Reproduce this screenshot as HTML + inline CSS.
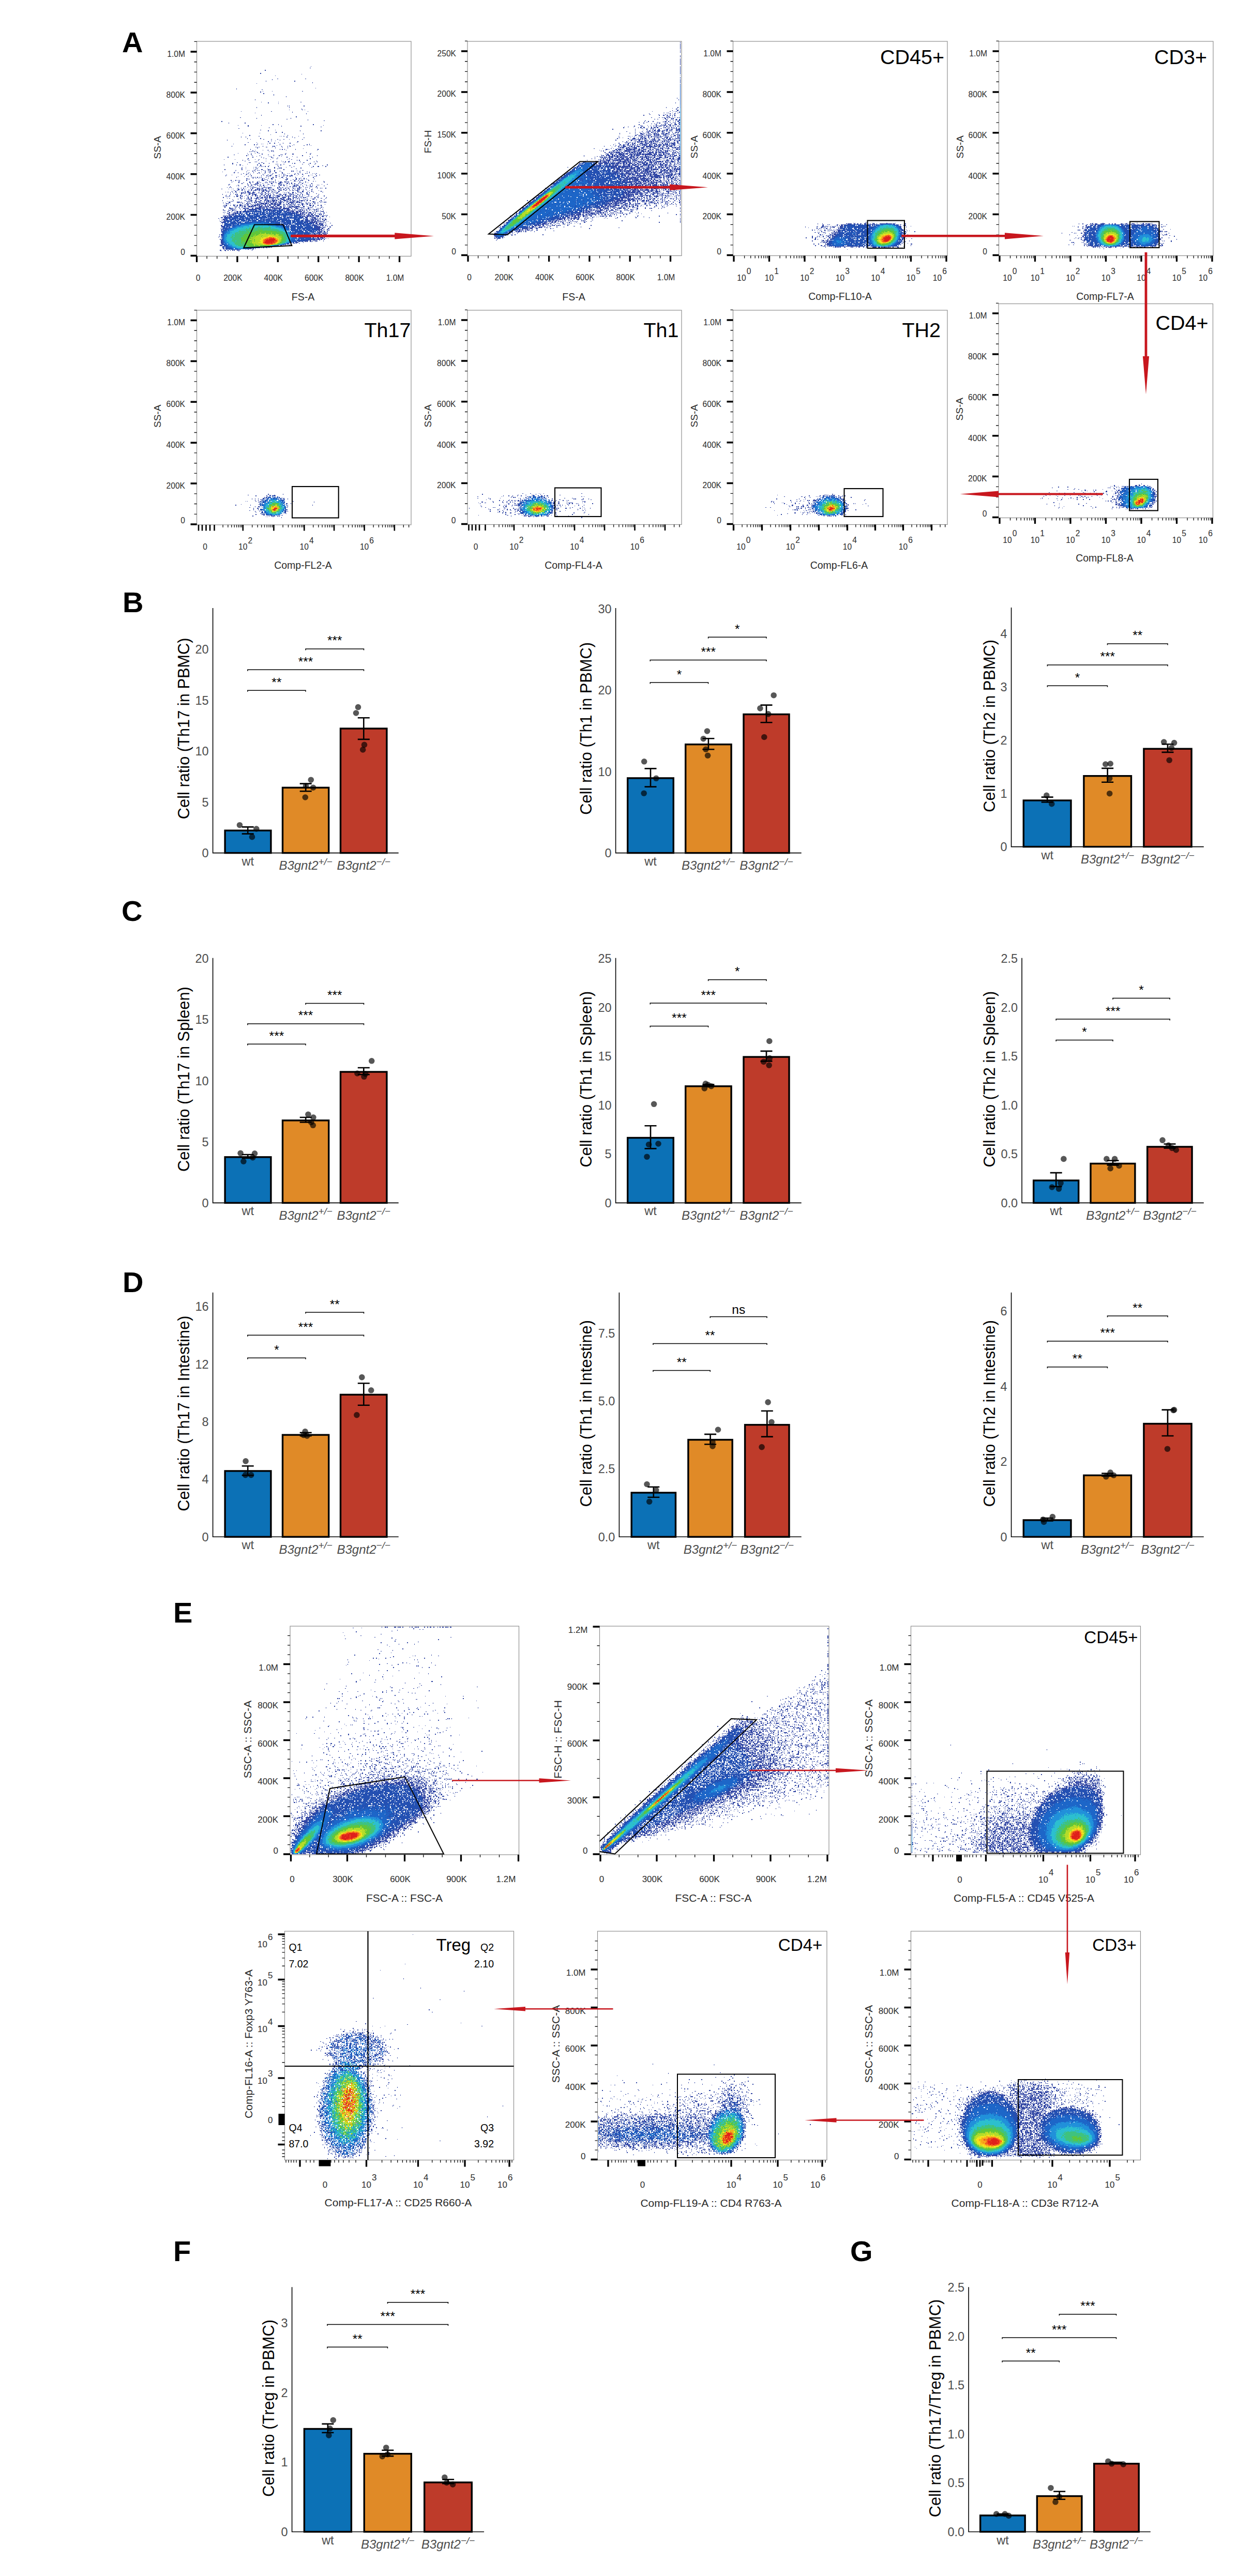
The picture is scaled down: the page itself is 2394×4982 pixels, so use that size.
<!DOCTYPE html>
<html lang="en"><head><meta charset="utf-8"><title>Figure</title>
<style>html,body{margin:0;padding:0;background:#fff}svg{display:block}</style></head>
<body>
<svg width="2394" height="4982" viewBox="0 0 2394 4982" font-family='"Liberation Sans", sans-serif' fill="#2b2b2b">
<rect width="2394" height="4982" fill="#fff"/>
<rect x="380.5" y="80" width="414.5" height="415.5" fill="#fff" stroke="#8c8c8c" stroke-width="1.15"/>
<g transform="translate(381.5 81.75) scale(1.5)" fill="none" stroke-width="1" shape-rendering="crispEdges"><path d="M146 31h1M145 33h1M87 36h1M81 40h1M134 41h1M100 43h1M103 47h1m35 0h1M96 48h1M88 50h1m36 0h1M148 52h1M76 53h1M152 59h1M50 60h1M83 61h1M84 63h1m11 0h1m38 0h1M81 64h1M85 66h1M98 67h1M98 68h1M114 70h1M74 74h1M82 77h1m21 0h1m28 0h1M91 78h1M104 79h1M116 82h1m1 0h1m18 0h1M76 84h1m41 0h1M134 86h1M118 87h1m16 0h1m2 0h1M56 89h1m38 0h1m46 0h1M122 90h1M74 91h1M140 92h1M82 94h1M127 96h1M55 97h1M76 98h1m43 0h1M115 99h1M142 100h1M163 101h1M31 102h1M40 104h1m20 0h1M97 106h1m6 0h1m44 0h1M52 107h1m12 0h1m16 0h1m79 0h1M65 108h1m42 0h1m24 0h1M159 109h1M92 110h1M53 111h1M81 113h1m18 0h1M91 114h1m40 0h1m26 0h1M101 116h1m7 0h1M58 117h1m21 0h1M112 118h1m23 0h1M94 119h1M67 120h1m48 0h1M79 121h1m26 0h1m1 0h1m2 0h1m18 0h1M56 122h1m5 0h1m52 0h1m6 0h1M125 123h1m11 0h1M64 124h1m16 0h1M68 125h1m16 0h1m9 0h1m7 0h1m7 0h1m6 0h1m16 0h1M38 126h1m67 0h1M95 127h1m4 0h1M91 128h1m37 0h1M65 129h1m10 0h1m27 0h1m23 0h1M93 130h1m5 0h1m10 0h1m8 0h1M46 131h1m30 0h1m4 0h1m1 0h1m5 0h1m15 0h1m37 0h1M61 132h1m11 0h1m2 0h1m29 0h1m17 0h1m16 0h1m2 0h1M102 133h1m15 0h1m3 0h1m14 0h1m8 0h1M44 134h1m39 0h1m12 0h1m1 0h1m8 0h1m7 0h1m2 0h1M75 135h1m3 0h1m8 0h2m6 0h1m12 0h1M77 136h1m22 0h1m15 0h1M136 137h1M68 138h1m37 0h1m2 0h1m2 0h1m13 0h1m28 0h1M74 139h1m9 0h1m5 0h2m22 0h1m39 0h1M71 140h1m23 0h1m1 0h1M67 141h1m1 0h1m3 0h2m1 0h1m15 0h1m5 0h1M77 142h1m62 0h1M52 143h1m11 0h1m9 0h1m4 0h1m34 0h1m31 0h1M69 144h1m13 0h1m29 0h1m8 0h2m21 0h1M47 145h1m17 0h1m25 0h1m6 0h1m8 0h3M63 146h1m6 0h1m9 0h1m17 0h1m6 0h1m29 0h1m18 0h1M76 147h1m15 0h1m1 0h1m13 0h1m13 0h1m21 0h1M39 148h1m31 0h1m10 0h1m12 0h1m19 0h1m12 0h1m19 0h1M85 149h1m10 0h2m5 0h1M65 150h1m22 0h1m13 0h1m15 0h1m26 0h1M34 151h1m13 0h1m15 0h1m9 0h1m4 0h1m14 0h1m21 0h1m4 0h1M58 152h1m7 0h1m11 0h1m49 0h1m2 0h1m9 0h1M61 153h1m26 0h1m9 0h1m9 0h1m9 0h1m34 0h1M74 154h1m1 0h1m20 0h1m4 0h1m7 0h1m2 0h1m3 0h2m13 0h1m17 0h1m3 0h1M51 155h1m14 0h3m13 0h2m28 0h1m23 0h2M45 156h1m33 0h1m5 0h1m6 0h1m29 0h1m2 0h1m19 0h1m6 0h1M45 157h1m18 0h1m36 0h1m1 0h1m7 0h1m23 0h1m7 0h1m7 0h1M34 158h1m15 0h1m3 0h2m21 0h1m3 0h1m25 0h1m59 0h1M58 159h1m22 0h2m9 0h1m10 0h1m14 0h2m24 0h1m16 0h1M80 160h1m1 0h1m1 0h1m2 0h1m3 0h1m12 0h1m19 0h1m24 0h1m5 0h2m8 0h1M62 161h1m9 0h1m1 0h3m1 0h1m20 0h1m14 0h1m6 0h1m25 0h1M57 162h1m41 0h1m5 0h1m1 0h2m24 0h1M56 163h1m5 0h1m9 0h1m2 0h3m12 0h1m12 0h1m23 0h1M35 164h1m21 0h1m16 0h1m7 0h2m7 0h1m1 0h1m17 0h1M49 165h1m14 0h1m1 0h1m6 0h1m3 0h1m1 0h1m5 0h1m5 0h1m7 0h1m28 0h1m6 0h2M71 166h1m2 0h1m12 0h1m5 0h2m4 0h1m6 0h1m14 0h1m1 0h1m8 0h1M32 167h1m15 0h1m14 0h1m18 0h1m8 0h1m16 0h1m19 0h1m2 0h1m9 0h1m2 0h1M47 168h1m4 0h1m13 0h1m5 0h1m6 0h1m7 0h1m5 0h1m6 0h2m7 0h1m22 0h1m11 0h1M59 169h1m5 0h1m11 0h1m2 0h1m5 0h1m10 0h1m11 0h1m6 0h1m1 0h1m7 0h1m2 0h1m9 0h1m1 0h1m6 0h1m1 0h1m2 0h1M56 170h1m6 0h1m4 0h1m15 0h1m11 0h1m14 0h1m13 0h1m4 0h1m4 0h1m16 0h1M37 171h1m6 0h1m17 0h1m3 0h1m18 0h1m4 0h2m2 0h2m9 0h1m2 0h1m4 0h1m7 0h1m6 0h1m7 0h1m9 0h1m1 0h1m8 0h1M36 172h1m32 0h1m12 0h1m6 0h1m3 0h2m5 0h3m8 0h1m3 0h2m2 0h1m1 0h2m20 0h1m9 0h1M52 173h1m7 0h1m4 0h1m25 0h1m13 0h1m4 0h1m8 0h1m15 0h1m15 0h1M50 174h1m19 0h1m1 0h1m1 0h1m2 0h1m2 0h1m1 0h1m5 0h1m8 0h1m3 0h1m6 0h2m4 0h1m11 0h1m22 0h1M71 175h2m2 0h1m2 0h1m1 0h1m3 0h1m6 0h1m3 0h1m1 0h1m8 0h1m3 0h1m3 0h1m12 0h1m5 0h1m3 0h1M63 176h2m1 0h1m16 0h2m1 0h1m8 0h2m18 0h2m10 0h1m3 0h1m5 0h1m2 0h1m9 0h1M66 177h1m16 0h1m3 0h1m1 0h1m6 0h1m3 0h1m12 0h3m7 0h1m2 0h2m6 0h1m7 0h1M43 178h1m5 0h1m2 0h1m1 0h1m8 0h1m19 0h3m4 0h1m9 0h1m13 0h1m5 0h1m4 0h1m4 0h1m2 0h1m1 0h1m7 0h1M46 179h1m7 0h1m24 0h1m12 0h1m2 0h1m8 0h1m7 0h1m11 0h3m1 0h1m2 0h1m17 0h1m2 0h1m9 0h1M44 180h1m8 0h1m13 0h1m3 0h1m5 0h1m10 0h1m4 0h1m3 0h2m1 0h1m5 0h3m3 0h2m1 0h1m1 0h1m14 0h1m6 0h1m23 0h1M53 181h1m5 0h1m7 0h2m7 0h2m1 0h1m1 0h1m5 0h1m1 0h2m4 0h1m5 0h1m3 0h3m1 0h1m11 0h1m9 0h2m1 0h1m1 0h1m5 0h1M57 182h1m6 0h1m3 0h1m6 0h1m1 0h2m5 0h1m10 0h2m7 0h2m1 0h1m7 0h2m1 0h1m2 0h1m3 0h1m4 0h1m4 0h1m11 0h1M40 183h2m22 0h1m7 0h5m3 0h1m9 0h3m12 0h1m2 0h1m1 0h1m3 0h1m3 0h1m3 0h1m10 0h1m4 0h1m21 0h1m6 0h1M40 184h1m11 0h1m12 0h1m3 0h2m3 0h1m2 0h1m3 0h1m3 0h1m10 0h1m7 0h1m1 0h3m2 0h1m12 0h2m1 0h3m10 0h1m4 0h1m2 0h1m5 0h1m1 0h1M50 185h1m1 0h2m25 0h1m4 0h2m2 0h1m1 0h1m3 0h1m1 0h1m1 0h2m11 0h2m2 0h1m7 0h1m1 0h1m4 0h1m1 0h1m2 0h1m4 0h1m1 0h1m20 0h1M42 186h1m18 0h1m4 0h1m1 0h1m1 0h1m1 0h1m7 0h1m1 0h1m3 0h1m18 0h1m13 0h1m3 0h1m1 0h1m1 0h1m3 0h1m4 0h1m8 0h1m1 0h1m5 0h1M38 187h1m2 0h1m1 0h1m20 0h1m5 0h1m1 0h4m9 0h3m1 0h1m1 0h5m7 0h1m1 0h2m2 0h2m4 0h1m6 0h1m8 0h1m1 0h1m5 0h1m1 0h1m10 0h1m1 0h1M52 188h1m3 0h1m2 0h1m8 0h1m1 0h2m5 0h1m1 0h1m3 0h2m3 0h1m2 0h1m1 0h1m9 0h1m3 0h1m5 0h1m3 0h1m5 0h1m5 0h1m1 0h2m11 0h1m9 0h1m3 0h1m1 0h1m4 0h1M31 189h1m8 0h1m3 0h1m1 0h1m4 0h1m1 0h1m8 0h1m13 0h2m1 0h1m1 0h2m1 0h1m3 0h1m2 0h1m3 0h2m1 0h1m5 0h2m2 0h1m1 0h2m3 0h1m2 0h1m5 0h3m2 0h2m3 0h1m4 0h1m8 0h1M52 190h2m3 0h2m1 0h1m5 0h1m2 0h2m3 0h2m1 0h1m1 0h2m2 0h1m1 0h1m1 0h2m4 0h1m3 0h2m6 0h1m1 0h1m3 0h1m2 0h1m3 0h1m3 0h1m6 0h1m1 0h1m4 0h1m3 0h1m6 0h1M47 191h1m3 0h1m5 0h1m8 0h1m2 0h1m2 0h4m3 0h2m1 0h1m1 0h2m1 0h3m2 0h1m2 0h1m3 0h2m6 0h2m4 0h2m4 0h1m2 0h3m1 0h4m6 0h1m7 0h1m11 0h1M44 192h1m4 0h1m11 0h1m2 0h2m6 0h1m10 0h3m3 0h1m1 0h2m3 0h1m7 0h2m23 0h1m5 0h2m5 0h1m4 0h1m11 0h1M36 193h1m2 0h1m5 0h1m2 0h2m4 0h1m3 0h1m5 0h5m2 0h2m1 0h1m4 0h2m6 0h1m7 0h7m2 0h1m5 0h1m5 0h1m1 0h1m3 0h2m5 0h4m2 0h2m7 0h1m4 0h1m11 0h1M42 194h1m7 0h1m5 0h2m1 0h1m1 0h2m2 0h1m1 0h1m3 0h3m4 0h1m3 0h2m3 0h1m3 0h1m10 0h2m8 0h1m1 0h1m2 0h1m4 0h2m2 0h1m6 0h1m6 0h2m2 0h1M46 195h1m9 0h2m2 0h1m5 0h6m4 0h1m3 0h2m2 0h1m3 0h2m3 0h1m3 0h1m3 0h2m3 0h1m11 0h3m1 0h1m4 0h1m6 0h1m6 0h1m11 0h1M32 196h1m9 0h1m6 0h1m1 0h1m4 0h1m9 0h2m3 0h1m1 0h3m6 0h2m3 0h1m3 0h1m2 0h1m3 0h1m6 0h1m1 0h1m3 0h1m1 0h2m4 0h1m1 0h1m1 0h1m5 0h1m2 0h1m2 0h1m5 0h1m1 0h1m12 0h1M37 197h1m12 0h1m4 0h1m6 0h2m1 0h1m4 0h2m2 0h2m5 0h2m2 0h2m2 0h1m1 0h1m1 0h2m2 0h3m2 0h2m2 0h2m1 0h1m3 0h1m4 0h1m1 0h1m3 0h3m5 0h1m5 0h1M36 198h1m4 0h1m8 0h3m2 0h1m1 0h1m12 0h1m3 0h2m1 0h1m2 0h1m3 0h1m1 0h1m2 0h2m1 0h3m6 0h1m1 0h3m3 0h1m3 0h1m1 0h1m1 0h1m1 0h2m2 0h1m3 0h2m2 0h1m3 0h1m7 0h1m11 0h1m7 0h1M37 199h1m1 0h1m7 0h1m2 0h2m5 0h1m2 0h1m3 0h2m2 0h1m11 0h2m4 0h3m1 0h1m1 0h2m3 0h2m4 0h4m4 0h1m2 0h1m2 0h2m1 0h1m2 0h1m2 0h1m1 0h1m4 0h1m7 0h1m4 0h2m5 0h1M33 200h1m21 0h1m9 0h1m3 0h1m6 0h3m1 0h1m1 0h3m1 0h2m1 0h2m1 0h4m1 0h1m1 0h1m1 0h1m1 0h1m5 0h5m3 0h1m5 0h1m1 0h1m1 0h1m2 0h1m1 0h1m1 0h1m1 0h2m1 0h1m11 0h1m3 0h1m10 0h1M38 201h1m2 0h1m13 0h1m1 0h1m2 0h1m2 0h1m1 0h1m3 0h1m3 0h1m1 0h4m2 0h3m4 0h1m3 0h2m1 0h4m1 0h1m1 0h2m2 0h3m2 0h1m4 0h4m3 0h1m2 0h1m1 0h2m4 0h1m6 0h1m4 0h1m4 0h1m7 0h2m4 0h1M52 202h1m3 0h1m8 0h1m1 0h1m1 0h1m5 0h2m1 0h1m1 0h1m3 0h1m2 0h4m6 0h1m2 0h1m3 0h1m2 0h5m2 0h1m1 0h2m1 0h2m2 0h1m4 0h1m2 0h1m4 0h1m1 0h1m9 0h3M45 203h1m17 0h1m3 0h1m11 0h1m7 0h1m4 0h1m1 0h4m1 0h1m1 0h1m1 0h3m3 0h1m1 0h2m1 0h4m1 0h1m1 0h1m4 0h1m12 0h1m1 0h2m10 0h1m9 0h1M32 204h1m13 0h1m14 0h1m4 0h1m1 0h3m3 0h2m5 0h2m3 0h2m1 0h4m1 0h1m1 0h4m1 0h2m3 0h2m3 0h4m1 0h1m2 0h1m2 0h2m1 0h1m2 0h1m2 0h1m1 0h3m1 0h1m3 0h1m3 0h1m13 0h1M38 205h1m4 0h1m1 0h1m17 0h1m1 0h3m1 0h1m5 0h1m1 0h3m4 0h1m1 0h1m2 0h1m1 0h2m1 0h2m1 0h3m4 0h1m2 0h1m1 0h1m2 0h1m2 0h3m2 0h1m2 0h1m1 0h1m2 0h3m3 0h1m3 0h1m9 0h3m6 0h1m2 0h1M40 206h2m9 0h4m1 0h1m7 0h1m5 0h1m2 0h1m1 0h2m2 0h3m4 0h1m2 0h1m1 0h1m1 0h2m2 0h2m1 0h3m1 0h5m1 0h1m4 0h1m3 0h6m2 0h3m1 0h2m1 0h1m5 0h1m8 0h1m1 0h1m6 0h1m1 0h1m2 0h1m1 0h1M33 207h1m2 0h1m4 0h2m9 0h1m2 0h1m1 0h2m1 0h1m3 0h4m2 0h1m2 0h1m1 0h1m6 0h2m1 0h1m1 0h3m5 0h2m2 0h2m5 0h2m2 0h2m4 0h4m1 0h2m2 0h1m2 0h1m1 0h2m1 0h1m5 0h1m2 0h3m1 0h1m3 0h1m3 0h2M37 208h1m1 0h1m18 0h1m4 0h2m1 0h1m1 0h1m5 0h1m2 0h1m1 0h1m1 0h5m1 0h3m1 0h1m2 0h4m1 0h3m1 0h1m1 0h3m6 0h1m2 0h1m3 0h1m1 0h1m2 0h1m7 0h3m3 0h2m3 0h1m2 0h1m2 0h1M46 209h1m1 0h1m5 0h3m4 0h1m2 0h2m3 0h1m2 0h1m2 0h5m1 0h1m3 0h3m2 0h1m1 0h2m1 0h3m1 0h3m1 0h5m2 0h3m1 0h3m1 0h3m2 0h1m1 0h1m3 0h3m2 0h3m1 0h1m2 0h2m1 0h1m19 0h1M34 210h1m1 0h2m4 0h1m3 0h2m3 0h1m2 0h3m1 0h1m1 0h1m1 0h1m1 0h2m4 0h2m1 0h3m1 0h1m1 0h2m1 0h2m3 0h1m2 0h1m1 0h3m3 0h3m1 0h4m5 0h1m4 0h1m2 0h1m1 0h1m3 0h1m4 0h1m1 0h1m2 0h1m8 0h3m2 0h1m5 0h1m3 0h1M33 211h1m1 0h1m1 0h1m9 0h1m1 0h1m1 0h1m2 0h5m1 0h2m4 0h5m1 0h4m1 0h1m1 0h1m1 0h2m1 0h1m2 0h5m2 0h1m3 0h1m1 0h1m2 0h3m1 0h1m2 0h1m1 0h2m3 0h2m3 0h3m2 0h1m1 0h1m6 0h2m2 0h1m4 0h2m1 0h2m9 0h1M35 212h1m12 0h1m1 0h1m3 0h1m3 0h1m1 0h2m3 0h3m1 0h4m1 0h1m4 0h5m1 0h1m1 0h1m1 0h1m1 0h1m2 0h5m1 0h3m3 0h3m2 0h1m4 0h1m1 0h6m1 0h7m4 0h2m4 0h1m5 0h1m3 0h1m7 0h1M35 213h1m5 0h1m7 0h1m3 0h1m3 0h1m4 0h1m5 0h1m6 0h3m1 0h3m1 0h1m1 0h2m1 0h2m2 0h6m1 0h1m2 0h2m1 0h1m1 0h2m2 0h2m1 0h1m2 0h4m3 0h2m1 0h1m4 0h4m7 0h1m1 0h3m11 0h2m1 0h1M41 214h3m1 0h1m2 0h1m5 0h1m4 0h3m1 0h3m4 0h2m2 0h8m1 0h1m1 0h2m2 0h2m1 0h1m1 0h1m1 0h12m2 0h8m3 0h1m4 0h4m4 0h1m1 0h1m1 0h1m3 0h2m10 0h1m1 0h1m1 0h1M43 215h2m1 0h1m2 0h1m5 0h1m2 0h1m2 0h2m2 0h11m1 0h5m1 0h3m1 0h8m4 0h1m1 0h1m3 0h2m1 0h6m1 0h5m2 0h1m3 0h1m1 0h1m2 0h2m1 0h1m1 0h1m3 0h2m1 0h1m1 0h2m1 0h2m3 0h1m7 0h1M33 216h1m6 0h1m1 0h1m1 0h2m1 0h1m13 0h2m1 0h1m1 0h11m2 0h3m2 0h18m1 0h1m1 0h6m1 0h1m2 0h4m3 0h1m1 0h2m2 0h1m1 0h1m1 0h2m1 0h1m2 0h1m1 0h1m3 0h1m5 0h2m1 0h1m1 0h1M34 217h2m4 0h2m3 0h2m2 0h1m6 0h1m3 0h3m1 0h3m1 0h2m1 0h2m1 0h5m2 0h2m1 0h5m1 0h6m1 0h16m1 0h10m2 0h1m3 0h3m2 0h1m1 0h1m2 0h2m2 0h1m1 0h1m11 0h1m3 0h1M39 218h1m4 0h1m3 0h1m1 0h3m1 0h3m1 0h25m1 0h3m1 0h3m1 0h2m1 0h6m1 0h7m2 0h5m1 0h1m1 0h1m1 0h4m2 0h3m1 0h4m2 0h1m4 0h1m5 0h1m1 0h1m2 0h2m1 0h1m2 0h1m1 0h2M33 219h1m1 0h1m5 0h1m2 0h1m3 0h1m2 0h2m1 0h3m1 0h9m4 0h1m1 0h4m1 0h11m1 0h1m2 0h1m1 0h1m1 0h2m1 0h4m1 0h4m1 0h1m1 0h2m1 0h6m1 0h2m1 0h1m1 0h4m1 0h1m2 0h1m1 0h1m1 0h3m2 0h3m4 0h1m14 0h1M38 220h1m1 0h2m4 0h7m1 0h3m1 0h1m3 0h3m1 0h3m1 0h2m1 0h1m2 0h3m1 0h2m1 0h4m1 0h20m1 0h1m1 0h15m1 0h3m2 0h2m1 0h3m2 0h1m2 0h4m2 0h1m2 0h1m5 0h1m3 0h2M34 221h1m3 0h3m3 0h3m1 0h2m1 0h8m1 0h5m1 0h16m1 0h5m1 0h2m1 0h4m1 0h4m1 0h5m1 0h4m1 0h3m1 0h12m1 0h1m1 0h2m1 0h1m3 0h2m1 0h1m3 0h3m3 0h1m2 0h1m1 0h1m1 0h1M40 222h2m1 0h1m1 0h3m1 0h1m3 0h2m1 0h2m1 0h2m2 0h5m2 0h1m1 0h7m1 0h9m1 0h6m1 0h26m1 0h2m1 0h7m1 0h1m1 0h2m3 0h3m1 0h3m2 0h1m5 0h1m1 0h1m2 0h1M34 223h1m2 0h1m2 0h3m1 0h3m1 0h4m1 0h4m1 0h3m1 0h1m1 0h10m1 0h8m2 0h2m1 0h6m1 0h6m1 0h2m1 0h13m1 0h13m1 0h2m5 0h2m1 0h3m2 0h3m1 0h2m1 0h1m2 0h1m4 0h1m1 0h1m1 0h1M33 224h1m1 0h2m1 0h2m1 0h4m1 0h16m2 0h8m1 0h8m2 0h6m1 0h9m1 0h1m1 0h4m2 0h1m1 0h5m1 0h1m1 0h2m1 0h2m1 0h10m1 0h4m2 0h3m1 0h5m2 0h5m3 0h3m3 0h1M34 225h5m1 0h5m2 0h15m2 0h1m1 0h30m1 0h1m1 0h3m1 0h3m1 0h7m1 0h3m1 0h3m2 0h5m2 0h5m2 0h5m1 0h2m4 0h1m4 0h2m1 0h1m2 0h2m1 0h1m1 0h1m3 0h1M30 226h3m1 0h19m1 0h6m1 0h5m1 0h10m2 0h11m1 0h1m1 0h4m1 0h11m2 0h3m1 0h22m2 0h3m5 0h6m1 0h1m3 0h1M27 227h1m7 0h8m1 0h12m1 0h20m1 0h6m1 0h2m1 0h1m1 0h16m1 0h11m1 0h9m1 0h6m1 0h3m1 0h2m3 0h1m2 0h1m1 0h3m1 0h1m2 0h2m1 0h1m1 0h1m1 0h1M33 228h6m2 0h9m1 0h1m1 0h8m1 0h6m1 0h3m1 0h1m1 0h4m2 0h22m1 0h12m1 0h2m5 0h8m4 0h1m2 0h4m3 0h4m1 0h3m1 0h1m2 0h1m2 0h1m2 0h2M28 229h1m2 0h5m1 0h3m2 0h5m1 0h16m1 0h4m1 0h13m1 0h3m1 0h6m1 0h1m2 0h22m1 0h2m1 0h8m2 0h9m1 0h3m1 0h3m1 0h1m1 0h1m2 0h1m3 0h3m1 0h2M34 230h11m1 0h8m2 0h6m1 0h1m1 0h11m2 0h24m1 0h4m1 0h13m1 0h4m1 0h5m1 0h4m2 0h6m1 0h4m1 0h2m1 0h3m1 0h1m4 0h1M29 231h2m2 0h11m1 0h4m1 0h3m1 0h3m1 0h2m1 0h1m1 0h4m1 0h1m1 0h17m1 0h16m2 0h7m1 0h7m1 0h24m1 0h2m1 0h5m1 0h7m3 0h1m1 0h1M31 232h6m1 0h3m1 0h8m1 0h6m1 0h1m2 0h32m1 0h13m1 0h13m1 0h5m1 0h8m1 0h6m1 0h8m1 0h2m1 0h1m1 0h1m1 0h1m1 0h1m1 0h1M30 233h1m1 0h1m1 0h5m3 0h9m1 0h57m2 0h3m1 0h10m1 0h14m1 0h10m1 0h3m1 0h3m1 0h1m1 0h1m2 0h1m5 0h1M32 234h1m2 0h19m1 0h52m1 0h13m1 0h1m2 0h13m1 0h9m1 0h1m2 0h3m2 0h5M34 235h10m1 0h3m1 0h1m1 0h3m1 0h50m1 0h1m1 0h3m1 0h5m1 0h4m1 0h2m1 0h8m1 0h9m1 0h1m2 0h4m2 0h4m1 0h3m2 0h1m1 0h1M30 236h2m2 0h10m1 0h68m1 0h2m1 0h2m1 0h7m1 0h3m1 0h3m1 0h10m1 0h8m1 0h1m1 0h2m1 0h2m2 0h1m7 0h1M31 237h5m1 0h3m1 0h70m1 0h7m1 0h8m1 0h10m1 0h7m1 0h1m1 0h6m1 0h1m2 0h2m2 0h1m2 0h1M31 238h5m1 0h5m3 0h73m1 0h17m2 0h11m1 0h9m3 0h1m1 0h1m5 0h2M33 239h6m1 0h78m2 0h7m1 0h21m1 0h15M30 240h1m1 0h87m1 0h7m1 0h6m1 0h23m2 0h2m6 0h2M30 241h4m1 0h83m1 0h14m1 0h5m1 0h6m1 0h14m1 0h2m3 0h1M31 242h1m1 0h86m1 0h10m1 0h4m1 0h22m1 0h2m6 0h1m1 0h1M30 243h2m1 0h5m1 0h76m1 0h1m1 0h1m1 0h17m1 0h3m1 0h6m1 0h2m1 0h2m2 0h2m2 0h4M31 244h85m1 0h1m1 0h2m1 0h2m1 0h12m2 0h4m1 0h9m1 0h2m1 0h4m2 0h2m2 0h1M31 245h114m1 0h4m2 0h1m2 0h6m2 0h1m1 0h1M32 246h96m1 0h18m1 0h4m1 0h6m2 0h3m1 0h1m1 0h1M31 247h96m1 0h8m1 0h8m1 0h3m1 0h3m1 0h1m1 0h2m1 0h2m2 0h1m1 0h1M28 248h1m1 0h117m1 0h6m1 0h6m1 0h5M31 249h97m1 0h3m1 0h12m2 0h15m2 0h1M28 250h1m2 0h132m1 0h1m1 0h1M27 251h1m2 0h1m1 0h104m1 0h10m1 0h7m1 0h5m1 0h1m5 0h1M31 252h97m2 0h17m1 0h3m1 0h1m1 0h3m1 0h4m1 0h1M32 253h106m1 0h15m1 0h4m1 0h3m2 0h1m2 0h1M29 254h1m1 0h95m1 0h1m1 0h3m1 0h19m1 0h5m1 0h2m2 0h1M30 255h97m1 0h19m2 0h4m4 0h1M30 256h113m2 0h2m1 0h1m1 0h1m1 0h3m7 0h1M30 257h98m2 0h3m1 0h2m3 0h1m1 0h1m3 0h1m1 0h1m4 0h1M30 258h92m1 0h2m1 0h4m6 0h1M30 259h4m1 0h84m1 0h1m2 0h3m1 0h1m3 0h1M31 260h7m1 0h75m1 0h3M29 261h1m1 0h81m1 0h1m4 0h2M29 262h3m2 0h71m2 0h2M32 263h65m1 0h1m1 0h1M32 264h3m1 0h48m1 0h1m1 0h3m1 0h3m1 0h1M32 265h2m1 0h46m1 0h1m1 0h2m3 0h1M33 266h2m1 0h11m1 0h22m1 0h2m1 0h1M34 267h1m2 0h2m1 0h2m1 0h13m6 0h1m2 0h1m5 0h1M29 268h2m4 0h2m2 0h1m2 0h1m2 0h1m1 0h1m3 0h1m1 0h1m16 0h1M30 269h1m5 0h1m16 0h1" stroke="#3247a4"/><path d="M86 214h1m3 0h1m1 0h1M75 215h1m1 0h5m2 0h2m1 0h2m1 0h1m1 0h3m4 0h1M70 216h3m2 0h1m4 0h2m2 0h3m1 0h3m3 0h1m1 0h6m1 0h1m1 0h1m1 0h4M64 217h1m1 0h1m2 0h1m1 0h2m1 0h5m2 0h2m1 0h5m2 0h3m3 0h5m1 0h3m1 0h3m2 0h1m1 0h3M59 218h4m1 0h1m1 0h4m1 0h12m1 0h3m1 0h3m1 0h2m1 0h2m1 0h2m2 0h2m1 0h3m3 0h3m1 0h1m1 0h1M56 219h1m1 0h1m1 0h2m2 0h3m4 0h1m1 0h2m1 0h1m1 0h1m1 0h7m1 0h1m1 0h1m2 0h1m1 0h1m1 0h2m1 0h3m2 0h4m1 0h1m1 0h2m2 0h1m3 0h1m1 0h1M52 220h1m1 0h2m2 0h1m3 0h3m1 0h1m1 0h1m1 0h2m1 0h1m2 0h3m1 0h2m1 0h4m1 0h20m1 0h1m1 0h10m3 0h2M49 221h1m1 0h4m1 0h3m1 0h5m1 0h16m1 0h5m1 0h2m1 0h4m1 0h4m1 0h2m1 0h2m1 0h4m1 0h3m1 0h8m1 0h3M47 222h1m5 0h2m1 0h2m1 0h2m2 0h5m2 0h1m1 0h7m1 0h9m1 0h6m1 0h24m1 0h1m1 0h2m1 0h1m2 0h1M44 223h2m2 0h2m1 0h1m1 0h4m1 0h3m1 0h1m1 0h10m1 0h8m2 0h2m1 0h6m1 0h6m1 0h2m1 0h13m1 0h5m1 0h7M42 224h1m1 0h1m1 0h1m1 0h1m1 0h4m1 0h7m2 0h8m1 0h8m2 0h6m1 0h9m1 0h1m1 0h4m2 0h1m1 0h5m1 0h1m1 0h2m1 0h2m1 0h2m1 0h5M40 225h1m6 0h7m1 0h7m2 0h1m1 0h30m1 0h1m1 0h3m1 0h3m1 0h7m2 0h2m1 0h3m2 0h5m4 0h1M41 226h12m1 0h6m1 0h5m1 0h10m2 0h11m1 0h1m1 0h4m1 0h11m2 0h3m1 0h19m1 0h2M37 227h3m1 0h2m1 0h12m1 0h20m1 0h6m1 0h2m1 0h1m1 0h16m1 0h11m1 0h9m1 0h5m2 0h2M36 228h2m3 0h2m1 0h6m1 0h1m1 0h8m1 0h6m1 0h3m1 0h1m1 0h4m2 0h22m1 0h12m1 0h2m5 0h8m4 0h1m2 0h1M37 229h1m1 0h1m2 0h5m1 0h16m1 0h4m1 0h13m1 0h3m1 0h6m1 0h1m2 0h22m1 0h2m1 0h8m2 0h1m2 0h3m2 0h1M36 230h1m1 0h7m1 0h8m2 0h6m1 0h1m1 0h11m2 0h24m1 0h4m1 0h13m1 0h4m1 0h5m1 0h2m1 0h1m3 0h3m1 0h1M34 231h1m1 0h8m1 0h4m1 0h3m1 0h3m1 0h2m1 0h1m1 0h4m1 0h1m1 0h17m1 0h16m2 0h7m1 0h7m1 0h10m1 0h8m4 0h1M34 232h3m1 0h3m1 0h8m1 0h6m1 0h1m2 0h32m1 0h13m1 0h13m1 0h5m1 0h1m1 0h6m1 0h3m2 0h1m1 0h1M35 233h4m3 0h9m1 0h57m2 0h3m1 0h10m1 0h10m1 0h2m2 0h3m1 0h1m1 0h1M35 234h19m1 0h52m1 0h13m1 0h1m2 0h10m1 0h2m1 0h9M34 235h1m1 0h8m1 0h3m1 0h1m1 0h3m1 0h50m1 0h1m1 0h3m1 0h5m1 0h4m1 0h2m1 0h8m1 0h9m1 0h1m2 0h2M34 236h10m1 0h68m1 0h2m1 0h2m1 0h7m1 0h3m1 0h3m1 0h9m3 0h1m1 0h1m2 0h1M34 237h2m1 0h3m1 0h70m1 0h7m1 0h8m1 0h10m1 0h7m1 0h1m1 0h2M34 238h2m1 0h5m3 0h73m1 0h17m2 0h11m1 0h2M33 239h6m1 0h78m2 0h7m1 0h21m1 0h1M33 240h86m1 0h7m1 0h6m1 0h14m1 0h3m1 0h1M33 241h1m1 0h83m1 0h14m1 0h5m1 0h6m1 0h6m1 0h1M33 242h86m1 0h10m1 0h4m1 0h18M33 243h5m1 0h76m1 0h1m1 0h1m1 0h17m1 0h3m1 0h6m1 0h2m1 0h2M32 244h84m1 0h1m1 0h2m1 0h2m1 0h12m2 0h4m1 0h9M32 245h113m1 0h4m2 0h1m2 0h1M32 246h96m1 0h18m1 0h4m1 0h3M32 247h95m1 0h8m1 0h8m1 0h3m1 0h3m1 0h1M32 248h115m1 0h6m1 0h2M32 249h96m1 0h3m1 0h12m2 0h8M32 250h122m1 0h1m1 0h1M32 251h104m1 0h10m1 0h7M32 252h96m2 0h17m1 0h3m1 0h1M32 253h106m1 0h14M32 254h94m1 0h1m1 0h3m1 0h14m1 0h3M32 255h95m1 0h16M32 256h106M32 257h96m2 0h1M32 258h90m1 0h2M33 259h1m1 0h84M33 260h5m1 0h75M33 261h76M34 262h69M34 263h62M33 264h1m2 0h48m1 0h1m1 0h1M35 265h44M37 266h10m1 0h19M38 267h1m1 0h2m1 0h13" stroke="#2450b2"/><path d="M69 230h1m20 0h1M70 231h1m4 0h1m1 0h1m1 0h2m2 0h1m2 0h1m2 0h1M63 232h1m1 0h1m5 0h6m1 0h2m2 0h4m1 0h2m3 0h1m3 0h1m2 0h1M61 233h1m2 0h31m1 0h3M49 234h1m5 0h1m1 0h43m6 0h1M53 235h1m1 0h50m3 0h1m1 0h1m1 0h1M48 236h60m2 0h1M46 237h1m1 0h62M46 238h69M42 239h74M41 240h78M38 241h80m3 0h1m20 0h1M38 242h80M37 243h1m1 0h76m1 0h1m1 0h1m1 0h2M35 244h81m1 0h1m1 0h2M35 245h86m2 0h1M34 246h89M34 247h90m2 0h1m1 0h1m2 0h1M34 248h92m1 0h1m5 0h1M33 249h93M33 250h93m4 0h1M33 251h94M32 252h95m4 0h1M33 253h95m1 0h1M33 254h93m1 0h1m1 0h1M33 255h94M33 256h90m3 0h1M34 257h91M34 258h86M35 259h81M35 260h3m1 0h74M36 261h72M38 262h64M39 263h55M39 264h1m1 0h43M43 265h32M45 266h2m1 0h16" stroke="#1d66c8"/><path d="M69 234h14m1 0h2m2 0h1M61 235h35M56 236h45M52 237h1m2 0h48m2 0h1M50 238h58M48 239h62M45 240h67M43 241h71M41 242h74M41 243h74m1 0h1M39 244h77m1 0h1M38 245h81M37 246h82M36 247h84M35 248h86M35 249h86M35 250h86M34 251h87M35 252h87M34 253h87M34 254h87M35 255h85M35 256h85M36 257h82M36 258h82M37 259h78M39 260h72M40 261h65M40 262h59M43 263h48M45 264h36M46 265h25M52 266h7" stroke="#2190da"/><path d="M73 235h1m3 0h1m3 0h1M66 236h7m2 0h16M58 237h1m1 0h5m2 0h29M56 238h1m2 0h42M52 239h53M51 240h57M48 241h62M47 242h64M44 243h70M42 244h72M42 245h1m1 0h71M42 246h75M41 247h76M38 248h80M38 249h80M38 250h80M38 251h81M37 252h81M36 253h1m1 0h80M37 254h82M38 255h80M38 256h80M38 257h2m1 0h76M40 258h75M40 259h73M42 260h67M42 261h1m1 0h60M45 262h52M46 263h42M50 264h27M51 265h1m1 0h1m1 0h11" stroke="#2cbfcf"/><path d="M73 238h1m4 0h3m2 0h1m8 0h2M67 239h2m2 0h3m2 0h7m3 0h9M63 240h1m2 0h3m1 0h25m1 0h1m1 0h1M57 241h1m1 0h1m1 0h42M54 242h1m5 0h1m1 0h43M54 243h2m1 0h4m1 0h45M53 244h57M50 245h3m1 0h59M48 246h4m1 0h60M48 247h2m1 0h63M45 248h2m1 0h66M44 249h1m1 0h69M44 250h2m2 0h66m1 0h1M43 251h72m1 0h1M43 252h1m1 0h1m1 0h68M45 253h71M45 254h70M45 255h69M44 256h5m1 0h65M46 257h68M47 258h1m1 0h64M48 259h62M48 260h58M50 261h52M50 262h1m1 0h43M55 263h2m1 0h28M59 264h5m1 0h8" stroke="#3fc27e"/><path d="M78 241h1M72 242h1m6 0h1m1 0h3m4 0h1M64 243h1m4 0h1m2 0h2m2 0h8m1 0h12M65 244h1m6 0h1m1 0h4m1 0h23m2 0h1M63 245h1m1 0h1m1 0h3m1 0h33m1 0h1M58 246h1m3 0h1m3 0h2m1 0h37M60 247h1m1 0h45M60 248h50M55 249h2m1 0h5m1 0h46M59 250h52M57 251h2m1 0h51M56 252h56M54 253h1m1 0h55M57 254h55M56 255h57M57 256h53M56 257h1m1 0h51M56 258h2m3 0h48M57 259h1m1 0h2m1 0h46M58 260h1m2 0h1m1 0h42M60 261h2m1 0h36M64 262h29M67 263h4m1 0h1m1 0h5" stroke="#5fc63a"/><path d="M81 246h1m5 0h1m7 0h1M83 247h6m2 0h1m9 0h1M74 248h1m4 0h20m2 0h4M74 249h1m2 0h3m1 0h2m1 0h20M72 250h2m1 0h7m1 0h23m1 0h1M68 251h1m3 0h1m1 0h33m1 0h1M69 252h39M70 253h1m1 0h37M67 254h3m1 0h2m1 0h34M69 255h38M71 256h2m1 0h34M68 257h39M68 258h1m1 0h36M70 259h34M72 260h2m1 0h28M73 261h2m1 0h4m1 0h16M73 262h1m5 0h2" stroke="#b4dc2a"/><path d="M93 249h1m2 0h1M91 250h3m1 0h1m2 0h1M89 251h12m1 0h1M82 252h1m2 0h18M82 253h23M82 254h23M80 255h25M81 256h24M82 257h23M79 258h1m1 0h23M82 259h21M84 260h15M88 261h7" stroke="#f3e41d"/><path d="M92 251h4M89 252h12M87 253h16M85 254h19M84 255h20M84 256h20M84 257h20M84 258h19M84 259h17M86 260h12M91 261h1" stroke="#f8a71b"/><path d="M92 252h4m1 0h2M89 253h12M87 254h14M85 255h18M86 256h17M85 257h17M85 258h16M85 259h15M88 260h6m1 0h2" stroke="#ef521e"/><path d="M94 253h5M90 254h1m1 0h8M88 255h13M88 256h11M87 257h9m1 0h2M87 258h7m1 0h2m1 0h1M87 259h1m1 0h3m1 0h4" stroke="#df1f1b"/></g>
<rect x="904" y="80" width="414" height="414.5" fill="#fff" stroke="#8c8c8c" stroke-width="1.15"/>
<g transform="translate(905 81.75) scale(1.5)" fill="none" stroke-width="1" shape-rendering="crispEdges"><path d="M273 0h1M273 2h1M273 3h1M273 4h1M273 5h1M273 6h1M273 7h1M273 8h1M273 10h1M273 12h1M273 13h1M273 17h1M273 18h1M273 19h1M273 21h1M273 22h1M273 23h1M273 24h1M273 25h1M273 26h1M273 27h1M273 28h1M273 29h1M273 31h1M273 32h1M273 33h1M273 34h1M273 35h1M273 36h1M273 37h1M273 38h1M273 39h1M273 40h1M273 41h1M273 43h1M273 45h1M273 46h1M273 48h1M273 49h1M273 50h1M273 51h1M273 52h1M273 54h1M273 55h1M273 56h1M273 57h1M273 58h1M273 59h1M273 60h1M273 61h1M273 62h1M273 63h1M273 64h1M273 65h1M273 66h1M273 67h1M273 68h1M273 69h1M273 70h1M273 71h1M269 72h1m3 0h1M273 73h1M271 74h1m1 0h1M273 75h1M273 76h1M273 77h1M267 78h1m5 0h1M273 79h1M273 80h1M273 81h1M273 82h1M273 83h1M255 84h1m14 0h1m2 0h1M263 85h1m5 0h1m3 0h1M268 86h1m4 0h1M270 87h1m2 0h1M263 88h1m5 0h2m2 0h1M237 89h1m22 0h1m4 0h1m1 0h2m4 0h1M272 90h2M252 91h1m3 0h1m1 0h1m4 0h1m3 0h1m2 0h1m2 0h1M233 92h1m26 0h1m5 0h1m6 0h1M234 93h1m10 0h1m8 0h1m10 0h1m7 0h1M226 94h1m19 0h1m4 0h2m3 0h2m2 0h1m2 0h1m2 0h1m6 0h1M266 95h1m6 0h1M256 96h1m1 0h2m3 0h1m9 0h1M236 97h1m9 0h1m3 0h1m1 0h2m2 0h1m2 0h2m5 0h1m2 0h2m1 0h2M253 98h2m2 0h1m4 0h1m1 0h1m8 0h1M240 99h1m3 0h1m6 0h1m2 0h1m6 0h4m3 0h2m2 0h2M255 100h2m10 0h2m3 0h2M228 101h1m31 0h1m3 0h1m5 0h4M227 102h1m4 0h1m5 0h1m12 0h1m1 0h3m2 0h1m8 0h1m2 0h2m1 0h1M220 103h1m9 0h1m13 0h1m6 0h1m8 0h1m3 0h1m7 0h2M226 104h1m16 0h1m2 0h2m5 0h2m1 0h1m9 0h2m3 0h3M236 105h1m3 0h1m2 0h1m17 0h2m4 0h1m3 0h1m1 0h1M220 106h1m21 0h1m6 0h1m1 0h1m1 0h2m3 0h1m1 0h1m5 0h3m3 0h2M222 107h1m8 0h1m3 0h1m3 0h1m2 0h1m1 0h1m3 0h1m1 0h1m1 0h3m4 0h3m1 0h3m5 0h1m1 0h1M214 108h1m8 0h2m14 0h1m2 0h1m3 0h1m1 0h1m3 0h1m2 0h2m3 0h1m6 0h1m2 0h1m2 0h1M201 109h1m4 0h1m6 0h1m8 0h1m3 0h1m5 0h1m2 0h2m2 0h1m2 0h1m1 0h1m10 0h1m2 0h1m3 0h1m1 0h2m5 0h3M200 110h1m18 0h1m2 0h2m2 0h2m8 0h1m2 0h3m1 0h2m7 0h1m1 0h1m2 0h1m1 0h1m2 0h1m2 0h1m2 0h1m4 0h1M224 111h1m4 0h1m1 0h1m3 0h2m1 0h1m9 0h2m8 0h1m5 0h1m1 0h1m1 0h1m2 0h3M186 112h1m28 0h1m14 0h1m4 0h1m2 0h1m2 0h1m3 0h2m8 0h3m1 0h1m1 0h3m4 0h1m1 0h4M225 113h1m4 0h1m6 0h1m2 0h2m2 0h3m5 0h3m1 0h2m3 0h1m6 0h3m1 0h2M215 114h1m15 0h1m1 0h2m2 0h1m1 0h3m2 0h4m2 0h1m1 0h1m2 0h2m2 0h2m1 0h1m5 0h1m1 0h1m1 0h2M204 115h1m19 0h1m5 0h1m1 0h1m1 0h1m3 0h1m3 0h1m1 0h3m2 0h3m3 0h1m1 0h1m14 0h2M215 116h1m5 0h1m3 0h1m3 0h1m1 0h2m3 0h2m1 0h1m1 0h1m2 0h1m5 0h1m1 0h1m5 0h2m3 0h1m3 0h2m1 0h2m1 0h1M195 117h1m12 0h1m13 0h2m3 0h1m3 0h1m1 0h1m4 0h1m1 0h3m6 0h1m1 0h1m3 0h2m2 0h1m6 0h2m5 0h1M195 118h1m19 0h1m6 0h3m1 0h1m2 0h1m2 0h1m1 0h1m4 0h2m1 0h1m1 0h2m3 0h4m1 0h3m1 0h1m5 0h1m5 0h1m2 0h1M217 119h2m5 0h2m4 0h1m2 0h1m1 0h2m2 0h2m1 0h1m1 0h3m5 0h1m1 0h1m4 0h1m2 0h1m2 0h1m2 0h1m1 0h1m1 0h2M215 120h2m3 0h1m1 0h2m1 0h1m1 0h1m1 0h1m1 0h2m1 0h1m5 0h1m1 0h1m1 0h2m1 0h1m4 0h1m1 0h2m1 0h1m3 0h1m3 0h3m2 0h1m1 0h2M194 121h1m11 0h1m1 0h1m2 0h1m2 0h1m5 0h1m3 0h1m2 0h3m2 0h2m1 0h2m1 0h2m1 0h1m1 0h1m1 0h4m1 0h2m6 0h1m5 0h2m4 0h1m2 0h1M222 122h4m1 0h1m4 0h1m3 0h1m3 0h1m1 0h1m1 0h1m3 0h1m4 0h5m3 0h2m4 0h1m2 0h1m1 0h2M194 123h2m3 0h1m9 0h1m3 0h2m2 0h1m1 0h1m3 0h1m2 0h4m2 0h1m1 0h1m4 0h1m4 0h4m1 0h1m3 0h1m2 0h2m1 0h2m9 0h2m1 0h1M192 124h1m13 0h1m5 0h4m3 0h1m2 0h1m1 0h2m1 0h3m3 0h1m3 0h1m1 0h2m2 0h1m1 0h1m4 0h1m1 0h1m2 0h2m2 0h2m2 0h1m1 0h1m1 0h2m1 0h1m1 0h2M208 125h1m2 0h4m1 0h7m1 0h2m1 0h1m1 0h1m3 0h1m2 0h1m1 0h3m4 0h3m3 0h1m2 0h1m2 0h4m1 0h3m2 0h1m5 0h1M190 126h1m19 0h2m3 0h1m4 0h2m5 0h2m1 0h1m4 0h1m1 0h2m1 0h2m1 0h1m1 0h2m5 0h2m1 0h1m1 0h2m1 0h2m3 0h2m2 0h1m1 0h3M206 127h1m2 0h2m2 0h2m1 0h2m1 0h3m1 0h2m2 0h3m1 0h2m2 0h2m1 0h1m1 0h2m1 0h3m2 0h1m1 0h1m2 0h4m4 0h1m1 0h1m2 0h1m1 0h1m1 0h1m1 0h2M199 128h1m4 0h1m10 0h1m2 0h1m1 0h1m1 0h3m1 0h1m1 0h1m1 0h1m2 0h4m1 0h2m1 0h2m1 0h1m5 0h1m1 0h2m2 0h1m1 0h2m5 0h1m3 0h2m2 0h1M202 129h1m1 0h2m2 0h2m1 0h1m3 0h1m2 0h3m2 0h1m1 0h1m2 0h2m3 0h2m1 0h1m6 0h1m2 0h1m1 0h2m1 0h1m3 0h1m1 0h2m2 0h1m3 0h2m2 0h2m2 0h1M194 130h1m8 0h1m2 0h2m3 0h2m1 0h2m6 0h3m3 0h5m2 0h2m1 0h4m1 0h1m6 0h1m3 0h1m1 0h1m2 0h1m1 0h6m3 0h1m2 0h1M189 131h1m5 0h1m7 0h1m1 0h2m2 0h1m1 0h1m2 0h1m5 0h3m1 0h4m1 0h1m4 0h2m3 0h1m1 0h2m3 0h3m1 0h1m1 0h1m1 0h1m1 0h2m1 0h2m2 0h2m1 0h1m4 0h3M187 132h1m7 0h2m3 0h2m1 0h1m1 0h2m2 0h1m1 0h3m1 0h1m2 0h1m2 0h1m2 0h1m1 0h5m2 0h2m1 0h2m2 0h1m1 0h2m1 0h2m1 0h1m2 0h2m1 0h4m1 0h1m2 0h1m1 0h3m6 0h1M183 133h1m6 0h1m4 0h1m1 0h1m1 0h3m3 0h2m1 0h1m2 0h1m2 0h2m1 0h1m4 0h1m1 0h2m1 0h3m3 0h3m3 0h2m2 0h2m1 0h3m2 0h3m1 0h1m1 0h2m1 0h1m1 0h2m1 0h2m2 0h1m1 0h1m1 0h1M175 134h1m13 0h1m3 0h2m2 0h1m1 0h5m4 0h1m1 0h2m2 0h1m2 0h4m5 0h2m1 0h9m1 0h5m1 0h3m2 0h2m3 0h3m1 0h4m2 0h1m6 0h2M185 135h1m10 0h1m1 0h1m1 0h2m3 0h3m2 0h5m1 0h1m2 0h2m1 0h1m1 0h1m1 0h1m2 0h4m1 0h6m1 0h1m2 0h3m5 0h1m2 0h1m1 0h1m4 0h2m2 0h3m4 0h1M194 136h1m1 0h1m1 0h3m2 0h2m1 0h1m1 0h1m2 0h1m1 0h5m5 0h4m2 0h1m1 0h1m2 0h2m2 0h1m1 0h1m4 0h1m2 0h1m1 0h2m1 0h1m1 0h1m1 0h2m4 0h2m1 0h2m1 0h5M162 137h1m10 0h1m10 0h1m2 0h1m4 0h1m10 0h3m1 0h2m1 0h1m1 0h1m1 0h4m2 0h2m1 0h3m3 0h1m1 0h3m1 0h1m4 0h3m1 0h1m2 0h4m3 0h1m1 0h4m8 0h2m3 0h1M177 138h3m1 0h1m8 0h2m1 0h5m1 0h1m1 0h1m2 0h7m1 0h4m1 0h1m1 0h3m1 0h1m1 0h5m4 0h2m1 0h2m3 0h1m1 0h2m1 0h1m2 0h2m5 0h1m3 0h1m1 0h1m4 0h3m1 0h2M169 139h1m7 0h1m10 0h1m1 0h3m1 0h3m2 0h1m2 0h3m1 0h1m1 0h5m1 0h2m1 0h1m1 0h7m3 0h1m1 0h4m1 0h1m2 0h1m2 0h5m1 0h1m3 0h3m1 0h1m1 0h2m3 0h1m2 0h1m4 0h1m1 0h1M171 140h1m2 0h1m11 0h3m3 0h1m2 0h1m1 0h1m3 0h8m4 0h2m1 0h1m1 0h3m2 0h4m1 0h1m3 0h1m2 0h1m1 0h1m1 0h1m2 0h1m2 0h1m1 0h3m1 0h1m2 0h1m1 0h2m1 0h1m1 0h1m2 0h2m1 0h1m5 0h1M182 141h1m1 0h1m2 0h1m2 0h2m1 0h2m1 0h1m3 0h1m1 0h1m1 0h1m1 0h1m1 0h1m1 0h7m2 0h1m1 0h6m1 0h1m1 0h5m2 0h2m2 0h2m1 0h3m2 0h3m1 0h5m3 0h1m6 0h2m2 0h2M176 142h1m4 0h2m1 0h1m1 0h1m1 0h1m1 0h6m1 0h3m1 0h1m3 0h1m1 0h2m1 0h3m1 0h2m1 0h2m1 0h4m2 0h1m2 0h1m1 0h1m1 0h6m2 0h3m1 0h4m1 0h3m1 0h2m1 0h1m5 0h2m1 0h2m2 0h1m2 0h1M178 143h1m4 0h2m2 0h1m3 0h2m1 0h4m1 0h8m2 0h1m2 0h2m1 0h1m2 0h1m1 0h3m2 0h1m1 0h1m3 0h5m2 0h2m1 0h2m4 0h1m1 0h1m1 0h2m2 0h2m1 0h2m3 0h1m2 0h1m1 0h1m2 0h3M177 144h1m1 0h2m2 0h4m3 0h1m3 0h7m2 0h3m2 0h4m1 0h10m1 0h3m1 0h9m2 0h4m2 0h2m1 0h1m2 0h2m1 0h1m1 0h1m1 0h2m3 0h3m5 0h1m1 0h1M171 145h1m6 0h4m3 0h2m1 0h1m1 0h2m2 0h5m1 0h3m2 0h1m2 0h1m1 0h3m1 0h1m2 0h2m1 0h1m1 0h1m1 0h14m1 0h2m1 0h2m2 0h4m1 0h3m4 0h1m1 0h4m1 0h1m2 0h1m3 0h2M149 146h1m22 0h1m1 0h1m3 0h1m1 0h3m2 0h2m1 0h2m1 0h3m1 0h2m1 0h4m4 0h2m1 0h3m1 0h2m1 0h5m4 0h1m2 0h2m1 0h1m1 0h1m1 0h1m1 0h5m2 0h1m1 0h5m2 0h3m1 0h1m2 0h1m2 0h1m1 0h4m3 0h2M149 147h1m16 0h1m2 0h1m1 0h1m3 0h1m5 0h6m1 0h8m1 0h2m1 0h6m3 0h5m1 0h1m1 0h1m1 0h1m2 0h4m2 0h6m1 0h1m1 0h1m2 0h1m1 0h1m1 0h2m1 0h1m5 0h2m3 0h9m3 0h1m2 0h1M163 148h1m6 0h1m1 0h2m1 0h4m2 0h2m1 0h3m2 0h1m1 0h3m1 0h4m1 0h1m1 0h4m2 0h3m1 0h3m2 0h2m2 0h2m1 0h1m1 0h5m1 0h1m1 0h1m1 0h1m2 0h2m5 0h4m3 0h2m1 0h2m3 0h1m2 0h1m6 0h3M172 149h1m1 0h2m3 0h6m1 0h1m3 0h1m1 0h3m1 0h1m1 0h4m1 0h1m1 0h6m2 0h1m1 0h1m1 0h2m1 0h1m2 0h3m3 0h2m1 0h1m1 0h2m1 0h5m1 0h2m1 0h3m1 0h1m1 0h1m1 0h4m1 0h2m2 0h2m2 0h2m1 0h4M159 150h1m3 0h1m7 0h1m2 0h1m1 0h2m1 0h1m2 0h2m1 0h1m2 0h4m2 0h2m1 0h4m2 0h4m2 0h2m1 0h1m1 0h1m1 0h2m1 0h1m3 0h3m1 0h1m1 0h4m2 0h1m2 0h1m3 0h5m4 0h1m1 0h1m5 0h3m1 0h3m4 0h4M168 151h1m1 0h1m3 0h1m3 0h2m1 0h6m2 0h1m1 0h12m1 0h3m1 0h1m2 0h2m1 0h2m2 0h1m2 0h5m1 0h2m2 0h7m2 0h1m1 0h5m1 0h1m7 0h2m4 0h1m1 0h2m1 0h2m1 0h4M153 152h1m16 0h1m1 0h1m1 0h2m1 0h6m3 0h12m1 0h1m1 0h6m1 0h2m2 0h6m5 0h1m1 0h2m3 0h3m1 0h2m1 0h2m1 0h1m1 0h1m8 0h1m1 0h1m1 0h4m3 0h1m3 0h1m2 0h3m1 0h1M151 153h1m12 0h2m1 0h2m1 0h2m1 0h1m1 0h2m3 0h3m1 0h1m2 0h1m1 0h1m1 0h2m2 0h2m2 0h4m2 0h2m2 0h1m1 0h1m1 0h1m1 0h1m1 0h4m1 0h2m4 0h3m1 0h4m3 0h2m3 0h1m1 0h3m1 0h1m3 0h1m1 0h1m3 0h1m1 0h3m6 0h1m1 0h1M148 154h3m16 0h1m1 0h3m1 0h6m1 0h2m1 0h1m2 0h2m1 0h1m3 0h12m1 0h4m2 0h1m1 0h2m1 0h1m1 0h2m1 0h1m1 0h2m1 0h2m5 0h3m1 0h2m1 0h8m1 0h2m2 0h1m1 0h1m1 0h1m2 0h4m1 0h1m3 0h2m1 0h1M148 155h18m2 0h1m1 0h1m1 0h1m1 0h5m1 0h2m1 0h2m1 0h1m1 0h2m1 0h5m3 0h4m1 0h1m1 0h1m1 0h2m1 0h1m3 0h3m2 0h5m1 0h6m1 0h5m2 0h3m2 0h1m3 0h1m4 0h3m2 0h2m2 0h1m1 0h1m3 0h1m2 0h2M143 156h2m1 0h3m1 0h10m1 0h2m1 0h2m2 0h6m1 0h6m1 0h1m1 0h5m1 0h5m1 0h2m1 0h3m1 0h2m2 0h5m1 0h2m3 0h2m1 0h1m2 0h4m1 0h3m1 0h1m1 0h2m2 0h2m1 0h1m2 0h1m1 0h2m2 0h2m3 0h1m3 0h2m4 0h1m3 0h1m2 0h1M143 157h1m1 0h1m1 0h1m1 0h17m3 0h3m4 0h4m1 0h9m1 0h2m1 0h1m1 0h2m1 0h10m2 0h2m2 0h5m1 0h3m2 0h6m1 0h2m2 0h1m1 0h1m1 0h8m1 0h6m1 0h1m4 0h1m2 0h1m2 0h2m2 0h2M142 158h15m1 0h6m1 0h2m1 0h4m1 0h1m1 0h2m1 0h2m1 0h3m2 0h2m1 0h5m6 0h2m1 0h1m2 0h3m2 0h6m2 0h2m1 0h1m2 0h6m1 0h7m1 0h2m5 0h4m3 0h3m2 0h3m3 0h2m4 0h1m1 0h1M141 159h2m1 0h19m1 0h12m1 0h16m1 0h4m1 0h4m1 0h5m1 0h2m1 0h3m1 0h3m4 0h1m1 0h1m1 0h1m1 0h1m1 0h2m3 0h3m3 0h2m3 0h1m1 0h6m2 0h2m1 0h1m2 0h1m4 0h1M140 160h4m1 0h27m1 0h2m1 0h16m1 0h4m1 0h11m1 0h2m3 0h5m2 0h4m1 0h1m1 0h1m1 0h3m1 0h2m1 0h2m1 0h1m3 0h2m1 0h2m1 0h1m2 0h2m1 0h1m1 0h2m1 0h1m2 0h4m3 0h2M128 161h1m8 0h2m1 0h2m1 0h23m2 0h7m1 0h7m1 0h8m1 0h10m1 0h2m1 0h5m1 0h8m1 0h2m1 0h1m2 0h1m1 0h1m1 0h2m1 0h4m2 0h2m2 0h10m1 0h4m2 0h3m2 0h1m3 0h1m1 0h1M136 162h10m1 0h8m1 0h5m1 0h8m1 0h3m1 0h2m2 0h3m1 0h6m1 0h6m1 0h4m1 0h6m1 0h6m3 0h4m2 0h1m1 0h1m3 0h7m4 0h2m2 0h2m2 0h3m3 0h3m1 0h1m3 0h1m2 0h2m1 0h2m1 0h2M135 163h3m1 0h2m1 0h21m1 0h2m1 0h2m1 0h5m1 0h2m2 0h3m1 0h2m1 0h3m1 0h5m3 0h1m2 0h1m1 0h2m1 0h6m1 0h1m1 0h6m1 0h1m1 0h8m3 0h6m1 0h2m3 0h1m3 0h1m2 0h2m1 0h2m2 0h7m1 0h1m1 0h2M134 164h4m1 0h18m2 0h10m2 0h1m2 0h3m2 0h5m3 0h3m1 0h9m1 0h3m4 0h3m1 0h1m1 0h2m1 0h2m1 0h1m1 0h2m2 0h1m1 0h6m1 0h2m1 0h7m3 0h2m2 0h3m2 0h2m1 0h2m1 0h1m1 0h2m1 0h6M133 165h22m1 0h11m2 0h2m1 0h12m1 0h3m3 0h2m1 0h4m1 0h4m1 0h6m3 0h3m1 0h2m1 0h3m3 0h6m1 0h1m1 0h3m1 0h1m5 0h1m2 0h1m1 0h4m1 0h3m1 0h4m1 0h1m1 0h3m4 0h1M131 166h29m1 0h8m1 0h14m1 0h4m1 0h4m1 0h5m1 0h2m1 0h8m1 0h6m1 0h1m2 0h4m1 0h8m2 0h1m3 0h1m5 0h3m1 0h6m2 0h4m1 0h1m2 0h2m2 0h2M130 167h17m1 0h24m2 0h2m1 0h2m1 0h3m2 0h2m1 0h9m2 0h6m1 0h2m3 0h6m2 0h2m2 0h1m2 0h3m1 0h2m1 0h4m1 0h1m1 0h3m1 0h2m1 0h3m9 0h3m1 0h7m3 0h1M128 168h17m1 0h24m1 0h4m1 0h1m1 0h7m1 0h7m1 0h1m2 0h3m3 0h4m1 0h1m1 0h2m1 0h1m1 0h4m3 0h4m1 0h2m1 0h4m1 0h2m1 0h4m1 0h1m2 0h4m2 0h7m1 0h1m1 0h1m4 0h1m4 0h2M126 169h23m1 0h10m1 0h10m2 0h3m1 0h24m1 0h11m2 0h16m1 0h1m1 0h2m3 0h2m2 0h1m1 0h2m3 0h1m1 0h1m2 0h2m1 0h2m2 0h2m3 0h2m1 0h4M124 170h1m1 0h25m1 0h12m1 0h6m1 0h19m1 0h2m1 0h8m1 0h1m1 0h4m1 0h5m2 0h1m1 0h2m4 0h2m2 0h1m1 0h1m1 0h3m1 0h6m4 0h1m1 0h1m1 0h1m4 0h1m1 0h5m2 0h2m1 0h1m1 0h3M124 171h44m1 0h6m1 0h7m1 0h4m1 0h7m1 0h3m1 0h2m4 0h7m4 0h2m1 0h2m2 0h8m1 0h2m2 0h1m1 0h8m1 0h3m2 0h2m1 0h3m1 0h6m1 0h1m2 0h3M123 172h6m1 0h22m1 0h6m1 0h5m1 0h7m1 0h1m1 0h2m1 0h1m1 0h9m2 0h4m1 0h7m1 0h3m3 0h1m1 0h2m1 0h13m2 0h1m2 0h4m1 0h8m1 0h1m2 0h2m2 0h8m2 0h1m5 0h1m1 0h1M122 173h40m1 0h7m1 0h7m1 0h11m2 0h7m3 0h2m1 0h3m1 0h1m1 0h2m4 0h1m2 0h5m1 0h1m1 0h2m1 0h1m1 0h15m4 0h1m1 0h3m1 0h1m1 0h1m3 0h1m2 0h3m2 0h2M120 174h49m1 0h6m1 0h7m1 0h11m1 0h5m1 0h4m1 0h1m1 0h7m1 0h3m1 0h1m2 0h3m1 0h1m2 0h1m3 0h3m1 0h5m1 0h4m1 0h2m2 0h1m1 0h2m1 0h2m1 0h3m1 0h1m1 0h1m3 0h1M116 175h1m3 0h45m1 0h5m1 0h13m1 0h1m1 0h3m1 0h3m1 0h2m1 0h4m1 0h2m1 0h4m1 0h5m1 0h1m2 0h2m1 0h5m2 0h1m1 0h5m1 0h1m1 0h6m1 0h1m3 0h1m2 0h4m2 0h4m2 0h2M118 176h34m1 0h9m1 0h29m1 0h5m1 0h1m1 0h12m1 0h6m2 0h12m1 0h2m2 0h2m6 0h1m4 0h1m4 0h1m3 0h3m2 0h2m1 0h1m1 0h1m1 0h1M116 177h3m1 0h37m1 0h3m1 0h18m2 0h3m1 0h4m1 0h1m2 0h9m1 0h6m1 0h10m1 0h3m1 0h2m1 0h3m1 0h1m1 0h3m1 0h3m1 0h1m1 0h3m3 0h1m1 0h1m2 0h4m1 0h1m2 0h2m1 0h1m2 0h1M115 178h24m1 0h2m1 0h21m1 0h21m3 0h1m1 0h3m1 0h3m1 0h7m2 0h1m3 0h1m1 0h6m1 0h1m1 0h10m1 0h2m2 0h2m1 0h4m2 0h2m2 0h1m1 0h1m1 0h1m2 0h1m3 0h1m3 0h1m1 0h1m3 0h2M114 179h2m1 0h28m1 0h33m1 0h23m1 0h2m1 0h8m1 0h6m1 0h1m1 0h5m1 0h3m1 0h2m1 0h2m4 0h1m1 0h4m3 0h3m1 0h2m3 0h1m1 0h1m2 0h1m1 0h1m1 0h1m1 0h1M113 180h27m1 0h20m1 0h1m1 0h14m2 0h2m1 0h14m1 0h13m1 0h1m1 0h3m2 0h4m2 0h2m1 0h2m1 0h3m1 0h2m1 0h1m1 0h1m1 0h2m1 0h2m1 0h1m2 0h1m3 0h2m2 0h1m2 0h2m5 0h1m3 0h1M111 181h65m1 0h5m1 0h5m1 0h23m1 0h1m1 0h5m1 0h4m2 0h1m1 0h2m3 0h11m2 0h4m1 0h2m1 0h2m1 0h1m1 0h2m2 0h1m1 0h2m1 0h1m2 0h2M107 182h1m1 0h44m1 0h6m1 0h8m1 0h6m1 0h4m2 0h2m1 0h6m1 0h7m2 0h3m2 0h1m1 0h3m1 0h2m1 0h8m2 0h4m2 0h1m1 0h1m1 0h4m2 0h2m6 0h1m1 0h1m3 0h2m1 0h1m2 0h1m1 0h1m3 0h1m2 0h1m1 0h1M109 183h51m1 0h16m1 0h9m1 0h8m2 0h1m1 0h3m1 0h15m2 0h1m1 0h5m1 0h1m2 0h4m1 0h1m1 0h5m1 0h1m1 0h2m2 0h6m5 0h2m1 0h1m1 0h3m2 0h2M108 184h1m1 0h33m1 0h1m1 0h5m2 0h6m1 0h9m1 0h19m1 0h15m2 0h2m1 0h3m2 0h3m1 0h4m1 0h2m2 0h5m1 0h2m1 0h7m1 0h1m1 0h6m1 0h1m1 0h2m3 0h3m3 0h4m2 0h1M107 185h1m1 0h22m1 0h1m1 0h4m1 0h21m1 0h9m1 0h3m1 0h2m1 0h14m1 0h4m1 0h2m1 0h8m1 0h2m1 0h8m1 0h1m1 0h1m1 0h1m1 0h2m4 0h2m2 0h8m3 0h1m1 0h6m1 0h2m1 0h1m2 0h2m3 0h5M106 186h29m1 0h1m1 0h8m2 0h8m1 0h2m1 0h6m1 0h7m1 0h5m1 0h1m1 0h1m2 0h2m1 0h3m1 0h3m1 0h1m2 0h4m1 0h10m1 0h5m1 0h6m2 0h1m1 0h5m4 0h4m2 0h2m1 0h3m2 0h7m1 0h1m3 0h1m1 0h1m3 0h1M105 187h44m1 0h19m1 0h18m1 0h5m1 0h4m1 0h3m1 0h1m2 0h2m1 0h4m2 0h1m2 0h1m2 0h1m1 0h7m1 0h1m3 0h2m5 0h2m1 0h2m1 0h2m1 0h2m2 0h2m1 0h1m2 0h1m2 0h1m1 0h1m2 0h2m1 0h1M99 188h1m3 0h3m1 0h35m1 0h24m1 0h14m1 0h9m1 0h1m1 0h6m1 0h8m1 0h8m1 0h2m1 0h1m1 0h1m2 0h2m1 0h1m1 0h1m2 0h11m1 0h3m1 0h1m1 0h3m2 0h1m1 0h1m2 0h1m2 0h2m1 0h1m2 0h1M101 189h29m1 0h29m1 0h15m1 0h5m1 0h3m1 0h11m1 0h4m1 0h6m1 0h1m2 0h3m1 0h1m2 0h4m2 0h1m1 0h3m1 0h1m1 0h3m1 0h4m1 0h1m6 0h4m3 0h1m3 0h1m2 0h1m2 0h1m4 0h1M101 190h43m1 0h16m1 0h3m1 0h21m1 0h7m1 0h2m1 0h4m1 0h2m1 0h1m1 0h8m1 0h2m2 0h1m1 0h1m1 0h1m1 0h5m3 0h3m3 0h2m2 0h1m2 0h1m1 0h1m2 0h2m2 0h1m5 0h3m6 0h1M99 191h28m1 0h27m1 0h1m1 0h3m1 0h22m1 0h2m1 0h1m1 0h10m1 0h6m1 0h2m2 0h3m1 0h1m1 0h3m1 0h4m1 0h6m1 0h5m1 0h1m1 0h2m3 0h1m3 0h2m4 0h1m2 0h1m4 0h1m2 0h2m1 0h1m1 0h1M98 192h38m1 0h9m1 0h18m1 0h14m1 0h1m1 0h13m1 0h4m1 0h2m1 0h5m1 0h6m1 0h4m3 0h3m3 0h3m1 0h3m1 0h1m1 0h4m1 0h1m8 0h4m1 0h1m1 0h1m2 0h1m1 0h1m4 0h2M97 193h26m1 0h34m1 0h7m2 0h5m1 0h12m1 0h8m3 0h11m1 0h5m2 0h6m2 0h1m1 0h1m2 0h1m1 0h4m2 0h1m2 0h4m1 0h3m2 0h1m4 0h1m1 0h1m4 0h3m1 0h1M94 194h1m1 0h47m1 0h6m1 0h22m1 0h3m1 0h13m2 0h12m1 0h13m1 0h1m1 0h2m1 0h1m1 0h2m1 0h2m1 0h1m4 0h3m1 0h1m1 0h1m6 0h1m5 0h2m6 0h1m1 0h2m3 0h2M95 195h50m1 0h26m2 0h4m1 0h1m1 0h1m2 0h2m1 0h6m1 0h2m2 0h3m1 0h6m1 0h1m1 0h1m4 0h1m1 0h1m1 0h6m3 0h2m4 0h2m1 0h1m1 0h2m1 0h5m1 0h4m1 0h3m1 0h1m1 0h1m1 0h2m3 0h1m4 0h1M93 196h55m1 0h3m1 0h16m1 0h32m1 0h11m1 0h4m2 0h4m3 0h1m6 0h1m1 0h3m4 0h1m2 0h1m1 0h2m6 0h1m3 0h1m2 0h1m4 0h1m3 0h1M91 197h52m1 0h1m1 0h6m1 0h9m1 0h10m1 0h8m1 0h2m1 0h16m1 0h2m1 0h3m1 0h1m1 0h2m1 0h1m1 0h1m1 0h1m1 0h1m1 0h1m1 0h2m1 0h5m1 0h2m2 0h2m3 0h1m2 0h3m2 0h2m1 0h1m2 0h1m1 0h1m5 0h1m1 0h1m2 0h1m1 0h2M90 198h31m1 0h7m1 0h18m1 0h24m1 0h6m1 0h1m1 0h5m2 0h3m1 0h3m2 0h4m1 0h7m1 0h2m5 0h1m1 0h5m1 0h1m1 0h3m1 0h2m5 0h1m1 0h3m4 0h2m3 0h1m1 0h1m1 0h1m2 0h1m6 0h1m2 0h1m1 0h1M90 199h42m1 0h37m1 0h3m2 0h8m1 0h3m1 0h1m1 0h12m1 0h1m1 0h3m1 0h1m1 0h1m1 0h2m1 0h2m1 0h2m1 0h2m8 0h4m2 0h7m1 0h1m7 0h1m3 0h1m3 0h1m2 0h1m6 0h1M86 200h1m1 0h35m1 0h16m1 0h21m1 0h14m1 0h3m1 0h11m2 0h10m1 0h2m1 0h1m3 0h2m3 0h1m4 0h1m2 0h2m2 0h1m3 0h1m2 0h1m4 0h1m7 0h1m2 0h2m2 0h1m10 0h1m4 0h1M84 201h1m2 0h67m1 0h15m1 0h2m1 0h8m2 0h17m1 0h5m1 0h2m1 0h2m2 0h7m1 0h2m2 0h1m1 0h3m1 0h1m2 0h1m2 0h2m3 0h2m3 0h1m3 0h1m2 0h1m3 0h3m2 0h1m3 0h1m3 0h1M84 202h2m1 0h29m1 0h41m1 0h18m1 0h3m1 0h14m1 0h3m1 0h1m1 0h1m1 0h4m1 0h5m1 0h1m2 0h3m1 0h1m3 0h1m3 0h1m2 0h2m2 0h3m7 0h1m1 0h1m2 0h1m7 0h1m2 0h1m3 0h1m2 0h1m1 0h1M83 203h1m1 0h23m1 0h4m1 0h25m1 0h6m1 0h15m1 0h11m1 0h4m1 0h8m1 0h11m2 0h1m2 0h9m3 0h2m3 0h2m2 0h1m3 0h1m1 0h3m2 0h1m6 0h1m2 0h1m3 0h1m1 0h1m19 0h1M76 204h1m6 0h76m1 0h6m1 0h2m1 0h20m1 0h14m1 0h4m2 0h4m2 0h1m2 0h1m2 0h4m1 0h2m1 0h1m5 0h2m2 0h2m1 0h1m4 0h1m2 0h1m4 0h1m7 0h1m5 0h1M82 205h47m2 0h8m1 0h19m2 0h3m1 0h10m1 0h11m1 0h1m1 0h4m2 0h1m1 0h1m2 0h3m2 0h2m3 0h3m1 0h1m2 0h1m4 0h4m2 0h2m1 0h1m1 0h1m1 0h2m2 0h1m6 0h1m3 0h1m1 0h1m1 0h2m3 0h1m8 0h1m3 0h1M80 206h31m3 0h4m1 0h4m1 0h3m1 0h2m1 0h23m1 0h7m1 0h18m1 0h2m2 0h1m1 0h10m1 0h4m4 0h2m6 0h1m2 0h1m6 0h1m1 0h1m1 0h1m4 0h1m1 0h2m1 0h1m4 0h1m4 0h2m3 0h1m1 0h1m7 0h1m7 0h2M78 207h30m1 0h13m1 0h16m1 0h13m1 0h17m1 0h5m1 0h1m1 0h2m2 0h4m1 0h3m1 0h1m4 0h4m1 0h1m1 0h1m2 0h2m1 0h1m9 0h1m6 0h1m3 0h1m1 0h8m2 0h1m3 0h1m9 0h1m13 0h1M78 208h50m1 0h14m1 0h9m1 0h17m1 0h14m1 0h8m1 0h3m3 0h4m2 0h2m3 0h1m1 0h2m1 0h4m5 0h3m3 0h1m6 0h1m1 0h1m2 0h1m8 0h1m1 0h1m5 0h1m4 0h1m5 0h1M77 209h42m1 0h19m1 0h25m1 0h5m1 0h8m1 0h3m1 0h3m1 0h3m8 0h3m4 0h2m1 0h4m2 0h1m8 0h1m1 0h2m4 0h1m19 0h1m2 0h1m3 0h1m3 0h1m3 0h1m4 0h1M76 210h1m1 0h71m1 0h4m1 0h13m1 0h5m2 0h3m1 0h1m1 0h2m1 0h1m1 0h8m3 0h1m1 0h1m1 0h4m1 0h1m3 0h1m1 0h1m1 0h2m1 0h1m4 0h1m6 0h1m3 0h1m7 0h1m6 0h1m7 0h1m15 0h1M74 211h40m1 0h3m1 0h5m1 0h20m1 0h12m3 0h1m1 0h7m1 0h8m1 0h1m1 0h6m1 0h2m2 0h2m2 0h1m1 0h1m3 0h1m3 0h2m1 0h4m1 0h1m1 0h3m2 0h1m2 0h1m4 0h1m11 0h2m8 0h1m3 0h1m11 0h1M74 212h50m1 0h5m1 0h17m1 0h21m1 0h4m1 0h1m2 0h3m1 0h2m1 0h4m7 0h3m1 0h1m1 0h3m1 0h2m3 0h2m4 0h1m21 0h1m9 0h1M70 213h35m1 0h21m1 0h4m1 0h10m1 0h3m1 0h12m1 0h12m1 0h3m1 0h2m1 0h1m1 0h1m1 0h2m2 0h3m1 0h5m2 0h2m9 0h2m1 0h2m1 0h1m10 0h1m10 0h1m12 0h2m19 0h1M70 214h30m1 0h34m1 0h3m2 0h10m1 0h3m1 0h2m1 0h1m3 0h1m1 0h2m1 0h3m3 0h1m1 0h5m2 0h1m3 0h2m3 0h1m1 0h4m2 0h3m3 0h1m10 0h2m9 0h1m5 0h1m1 0h1m8 0h1m3 0h1m23 0h1M70 215h30m1 0h2m1 0h15m1 0h24m1 0h5m1 0h3m1 0h6m5 0h2m1 0h3m1 0h1m1 0h3m2 0h1m4 0h1m3 0h2m3 0h1m14 0h1m2 0h2m1 0h1m1 0h2m54 0h1M67 216h1m1 0h39m1 0h25m1 0h4m1 0h7m1 0h2m1 0h3m2 0h1m1 0h1m2 0h3m1 0h1m1 0h1m2 0h4m1 0h1m2 0h1m1 0h1m3 0h3m3 0h1m1 0h1m8 0h2m1 0h2m3 0h3m5 0h1M67 217h54m1 0h6m1 0h8m1 0h18m1 0h5m2 0h9m1 0h1m3 0h2m2 0h3m1 0h2m5 0h1m1 0h3m8 0h2m4 0h1m23 0h1m36 0h1M66 218h53m1 0h16m1 0h4m2 0h4m1 0h2m1 0h2m1 0h4m1 0h1m4 0h1m1 0h5m5 0h1m1 0h1m3 0h1m5 0h1m1 0h1m5 0h2m11 0h3m61 0h1M65 219h34m1 0h12m1 0h3m1 0h38m1 0h2m1 0h1m3 0h2m2 0h1m1 0h7m1 0h1m1 0h1m3 0h1m8 0h1m18 0h1m3 0h1m3 0h1M62 220h1m2 0h46m1 0h4m1 0h14m1 0h13m3 0h2m1 0h2m1 0h1m1 0h1m1 0h5m2 0h4m1 0h2m2 0h1m2 0h1m1 0h1m4 0h1m1 0h2m1 0h1m1 0h1m1 0h1m1 0h2m1 0h2m8 0h1m10 0h1m37 0h1M62 221h62m1 0h1m1 0h9m1 0h2m1 0h1m1 0h4m1 0h1m1 0h1m4 0h2m1 0h4m1 0h3m2 0h1m3 0h3m1 0h2m5 0h1m19 0h1m1 0h1m2 0h1m9 0h1m5 0h1m49 0h1M61 222h2m2 0h29m1 0h20m1 0h2m2 0h7m1 0h1m1 0h1m1 0h6m1 0h7m1 0h2m2 0h3m1 0h2m1 0h1m1 0h1m1 0h1m1 0h1m3 0h1m3 0h1m3 0h2m2 0h1m2 0h1m1 0h1m2 0h1m2 0h1m8 0h1m3 0h1m63 0h1m4 0h1M59 223h1m1 0h51m1 0h9m1 0h13m1 0h7m1 0h1m1 0h4m1 0h2m1 0h4m5 0h1m11 0h1m5 0h2m7 0h1m27 0h1m53 0h1M54 224h1m4 0h30m1 0h20m1 0h7m1 0h2m1 0h2m1 0h4m1 0h1m2 0h2m1 0h3m2 0h2m1 0h1m3 0h2m1 0h1m1 0h1m4 0h2m10 0h1m1 0h3m2 0h2m3 0h1m1 0h1m11 0h1m21 0h1m27 0h1M57 225h43m1 0h3m1 0h19m1 0h5m1 0h5m1 0h2m2 0h3m4 0h3m1 0h2m3 0h1m3 0h2m2 0h1m1 0h1m7 0h1m13 0h1m12 0h1m12 0h1m10 0h1m46 0h1M56 226h1m1 0h1m1 0h29m1 0h11m1 0h1m1 0h13m1 0h2m1 0h5m2 0h3m2 0h1m2 0h5m1 0h2m7 0h1m1 0h1m1 0h1m4 0h1m16 0h1m14 0h1m23 0h1m16 0h1M56 227h40m1 0h2m1 0h26m2 0h1m1 0h1m1 0h8m1 0h2m7 0h1m2 0h2m2 0h1m1 0h1m15 0h1m3 0h1m10 0h1m82 0h1M54 228h59m1 0h8m1 0h2m2 0h1m1 0h1m2 0h2m2 0h2m2 0h3m2 0h1m4 0h1m1 0h1m120 0h1M52 229h35m3 0h10m1 0h4m1 0h5m3 0h1m2 0h3m1 0h1m2 0h2m1 0h1m1 0h2m4 0h1m5 0h1m17 0h2M51 230h32m1 0h5m1 0h4m1 0h3m2 0h2m1 0h4m1 0h1m1 0h1m1 0h3m1 0h1m4 0h1m1 0h1m1 0h1m3 0h1m1 0h1m2 0h1m11 0h1m1 0h1m1 0h1m47 0h1m74 0h1M52 231h21m1 0h4m1 0h22m1 0h5m1 0h2m1 0h3m2 0h1m1 0h3m2 0h1m1 0h1m6 0h1m3 0h1m1 0h1m1 0h1m8 0h1m2 0h1m5 0h1m114 0h1M49 232h31m1 0h16m1 0h4m3 0h1m1 0h3m1 0h2m6 0h1m1 0h2m4 0h1m2 0h1m8 0h1m9 0h2m95 0h1m26 0h1M45 233h32m1 0h9m1 0h7m1 0h4m2 0h3m1 0h2m2 0h2m2 0h3m4 0h1m1 0h1m1 0h1m2 0h1m1 0h1m1 0h2m3 0h1m3 0h1M49 234h24m1 0h13m1 0h6m1 0h7m1 0h1m2 0h1m10 0h1m4 0h2m20 0h1M46 235h36m1 0h9m1 0h5m1 0h1m1 0h2m5 0h1m3 0h1m11 0h1m3 0h1m1 0h1M46 236h25m2 0h1m1 0h2m1 0h1m1 0h1m1 0h1m2 0h4m1 0h4m2 0h2m3 0h1m1 0h1m1 0h1m2 0h1m1 0h2m2 0h1m1 0h1m1 0h1m9 0h1m29 0h1M41 237h1m1 0h32m1 0h1m2 0h1m2 0h3m1 0h2m1 0h1m1 0h1m4 0h2m1 0h1m2 0h1m2 0h2m29 0h2M41 238h1m2 0h16m1 0h16m1 0h2m2 0h3m2 0h1m3 0h5m2 0h1m6 0h1m8 0h1m8 0h1m21 0h1M39 239h2m1 0h1m1 0h34m1 0h5m1 0h2m1 0h1m1 0h3m1 0h1m5 0h3m91 0h1M41 240h18m1 0h6m1 0h1m1 0h8m1 0h1m1 0h3m4 0h3m16 0h1m2 0h1m46 0h1M41 241h27m1 0h2m2 0h1m1 0h2m2 0h1m3 0h1m15 0h1M40 242h24m1 0h2m1 0h1m1 0h1m2 0h2m1 0h3m3 0h1m5 0h2m9 0h1M37 243h1m1 0h17m3 0h1m1 0h1m1 0h5m1 0h1m1 0h1m8 0h2m28 0h1M36 244h15m1 0h6m3 0h2m1 0h3m1 0h1m2 0h1m1 0h2m10 0h1M37 245h14m1 0h1m1 0h3m2 0h1m4 0h1M34 246h18m1 0h1m3 0h1m5 0h1M34 247h13m1 0h2m4 0h1M33 248h17m1 0h1m4 0h1m3 0h1m35 0h1M33 249h16m7 0h1M34 250h12M36 251h9m1 0h1M34 252h1m1 0h1m1 0h4m2 0h1M34 253h1m2 0h5M37 254h1M36 255h1" stroke="#3247a4"/><path d="M273 33h1M273 36h1M273 38h1M273 39h1M273 40h1M273 41h1M273 43h1M273 45h1M273 46h1M273 48h1M273 49h1M273 50h1M273 51h1M273 52h1M273 54h1M273 55h1M273 56h1M273 57h1M273 58h1M273 59h1M273 60h1M273 61h1M273 62h1M273 63h1M273 64h1M273 65h1M273 66h1M273 67h1M273 68h1M273 69h1M273 70h1M273 71h1M273 72h1M273 73h1M273 74h1M273 75h1M273 76h1M273 77h1M273 78h1M273 79h1M273 80h1M273 81h1M273 82h1M273 83h1M273 84h1M273 85h1M273 86h1M273 87h1M273 88h1M273 89h1M273 90h1M273 91h1M273 92h1M273 93h1M273 94h1M273 95h1M273 96h1M273 97h1M273 98h1M273 99h1M273 100h1M273 101h1M273 102h1M273 103h1M273 104h1M273 105h1M273 106h1M273 107h1M273 108h1M273 109h1M273 110h1M273 111h1M273 112h1M273 113h1M273 114h1M273 115h1M273 116h1M273 117h1M273 118h1M273 119h1M273 120h1M273 121h1M273 122h1M273 123h1M273 124h1M273 125h1M273 126h1M273 127h1M273 128h1M273 129h1M273 130h1M273 131h1M273 132h1M273 133h1M273 134h1M273 135h1M273 136h1M273 137h1M273 138h1M273 139h1M273 140h1M273 141h1M273 142h1M273 143h1M273 144h1M273 145h1M273 146h1M273 147h1M273 148h1M273 149h1M273 150h1M273 151h1M273 152h1M273 153h1M273 154h1M148 155h15m110 0h1M146 156h3m1 0h10m1 0h2m17 0h1m3 0h1m2 0h1m85 0h1M145 157h1m1 0h1m1 0h13m16 0h1m2 0h1m4 0h1m86 0h1M143 158h14m1 0h4m8 0h1m2 0h1m1 0h2m1 0h1m3 0h1m90 0h1M141 159h2m1 0h19m1 0h2m2 0h2m1 0h5m5 0h2m8 0h1M140 160h4m1 0h20m1 0h3m2 0h1m1 0h2m3 0h1m1 0h3m2 0h1m87 0h1M140 161h2m1 0h23m2 0h7m1 0h3m94 0h1M137 162h9m1 0h8m1 0h5m1 0h8m1 0h2m2 0h2m2 0h2m3 0h1m1 0h1m7 0h2m77 0h1M136 163h2m1 0h2m1 0h21m1 0h2m1 0h2m1 0h5m1 0h2m3 0h2m1 0h2m5 0h1m81 0h1M134 164h4m1 0h18m2 0h10m2 0h1m2 0h3m2 0h1m2 0h2m10 0h1m78 0h1M133 165h22m1 0h11m2 0h2m1 0h4m1 0h7m1 0h1m1 0h1m3 0h1m81 0h1M132 166h28m1 0h8m1 0h14m1 0h1m2 0h1m84 0h1M130 167h17m1 0h24m2 0h2m1 0h2m2 0h2m2 0h2m9 0h1m5 0h1m70 0h1M129 168h16m1 0h24m1 0h4m1 0h1m1 0h7m3 0h1m2 0h2m4 0h1m75 0h1M128 169h21m1 0h10m1 0h10m2 0h3m1 0h6m1 0h2m2 0h1m2 0h1m2 0h1m78 0h1M126 170h25m1 0h12m1 0h6m1 0h12m1 0h5m2 0h1m5 0h3m10 0h1m61 0h1M125 171h43m1 0h6m1 0h7m1 0h4m2 0h1m1 0h3m2 0h1m75 0h1M124 172h5m1 0h22m1 0h6m1 0h5m1 0h7m1 0h1m1 0h2m1 0h1m1 0h7m1 0h1m4 0h1m4 0h2m72 0h1M122 173h40m1 0h7m1 0h7m1 0h6m1 0h3m4 0h2m3 0h1m4 0h1m5 0h1m63 0h1M121 174h48m1 0h6m1 0h7m1 0h10m5 0h1m72 0h1M120 175h45m1 0h5m1 0h13m1 0h1m2 0h2m1 0h3m1 0h2m2 0h1M118 176h34m1 0h9m1 0h21m1 0h7m1 0h1m3 0h1m1 0h1m3 0h1m69 0h1M117 177h2m1 0h37m1 0h3m1 0h18m2 0h3m1 0h4m1 0h1m2 0h3m1 0h1m2 0h1m5 0h1m3 0h1M116 178h23m1 0h2m1 0h21m1 0h21m3 0h1m3 0h1m2 0h1m7 0h2m67 0h1M115 179h1m1 0h28m1 0h33m1 0h10m1 0h3m2 0h1m5 0h1m1 0h1m68 0h1M113 180h27m1 0h20m1 0h1m1 0h14m2 0h2m1 0h14m1 0h4m71 0h1M112 181h64m1 0h5m1 0h5m1 0h3m1 0h5m2 0h3m3 0h1m3 0h1m62 0h1M111 182h42m1 0h6m1 0h8m1 0h6m1 0h4m2 0h2m1 0h6m1 0h3m2 0h2m2 0h3m68 0h1M109 183h51m1 0h16m1 0h9m1 0h8m2 0h1m2 0h2m1 0h2m1 0h1m2 0h1m62 0h1M108 184h1m1 0h33m1 0h1m1 0h5m2 0h6m1 0h9m1 0h19m1 0h8m1 0h1m1 0h4m3 0h1M107 185h1m1 0h22m1 0h1m1 0h4m1 0h21m1 0h9m1 0h3m1 0h2m1 0h14m1 0h2m1 0h1m1 0h2m1 0h1m1 0h1m69 0h1M106 186h29m1 0h1m1 0h8m2 0h8m1 0h2m1 0h6m1 0h7m1 0h5m1 0h1m1 0h1m2 0h2m1 0h3m1 0h3m4 0h4m1 0h1m8 0h1m58 0h1M105 187h44m1 0h19m1 0h18m1 0h5m1 0h4m1 0h1m1 0h1m7 0h1m62 0h1M103 188h3m1 0h35m1 0h24m1 0h14m1 0h9m1 0h1m1 0h6m2 0h4m66 0h1M102 189h28m1 0h29m1 0h15m1 0h5m1 0h3m1 0h11m1 0h4m3 0h1m1 0h1m2 0h1m61 0h1M101 190h43m1 0h16m1 0h3m1 0h21m1 0h7m1 0h2m2 0h1m3 0h1M99 191h28m1 0h27m1 0h1m1 0h3m1 0h22m1 0h2m1 0h1m1 0h6m1 0h3m1 0h1m1 0h1m2 0h1m2 0h1m63 0h1M98 192h38m1 0h9m1 0h18m1 0h14m1 0h1m1 0h13m1 0h4m2 0h1m69 0h1M97 193h26m1 0h34m1 0h7m2 0h5m1 0h12m1 0h8m4 0h1M96 194h47m1 0h6m1 0h22m1 0h3m1 0h13m2 0h7M95 195h50m1 0h26m2 0h4m1 0h1m1 0h1m2 0h2m1 0h6m1 0h2m2 0h2m3 0h1M93 196h55m1 0h3m1 0h16m1 0h25m1 0h4m1 0h1M92 197h51m1 0h1m1 0h6m1 0h9m1 0h10m1 0h8m1 0h2m1 0h9m1 0h2m1 0h1M91 198h30m1 0h7m1 0h18m1 0h24m1 0h6m1 0h1m1 0h5m2 0h3m1 0h3M90 199h42m1 0h37m1 0h3m2 0h8m1 0h3m3 0h5M88 200h35m1 0h16m1 0h21m1 0h14m1 0h3m1 0h6m1 0h4m2 0h1M87 201h67m1 0h15m1 0h2m1 0h8m2 0h7m2 0h2M87 202h29m1 0h41m1 0h18m1 0h3m1 0h6m3 0h2M85 203h23m1 0h4m1 0h25m1 0h6m1 0h15m1 0h11m1 0h4m1 0h7m2 0h2M83 204h76m1 0h6m1 0h2m1 0h14m1 0h1M82 205h47m2 0h8m1 0h19m2 0h3m1 0h10m1 0h7m1 0h2M81 206h30m3 0h4m1 0h4m1 0h3m1 0h2m1 0h23m1 0h7m1 0h15m1 0h1M79 207h29m1 0h13m1 0h16m1 0h13m1 0h17m1 0h5M78 208h50m1 0h14m1 0h9m1 0h17m1 0h8M78 209h41m1 0h19m1 0h25m1 0h5m1 0h4M76 210h1m1 0h71m1 0h4m1 0h13m1 0h4M75 211h39m1 0h3m1 0h5m1 0h20m1 0h12m3 0h1m1 0h7m1 0h1m2 0h1m1 0h1M74 212h50m1 0h5m1 0h17m1 0h20M72 213h33m1 0h21m1 0h4m1 0h10m1 0h3m1 0h12m1 0h2m1 0h2m1 0h1M71 214h29m1 0h34m1 0h3m2 0h10m1 0h3m1 0h2m1 0h1m3 0h1M70 215h30m1 0h2m1 0h15m1 0h24m1 0h5m1 0h3m1 0h3M69 216h39m1 0h25m1 0h4m1 0h7m1 0h2m1 0h3M67 217h54m1 0h6m1 0h8m1 0h11M66 218h53m1 0h16m1 0h4m2 0h4m1 0h1M65 219h34m1 0h12m1 0h3m1 0h26m1 0h2M65 220h46m1 0h4m1 0h14m1 0h8M63 221h61m1 0h1m1 0h9M61 222h2m2 0h29m1 0h20m1 0h2m2 0h7m1 0h1m1 0h1m1 0h3M61 223h51m1 0h9m1 0h5M59 224h30m1 0h20m1 0h7m1 0h2m1 0h2m1 0h2m1 0h1M58 225h42m1 0h3m1 0h19M58 226h1m1 0h29m1 0h11m1 0h1m1 0h13m1 0h2m1 0h1M56 227h40m1 0h2m1 0h15m1 0h2M54 228h59m1 0h1M53 229h34m3 0h10m1 0h4m1 0h4M52 230h31m1 0h5m1 0h4m1 0h3m2 0h2m1 0h4M52 231h21m1 0h4m1 0h22m1 0h1M50 232h30m1 0h16m1 0h1M49 233h28m1 0h9m1 0h7M49 234h24m1 0h13m1 0h5M47 235h35m1 0h6M46 236h25m2 0h1m1 0h2m1 0h1m1 0h1m1 0h1m2 0h1M45 237h30m1 0h1m2 0h1M44 238h16m1 0h16m1 0h1M42 239h1m1 0h30m1 0h1M41 240h18m1 0h6m1 0h1m1 0h2M41 241h24m1 0h1M40 242h24M39 243h17M37 244h14m1 0h3M37 245h14m1 0h1M36 246h16M36 247h11m1 0h2M36 248h13M36 249h11M36 250h9M37 251h5M38 252h4" stroke="#2450b2"/><path d="M273 55h1M273 56h1M273 58h1M273 59h1M273 60h1M273 61h1M273 62h1M273 63h1M273 64h1M273 65h1M273 66h1M273 67h1M273 68h1M273 69h1M273 70h1M273 71h1M273 72h1M273 73h1M273 74h1M273 75h1M273 76h1M273 77h1M273 78h1M273 79h1M273 80h1M273 81h1M273 82h1M273 83h1M273 84h1M273 85h1M273 86h1M273 87h1M273 88h1M273 89h1M273 90h1M273 91h1M273 92h1M273 93h1M273 94h1M273 95h1M273 96h1M273 97h1M273 98h1M273 99h1M273 100h1M273 101h1M273 102h1M273 103h1M273 104h1M273 105h1M273 106h1M273 107h1M273 108h1M273 109h1M273 110h1M273 111h1M273 112h1M273 113h1M273 114h1M273 115h1M273 116h1M273 117h1M273 118h1M273 119h1M273 120h1M273 121h1M273 122h1M273 123h1M273 124h1M273 125h1M273 126h1M273 127h1M273 128h1M273 129h1M273 130h1M273 131h1M273 132h1M273 133h1M273 134h1M273 135h1M273 136h1M273 137h1M273 138h1M273 139h1M273 140h1M273 141h1M273 142h1M273 143h1M273 144h1M273 145h1M273 146h1M273 147h1M273 148h1M273 149h1M273 150h1M273 151h1M273 152h1M273 153h1M273 154h1M151 155h1m1 0h2m1 0h1m116 0h1M150 156h1m1 0h6m115 0h1M151 157h4m1 0h3m1 0h1m112 0h1M148 158h9m1 0h2m113 0h1M146 159h13M145 160h14m114 0h1M143 161h15m115 0h1M142 162h4m1 0h8m1 0h1m116 0h1M139 163h2m1 0h14m117 0h1M139 164h16M136 165h18M136 166h17M134 167h13m1 0h4M133 168h12m1 0h5m1 0h1m120 0h1M131 169h18m7 0h2m1 0h1M129 170h1m1 0h18M129 171h20m3 0h1M127 172h2m1 0h17m1 0h2m1 0h1M126 173h20m1 0h5m1 0h2M125 174h25m2 0h1m1 0h1M123 175h23m1 0h3m5 0h2M122 176h22m4 0h2m1 0h1m1 0h2m1 0h1M120 177h25m1 0h1m2 0h5m1 0h1M119 178h20m1 0h2m1 0h1m1 0h1m2 0h3m1 0h1m3 0h1M118 179h27m2 0h1m1 0h3m1 0h1m4 0h1m2 0h1M116 180h24m1 0h10m1 0h2m3 0h1m2 0h1m4 0h1m2 0h1M115 181h23m1 0h15m5 0h1m1 0h1m2 0h1M114 182h31m1 0h1m2 0h2m1 0h1m1 0h2m1 0h2M113 183h32m1 0h8m1 0h2m2 0h1m2 0h1M111 184h32m1 0h1m1 0h1m1 0h1m4 0h3m1 0h1m4 0h1M110 185h21m1 0h1m1 0h4m1 0h11m1 0h8m2 0h1m1 0h1m1 0h1M109 186h26m1 0h1m1 0h8m4 0h4m1 0h1m4 0h3m2 0h1M107 187h42m1 0h4m1 0h1m1 0h4m2 0h1m4 0h1m6 0h1M107 188h26m1 0h8m1 0h12m1 0h1m2 0h2m1 0h1m1 0h1m1 0h1M105 189h23m1 0h1m1 0h15m1 0h13m4 0h1m1 0h1m1 0h1M104 190h40m1 0h10m1 0h4m2 0h1m6 0h1m1 0h1m1 0h1M102 191h25m1 0h27m1 0h1m1 0h3m2 0h1m4 0h2m3 0h2M102 192h34m1 0h9m1 0h4m1 0h2m1 0h8m3 0h2m5 0h1M100 193h23m1 0h2m1 0h7m1 0h23m1 0h2m2 0h3m3 0h1M98 194h37m1 0h7m1 0h6m1 0h9m2 0h1m4 0h1m6 0h1M98 195h22m1 0h24m1 0h13m1 0h1m3 0h4M96 196h47m1 0h4m1 0h3m1 0h6m1 0h1m1 0h1m1 0h1m3 0h1M95 197h34m1 0h3m1 0h9m1 0h1m1 0h6m1 0h9m1 0h1m1 0h1m1 0h2m3 0h1m7 0h1M94 198h27m1 0h7m1 0h18m1 0h13m1 0h2m1 0h1m5 0h1m5 0h1M92 199h35m1 0h4m1 0h28m1 0h1m1 0h3M91 200h32m1 0h16m1 0h16m1 0h3m2 0h1m1 0h6m1 0h1M90 201h27m1 0h36m1 0h4m1 0h1m1 0h3m3 0h1m3 0h1M89 202h27m1 0h12m1 0h28m1 0h1m1 0h3m1 0h2m1 0h1m2 0h1M87 203h21m1 0h3m2 0h25m1 0h6m1 0h15m2 0h2m2 0h1m2 0h2M86 204h54m1 0h7m1 0h5m1 0h4m1 0h5m2 0h2m1 0h1M84 205h41m1 0h3m2 0h4m1 0h3m1 0h9m1 0h3m1 0h5m2 0h1m7 0h1M84 206h27m3 0h4m1 0h4m1 0h3m1 0h2m1 0h7m1 0h15m1 0h6M82 207h26m1 0h4m1 0h6m1 0h1m1 0h16m1 0h13m1 0h2m1 0h2m1 0h1m1 0h1m1 0h1M81 208h47m1 0h14m1 0h4m2 0h1m3 0h5m2 0h2M80 209h28m1 0h10m1 0h19m1 0h14m2 0h1M79 210h52m1 0h6m1 0h10m1 0h3M77 211h35m1 0h1m1 0h3m1 0h5m1 0h1m1 0h7m1 0h6m1 0h3m1 0h2m1 0h1m2 0h1M76 212h48m1 0h5m1 0h6m3 0h4m1 0h3m5 0h2M75 213h23m1 0h1m1 0h4m1 0h21m1 0h4m1 0h8m1 0h1m6 0h1m2 0h1M74 214h26m1 0h34m1 0h1m1 0h1m5 0h1M73 215h27m1 0h2m1 0h10m1 0h4m1 0h6m1 0h4m1 0h6m2 0h3M71 216h22m1 0h14m1 0h10m1 0h9m1 0h3m4 0h2M70 217h30m1 0h20m1 0h6m3 0h2M69 218h24m1 0h5m1 0h19m2 0h5m2 0h1m4 0h1M67 219h32m1 0h12m1 0h3m1 0h5m1 0h2m1 0h1M66 220h38m1 0h5m2 0h3m2 0h4m1 0h1m1 0h1M65 221h46m3 0h5M65 222h29m1 0h7m1 0h10m1 0h1M63 223h27m1 0h10m1 0h6m1 0h1m1 0h1m1 0h1m2 0h1M62 224h27m1 0h2m1 0h6m1 0h3m1 0h6m5 0h1m1 0h1M60 225h40m1 0h2m3 0h2M60 226h29m1 0h3m1 0h4m1 0h2m3 0h1m1 0h1M58 227h32m1 0h5m1 0h2m1 0h2M57 228h29m1 0h5m1 0h1m1 0h2m1 0h2m3 0h1M56 229h26m1 0h1m1 0h2m3 0h2m1 0h1m4 0h1M55 230h23m1 0h4m1 0h1m1 0h1m3 0h2m3 0h1M53 231h20m1 0h4m1 0h8m1 0h1m1 0h2M52 232h28m1 0h2m2 0h2M51 233h26m1 0h4m1 0h2M50 234h22m2 0h4m1 0h1M48 235h25m1 0h2m2 0h1M48 236h20m1 0h2m5 0h1m1 0h1M47 237h20m1 0h3M46 238h14m1 0h5m1 0h1M45 239h19m1 0h1M44 240h15m1 0h2M43 241h17M42 242h16M41 243h15M40 244h11m3 0h1M39 245h11M38 246h10M37 247h10M37 248h8M37 249h6M38 250h3" stroke="#1d66c8"/><path d="M273 81h1M273 83h1M273 85h1M273 86h1M273 87h1M273 88h1M273 89h1M273 90h1M273 91h1M273 92h1M273 93h1M273 94h1M273 95h1M273 96h1M273 97h1M273 98h1M273 99h1M273 100h1M273 101h1M273 102h1M273 103h1M273 104h1M273 105h1M273 106h1M273 107h1M273 108h1M273 109h1M273 110h1M273 111h1M273 112h1M273 113h1M273 114h1M273 115h1M273 116h1M273 117h1M273 118h1M273 119h1M273 120h1M273 121h1M273 122h1M273 123h1M273 124h1M273 125h1M273 126h1M273 127h1M273 128h1M273 129h1M273 130h1M273 131h1M273 133h1M273 134h1M273 135h1M273 137h1M273 138h1M273 139h1M273 140h1M273 141h1M273 142h1M273 144h1M273 145h1M145 163h1M143 164h3m1 0h1M141 165h2m1 0h2M138 166h9M137 167h7m2 0h1M135 168h8m4 0h1M134 169h8m1 0h3M132 170h12m3 0h1M130 171h11m3 0h1M130 172h10m1 0h1m1 0h1M128 173h11m1 0h1M126 174h15M125 175h13m2 0h1M123 176h18M121 177h18M121 178h15m2 0h1M119 179h15m1 0h1m1 0h1M118 180h19M117 181h16m1 0h1M115 182h15m1 0h2M114 183h19M113 184h19M111 185h17m1 0h2M110 186h17m1 0h1M108 187h19M107 188h19M106 189h20M105 190h20M104 191h19M102 192h20M101 193h15m1 0h4M100 194h18m1 0h1M99 195h17m1 0h1M97 196h20M96 197h20M95 198h16m1 0h2M93 199h18m1 0h1M92 200h20M91 201h20M90 202h17m1 0h1M88 203h18m1 0h1M87 204h20M86 205h16m1 0h3M85 206h16m1 0h1m1 0h1M83 207h19M82 208h19M81 209h18m1 0h1M80 210h20M78 211h21M77 212h18M76 213h18m1 0h1M74 214h21M73 215h20M72 216h18m1 0h1M71 217h19M70 218h19M69 219h16m1 0h2M67 220h20M66 221h18m1 0h1M65 222h17m1 0h1M64 223h15m1 0h3M63 224h16m1 0h1M62 225h15m2 0h1M60 226h19M59 227h16m2 0h1M58 228h19M57 229h16m1 0h1M55 230h17m1 0h1M54 231h19M53 232h18M52 233h15m1 0h1M51 234h16m1 0h1M50 235h15M49 236h14m1 0h2M48 237h14M47 238h12M46 239h12M44 240h12M44 241h11M43 242h10M42 243h9M41 244h9M40 245h8M39 246h7M39 247h6M40 248h2" stroke="#2190da"/><path d="M137 170h2M132 171h4m1 0h1M132 172h1m1 0h4M129 173h7M128 174h9M126 175h8M124 176h10M123 177h10M122 178h10M121 179h10M119 180h11M118 181h11M117 182h11M115 183h11M114 184h12M113 185h12M111 186h13M110 187h12M108 188h13M107 189h13M106 190h13M104 191h14M103 192h13M102 193h14M101 194h13M100 195h13M98 196h14M97 197h14M96 198h13M94 199h14M93 200h14M92 201h14M90 202h14M89 203h14M88 204h14M87 205h14M85 206h14M84 207h14M83 208h14M82 209h14M80 210h14M79 211h14M78 212h14M77 213h14M75 214h14M74 215h14M73 216h14M72 217h13M70 218h14M70 219h13M68 220h14M67 221h14M65 222h14M64 223h14M63 224h14M62 225h14M61 226h13M60 227h13M58 228h13M58 229h12M56 230h12M55 231h13M54 232h12M53 233h12M52 234h12M51 235h11M50 236h11M48 237h12M48 238h10M47 239h9M46 240h9M44 241h10M44 242h8M44 243h6M42 244h6M43 245h3M43 246h1" stroke="#2cbfcf"/><path d="M124 180h1M122 181h1m3 0h1M124 182h1M118 183h1m1 0h1M116 184h2m4 0h1M115 185h6M113 186h4m1 0h1M112 187h7M110 188h7m1 0h1M109 189h8M107 190h9M106 191h9M105 192h9M103 193h11M102 194h10M100 195h11M99 196h11M98 197h10M96 198h12M95 199h11M94 200h11M92 201h12M91 202h12M90 203h12M89 204h12M87 205h12M86 206h12M85 207h11M84 208h11M83 209h12M81 210h12M80 211h11M79 212h11M77 213h13M76 214h12M75 215h12M74 216h11M72 217h12M72 218h11M70 219h12M69 220h12M67 221h13M66 222h12M65 223h11M64 224h11M63 225h11M62 226h10M61 227h10M60 228h10M58 229h11M57 230h10M56 231h10M55 232h10M54 233h9M53 234h9M52 235h8M51 236h8M50 237h7M49 238h6M48 239h7M48 240h5M48 241h4M46 242h1" stroke="#3fc27e"/><path d="M112 189h1M109 190h3M108 191h4M106 192h6M105 193h6M103 194h7M101 195h8M100 196h8M99 197h8M97 198h9M96 199h9M95 200h9M93 201h10M92 202h9M91 203h9M90 204h9M88 205h10M87 206h10M86 207h9M84 208h10M83 209h10M82 210h10M80 211h10M79 212h10M78 213h10M77 214h10M76 215h9M75 216h9M73 217h10M72 218h10M71 219h9M70 220h10M68 221h10M67 222h10M66 223h9M65 224h9M64 225h8M63 226h8M62 227h8M61 228h8M59 229h8M58 230h8M57 231h8M57 232h5M57 233h4M55 234h1m1 0h3M54 235h4M54 236h1m1 0h2" stroke="#5fc63a"/><path d="M105 193h4M104 194h5M102 195h6M101 196h6M99 197h7M98 198h7M96 199h8M95 200h8M94 201h8M93 202h8M91 203h8M90 204h8M89 205h8M87 206h9M86 207h9M85 208h8M84 209h8M82 210h9M81 211h9M80 212h8M79 213h8M78 214h8M76 215h9M75 216h8M74 217h8M73 218h7M72 219h7M70 220h8M70 221h7M69 222h5M68 223h6M67 224h2m1 0h3M67 225h4M64 226h6M64 227h3m1 0h1" stroke="#b4dc2a"/><path d="M105 194h1M103 195h3M101 196h5M100 197h5M98 198h7M97 199h6M95 200h7M94 201h7M93 202h7M92 203h7M90 204h8M89 205h8M88 206h7M87 207h7M85 208h8M84 209h8M83 210h7M82 211h7M81 212h7M80 213h6M79 214h7M78 215h6M77 216h5M78 217h2M76 218h2" stroke="#f3e41d"/><path d="M102 196h3M100 197h4M99 198h5M97 199h6M96 200h6M94 201h7M93 202h7M92 203h7M91 204h6M89 205h7M88 206h7M87 207h7M86 208h6M85 209h6M83 210h7M83 211h6M81 212h6M80 213h6M79 214h5M79 215h3M80 216h1" stroke="#f8a71b"/><path d="M101 197h3M99 198h4M98 199h5M96 200h5M95 201h5M94 202h5M92 203h6M91 204h6M90 205h6M89 206h6M87 207h6M87 208h5M85 209h6M84 210h5M83 211h5M82 212h4M83 213h2" stroke="#ef521e"/><path d="M101 197h1M100 198h2M98 199h3M97 200h4M95 201h5M94 202h5M93 203h5M91 204h5M91 205h4M89 206h5M88 207h5M87 208h4M86 209h1m1 0h2M85 210h4M84 211h3M83 212h1" stroke="#df1f1b"/></g>
<rect x="1417.5" y="80" width="414.5" height="414.5" fill="#fff" stroke="#8c8c8c" stroke-width="1.15"/>
<g transform="translate(1418.5 81.75) scale(1.5)" fill="none" stroke-width="1" shape-rendering="crispEdges"><path d="M170 232h1M154 233h1m1 0h1m12 0h1m1 0h1m6 0h1m1 0h1m16 0h1m10 0h1M108 234h1m5 0h1m30 0h1m1 0h5m3 0h2m2 0h2m2 0h2m3 0h3m1 0h1m1 0h1m1 0h1m2 0h3m2 0h1m3 0h16m1 0h3m13 0h1M115 235h1m5 0h1m1 0h1m9 0h2m3 0h7m1 0h18m1 0h2m1 0h12m1 0h7m1 0h19m1 0h4m1 0h2M114 236h2m17 0h1m2 0h1m1 0h3m1 0h15m1 0h1m1 0h17m1 0h2m1 0h1m1 0h30m1 0h1m4 0h1m1 0h1M108 237h1m5 0h2m2 0h2m1 0h1m2 0h1m1 0h1m3 0h2m5 0h40m1 0h1m1 0h4m1 0h23m1 0h7m12 0h1M92 238h1m14 0h1m5 0h3m1 0h1m2 0h1m3 0h1m2 0h3m4 0h1m2 0h4m1 0h3m1 0h27m1 0h42m6 0h1M96 239h1m15 0h2m4 0h1m6 0h1m3 0h1m5 0h1m1 0h17m1 0h61M107 240h1m2 0h1m1 0h1m3 0h1m2 0h2m3 0h1m10 0h1m1 0h7m1 0h1m1 0h6m2 0h4m1 0h4m1 0h5m1 0h46m3 0h1M109 241h1m11 0h1m1 0h1m8 0h3m1 0h1m1 0h1m2 0h13m2 0h6m1 0h5m1 0h45m1 0h3m4 0h1M101 242h1m2 0h1m7 0h1m4 0h1m7 0h1m2 0h1m1 0h1m3 0h4m1 0h5m1 0h22m1 0h9m1 0h42M108 243h1m1 0h1m1 0h1m4 0h2m2 0h3m3 0h1m2 0h1m1 0h13m1 0h10m2 0h22m1 0h34m1 0h3m4 0h1m2 0h1M113 244h1m15 0h2m1 0h1m1 0h4m1 0h2m2 0h4m1 0h2m1 0h3m1 0h3m1 0h58m2 0h3m11 0h1M104 245h2m2 0h1m1 0h1m4 0h3m8 0h1m1 0h1m1 0h15m1 0h10m1 0h7m1 0h12m1 0h36m1 0h4m1 0h1m1 0h1M109 246h1m8 0h1m7 0h2m1 0h1m1 0h1m1 0h1m1 0h8m1 0h19m1 0h58M116 247h1m6 0h1m5 0h3m1 0h20m1 0h3m1 0h4m1 0h4m1 0h49m2 0h3M111 248h2m1 0h1m9 0h2m1 0h1m1 0h12m1 0h19m1 0h1m1 0h10m1 0h43m1 0h1m4 0h1M112 249h1m6 0h2m1 0h3m1 0h3m2 0h12m1 0h3m1 0h6m1 0h1m1 0h1m1 0h14m1 0h43m1 0h2M101 250h1m6 0h1m1 0h1m4 0h1m5 0h2m1 0h1m2 0h14m1 0h75m1 0h2m6 0h1M101 251h1m5 0h1m2 0h1m1 0h1m2 0h1m3 0h1m2 0h2m1 0h1m1 0h1m1 0h13m1 0h7m1 0h4m1 0h12m1 0h2m1 0h45m1 0h2m1 0h1M93 252h1m7 0h1m3 0h1m17 0h2m2 0h10m1 0h2m1 0h11m1 0h1m1 0h2m1 0h5m1 0h5m1 0h45m1 0h5M105 253h1m10 0h2m4 0h1m2 0h21m1 0h5m1 0h8m1 0h2m1 0h50m2 0h3m2 0h1m6 0h1M104 254h2m2 0h1m12 0h1m2 0h21m2 0h8m1 0h1m1 0h3m2 0h6m1 0h46m1 0h2m1 0h1M113 255h1m1 0h1m2 0h1m2 0h1m2 0h1m1 0h1m2 0h12m1 0h4m1 0h72M101 256h1m12 0h3m2 0h3m1 0h33m1 0h10m1 0h6m1 0h37m1 0h1m1 0h2m3 0h1m5 0h1M113 257h1m3 0h1m2 0h2m1 0h20m1 0h3m1 0h12m1 0h1m1 0h55m1 0h1m1 0h1M112 258h1m2 0h1m1 0h1m1 0h2m1 0h28m1 0h5m1 0h4m1 0h8m1 0h45m2 0h1M118 259h1m1 0h19m1 0h3m1 0h23m1 0h3m1 0h43m1 0h2m6 0h1M103 260h1m5 0h1m8 0h1m1 0h10m1 0h22m1 0h12m1 0h2m1 0h3m1 0h41m13 0h2M118 261h8m1 0h28m1 0h8m1 0h4m1 0h4m1 0h2m1 0h35m1 0h2M105 262h1m6 0h2m3 0h1m3 0h1m1 0h20m1 0h1m1 0h14m1 0h6m1 0h2m1 0h5m1 0h34m1 0h1m15 0h1M115 263h1m1 0h1m2 0h1m1 0h2m1 0h2m1 0h1m1 0h13m1 0h25m2 0h2m1 0h1m1 0h36m7 0h1M118 264h1m9 0h1m1 0h2m1 0h1m1 0h1m1 0h1m4 0h2m7 0h1m1 0h1m4 0h1m2 0h2m4 0h1m3 0h2m6 0h5m2 0h3m1 0h2m1 0h3m1 0h1m1 0h1m1 0h1m3 0h1m5 0h2M156 265h1m13 0h1m15 0h1m5 0h2M146 267h1" stroke="#3247a4"/><path d="M194 234h1m1 0h5M147 235h17m1 0h2m1 0h7m3 0h1m2 0h7m1 0h19m1 0h1M142 236h15m1 0h1m1 0h17m1 0h2m1 0h1m1 0h30M142 237h35m1 0h1m1 0h4m1 0h23m1 0h6M142 238h3m1 0h27m1 0h41M139 239h15m1 0h61M139 240h5m1 0h1m1 0h6m2 0h4m1 0h4m1 0h5m1 0h46M138 241h1m2 0h13m2 0h6m1 0h5m1 0h45m1 0h2M137 242h1m1 0h5m1 0h22m1 0h9m1 0h39M137 243h8m1 0h10m2 0h22m1 0h34m1 0h2M136 244h2m1 0h2m2 0h4m1 0h2m1 0h3m1 0h3m1 0h58M134 245h11m1 0h10m1 0h7m1 0h12m1 0h36m1 0h2M135 246h8m1 0h19m1 0h54M133 247h20m1 0h3m1 0h4m1 0h4m1 0h49M132 248h9m1 0h19m1 0h1m1 0h10m1 0h43M131 249h12m1 0h3m1 0h6m1 0h1m1 0h1m1 0h14m1 0h43m1 0h1M130 250h11m1 0h75M129 251h13m1 0h7m1 0h4m1 0h12m1 0h2m1 0h45m1 0h1M127 252h10m1 0h2m1 0h11m1 0h1m1 0h2m1 0h5m1 0h5m1 0h45m1 0h3M127 253h19m1 0h5m1 0h8m1 0h2m1 0h50m2 0h1M125 254h20m2 0h8m1 0h1m1 0h3m2 0h6m1 0h46M126 255h1m2 0h12m1 0h4m1 0h70M124 256h32m1 0h10m1 0h6m1 0h37m1 0h1m1 0h1M124 257h19m1 0h3m1 0h12m1 0h1m1 0h54M123 258h27m1 0h5m1 0h4m1 0h8m1 0h45M123 259h16m1 0h3m1 0h23m1 0h3m1 0h42M123 260h7m1 0h22m1 0h12m1 0h2m1 0h3m1 0h40M123 261h3m1 0h28m1 0h8m1 0h4m1 0h4m1 0h2m1 0h35M123 262h20m1 0h1m1 0h14m1 0h6m1 0h2m1 0h5m1 0h34M130 263h6m1 0h4m1 0h1m1 0h1m4 0h1m4 0h2m12 0h1m9 0h26" stroke="#2450b2"/><path d="M189 235h18M158 236h1m26 0h25M153 237h2m7 0h1m20 0h1m1 0h23m1 0h3M150 238h1m30 0h32M145 239h2m4 0h1m14 0h1m13 0h33M151 240h1m6 0h1m20 0h35M150 241h1m6 0h1m5 0h1m6 0h1m8 0h35M148 242h1m9 0h1m4 0h1m12 0h1m1 0h37M160 243h1m17 0h2m1 0h33M146 244h1m31 0h37M141 245h1m13 0h1m22 0h36m1 0h1M144 246h1m1 0h1m2 0h1m3 0h1m1 0h1m20 0h39M138 247h1m16 0h1m8 0h1m10 0h40M148 248h1m7 0h1m18 0h40M140 249h1m33 0h41M134 250h2m9 0h1m4 0h1m1 0h1m13 0h1m7 0h41M132 251h1m1 0h1m2 0h2m1 0h2m3 0h1m1 0h1m10 0h1m15 0h41M131 252h1m1 0h4m1 0h2m2 0h2m11 0h1m4 0h2m5 0h1m7 0h40M130 253h13m2 0h1m4 0h1m12 0h1m11 0h39M129 254h16m2 0h1m2 0h1m15 0h1m7 0h39M129 255h12m1 0h3m2 0h1m11 0h1m14 0h40M127 256h17m1 0h1m2 0h1m26 0h37M127 257h16m1 0h2m4 0h1m4 0h1m3 0h1m5 0h1m8 0h38M127 258h17m2 0h2m6 0h1m13 0h1m6 0h36M126 259h1m1 0h11m1 0h3m1 0h1m3 0h1m1 0h1m11 0h1m13 0h34M127 260h3m1 0h13m1 0h2m2 0h1m9 0h1m17 0h31M128 261h17m3 0h2m6 0h1m3 0h1m17 0h30M129 262h1m1 0h9m38 0h28M183 263h19" stroke="#1d66c8"/><path d="M193 235h12M188 236h19M187 237h21M185 238h25M184 239h27M183 240h29M182 241h30M181 242h32M181 243h32M179 244h34M179 245h35M178 246h35M179 247h35M178 248h36M177 249h36M177 250h36M177 251h36M177 252h36M177 253h35M177 254h35M177 255h34M132 256h4m1 0h1m40 0h32M133 257h2m1 0h4m37 0h33M134 258h2m1 0h1m40 0h31M133 259h1m2 0h1m42 0h29M179 260h27M180 261h25M181 262h22M186 263h13" stroke="#2190da"/><path d="M193 236h8m1 0h2M189 237h17M188 238h20M186 239h22M184 240h1m1 0h24M184 241h27M183 242h29M182 243h29M182 244h30M181 245h31M180 246h32M180 247h32M179 248h33M179 249h33M180 250h31M179 251h32M180 252h31M178 253h33M179 254h31M178 255h32M180 256h29M180 257h28M180 258h27M180 259h25M181 260h23M184 261h19M184 262h15" stroke="#2cbfcf"/><path d="M198 237h1M197 238h1M194 239h1m1 0h1m1 0h3m2 0h1M189 240h2m1 0h14M189 241h1m1 0h17M188 242h19M186 243h22M185 244h25M185 245h25M182 246h27M183 247h27M183 248h26M182 249h28M182 250h28M181 251h28M182 252h27M181 253h27M181 254h28M181 255h26M182 256h24m1 0h1M182 257h24M184 258h21M184 259h19M184 260h18M187 261h14M190 262h5" stroke="#3fc27e"/><path d="M197 241h2M192 242h1m1 0h9M191 243h15M190 244h16M189 245h18M187 246h20M186 247h22M186 248h22M186 249h22M185 250h23M184 251h24M184 252h23M183 253h24M183 254h24M183 255h23M184 256h21M185 257h18M184 258h19M185 259h16M187 260h12M192 261h2" stroke="#5fc63a"/><path d="M194 244h1m3 0h3M191 245h1m2 0h9M192 246h13M190 247h15M188 248h19M186 249h1m1 0h18M185 250h1m1 0h20M186 251h20M185 252h21M185 253h20M186 254h19M185 255h19M185 256h18M186 257h16M187 258h13M189 259h8M190 260h1" stroke="#b4dc2a"/><path d="M197 247h5M193 248h11M190 249h15M190 250h15M188 251h17M187 252h18M187 253h18M188 254h16M187 255h16M187 256h15M188 257h12M189 258h9M191 259h2" stroke="#f3e41d"/><path d="M196 248h1m1 0h3M193 249h1m1 0h8M191 250h13M191 251h14M190 252h14M190 253h14M189 254h14M189 255h13M190 256h11M191 257h8M192 258h5" stroke="#f8a71b"/><path d="M197 249h5M195 250h7M193 251h10M192 252h11M192 253h11M191 254h11M191 255h1m1 0h9M192 256h8M191 257h7" stroke="#ef521e"/><path d="M196 250h1m2 0h1M196 251h7M194 252h8M193 253h9M194 254h7M193 255h7M194 256h5M196 257h1" stroke="#df1f1b"/></g>
<rect x="1931.5" y="80" width="414.5" height="414.5" fill="#fff" stroke="#8c8c8c" stroke-width="1.15"/>
<g transform="translate(1932.5 81.75) scale(1.5)" fill="none" stroke-width="1" shape-rendering="crispEdges"><path d="M120 233h1m12 0h1m30 0h1m1 0h1m10 0h1m7 0h1m10 0h1M102 234h1m4 0h1m9 0h1m1 0h2m2 0h3m4 0h6m5 0h1m3 0h1m2 0h2m6 0h3m1 0h1m1 0h3m5 0h4m8 0h1m1 0h2m2 0h2m1 0h4m1 0h1M112 235h2m2 0h1m1 0h1m1 0h2m1 0h12m1 0h25m1 0h1m1 0h4m1 0h2m2 0h3m1 0h4m1 0h6m2 0h4m2 0h6m6 0h2m5 0h1M111 236h2m4 0h4m1 0h3m1 0h29m2 0h3m1 0h8m1 0h17m1 0h7m1 0h4m1 0h2m2 0h1M94 237h1m1 0h1m11 0h1m3 0h1m1 0h2m1 0h2m2 0h3m2 0h36m1 0h6m1 0h9m1 0h11m1 0h6m1 0h1m2 0h1m5 0h1m2 0h1m1 0h1M101 238h1m5 0h1m3 0h8m1 0h4m1 0h37m1 0h5m2 0h11m1 0h9m1 0h7m1 0h3m6 0h1M110 239h1m1 0h4m1 0h3m1 0h3m2 0h4m1 0h33m1 0h35m1 0h2m1 0h1M107 240h1m2 0h1m1 0h2m2 0h53m2 0h3m1 0h3m1 0h3m1 0h8m1 0h13M110 241h3m1 0h2m1 0h8m1 0h39m1 0h1m2 0h2m1 0h7m1 0h19m2 0h1m1 0h2m6 0h1m8 0h1M101 242h1m1 0h1m5 0h4m1 0h67m1 0h20m1 0h4M108 243h1m1 0h10m1 0h2m1 0h59m1 0h22m1 0h1m1 0h1M108 244h1m1 0h1m1 0h4m1 0h1m1 0h4m1 0h53m1 0h4m1 0h13m1 0h6m1 0h4m1 0h1m3 0h1m1 0h1M93 245h1m15 0h5m1 0h9m1 0h77m1 0h4M80 246h1m15 0h1m1 0h1m6 0h2m2 0h5m1 0h43m1 0h9m1 0h5m1 0h11m1 0h12m1 0h2m1 0h3m12 0h1M110 247h2m1 0h11m1 0h49m1 0h32m1 0h1m6 0h1M90 248h1m17 0h5m2 0h4m1 0h42m1 0h33m1 0h10m3 0h1m2 0h1m1 0h1M100 249h1m5 0h1m1 0h4m1 0h7m1 0h40m1 0h8m1 0h8m1 0h20m1 0h4m1 0h1m4 0h1m7 0h1M107 250h2m1 0h2m1 0h1m1 0h92m18 0h1M107 251h2m1 0h4m1 0h9m1 0h46m1 0h24m1 0h10M98 252h1m3 0h1m2 0h1m3 0h60m1 0h33m1 0h3m2 0h1m8 0h1M96 253h1m4 0h1m8 0h4m1 0h3m1 0h80m1 0h1m1 0h6M105 254h1m3 0h5m1 0h62m1 0h30m20 0h1M90 255h2m14 0h2m1 0h53m1 0h43m2 0h1M108 256h2m2 0h5m1 0h50m1 0h6m1 0h30m4 0h1m1 0h1m8 0h1M113 257h3m1 0h53m1 0h35m15 0h1M93 258h1m1 0h1m10 0h1m1 0h1m3 0h2m1 0h1m1 0h4m1 0h39m1 0h4m2 0h37M96 259h1m17 0h1m1 0h11m1 0h34m1 0h2m1 0h1m1 0h8m1 0h27m2 0h2m3 0h1M109 260h1m1 0h1m2 0h7m2 0h3m1 0h1m1 0h43m1 0h25m1 0h4m1 0h1m4 0h1M89 261h1m5 0h1m17 0h2m1 0h6m1 0h32m1 0h5m3 0h8m1 0h24m1 0h1m1 0h5m4 0h1M109 262h1m2 0h1m1 0h7m1 0h6m1 0h2m1 0h1m1 0h22m1 0h2m2 0h4m1 0h1m1 0h5m1 0h1m1 0h5m1 0h20m5 0h1m1 0h2M113 263h1m4 0h12m1 0h1m2 0h3m1 0h3m1 0h16m1 0h5m1 0h3m1 0h4m1 0h4m1 0h3m1 0h9m2 0h4m1 0h3m6 0h1M120 264h2m1 0h1m2 0h1m1 0h1m3 0h1m1 0h1m2 0h2m1 0h5m1 0h1m2 0h2m8 0h1m6 0h1m1 0h2m3 0h1m3 0h2m2 0h1m1 0h1m2 0h2m9 0h1M129 265h1m12 0h1m13 0h1m18 0h1M134 266h1" stroke="#3247a4"/><path d="M128 235h7m1 0h19m2 0h4m5 0h1m15 0h2m8 0h1M119 236h2m1 0h3m1 0h29m2 0h3m1 0h8m1 0h17m1 0h7m1 0h4M118 237h1m2 0h3m2 0h36m1 0h6m1 0h9m1 0h11m1 0h6m1 0h1M115 238h4m1 0h4m1 0h37m1 0h5m2 0h11m1 0h9m1 0h7m1 0h3M114 239h2m1 0h3m1 0h3m2 0h4m1 0h33m1 0h35m1 0h2M113 240h1m2 0h53m2 0h3m1 0h3m1 0h3m1 0h8m1 0h12M114 241h2m1 0h8m1 0h39m1 0h1m2 0h2m1 0h7m1 0h19m2 0h1m1 0h1M111 242h2m1 0h67m1 0h20m1 0h2M111 243h9m1 0h2m1 0h59m1 0h22M112 244h4m1 0h1m1 0h4m1 0h53m1 0h4m1 0h13m1 0h6m1 0h2M111 245h3m1 0h9m1 0h77m1 0h3M111 246h3m1 0h43m1 0h9m1 0h5m1 0h11m1 0h12m1 0h2m1 0h3M110 247h2m1 0h11m1 0h49m1 0h31M110 248h3m2 0h4m1 0h42m1 0h33m1 0h9M110 249h2m1 0h7m1 0h40m1 0h8m1 0h8m1 0h20m1 0h4M110 250h2m1 0h1m1 0h91M110 251h4m1 0h9m1 0h46m1 0h24m1 0h9M110 252h59m1 0h33m1 0h2M110 253h4m1 0h3m1 0h80m1 0h1m1 0h4M111 254h3m1 0h62m1 0h28M111 255h51m1 0h42M112 256h4m2 0h50m1 0h6m1 0h29M113 257h3m1 0h53m1 0h34M113 258h1m3 0h4m1 0h39m1 0h4m2 0h36M114 259h1m1 0h11m1 0h34m1 0h2m1 0h1m1 0h8m1 0h27M114 260h3m1 0h3m2 0h3m1 0h1m1 0h43m1 0h25m1 0h4M117 261h5m1 0h32m1 0h5m3 0h8m1 0h24m1 0h1m1 0h2M118 262h1m1 0h1m1 0h6m1 0h2m1 0h1m1 0h22m1 0h2m2 0h4m1 0h1m1 0h5m1 0h1m1 0h5m1 0h19M134 263h3m1 0h3m1 0h12m30 0h5m1 0h2" stroke="#2450b2"/><path d="M136 235h14M131 236h23M128 237h1m2 0h24m29 0h1M128 238h28m29 0h1m1 0h1m1 0h1m3 0h1M128 239h2m1 0h27m20 0h1m4 0h8m1 0h1m1 0h1M127 240h31m22 0h1m2 0h8m2 0h1m1 0h2M126 241h34m16 0h3m1 0h11m1 0h3M126 242h34m15 0h1m1 0h4m1 0h9m1 0h2m1 0h2M124 243h37m14 0h8m1 0h13m2 0h2M125 244h36m10 0h1m4 0h1m1 0h4m1 0h13m1 0h2m1 0h1M125 245h37m11 0h22m1 0h3M125 246h33m1 0h3m13 0h11m1 0h12m2 0h1M125 247h37m10 0h2m1 0h26M123 248h39m10 0h24m1 0h4M124 249h37m10 0h8m1 0h20M124 250h38m9 0h31M125 251h36m13 0h22m1 0h4M124 252h37m10 0h31M124 253h37m12 0h26m1 0h1M124 254h38m7 0h1m1 0h6m1 0h23M124 255h36m12 0h29M126 256h34m13 0h2m1 0h24M125 257h34m14 0h27M127 258h32m13 0h1m1 0h25M126 259h1m1 0h30m16 0h2m1 0h22M129 260h29m18 0h20m1 0h1M130 261h25m21 0h19m1 0h1M132 262h1m1 0h20m28 0h9m1 0h1M138 263h3m1 0h8" stroke="#1d66c8"/><path d="M141 235h1m4 0h1M134 236h17M133 237h20M131 238h23M131 239h25M129 240h28M128 241h29M128 242h30M127 243h32M127 244h32M126 245h34M126 246h32m1 0h1M126 247h34m25 0h1m4 0h1M125 248h35m22 0h1m2 0h8M125 249h35m21 0h13M125 250h35m21 0h14m1 0h1M125 251h35m19 0h17M126 252h34m19 0h18M126 253h34m17 0h19M127 254h33m18 0h20M127 255h32m18 0h20M127 256h32m19 0h1m1 0h16M128 257h30m21 0h16M129 258h28m24 0h13M130 259h27m26 0h7m1 0h1M130 260h24m28 0h2m1 0h3M132 261h22M134 262h17" stroke="#2190da"/><path d="M138 236h1m1 0h1m1 0h2M136 237h9m1 0h2M135 238h17M132 239h21M132 240h22M130 241h25M130 242h26M130 243h26M128 244h29M128 245h30M128 246h30M128 247h30M127 248h31M127 249h31M127 250h32M128 251h30m28 0h2M128 252h30m27 0h4m1 0h2M128 253h30m26 0h9M128 254h29m27 0h9M129 255h28m26 0h6m1 0h2M130 256h27m27 0h4m1 0h3M130 257h26m28 0h2m1 0h1M131 258h25M132 259h22M133 260h20M135 261h16M139 262h7" stroke="#2cbfcf"/><path d="M137 239h7m1 0h1m1 0h1M136 240h1m1 0h11M134 241h17M135 242h17M133 243h21M132 244h22M132 245h24M131 246h24M131 247h24M130 248h26M131 249h25M130 250h25M131 251h24M131 252h25M130 253h26M131 254h24M132 255h23M132 256h22M133 257h21M134 258h18M134 259h16M137 260h13M139 261h7m1 0h1" stroke="#3fc27e"/><path d="M140 241h2m3 0h1M140 242h4m1 0h1m2 0h1M136 243h16M135 244h16M134 245h18M134 246h18M134 247h20M134 248h20M133 249h21M133 250h21M132 251h22M131 252h23M133 253h21M133 254h20M133 255h20M134 256h19M134 257h18M136 258h14M137 259h12M140 260h6" stroke="#5fc63a"/><path d="M143 243h1M144 244h1M139 245h1m1 0h7M137 246h3m1 0h9M137 247h14M134 248h19M135 249h17M135 250h17M135 251h17M134 252h19M134 253h18M135 254h17M135 255h16M135 256h16M136 257h14M137 258h12M139 259h8" stroke="#b4dc2a"/><path d="M143 247h1m2 0h1M139 248h1m1 0h7M138 249h12M137 250h13M136 251h15M136 252h14M135 253h16M136 254h14M136 255h14M137 256h12M138 257h11M139 258h8M141 259h3" stroke="#f3e41d"/><path d="M142 248h1M141 249h6M139 250h10M137 251h12M137 252h13M137 253h13M136 254h13M137 255h12M137 256h11M138 257h9M140 258h6" stroke="#f8a71b"/><path d="M141 249h1m1 0h3M140 250h6M139 251h8M139 252h9M138 253h10m1 0h1M137 254h11M138 255h10M138 256h10M139 257h7M142 258h3" stroke="#ef521e"/><path d="M142 250h3M140 251h7M140 252h7M139 253h3m2 0h3M139 254h7M139 255h8M139 256h2m1 0h4M140 257h5" stroke="#df1f1b"/></g>
<rect x="380.5" y="600" width="414.5" height="415" fill="#fff" stroke="#8c8c8c" stroke-width="1.15"/>
<g transform="translate(381.5 601.75) scale(1.5)" fill="none" stroke-width="1" shape-rendering="crispEdges"><path d="M91 236h1m18 0h1M65 237h1m26 0h1m1 0h1m4 0h1M75 238h1m13 0h1m3 0h2m1 0h5M90 239h1m1 0h1m3 0h1m6 0h1M86 240h1m1 0h2m1 0h4m2 0h1m1 0h2m1 0h2m1 0h1M84 241h5m1 0h2m1 0h3m1 0h6m2 0h5m1 0h1M70 242h1m3 0h1m3 0h1m5 0h2m3 0h3m2 0h11m2 0h1m3 0h1m4 0h1M81 243h4m1 0h2m1 0h2m1 0h11m1 0h2m1 0h3m1 0h2M74 244h1m3 0h1m4 0h1m1 0h1m1 0h4m1 0h10m2 0h8M62 245h1m1 0h1m10 0h1m5 0h2m1 0h7m1 0h2m2 0h4m1 0h7m1 0h2m1 0h1m10 0h1M79 246h1m1 0h1m1 0h6m1 0h23m37 0h1M82 247h1m1 0h4m1 0h17m1 0h3m1 0h2M80 248h2m1 0h1m2 0h26m2 0h2m4 0h1M56 249h1m22 0h12m1 0h18m2 0h1m1 0h1M49 250h1m18 0h1m12 0h1m1 0h30m1 0h1m1 0h1m31 0h1M80 251h33m2 0h1M74 252h1m3 0h2m5 0h25m1 0h3m2 0h1M67 253h1m12 0h1m2 0h1m1 0h29m1 0h1M72 254h1m4 0h2m6 0h29M72 255h1m5 0h1m2 0h3m1 0h27m1 0h1M72 256h1m5 0h1m2 0h6m1 0h24m1 0h3M67 257h1m12 0h1m1 0h1m2 0h29M74 258h1m5 0h1m2 0h1m2 0h25m1 0h3m1 0h1M75 259h1m7 0h2m1 0h22m1 0h5M82 260h3m1 0h16m1 0h6m3 0h2M81 261h1m3 0h1m2 0h21m1 0h1m3 0h1M75 262h1m7 0h1m1 0h2m1 0h19M85 263h2m2 0h3m1 0h7m1 0h2m1 0h1m1 0h1m1 0h2M71 264h1m20 0h1m2 0h1m1 0h1m1 0h1m3 0h1m1 0h1M88 265h1m1 0h1m6 0h1M108 266h1" stroke="#3247a4"/><path d="M94 238h1m2 0h2m1 0h1M92 239h1m3 0h1M89 240h1m1 0h4m2 0h1m1 0h2m1 0h2m1 0h1M90 241h2m1 0h3m1 0h6m2 0h5M85 242h1m3 0h3m2 0h11m2 0h1M84 243h1m1 0h2m1 0h2m1 0h11m1 0h2m1 0h3m1 0h1M83 244h1m1 0h1m1 0h4m1 0h10m2 0h8M84 245h7m1 0h2m2 0h4m1 0h7m1 0h2M81 246h1m1 0h6m1 0h23M82 247h1m1 0h4m1 0h17m1 0h3m1 0h2M80 248h2m1 0h1m2 0h26m2 0h1M81 249h10m1 0h18m2 0h1m1 0h1M81 250h1m1 0h30m1 0h1M80 251h2m1 0h30M85 252h25m1 0h3M80 253h1m2 0h1m1 0h29m1 0h1M85 254h29M81 255h3m1 0h27m1 0h1M81 256h6m1 0h24m1 0h1M82 257h1m2 0h29M83 258h1m2 0h25M84 259h1m1 0h22m1 0h3m1 0h1M83 260h2m1 0h16m1 0h6m3 0h1M85 261h1m2 0h21m1 0h1M89 262h18M91 263h1m1 0h7m1 0h2m1 0h1m1 0h1" stroke="#2450b2"/><path d="M92 240h1m4 0h1m5 0h1M91 241h1m1 0h3m1 0h1m2 0h1m5 0h1M91 242h1m2 0h11M86 243h2m1 0h2m1 0h11m1 0h2M85 244h1m2 0h3m1 0h10m2 0h5m2 0h1M85 245h1m2 0h3m1 0h2m2 0h4m1 0h7m1 0h2M83 246h1m2 0h3m1 0h22M87 247h1m1 0h17m1 0h3m1 0h1M81 248h1m1 0h1m2 0h25M84 249h7m1 0h18M81 250h1m1 0h30m1 0h1M84 251h29M85 252h25m1 0h3M83 253h1m1 0h28M85 254h28M82 255h1m2 0h27M83 256h4m1 0h24m1 0h1M85 257h26m1 0h1M86 258h25M86 259h22m1 0h3M86 260h1m1 0h14m1 0h6M88 261h20M89 262h18M94 263h1m1 0h4m1 0h2m1 0h1" stroke="#1d66c8"/><path d="M94 241h1m5 0h1M94 242h1m1 0h1m3 0h1m1 0h1M86 243h1m5 0h1m1 0h7M92 244h10m2 0h3M90 245h1m1 0h2m2 0h4m1 0h7M86 246h1m5 0h16M87 247h1m2 0h16m1 0h2M86 248h2m1 0h22M87 249h4m1 0h17M84 250h1m1 0h24m1 0h1M87 251h24M85 252h1m1 0h23m1 0h1M87 253h25M85 254h28M86 255h24m1 0h1M85 256h1m2 0h23M86 257h24M89 258h20m1 0h1M88 259h20m1 0h1M88 260h1m1 0h12m1 0h6M90 261h4m1 0h11m1 0h1M92 262h1m3 0h4m1 0h3m1 0h1M102 263h1" stroke="#2190da"/><path d="M96 242h1M94 244h1m2 0h3m1 0h1m2 0h1M93 245h1m2 0h1m2 0h1m1 0h3m1 0h1M93 246h2m1 0h7M92 247h14M90 248h1m2 0h13m2 0h1M89 249h1m2 0h14M89 250h1m1 0h18M89 251h19m1 0h1M87 252h1m1 0h2m1 0h16m3 0h1M89 253h22M88 254h23M87 255h1m1 0h21M88 256h20M88 257h2m1 0h17m1 0h1M89 258h2m1 0h14m1 0h1M91 259h15m3 0h1M93 260h9m1 0h4M93 261h1m1 0h1m1 0h5m1 0h1M97 262h1m1 0h1M102 263h1" stroke="#2cbfcf"/><path d="M94 244h1m3 0h1M94 246h1m4 0h2M93 247h6m1 0h1m1 0h1m1 0h1M96 248h10m2 0h1M93 249h12M92 250h13m2 0h1M92 251h15M90 252h1m1 0h16M89 253h1m2 0h15m3 0h1M89 254h20M90 255h17m1 0h1M91 256h16M89 257h1m2 0h14M92 258h1m2 0h10M92 259h9m1 0h1m2 0h1M96 260h2m1 0h3" stroke="#3fc27e"/><path d="M96 247h1m1 0h1M97 248h7M96 249h2m1 0h1m1 0h4M92 250h5m1 0h5m1 0h1M94 251h13M92 252h1m2 0h11M92 253h1m1 0h12M90 254h2m1 0h13M91 255h14M93 256h11m2 0h1M93 257h13M95 258h7m2 0h1M94 259h2m1 0h2M96 260h1m2 0h2" stroke="#5fc63a"/><path d="M96 249h1m4 0h1M100 250h3M95 251h8m1 0h1M92 252h1m2 0h10M92 253h1m1 0h11M93 254h1m1 0h11M94 255h10M93 256h1m1 0h9M96 257h8M96 258h6M94 259h1m2 0h1" stroke="#b4dc2a"/><path d="M101 251h1M97 252h6M95 253h6m1 0h1m1 0h1M95 254h10M96 255h8M97 256h4m1 0h1M97 257h5M97 258h1" stroke="#f3e41d"/><path d="M97 252h1m2 0h3M96 253h1m2 0h2M99 254h6M97 255h5m1 0h1M97 256h4M98 257h4" stroke="#f8a71b"/><path d="M97 252h1M100 253h1M99 254h4M97 255h5M97 256h4M98 257h3" stroke="#ef521e"/><path d="M99 254h1m1 0h1M98 255h1m1 0h2M98 256h2M98 257h1" stroke="#df1f1b"/></g>
<rect x="904" y="600" width="414" height="414.5" fill="#fff" stroke="#8c8c8c" stroke-width="1.15"/>
<g transform="translate(905 601.75) scale(1.5)" fill="none" stroke-width="1" shape-rendering="crispEdges"><path d="M70 235h1m9 0h1m10 0h1m5 0h1m48 0h1M18 236h1m68 0h1m5 0h1M64 237h1m9 0h1m7 0h1m1 0h1m26 0h1m6 0h1M45 238h1m6 0h1m4 0h1m5 0h1m4 0h1m14 0h3m4 0h1m3 0h2m2 0h1m2 0h2M12 239h1m30 0h1m12 0h1m19 0h1m1 0h4m1 0h5m3 0h6m49 0h1m2 0h1M55 240h1m2 0h1m1 0h1m13 0h1m3 0h1m1 0h1m2 0h5m1 0h4m1 0h2m1 0h2m4 0h1M12 241h1m13 0h1m14 0h1m23 0h1m1 0h1m3 0h1m3 0h2m3 0h5m1 0h1m2 0h2m1 0h1m2 0h2m1 0h4m22 0h1m9 0h1M28 242h1m38 0h1m5 0h1m1 0h1m1 0h2m3 0h2m1 0h6m1 0h1m1 0h2m1 0h1m1 0h1m8 0h1m27 0h1m1 0h1m9 0h1m6 0h1M23 243h1m29 0h1m13 0h1m1 0h1m2 0h1m1 0h1m2 0h1m1 0h2m1 0h13m1 0h3m1 0h2m1 0h2m12 0h2m27 0h2m10 0h1M40 244h1m4 0h1m6 0h1m3 0h1m2 0h1m1 0h1m2 0h2m1 0h1m1 0h2m1 0h14m1 0h4m1 0h4m1 0h4m3 0h1m2 0h2m4 0h1m8 0h1m4 0h1m1 0h1M31 245h1m18 0h1m9 0h1m3 0h1m1 0h2m1 0h1m1 0h1m2 0h24m1 0h6m7 0h1m34 0h2m1 0h1M17 246h2m13 0h1m11 0h1m4 0h1m4 0h1m2 0h1m9 0h6m1 0h23m1 0h4m1 0h5m2 0h1m5 0h2m9 0h1m22 0h1M13 247h1m7 0h2m22 0h1m4 0h1m8 0h1m6 0h3m1 0h5m1 0h2m1 0h28m1 0h1m1 0h1m18 0h6m12 0h1M15 248h1m36 0h1m7 0h1m3 0h1m1 0h4m1 0h2m1 0h34m1 0h2m5 0h2m9 0h1m2 0h1m3 0h1m4 0h1m1 0h1m18 0h1M52 249h1m11 0h4m1 0h36m1 0h1m4 0h1m16 0h1M40 250h1m6 0h1m1 0h1m7 0h1m2 0h1m1 0h1m1 0h3m1 0h36m1 0h4m1 0h1m2 0h1m1 0h1m2 0h1m2 0h1m7 0h1m12 0h1m6 0h1M16 251h1m28 0h1m1 0h1m1 0h1m6 0h1m7 0h1m1 0h1m2 0h2m1 0h39m4 0h1m9 0h1m11 0h1M17 252h1m27 0h1m2 0h2m15 0h1m1 0h2m2 0h39m2 0h1m6 0h1m27 0h1M22 253h1m9 0h1m1 0h1m11 0h1m19 0h2m1 0h7m1 0h32m1 0h1m1 0h1m18 0h1m2 0h1m14 0h1M1 254h1m45 0h1m10 0h1m6 0h1m1 0h2m1 0h4m1 0h25m1 0h2m1 0h2m1 0h4m3 0h1m1 0h1m8 0h2m4 0h1m12 0h1m12 0h1M26 255h1m13 0h1m5 0h1m3 0h1m9 0h1m1 0h2m1 0h4m1 0h38m3 0h3m27 0h1m5 0h1m2 0h1M28 256h1m9 0h1m11 0h1m3 0h1m5 0h1m3 0h1m2 0h43m4 0h1m26 0h1M44 257h1m10 0h1m7 0h3m1 0h4m1 0h1m1 0h32m1 0h2m16 0h1m21 0h2m2 0h1M28 258h1m11 0h1m4 0h1m15 0h1m1 0h1m2 0h2m2 0h32m1 0h3m1 0h2m9 0h1M38 259h1m1 0h1m4 0h1m2 0h1m11 0h1m6 0h12m1 0h22m1 0h5m1 0h1m40 0h1M44 260h1m3 0h1m5 0h2m11 0h6m1 0h20m1 0h5m1 0h8m3 0h2m22 0h1m12 0h1M64 261h1m1 0h1m1 0h3m2 0h3m1 0h15m1 0h5m1 0h2m1 0h2m2 0h1M48 262h1m11 0h1m4 0h1m5 0h1m1 0h2m2 0h12m1 0h13m1 0h1m8 0h1m20 0h1m20 0h1M13 263h1m36 0h2m17 0h1m2 0h1m1 0h1m1 0h1m3 0h12m1 0h3m1 0h5m1 0h1m3 0h1M55 264h1m16 0h1m1 0h1m2 0h2m1 0h2m1 0h1m2 0h6m2 0h2m1 0h1m3 0h3m10 0h1m14 0h1M78 265h2m4 0h1m3 0h1M146 266h1" stroke="#3247a4"/><path d="M83 238h3m4 0h1M78 239h4m1 0h5m3 0h4m1 0h1M78 240h1m1 0h1m2 0h5m1 0h4m1 0h2m1 0h2M75 241h1m4 0h5m1 0h1m2 0h2m1 0h1m2 0h2m1 0h1m1 0h1M73 242h1m1 0h1m1 0h2m3 0h2m1 0h6m1 0h1m1 0h2m1 0h1m1 0h1M72 243h1m1 0h1m2 0h1m1 0h2m1 0h13m1 0h3m1 0h2m1 0h2M69 244h2m1 0h3m1 0h10m1 0h4m1 0h4m1 0h4m3 0h1m2 0h1M71 245h1m2 0h24m1 0h6M67 246h6m1 0h23m1 0h4m1 0h4M66 247h1m1 0h1m1 0h5m1 0h2m1 0h28m1 0h1M66 248h1m1 0h2m1 0h2m1 0h34m1 0h1M65 249h3m1 0h36m1 0h1M65 250h1m2 0h36m1 0h4M66 251h1m2 0h2m1 0h39M65 252h1m1 0h2m2 0h39M66 253h1m2 0h7m1 0h32m1 0h1M67 254h2m1 0h4m1 0h25m1 0h2m1 0h2m1 0h4M66 255h3m1 0h38M68 256h42M67 257h4m1 0h1m1 0h32m1 0h1M67 258h1m2 0h32m1 0h3m1 0h1M67 259h3m1 0h8m1 0h22m1 0h5M68 260h1m1 0h3m1 0h20m1 0h5m1 0h7M73 261h3m1 0h15m1 0h5m1 0h2m1 0h2m2 0h1M71 262h1m1 0h2m2 0h12m1 0h13m1 0h1M76 263h1m3 0h12m1 0h3m1 0h4m2 0h1M83 264h1m2 0h6m2 0h2" stroke="#2450b2"/><path d="M78 239h1m4 0h2m2 0h1M83 240h5m1 0h2m1 0h1m1 0h1M80 241h4m2 0h1m3 0h1m1 0h1M75 242h1m1 0h2m3 0h2m1 0h6m1 0h1m1 0h1m2 0h1m1 0h1M74 243h1m2 0h1m1 0h2m1 0h13m1 0h3m1 0h2m2 0h1M72 244h1m1 0h1m1 0h1m1 0h8m1 0h4m1 0h4m1 0h4M71 245h1m2 0h24m1 0h5M69 246h1m2 0h1m1 0h23m1 0h4m1 0h4M70 247h5m1 0h2m1 0h25m1 0h1M69 248h1m1 0h2m1 0h31m1 0h2M69 249h2m1 0h33m1 0h1M70 250h34m1 0h3M69 251h2m1 0h36m2 0h1M71 252h36M69 253h7m1 0h32M67 254h2m1 0h4m1 0h25m1 0h2m1 0h2m1 0h1M66 255h1m1 0h1m1 0h38M69 256h41M70 257h1m1 0h1m1 0h32M71 258h31m1 0h2M68 259h1m3 0h7m1 0h22m1 0h2m1 0h1M68 260h1m3 0h1m1 0h20m1 0h5m1 0h4M73 261h3m1 0h15m1 0h5m1 0h2m1 0h1M74 262h1m3 0h11m1 0h12M80 263h12m1 0h3m1 0h4M87 264h1" stroke="#1d66c8"/><path d="M80 241h1M86 242h3m3 0h1M80 243h1m3 0h6m3 0h2m3 0h1m2 0h1M81 244h2m1 0h2m3 0h2m1 0h1m1 0h2m1 0h2m1 0h1M75 245h1m1 0h13m1 0h7m1 0h2M72 246h1m3 0h21m1 0h4M71 247h3m2 0h2m1 0h22M72 248h1m3 0h1m1 0h27M72 249h33M70 250h2m1 0h31m2 0h1M72 251h35M71 252h1m1 0h33M71 253h5m1 0h31M70 254h4m1 0h25m1 0h2m1 0h2M71 255h1m1 0h32m1 0h1M70 256h36M74 257h32M73 258h1m1 0h27m1 0h2M74 259h5m1 0h22m1 0h1M72 260h1m3 0h18m1 0h5m1 0h3M74 261h1m2 0h1m2 0h12m1 0h5m1 0h2M78 262h4m1 0h6m1 0h4m1 0h3m1 0h2M82 263h2m3 0h3m3 0h1m1 0h1m1 0h2" stroke="#2190da"/><path d="M94 243h1M75 245h1m7 0h1m3 0h1m5 0h2M76 246h1m3 0h1m1 0h1m1 0h13m2 0h1M76 247h1m4 0h1m1 0h12m1 0h2m2 0h1M78 248h22m3 0h1M74 249h1m3 0h1m1 0h22M75 250h29M72 251h32M74 252h30M74 253h2m1 0h27m1 0h1M75 254h25m1 0h2m1 0h1M71 255h1m2 0h31M74 256h29m1 0h2M74 257h29m1 0h1M77 258h22m4 0h1M76 259h1m3 0h20m1 0h1M77 260h17m1 0h4m2 0h1M81 261h1m1 0h9m1 0h4M80 262h2m2 0h5m2 0h2M93 263h1" stroke="#2cbfcf"/><path d="M87 246h1m2 0h1m1 0h1M84 247h3m2 0h1m1 0h1m5 0h1M80 248h1m2 0h8m1 0h6m1 0h1M80 249h1m1 0h14M75 250h2m1 0h1m3 0h19M74 251h1m4 0h19m1 0h3M76 252h3m1 0h21m1 0h1M77 253h27M76 254h1m1 0h22m1 0h1M77 255h24m1 0h2M76 256h26M76 257h24m1 0h1M80 258h19M81 259h1m1 0h16M82 260h1m1 0h10m4 0h1M83 261h2m2 0h2m1 0h1M84 262h1m2 0h1" stroke="#3fc27e"/><path d="M87 246h1m4 0h1M91 247h1M86 248h1m1 0h2m3 0h1M83 249h1m1 0h3m1 0h3m1 0h2M84 250h3m1 0h9m2 0h1M79 251h1m2 0h2m2 0h12m1 0h1M78 252h1m2 0h2m1 0h14m1 0h2M79 253h2m1 0h18M76 254h1m1 0h1m1 0h2m1 0h17M79 255h21m2 0h1M80 256h17m1 0h1m1 0h1M80 257h17m2 0h1M81 258h1m1 0h15M81 259h1m2 0h11M82 260h1m1 0h2m2 0h3" stroke="#5fc63a"/><path d="M88 248h1m4 0h1M83 249h1m1 0h1M86 250h1m1 0h2m1 0h1m1 0h1m2 0h1M83 251h1m2 0h2m1 0h5m1 0h2M78 252h1m3 0h1m1 0h12m1 0h1M82 253h1m1 0h14M83 254h15m1 0h1M82 255h16M80 256h1m1 0h14m2 0h1M82 257h14M81 258h1m1 0h12m1 0h2M86 259h1m1 0h1m1 0h4M85 260h1m2 0h1" stroke="#b4dc2a"/><path d="M88 248h1M84 252h1m2 0h1m1 0h4m2 0h1M84 253h12M83 254h14M83 255h12m2 0h1M82 256h13m3 0h1M84 257h10M86 258h6m1 0h1m2 0h1" stroke="#f3e41d"/><path d="M87 252h1m1 0h2m4 0h1M86 253h9M83 254h13M83 255h1m1 0h10M84 256h10M86 257h3m1 0h2m1 0h1M88 258h1m1 0h2" stroke="#f8a71b"/><path d="M89 252h1M87 253h1m1 0h1m4 0h1M83 254h3m1 0h7M88 255h7M84 256h2m2 0h2m1 0h1m1 0h1M86 257h3m1 0h1m2 0h1" stroke="#ef521e"/><path d="M89 252h1M87 253h1M87 254h1m4 0h2M88 255h4M84 256h2m3 0h1" stroke="#df1f1b"/></g>
<rect x="1417.5" y="600" width="414.5" height="414.5" fill="#fff" stroke="#8c8c8c" stroke-width="1.15"/>
<g transform="translate(1418.5 601.75) scale(1.5)" fill="none" stroke-width="1" shape-rendering="crispEdges"><path d="M127 236h1M56 237h1m59 0h4m1 0h1m7 0h2M97 238h1m13 0h1m3 0h2m3 0h1m2 0h1m1 0h5m5 0h1m4 0h1m2 0h1M65 239h1m21 0h2m3 0h1m13 0h1m1 0h1m1 0h1m4 0h7m1 0h1m1 0h1m1 0h1m1 0h1m1 0h2m4 0h1m1 0h1M91 240h1m6 0h1m13 0h1m1 0h2m3 0h5m1 0h6m1 0h1m2 0h1m1 0h1m13 0h1M108 241h1m1 0h1m1 0h1m1 0h11m1 0h9m2 0h2M55 242h1m28 0h1m7 0h1m15 0h1m1 0h2m2 0h1m2 0h3m1 0h15m1 0h1m1 0h1m1 0h2M81 243h1m8 0h1m12 0h2m1 0h15m1 0h6m1 0h3m1 0h4m1 0h4m27 0h1M73 244h1m12 0h1m8 0h1m1 0h1m4 0h5m1 0h2m2 0h2m1 0h23m2 0h3m1 0h1m23 0h1M48 245h2m31 0h1m3 0h1m4 0h1m11 0h1m1 0h2m1 0h1m3 0h2m1 0h3m1 0h18m1 0h3m2 0h1M48 246h1m2 0h1m22 0h1m21 0h1m5 0h1m1 0h1m1 0h13m1 0h20m1 0h3M62 247h1m1 0h1m14 0h1m17 0h1m5 0h3m1 0h7m1 0h25m1 0h1m1 0h2M52 248h1m12 0h1m13 0h1m4 0h1m12 0h1m2 0h1m1 0h1m1 0h2m2 0h28m1 0h6m1 0h2m8 0h1m1 0h1m13 0h1M68 249h1m29 0h1m5 0h14m1 0h24m4 0h1m18 0h1M75 250h2m12 0h1m4 0h2m4 0h6m1 0h36m2 0h1m1 0h1M71 251h1m3 0h1m13 0h1m4 0h1m7 0h6m2 0h35m28 0h1M72 252h1m8 0h1m1 0h1m3 0h1m1 0h2m5 0h1m3 0h37m1 0h3m2 0h4M41 253h1m5 0h1m44 0h1m2 0h3m1 0h1m2 0h41m1 0h1M81 254h1m1 0h1m2 0h2m4 0h1m8 0h2m2 0h4m1 0h31m1 0h6M70 255h1m13 0h1m7 0h1m4 0h1m1 0h1m1 0h1m1 0h44M76 256h1m1 0h2m1 0h2m13 0h1m1 0h1m3 0h1m2 0h3m1 0h33m1 0h2m12 0h1M52 257h1m29 0h1m7 0h1m2 0h2m7 0h1m1 0h4m1 0h31m1 0h4m2 0h1M98 258h1m1 0h1m1 0h2m1 0h1m2 0h3m1 0h28m1 0h4M86 259h1m4 0h1m2 0h1m2 0h1m3 0h2m1 0h1m2 0h1m2 0h3m1 0h22m1 0h1m1 0h1m1 0h1m1 0h1M78 260h2m9 0h1m5 0h1m8 0h1m1 0h2m1 0h2m1 0h1m1 0h2m1 0h20m1 0h4M69 261h1m28 0h1m7 0h2m1 0h27m1 0h4M61 262h1m26 0h1m5 0h1m13 0h1m2 0h3m1 0h16m2 0h2m2 0h4m3 0h1M56 263h1m52 0h2m2 0h1m1 0h3m1 0h1m1 0h4m1 0h6m2 0h1m4 0h1m4 0h1M116 264h1m4 0h1m1 0h1m1 0h1m2 0h1m2 0h1" stroke="#3247a4"/><path d="M120 238h1m4 0h4M115 239h7m1 0h1m1 0h1m1 0h1m1 0h1m1 0h1M112 240h1m1 0h2m3 0h5m1 0h6m1 0h1m2 0h1M108 241h1m3 0h1m1 0h11m1 0h9m2 0h1M110 242h2m2 0h1m2 0h3m1 0h15m1 0h1M107 243h14m1 0h6m1 0h3m1 0h4m1 0h4M106 244h1m1 0h2m2 0h2m1 0h23m2 0h1m1 0h1M104 245h1m2 0h1m3 0h2m1 0h3m1 0h18m1 0h3M104 246h1m1 0h13m1 0h20m1 0h3M103 247h3m1 0h7m1 0h25m1 0h1m1 0h1M102 248h1m1 0h2m2 0h28m1 0h6m1 0h1M104 249h14m1 0h24M102 250h4m1 0h36M102 251h6m2 0h35M101 252h36m1 0h3m2 0h2M102 253h41m1 0h1M101 254h2m2 0h4m1 0h31m1 0h2m1 0h1M103 255h41M102 256h1m2 0h3m1 0h33m1 0h1M104 257h4m1 0h31m1 0h2M105 258h1m2 0h3m1 0h28m1 0h2M104 259h1m2 0h1m2 0h3m1 0h22m1 0h1m1 0h1m1 0h1M107 260h1m1 0h2m1 0h1m1 0h2m1 0h20m1 0h4M106 261h2m1 0h27m1 0h4M108 262h1m2 0h3m1 0h16m2 0h2m2 0h3M109 263h1m3 0h1m1 0h3m1 0h1m1 0h4m1 0h6m2 0h1" stroke="#2450b2"/><path d="M115 239h2m3 0h2m3 0h1m1 0h1M119 240h4m4 0h2M112 241h1m1 0h11m2 0h1m1 0h1m2 0h1M110 242h1m3 0h1m3 0h2m1 0h15m1 0h1M109 243h1m2 0h9m1 0h6m1 0h3m2 0h3m1 0h1M112 244h2m1 0h22m3 0h1M111 245h2m1 0h3m1 0h18m1 0h3M106 246h13m1 0h20M104 247h1m3 0h6m1 0h25m1 0h1M102 248h1m2 0h1m3 0h27m1 0h6M106 249h12m1 0h23M104 250h2m1 0h1m1 0h34M103 251h1m1 0h3m2 0h31m1 0h1M101 252h1m1 0h34m1 0h3m2 0h2M102 253h1m1 0h39M105 254h4m1 0h30m2 0h1M105 255h38M105 256h3m1 0h33M104 257h1m2 0h1m1 0h31m1 0h1M108 258h3m1 0h28M104 259h1m5 0h3m1 0h22m1 0h1m1 0h1M110 260h1m1 0h1m1 0h2m1 0h20m1 0h1M109 261h1m1 0h25m2 0h1M115 262h16m2 0h1m4 0h1M113 263h1m5 0h1m1 0h4m1 0h5m3 0h1" stroke="#1d66c8"/><path d="M120 241h1m2 0h2m2 0h1m1 0h1M119 242h1m1 0h2m4 0h1m1 0h2M114 243h3m1 0h3m1 0h4m1 0h1m2 0h2M112 244h2m1 0h5m1 0h4m1 0h9m1 0h1M112 245h1m1 0h3m1 0h18m1 0h1M106 246h1m1 0h1m2 0h8m1 0h18M109 247h1m1 0h3m1 0h25M110 248h26m1 0h3M111 249h7m1 0h22M107 250h1m1 0h32M105 251h2m3 0h31M105 252h1m1 0h30m1 0h3M106 253h1m1 0h34M107 254h2m2 0h29M105 255h2m1 0h31m1 0h2M110 256h29m2 0h1M109 257h1m1 0h29M109 258h2m1 0h26M110 259h2m2 0h22m1 0h1M114 260h2m1 0h20M113 261h1m1 0h20M117 262h9m1 0h1m2 0h1M122 263h1m5 0h1" stroke="#2190da"/><path d="M119 243h1m7 0h1M118 244h2m2 0h1m3 0h2m3 0h1M114 245h1m1 0h1m1 0h4m1 0h6m1 0h3m2 0h1M117 246h1m2 0h13m1 0h1M115 247h3m1 0h18M114 248h22m1 0h1M112 249h1m1 0h4m1 0h18M114 250h25M110 251h2m1 0h25m2 0h1M110 252h27m2 0h1M109 253h2m1 0h27M111 254h26m1 0h1M112 255h1m1 0h20m1 0h2M111 256h1m1 0h22m2 0h2M115 257h23M115 258h19m1 0h2M116 259h19M115 260h1m1 0h12m1 0h3m1 0h1M117 261h1m1 0h1m1 0h5m1 0h4m1 0h1M119 262h1m2 0h1" stroke="#2cbfcf"/><path d="M119 244h1M118 245h1m9 0h1m1 0h3M120 246h3m1 0h3m1 0h1m2 0h2M119 247h2m1 0h6m1 0h2m1 0h1M116 248h1m2 0h13m1 0h1m1 0h1M115 249h1m1 0h1m1 0h15m1 0h1M114 250h2m1 0h19m1 0h1M114 251h1m1 0h20m1 0h1M114 252h1m1 0h21M114 253h1m1 0h19m1 0h1M112 254h1m1 0h22M114 255h20m1 0h1M113 256h1m1 0h19m3 0h1M117 257h19M117 258h11m1 0h2M117 259h12m1 0h2m2 0h1M117 260h1m1 0h10m1 0h2M119 261h1m2 0h2m4 0h1M119 262h1" stroke="#3fc27e"/><path d="M122 246h1m2 0h2M119 247h2m2 0h2M120 248h1m2 0h4m1 0h1m2 0h1M117 249h1m2 0h10m1 0h2M115 250h1m3 0h1m1 0h14m2 0h1M116 251h16m1 0h2M116 252h18m1 0h1M114 253h1m1 0h19M116 254h18m1 0h1M116 255h17m2 0h1M116 256h15m2 0h1M119 257h12M118 258h6m1 0h3m1 0h1M117 259h1m3 0h4m1 0h3M123 260h1m1 0h2m4 0h1M122 261h2" stroke="#5fc63a"/><path d="M122 246h1m3 0h1M123 247h1M123 248h2m1 0h1M120 249h1m3 0h1m2 0h1m4 0h1M123 250h8M122 251h9M118 252h2m1 0h13M117 253h2m1 0h12m1 0h1M118 254h14M119 255h14M117 256h14M119 257h11M120 258h4m1 0h2m2 0h1M123 259h2" stroke="#b4dc2a"/><path d="M125 250h1m1 0h1M122 251h1m1 0h5m1 0h1M121 252h10m1 0h1M120 253h1m1 0h9M120 254h10m1 0h1M120 255h1m1 0h9M120 256h2m1 0h8M120 257h2m1 0h6M120 258h1m2 0h1m2 0h1" stroke="#f3e41d"/><path d="M127 250h1M124 251h1m1 0h2M122 252h1m1 0h1m1 0h5M122 253h7M121 254h1m1 0h7M120 255h1m1 0h8M123 256h6M123 257h5M123 258h1m2 0h1" stroke="#f8a71b"/><path d="M127 250h1M124 251h1M124 252h1m3 0h1M123 253h4M121 254h1m2 0h6M122 255h4m1 0h1m1 0h1M123 256h4M124 257h1" stroke="#ef521e"/><path d="M124 252h1M123 253h4M121 254h1m3 0h3M122 255h4m1 0h1m1 0h1M123 256h3" stroke="#df1f1b"/></g>
<rect x="1931" y="587.5" width="414.5" height="414" fill="#fff" stroke="#8c8c8c" stroke-width="1.15"/>
<g transform="translate(1932 589.25) scale(1.5)" fill="none" stroke-width="1" shape-rendering="crispEdges"><path d="M183 231h1M180 232h1M148 233h1m18 0h1m7 0h3m2 0h2m4 0h2m3 0h1M143 234h1m1 0h1m2 0h2m3 0h1m4 0h3m1 0h1m1 0h4m1 0h3m1 0h7m3 0h7m3 0h2M76 235h1m11 0h1m62 0h1m9 0h3m1 0h1m1 0h7m1 0h11m1 0h7m1 0h1M68 236h1m71 0h1m1 0h2m3 0h1m3 0h1m2 0h1m3 0h1m1 0h15m1 0h21M97 237h1m50 0h1m8 0h39m2 0h1M88 238h1m7 0h1m5 0h1m30 0h1m15 0h1m5 0h1m1 0h1m1 0h3m1 0h30m1 0h2m1 0h2M110 239h2m9 0h1m2 0h1m26 0h1m1 0h2m3 0h11m1 0h6m1 0h19m1 0h2m1 0h1M74 240h1m31 0h1m4 0h1m1 0h1m24 0h1m6 0h1m5 0h1m1 0h4m1 0h8m1 0h30m3 0h1M122 241h1m14 0h2m10 0h1m2 0h1m3 0h20m1 0h20m1 0h2m2 0h1M64 242h1m31 0h1m11 0h1m41 0h1m1 0h1m1 0h6m1 0h9m1 0h30M77 243h1m6 0h1m25 0h1m6 0h1m7 0h1m8 0h1m14 0h2m2 0h1m2 0h2m2 0h36m1 0h4M34 244h1m8 0h1m22 0h1m13 0h1m20 0h2m5 0h1m29 0h1m8 0h1m1 0h1m3 0h3m1 0h45M59 245h1m65 0h1m13 0h1m13 0h1m1 0h1m1 0h44m1 0h1M60 246h1m4 0h1m7 0h1m10 0h1m6 0h1m10 0h1m1 0h1m21 0h1m4 0h1m18 0h1m1 0h2m1 0h3m1 0h4m2 0h35M57 247h1m17 0h1m30 0h1m3 0h1m8 0h1m26 0h1m5 0h2m1 0h48M100 248h1m3 0h1m2 0h2m5 0h2m13 0h1m15 0h2m7 0h13m1 0h32m1 0h1M55 249h1m25 0h1m10 0h1m7 0h1m11 0h1m38 0h2m1 0h42m1 0h2m1 0h2M53 250h1m1 0h1m7 0h1m10 0h1m14 0h1m5 0h1m37 0h1m10 0h1m3 0h1m2 0h1m2 0h3m1 0h42M80 251h1m19 0h1m7 0h1m7 0h1m29 0h1m1 0h1m1 0h1m2 0h3m1 0h44M75 252h1m3 0h1m74 0h3m1 0h2m2 0h39M137 253h1m2 0h1m2 0h2m5 0h1m2 0h1m4 0h10m1 0h32m1 0h1M147 254h1m3 0h1m3 0h1m1 0h1m1 0h31m1 0h7M70 255h1m74 0h1m4 0h2m4 0h2m2 0h34m3 0h2m1 0h1M77 256h1m34 0h1m39 0h1m1 0h1m2 0h38m1 0h2m1 0h1M61 257h1m40 0h1m47 0h2m2 0h2m1 0h7m1 0h28m2 0h1m1 0h2M77 258h1m72 0h5m1 0h6m1 0h28m2 0h4M71 259h1m36 0h1m45 0h1m1 0h36m1 0h4M83 260h1m34 0h1m36 0h1m4 0h25m1 0h5m2 0h2m2 0h1M77 261h1m46 0h1m21 0h1m4 0h1m3 0h1m2 0h1m1 0h1m2 0h28m3 0h1m1 0h1M76 262h1m4 0h1m38 0h1m30 0h1m2 0h2m7 0h3m1 0h16m1 0h1m7 0h1M145 263h1m19 0h1m3 0h2m1 0h1m2 0h1m1 0h2m6 0h1m2 0h1M163 264h1m5 0h1" stroke="#3247a4"/><path d="M165 234h3m1 0h3m1 0h7m3 0h7M161 235h3m1 0h1m1 0h7m1 0h11m1 0h7M161 236h14m1 0h20M158 237h38M157 238h1m1 0h3m1 0h30m1 0h2m1 0h2M158 239h11m1 0h6m1 0h19m1 0h2M155 240h2m1 0h8m1 0h30M156 241h20m1 0h20m1 0h2M156 242h4m1 0h9m1 0h29M156 243h2m2 0h36m1 0h3M154 244h2m1 0h44M155 245h1m1 0h43M152 246h2m1 0h3m1 0h4m2 0h35M155 247h45M154 248h13m1 0h32M154 249h42m1 0h2m1 0h1M154 250h3m1 0h42M154 251h2m1 0h44M154 252h3m1 0h2m2 0h39M158 253h10m1 0h31M155 254h1m1 0h1m1 0h31m1 0h7M156 255h2m2 0h34m3 0h1M157 256h38m1 0h1M157 257h7m1 0h28m2 0h1m1 0h1M157 258h5m1 0h28m3 0h3M158 259h34m1 0h2m1 0h1M161 260h24m1 0h5m2 0h2M163 261h28M164 262h2m1 0h16m1 0h1" stroke="#2450b2"/><path d="M178 234h2m3 0h4m1 0h2M163 235h1m3 0h5m1 0h1m1 0h11m1 0h4m1 0h1M162 236h13m1 0h19M159 237h1m3 0h1m1 0h31M159 238h3m1 0h30m1 0h2M159 239h2m2 0h6m1 0h6m1 0h19M156 240h1m2 0h7m1 0h30M157 241h4m2 0h13m1 0h20M158 242h2m1 0h9m1 0h26M156 243h2m3 0h35m1 0h1M160 244h38M157 245h1m1 0h4m1 0h34M157 246h1m1 0h4m2 0h2m1 0h31M156 247h43M154 248h8m1 0h4m1 0h31M155 249h1m1 0h1m2 0h36m1 0h2M154 250h1m4 0h40M158 251h38m1 0h1M158 252h1m3 0h35M160 253h8m1 0h26m1 0h2M157 254h1m1 0h31m1 0h6M157 255h1m2 0h34M157 256h38M160 257h4m1 0h28M158 258h1m1 0h2m1 0h28M160 259h2m2 0h28M162 260h23m1 0h1m1 0h1m1 0h1M164 261h26M167 262h16m1 0h1" stroke="#1d66c8"/><path d="M188 234h1M175 235h4m2 0h2m1 0h2m1 0h3M172 236h1m3 0h2m1 0h8m1 0h3M174 237h18m1 0h1M168 238h1m1 0h1m1 0h21m2 0h1M165 239h1m1 0h1m3 0h5m1 0h18M164 240h1m5 0h2m1 0h1m1 0h21M167 241h1m2 0h6m1 0h20M162 242h2m2 0h1m1 0h2m1 0h25M166 243h30m1 0h1M164 244h5m1 0h1m1 0h24M160 245h1m1 0h1m2 0h2m1 0h28M162 246h1m3 0h1m1 0h29M159 247h1m5 0h31M159 248h1m1 0h1m1 0h2m1 0h1m2 0h28M160 249h1m1 0h1m1 0h32m1 0h1M160 250h1m2 0h33M161 251h1m1 0h2m1 0h28m1 0h1M164 252h32M161 253h4m2 0h1m1 0h25M161 254h1m1 0h27m1 0h2M163 255h2m1 0h28M162 256h1m1 0h26m1 0h1M165 257h26M163 258h2m1 0h23M164 259h2m2 0h22M165 260h1m1 0h1m1 0h16M165 261h2m2 0h18M172 262h1m4 0h1m1 0h3" stroke="#2190da"/><path d="M183 236h1m4 0h1M177 237h1m1 0h1m1 0h1m1 0h3m2 0h1M178 238h2m3 0h8M174 239h1m4 0h12m1 0h1M170 240h1m6 0h14m1 0h1M171 241h1m3 0h1m1 0h1m1 0h15M172 242h23M173 243h22M172 244h22M168 245h1m4 0h21M168 246h2m2 0h22M166 247h5m1 0h23M166 248h1m2 0h26M167 249h26m1 0h1M171 250h22m1 0h1M167 251h1m2 0h23M167 252h1m1 0h23m2 0h1M169 253h24M168 254h22m1 0h1M170 255h22M170 256h20M166 257h1m2 0h1m1 0h18M169 258h1m1 0h16M168 259h1m2 0h16M171 260h13M171 261h2m2 0h5M180 262h1" stroke="#2cbfcf"/><path d="M188 237h1M186 238h1M180 239h2m1 0h5m1 0h1M180 240h1m3 0h2m1 0h1m1 0h1M179 241h3m1 0h1m1 0h7M176 242h4m2 0h7M173 243h3m1 0h1m1 0h11m1 0h1M173 244h1m2 0h16M173 245h1m1 0h17M168 246h1m4 0h20M170 247h1m2 0h4m1 0h14M173 248h19M172 249h21M172 250h1m1 0h18M170 251h1m1 0h19M171 252h1m1 0h18M172 253h19M172 254h18M172 255h18M172 256h16M172 257h15M172 258h13M173 259h12M174 260h1m1 0h4m1 0h1m1 0h1M177 261h1" stroke="#3fc27e"/><path d="M184 239h1M186 241h1m1 0h2M185 242h1m1 0h1M180 243h1M178 244h1m3 0h5m3 0h1M176 245h2m2 0h10M176 246h1m2 0h12M176 247h1m1 0h14M175 248h2m1 0h13M173 249h19M174 250h17M173 251h17M173 252h18M174 253h15M172 254h18M173 255h14M173 256h14M174 257h11m1 0h1M173 258h12M176 259h6m2 0h1M178 260h2m1 0h1" stroke="#5fc63a"/><path d="M184 245h1m2 0h1M180 246h1m1 0h1m2 0h2m1 0h2M178 247h2m1 0h1m1 0h2m1 0h3m1 0h1M175 248h1m4 0h7m2 0h1M177 249h12M178 250h9m1 0h1M177 251h13M176 252h13M174 253h14M174 254h14M174 255h13M174 256h12M175 257h10M176 258h8M178 259h1" stroke="#b4dc2a"/><path d="M180 246h1m4 0h2M180 248h1m3 0h1M177 249h1m3 0h6M178 250h9M178 251h10M177 252h10M176 253h12M174 254h13M175 255h10M175 256h10M176 257h6m1 0h1M176 258h1m1 0h1m1 0h1" stroke="#f3e41d"/><path d="M183 249h2M178 250h2m1 0h6M178 251h2m1 0h6M179 252h7M177 253h11M176 254h11M175 255h10M176 256h2m1 0h3M176 257h6M178 258h1" stroke="#f8a71b"/><path d="M181 250h2m1 0h1M182 251h4M179 252h4m1 0h2M177 253h1m1 0h7M177 254h1m1 0h7M176 255h6m1 0h2M176 256h2m1 0h3M176 257h5M178 258h1" stroke="#ef521e"/><path d="M182 251h1m1 0h1M179 252h2m3 0h2M180 253h3m1 0h1M177 254h1m1 0h1m1 0h1m1 0h1M180 255h2m1 0h2M179 257h1" stroke="#df1f1b"/></g>
<path d="M368.5 494.5H380.5M368.5 415.6H380.5M368.5 336.7H380.5M368.5 257.8H380.5M368.5 178.9H380.5M368.5 100H380.5" stroke="#000" stroke-width="3.5" fill="none"/>
<path d="M375.5 474.8H380.5M375.5 455.1H380.5M375.5 435.3H380.5M375.5 395.9H380.5M375.5 376.1H380.5M375.5 356.4H380.5M375.5 317H380.5M375.5 297.2H380.5M375.5 277.5H380.5M375.5 238.1H380.5M375.5 218.3H380.5M375.5 198.6H380.5M375.5 159.2H380.5M375.5 139.4H380.5M375.5 119.7H380.5M375.5 80.3H380.5" stroke="#111" stroke-width="1.35" fill="none"/>
<text x="358" y="492.8" font-size="15.6" text-anchor="end">0</text>
<text x="358" y="425.4" font-size="15.6" text-anchor="end">200K</text>
<text x="358" y="346.5" font-size="15.6" text-anchor="end">400K</text>
<text x="358" y="267.6" font-size="15.6" text-anchor="end">600K</text>
<text x="358" y="188.7" font-size="15.6" text-anchor="end">800K</text>
<text x="358" y="109.8" font-size="15.6" text-anchor="end">1.0M</text>
<text x="311" y="285.2" font-size="19" text-anchor="middle" transform="rotate(-90 311 285.2)">SS-A</text>
<path d="M380.5 495.5V507M458.9 495.5V507M537.3 495.5V507M615.7 495.5V507M694.1 495.5V507M772.5 495.5V507" stroke="#000" stroke-width="3.3" fill="none"/>
<path d="M400.1 495.5V500.5M419.7 495.5V500.5M439.3 495.5V500.5M478.5 495.5V500.5M498.1 495.5V500.5M517.7 495.5V500.5M556.9 495.5V500.5M576.5 495.5V500.5M596.1 495.5V500.5M635.3 495.5V500.5M654.9 495.5V500.5M674.5 495.5V500.5M713.7 495.5V500.5M733.3 495.5V500.5M752.9 495.5V500.5" stroke="#111" stroke-width="1.35" fill="none"/>
<text x="383" y="543" font-size="15.6" text-anchor="middle">0</text>
<text x="450.4" y="543" font-size="15.6" text-anchor="middle">200K</text>
<text x="528.8" y="543" font-size="15.6" text-anchor="middle">400K</text>
<text x="607.2" y="543" font-size="15.6" text-anchor="middle">600K</text>
<text x="685.6" y="543" font-size="15.6" text-anchor="middle">800K</text>
<text x="764" y="543" font-size="15.6" text-anchor="middle">1.0M</text>
<text x="586" y="581" font-size="19.5" text-anchor="middle">FS-A</text>
<path d="M471.3 479.3L492 434.5L547.5 434.5L564.3 475Z" fill="none" stroke="#000" stroke-width="2.1" stroke-linejoin="miter"/>
<path d="M892 493.5H904M892 414.6H904M892 335.7H904M892 256.8H904M892 177.9H904M892 99H904" stroke="#000" stroke-width="3.5" fill="none"/>
<path d="M899 473.8H904M899 454.1H904M899 434.3H904M899 394.9H904M899 375.1H904M899 355.4H904M899 316H904M899 296.2H904M899 276.5H904M899 237.1H904M899 217.3H904M899 197.6H904M899 158.2H904M899 138.4H904M899 118.7H904M899 79.3H904" stroke="#111" stroke-width="1.35" fill="none"/>
<text x="882" y="491.5" font-size="15.6" text-anchor="end">0</text>
<text x="882" y="424.1" font-size="15.6" text-anchor="end">50K</text>
<text x="882" y="345.2" font-size="15.6" text-anchor="end">100K</text>
<text x="882" y="266.3" font-size="15.6" text-anchor="end">150K</text>
<text x="882" y="187.4" font-size="15.6" text-anchor="end">200K</text>
<text x="882" y="108.5" font-size="15.6" text-anchor="end">250K</text>
<text x="834" y="274" font-size="19" text-anchor="middle" transform="rotate(-90 834 274)">FS-H</text>
<path d="M905 494.5V506M983.3 494.5V506M1061.6 494.5V506M1139.9 494.5V506M1218.2 494.5V506M1296.5 494.5V506" stroke="#000" stroke-width="3.3" fill="none"/>
<path d="M924.6 494.5V499.5M944.1 494.5V499.5M963.7 494.5V499.5M1002.9 494.5V499.5M1022.4 494.5V499.5M1042 494.5V499.5M1081.2 494.5V499.5M1100.8 494.5V499.5M1120.3 494.5V499.5M1159.5 494.5V499.5M1179.1 494.5V499.5M1198.6 494.5V499.5M1237.8 494.5V499.5M1257.3 494.5V499.5M1276.9 494.5V499.5" stroke="#111" stroke-width="1.35" fill="none"/>
<text x="907.5" y="542" font-size="15.6" text-anchor="middle">0</text>
<text x="974.8" y="542" font-size="15.6" text-anchor="middle">200K</text>
<text x="1053.1" y="542" font-size="15.6" text-anchor="middle">400K</text>
<text x="1131.4" y="542" font-size="15.6" text-anchor="middle">600K</text>
<text x="1209.7" y="542" font-size="15.6" text-anchor="middle">800K</text>
<text x="1288" y="542" font-size="15.6" text-anchor="middle">1.0M</text>
<text x="1109.5" y="581" font-size="19.5" text-anchor="middle">FS-A</text>
<path d="M945 452.5L1121.5 312.5L1156 312.5L981 454Z" fill="none" stroke="#000" stroke-width="2.1" stroke-linejoin="miter"/>
<path d="M1405.5 493.5H1417.5M1405.5 414.6H1417.5M1405.5 335.7H1417.5M1405.5 256.8H1417.5M1405.5 177.9H1417.5M1405.5 99H1417.5" stroke="#000" stroke-width="3.5" fill="none"/>
<path d="M1412.5 473.8H1417.5M1412.5 454.1H1417.5M1412.5 434.3H1417.5M1412.5 394.9H1417.5M1412.5 375.1H1417.5M1412.5 355.4H1417.5M1412.5 316H1417.5M1412.5 296.2H1417.5M1412.5 276.5H1417.5M1412.5 237.1H1417.5M1412.5 217.3H1417.5M1412.5 197.6H1417.5M1412.5 158.2H1417.5M1412.5 138.4H1417.5M1412.5 118.7H1417.5M1412.5 79.3H1417.5" stroke="#111" stroke-width="1.35" fill="none"/>
<text x="1395" y="491.8" font-size="15.6" text-anchor="end">0</text>
<text x="1395" y="424.4" font-size="15.6" text-anchor="end">200K</text>
<text x="1395" y="345.5" font-size="15.6" text-anchor="end">400K</text>
<text x="1395" y="266.6" font-size="15.6" text-anchor="end">600K</text>
<text x="1395" y="187.7" font-size="15.6" text-anchor="end">800K</text>
<text x="1395" y="108.8" font-size="15.6" text-anchor="end">1.0M</text>
<text x="1349" y="284.2" font-size="19" text-anchor="middle" transform="rotate(-90 1349 284.2)">SS-A</text>
<path d="M1419 494.5V506M1487.5 494.5V506M1556 494.5V506M1624.5 494.5V506M1693 494.5V506M1761.5 494.5V506M1830 494.5V506" stroke="#000" stroke-width="3.3" fill="none"/>
<path d="M1439.6 494.5V499.5M1451.7 494.5V499.5M1460.2 494.5V499.5M1466.9 494.5V499.5M1472.3 494.5V499.5M1476.9 494.5V499.5M1480.9 494.5V499.5M1484.4 494.5V499.5M1508.1 494.5V499.5M1520.2 494.5V499.5M1528.7 494.5V499.5M1535.4 494.5V499.5M1540.8 494.5V499.5M1545.4 494.5V499.5M1549.4 494.5V499.5M1552.9 494.5V499.5M1576.6 494.5V499.5M1588.7 494.5V499.5M1597.2 494.5V499.5M1603.9 494.5V499.5M1609.3 494.5V499.5M1613.9 494.5V499.5M1617.9 494.5V499.5M1621.4 494.5V499.5M1645.1 494.5V499.5M1657.2 494.5V499.5M1665.7 494.5V499.5M1672.4 494.5V499.5M1677.8 494.5V499.5M1682.4 494.5V499.5M1686.4 494.5V499.5M1689.9 494.5V499.5M1713.6 494.5V499.5M1725.7 494.5V499.5M1734.2 494.5V499.5M1740.9 494.5V499.5M1746.3 494.5V499.5M1750.9 494.5V499.5M1754.9 494.5V499.5M1758.4 494.5V499.5M1782.1 494.5V499.5M1794.2 494.5V499.5M1802.7 494.5V499.5M1809.4 494.5V499.5M1814.8 494.5V499.5M1819.4 494.5V499.5M1823.4 494.5V499.5M1826.9 494.5V499.5" stroke="#111" stroke-width="1.35" fill="none"/>
<text x="1434" y="542.5" font-size="15.6" text-anchor="middle">10</text>
<text x="1443.7" y="530" font-size="15.6">0</text>
<text x="1487.5" y="542.5" font-size="15.6" text-anchor="middle">10</text>
<text x="1497.2" y="530" font-size="15.6">1</text>
<text x="1556" y="542.5" font-size="15.6" text-anchor="middle">10</text>
<text x="1565.7" y="530" font-size="15.6">2</text>
<text x="1624.5" y="542.5" font-size="15.6" text-anchor="middle">10</text>
<text x="1634.2" y="530" font-size="15.6">3</text>
<text x="1693" y="542.5" font-size="15.6" text-anchor="middle">10</text>
<text x="1702.7" y="530" font-size="15.6">4</text>
<text x="1761.5" y="542.5" font-size="15.6" text-anchor="middle">10</text>
<text x="1771.2" y="530" font-size="15.6">5</text>
<text x="1812.5" y="542.5" font-size="15.6" text-anchor="middle">10</text>
<text x="1822.2" y="530" font-size="15.6">6</text>
<text x="1624.5" y="579.5" font-size="19.5" text-anchor="middle">Comp-FL10-A</text>
<rect x="1677.5" y="426.5" width="71.5" height="53.5" fill="none" stroke="#000" stroke-width="2.1"/>
<text x="1826" y="124" font-size="39.5" text-anchor="end" fill="#000">CD45+</text>
<path d="M1919.5 493.5H1931.5M1919.5 414.6H1931.5M1919.5 335.7H1931.5M1919.5 256.8H1931.5M1919.5 177.9H1931.5M1919.5 99H1931.5" stroke="#000" stroke-width="3.5" fill="none"/>
<path d="M1926.5 473.8H1931.5M1926.5 454.1H1931.5M1926.5 434.3H1931.5M1926.5 394.9H1931.5M1926.5 375.1H1931.5M1926.5 355.4H1931.5M1926.5 316H1931.5M1926.5 296.2H1931.5M1926.5 276.5H1931.5M1926.5 237.1H1931.5M1926.5 217.3H1931.5M1926.5 197.6H1931.5M1926.5 158.2H1931.5M1926.5 138.4H1931.5M1926.5 118.7H1931.5M1926.5 79.3H1931.5" stroke="#111" stroke-width="1.35" fill="none"/>
<text x="1909" y="491.8" font-size="15.6" text-anchor="end">0</text>
<text x="1909" y="424.4" font-size="15.6" text-anchor="end">200K</text>
<text x="1909" y="345.5" font-size="15.6" text-anchor="end">400K</text>
<text x="1909" y="266.6" font-size="15.6" text-anchor="end">600K</text>
<text x="1909" y="187.7" font-size="15.6" text-anchor="end">800K</text>
<text x="1909" y="108.8" font-size="15.6" text-anchor="end">1.0M</text>
<text x="1863" y="284.2" font-size="19" text-anchor="middle" transform="rotate(-90 1863 284.2)">SS-A</text>
<path d="M1933 494.5V506M2001.5 494.5V506M2070 494.5V506M2138.5 494.5V506M2207 494.5V506M2275.5 494.5V506M2344 494.5V506" stroke="#000" stroke-width="3.3" fill="none"/>
<path d="M1953.6 494.5V499.5M1965.7 494.5V499.5M1974.2 494.5V499.5M1980.9 494.5V499.5M1986.3 494.5V499.5M1990.9 494.5V499.5M1994.9 494.5V499.5M1998.4 494.5V499.5M2022.1 494.5V499.5M2034.2 494.5V499.5M2042.7 494.5V499.5M2049.4 494.5V499.5M2054.8 494.5V499.5M2059.4 494.5V499.5M2063.4 494.5V499.5M2066.9 494.5V499.5M2090.6 494.5V499.5M2102.7 494.5V499.5M2111.2 494.5V499.5M2117.9 494.5V499.5M2123.3 494.5V499.5M2127.9 494.5V499.5M2131.9 494.5V499.5M2135.4 494.5V499.5M2159.1 494.5V499.5M2171.2 494.5V499.5M2179.7 494.5V499.5M2186.4 494.5V499.5M2191.8 494.5V499.5M2196.4 494.5V499.5M2200.4 494.5V499.5M2203.9 494.5V499.5M2227.6 494.5V499.5M2239.7 494.5V499.5M2248.2 494.5V499.5M2254.9 494.5V499.5M2260.3 494.5V499.5M2264.9 494.5V499.5M2268.9 494.5V499.5M2272.4 494.5V499.5M2296.1 494.5V499.5M2308.2 494.5V499.5M2316.7 494.5V499.5M2323.4 494.5V499.5M2328.8 494.5V499.5M2333.4 494.5V499.5M2337.4 494.5V499.5M2340.9 494.5V499.5" stroke="#111" stroke-width="1.35" fill="none"/>
<text x="1948" y="542.5" font-size="15.6" text-anchor="middle">10</text>
<text x="1957.7" y="530" font-size="15.6">0</text>
<text x="2001.5" y="542.5" font-size="15.6" text-anchor="middle">10</text>
<text x="2011.2" y="530" font-size="15.6">1</text>
<text x="2070" y="542.5" font-size="15.6" text-anchor="middle">10</text>
<text x="2079.7" y="530" font-size="15.6">2</text>
<text x="2138.5" y="542.5" font-size="15.6" text-anchor="middle">10</text>
<text x="2148.2" y="530" font-size="15.6">3</text>
<text x="2207" y="542.5" font-size="15.6" text-anchor="middle">10</text>
<text x="2216.7" y="530" font-size="15.6">4</text>
<text x="2275.5" y="542.5" font-size="15.6" text-anchor="middle">10</text>
<text x="2285.2" y="530" font-size="15.6">5</text>
<text x="2326.5" y="542.5" font-size="15.6" text-anchor="middle">10</text>
<text x="2336.2" y="530" font-size="15.6">6</text>
<text x="2137" y="579.5" font-size="19.5" text-anchor="middle">Comp-FL7-A</text>
<rect x="2185" y="428.5" width="56.5" height="50.5" fill="none" stroke="#000" stroke-width="2.1"/>
<text x="2334" y="124" font-size="39.5" text-anchor="end" fill="#000">CD3+</text>
<path d="M368.5 1014H380.5M368.5 935.1H380.5M368.5 856.2H380.5M368.5 777.3H380.5M368.5 698.4H380.5M368.5 619.5H380.5" stroke="#000" stroke-width="3.5" fill="none"/>
<path d="M375.5 994.3H380.5M375.5 974.5H380.5M375.5 954.8H380.5M375.5 915.4H380.5M375.5 895.7H380.5M375.5 875.9H380.5M375.5 836.5H380.5M375.5 816.8H380.5M375.5 797H380.5M375.5 757.6H380.5M375.5 737.8H380.5M375.5 718.1H380.5M375.5 678.7H380.5M375.5 659H380.5M375.5 639.2H380.5M375.5 599.8H380.5" stroke="#111" stroke-width="1.35" fill="none"/>
<text x="358" y="1012.3" font-size="15.6" text-anchor="end">0</text>
<text x="358" y="944.9" font-size="15.6" text-anchor="end">200K</text>
<text x="358" y="866" font-size="15.6" text-anchor="end">400K</text>
<text x="358" y="787.1" font-size="15.6" text-anchor="end">600K</text>
<text x="358" y="708.2" font-size="15.6" text-anchor="end">800K</text>
<text x="358" y="629.3" font-size="15.6" text-anchor="end">1.0M</text>
<text x="311" y="804.8" font-size="19" text-anchor="middle" transform="rotate(-90 311 804.8)">SS-A</text>
<path d="M384 1015V1026.5M391 1015V1026.5M398.5 1015V1026.5M406 1015V1026.5M414.5 1015V1026.5M469.8 1015V1026.5M529.4 1015V1026.5M588.3 1015V1026.5M646.1 1015V1026.5M704.6 1015V1026.5M762.8 1015V1026.5" stroke="#000" stroke-width="2.6" fill="none"/>
<path d="M431.1 1015V1020M440.9 1015V1020M447.8 1015V1020M453.2 1015V1020M457.5 1015V1020M461.2 1015V1020M464.4 1015V1020M467.3 1015V1020M487.7 1015V1020M498.2 1015V1020M505.7 1015V1020M511.5 1015V1020M516.2 1015V1020M520.2 1015V1020M523.6 1015V1020M526.7 1015V1020M547.1 1015V1020M557.5 1015V1020M564.9 1015V1020M570.6 1015V1020M575.2 1015V1020M579.2 1015V1020M582.6 1015V1020M585.6 1015V1020M605.7 1015V1020M615.9 1015V1020M623.1 1015V1020M628.7 1015V1020M633.3 1015V1020M637.1 1015V1020M640.5 1015V1020M643.5 1015V1020M663.7 1015V1020M674 1015V1020M681.3 1015V1020M687 1015V1020M691.6 1015V1020M695.5 1015V1020M698.9 1015V1020M701.9 1015V1020M722.1 1015V1020M732.4 1015V1020M739.6 1015V1020M745.3 1015V1020M749.9 1015V1020M753.8 1015V1020M757.2 1015V1020M760.1 1015V1020M780.3 1015V1020M790.6 1015V1020" stroke="#111" stroke-width="1.35" fill="none"/>
<path d="" stroke="#000" stroke-width="3.3" fill="none"/>
<text x="396.5" y="1063" font-size="15.6" text-anchor="middle">0</text>
<text x="469.8" y="1063" font-size="15.6" text-anchor="middle">10</text>
<text x="479.5" y="1050.5" font-size="15.6">2</text>
<text x="588.3" y="1063" font-size="15.6" text-anchor="middle">10</text>
<text x="598" y="1050.5" font-size="15.6">4</text>
<text x="704.6" y="1063" font-size="15.6" text-anchor="middle">10</text>
<text x="714.3" y="1050.5" font-size="15.6">6</text>
<text x="586" y="1099.5" font-size="19.5" text-anchor="middle">Comp-FL2-A</text>
<rect x="565" y="941" width="89.7" height="60.5" fill="none" stroke="#000" stroke-width="2.1"/>
<text x="794.5" y="652" font-size="39.5" text-anchor="end" fill="#000">Th17</text>
<path d="M892 1013.5H904M892 934.6H904M892 855.7H904M892 776.8H904M892 697.9H904M892 619H904" stroke="#000" stroke-width="3.5" fill="none"/>
<path d="M899 993.8H904M899 974H904M899 954.3H904M899 914.9H904M899 895.2H904M899 875.4H904M899 836H904M899 816.2H904M899 796.5H904M899 757.1H904M899 737.3H904M899 717.6H904M899 678.2H904M899 658.5H904M899 638.7H904M899 599.3H904" stroke="#111" stroke-width="1.35" fill="none"/>
<text x="881.5" y="1011.8" font-size="15.6" text-anchor="end">0</text>
<text x="881.5" y="944.4" font-size="15.6" text-anchor="end">200K</text>
<text x="881.5" y="865.5" font-size="15.6" text-anchor="end">400K</text>
<text x="881.5" y="786.6" font-size="15.6" text-anchor="end">600K</text>
<text x="881.5" y="707.7" font-size="15.6" text-anchor="end">800K</text>
<text x="881.5" y="628.8" font-size="15.6" text-anchor="end">1.0M</text>
<text x="834" y="804.2" font-size="19" text-anchor="middle" transform="rotate(-90 834 804.2)">SS-A</text>
<path d="M906.5 1014.5V1026M913 1014.5V1026M920 1014.5V1026M927 1014.5V1026M938.5 1014.5V1026M994 1014.5V1026M1052.5 1014.5V1026M1111 1014.5V1026M1169 1014.5V1026M1227.5 1014.5V1026M1286 1014.5V1026" stroke="#000" stroke-width="2.6" fill="none"/>
<path d="M955.2 1014.5V1019.5M965 1014.5V1019.5M971.9 1014.5V1019.5M977.3 1014.5V1019.5M981.7 1014.5V1019.5M985.4 1014.5V1019.5M988.6 1014.5V1019.5M991.5 1014.5V1019.5M1011.6 1014.5V1019.5M1021.9 1014.5V1019.5M1029.2 1014.5V1019.5M1034.9 1014.5V1019.5M1039.5 1014.5V1019.5M1043.4 1014.5V1019.5M1046.8 1014.5V1019.5M1049.8 1014.5V1019.5M1070.1 1014.5V1019.5M1080.4 1014.5V1019.5M1087.7 1014.5V1019.5M1093.4 1014.5V1019.5M1098 1014.5V1019.5M1101.9 1014.5V1019.5M1105.3 1014.5V1019.5M1108.3 1014.5V1019.5M1128.5 1014.5V1019.5M1138.7 1014.5V1019.5M1145.9 1014.5V1019.5M1151.5 1014.5V1019.5M1156.1 1014.5V1019.5M1160 1014.5V1019.5M1163.4 1014.5V1019.5M1166.3 1014.5V1019.5M1186.6 1014.5V1019.5M1196.9 1014.5V1019.5M1204.2 1014.5V1019.5M1209.9 1014.5V1019.5M1214.5 1014.5V1019.5M1218.4 1014.5V1019.5M1221.8 1014.5V1019.5M1224.8 1014.5V1019.5M1245.1 1014.5V1019.5M1255.4 1014.5V1019.5M1262.7 1014.5V1019.5M1268.4 1014.5V1019.5M1273 1014.5V1019.5M1276.9 1014.5V1019.5M1280.3 1014.5V1019.5M1283.3 1014.5V1019.5M1303.6 1014.5V1019.5M1313.9 1014.5V1019.5" stroke="#111" stroke-width="1.35" fill="none"/>
<path d="" stroke="#000" stroke-width="3.3" fill="none"/>
<text x="920" y="1062.5" font-size="15.6" text-anchor="middle">0</text>
<text x="994" y="1062.5" font-size="15.6" text-anchor="middle">10</text>
<text x="1003.7" y="1050" font-size="15.6">2</text>
<text x="1111" y="1062.5" font-size="15.6" text-anchor="middle">10</text>
<text x="1120.7" y="1050" font-size="15.6">4</text>
<text x="1227.5" y="1062.5" font-size="15.6" text-anchor="middle">10</text>
<text x="1237.2" y="1050" font-size="15.6">6</text>
<text x="1109" y="1099.5" font-size="19.5" text-anchor="middle">Comp-FL4-A</text>
<rect x="1073" y="943.5" width="89.5" height="55.5" fill="none" stroke="#000" stroke-width="2.1"/>
<text x="1312.5" y="651.5" font-size="39.5" text-anchor="end" fill="#000">Th1</text>
<path d="M1405.5 1013.5H1417.5M1405.5 934.6H1417.5M1405.5 855.7H1417.5M1405.5 776.8H1417.5M1405.5 697.9H1417.5M1405.5 619H1417.5" stroke="#000" stroke-width="3.5" fill="none"/>
<path d="M1412.5 993.8H1417.5M1412.5 974H1417.5M1412.5 954.3H1417.5M1412.5 914.9H1417.5M1412.5 895.2H1417.5M1412.5 875.4H1417.5M1412.5 836H1417.5M1412.5 816.2H1417.5M1412.5 796.5H1417.5M1412.5 757.1H1417.5M1412.5 737.3H1417.5M1412.5 717.6H1417.5M1412.5 678.2H1417.5M1412.5 658.5H1417.5M1412.5 638.7H1417.5M1412.5 599.3H1417.5" stroke="#111" stroke-width="1.35" fill="none"/>
<text x="1395" y="1011.8" font-size="15.6" text-anchor="end">0</text>
<text x="1395" y="944.4" font-size="15.6" text-anchor="end">200K</text>
<text x="1395" y="865.5" font-size="15.6" text-anchor="end">400K</text>
<text x="1395" y="786.6" font-size="15.6" text-anchor="end">600K</text>
<text x="1395" y="707.7" font-size="15.6" text-anchor="end">800K</text>
<text x="1395" y="628.8" font-size="15.6" text-anchor="end">1.0M</text>
<text x="1349" y="804.2" font-size="19" text-anchor="middle" transform="rotate(-90 1349 804.2)">SS-A</text>
<path d="M1418.5 1014.5V1026M1473.5 1014.5V1026M1528.5 1014.5V1026M1583.5 1014.5V1026M1638.5 1014.5V1026M1692.5 1014.5V1026M1746.5 1014.5V1026M1801.5 1014.5V1026" stroke="#000" stroke-width="3.3" fill="none"/>
<path d="M1435.1 1014.5V1019.5M1444.7 1014.5V1019.5M1451.6 1014.5V1019.5M1456.9 1014.5V1019.5M1461.3 1014.5V1019.5M1465 1014.5V1019.5M1468.2 1014.5V1019.5M1471 1014.5V1019.5M1490.1 1014.5V1019.5M1499.7 1014.5V1019.5M1506.6 1014.5V1019.5M1511.9 1014.5V1019.5M1516.3 1014.5V1019.5M1520 1014.5V1019.5M1523.2 1014.5V1019.5M1526 1014.5V1019.5M1545.1 1014.5V1019.5M1554.7 1014.5V1019.5M1561.6 1014.5V1019.5M1566.9 1014.5V1019.5M1571.3 1014.5V1019.5M1575 1014.5V1019.5M1578.2 1014.5V1019.5M1581 1014.5V1019.5M1600.1 1014.5V1019.5M1609.7 1014.5V1019.5M1616.6 1014.5V1019.5M1621.9 1014.5V1019.5M1626.3 1014.5V1019.5M1630 1014.5V1019.5M1633.2 1014.5V1019.5M1636 1014.5V1019.5M1654.8 1014.5V1019.5M1664.3 1014.5V1019.5M1671 1014.5V1019.5M1676.2 1014.5V1019.5M1680.5 1014.5V1019.5M1684.1 1014.5V1019.5M1687.3 1014.5V1019.5M1690 1014.5V1019.5M1708.8 1014.5V1019.5M1718.3 1014.5V1019.5M1725 1014.5V1019.5M1730.2 1014.5V1019.5M1734.5 1014.5V1019.5M1738.1 1014.5V1019.5M1741.3 1014.5V1019.5M1744 1014.5V1019.5M1763.1 1014.5V1019.5M1772.7 1014.5V1019.5M1779.6 1014.5V1019.5M1784.9 1014.5V1019.5M1789.3 1014.5V1019.5M1793 1014.5V1019.5M1796.2 1014.5V1019.5M1799 1014.5V1019.5M1818.1 1014.5V1019.5M1827.7 1014.5V1019.5" stroke="#111" stroke-width="1.35" fill="none"/>
<text x="1433" y="1062.5" font-size="15.6" text-anchor="middle">10</text>
<text x="1442.7" y="1050" font-size="15.6">0</text>
<text x="1528.5" y="1062.5" font-size="15.6" text-anchor="middle">10</text>
<text x="1538.2" y="1050" font-size="15.6">2</text>
<text x="1638.5" y="1062.5" font-size="15.6" text-anchor="middle">10</text>
<text x="1648.2" y="1050" font-size="15.6">4</text>
<text x="1746.5" y="1062.5" font-size="15.6" text-anchor="middle">10</text>
<text x="1756.2" y="1050" font-size="15.6">6</text>
<text x="1622.5" y="1099.5" font-size="19.5" text-anchor="middle">Comp-FL6-A</text>
<rect x="1632.5" y="945" width="75" height="54" fill="none" stroke="#000" stroke-width="2.1"/>
<text x="1819" y="651.5" font-size="39.5" text-anchor="end" fill="#000">TH2</text>
<path d="M1919 1000.5H1931M1919 921.6H1931M1919 842.7H1931M1919 763.8H1931M1919 684.9H1931M1919 606H1931" stroke="#000" stroke-width="3.5" fill="none"/>
<path d="M1926 980.8H1931M1926 961H1931M1926 941.3H1931M1926 901.9H1931M1926 882.2H1931M1926 862.4H1931M1926 823H1931M1926 803.2H1931M1926 783.5H1931M1926 744.1H1931M1926 724.3H1931M1926 704.6H1931M1926 665.2H1931M1926 645.5H1931M1926 625.7H1931M1926 586.3H1931" stroke="#111" stroke-width="1.35" fill="none"/>
<text x="1908.5" y="998.8" font-size="15.6" text-anchor="end">0</text>
<text x="1908.5" y="931.4" font-size="15.6" text-anchor="end">200K</text>
<text x="1908.5" y="852.5" font-size="15.6" text-anchor="end">400K</text>
<text x="1908.5" y="773.6" font-size="15.6" text-anchor="end">600K</text>
<text x="1908.5" y="694.7" font-size="15.6" text-anchor="end">800K</text>
<text x="1908.5" y="615.8" font-size="15.6" text-anchor="end">1.0M</text>
<text x="1862" y="791.2" font-size="19" text-anchor="middle" transform="rotate(-90 1862 791.2)">SS-A</text>
<path d="M1933 1001.5V1013M2001.5 1001.5V1013M2070 1001.5V1013M2138.5 1001.5V1013M2207 1001.5V1013M2275.5 1001.5V1013M2344 1001.5V1013" stroke="#000" stroke-width="3.3" fill="none"/>
<path d="M1953.6 1001.5V1006.5M1965.7 1001.5V1006.5M1974.2 1001.5V1006.5M1980.9 1001.5V1006.5M1986.3 1001.5V1006.5M1990.9 1001.5V1006.5M1994.9 1001.5V1006.5M1998.4 1001.5V1006.5M2022.1 1001.5V1006.5M2034.2 1001.5V1006.5M2042.7 1001.5V1006.5M2049.4 1001.5V1006.5M2054.8 1001.5V1006.5M2059.4 1001.5V1006.5M2063.4 1001.5V1006.5M2066.9 1001.5V1006.5M2090.6 1001.5V1006.5M2102.7 1001.5V1006.5M2111.2 1001.5V1006.5M2117.9 1001.5V1006.5M2123.3 1001.5V1006.5M2127.9 1001.5V1006.5M2131.9 1001.5V1006.5M2135.4 1001.5V1006.5M2159.1 1001.5V1006.5M2171.2 1001.5V1006.5M2179.7 1001.5V1006.5M2186.4 1001.5V1006.5M2191.8 1001.5V1006.5M2196.4 1001.5V1006.5M2200.4 1001.5V1006.5M2203.9 1001.5V1006.5M2227.6 1001.5V1006.5M2239.7 1001.5V1006.5M2248.2 1001.5V1006.5M2254.9 1001.5V1006.5M2260.3 1001.5V1006.5M2264.9 1001.5V1006.5M2268.9 1001.5V1006.5M2272.4 1001.5V1006.5M2296.1 1001.5V1006.5M2308.2 1001.5V1006.5M2316.7 1001.5V1006.5M2323.4 1001.5V1006.5M2328.8 1001.5V1006.5M2333.4 1001.5V1006.5M2337.4 1001.5V1006.5M2340.9 1001.5V1006.5" stroke="#111" stroke-width="1.35" fill="none"/>
<text x="1948" y="1049.5" font-size="15.6" text-anchor="middle">10</text>
<text x="1957.7" y="1037" font-size="15.6">0</text>
<text x="2001.5" y="1049.5" font-size="15.6" text-anchor="middle">10</text>
<text x="2011.2" y="1037" font-size="15.6">1</text>
<text x="2070" y="1049.5" font-size="15.6" text-anchor="middle">10</text>
<text x="2079.7" y="1037" font-size="15.6">2</text>
<text x="2138.5" y="1049.5" font-size="15.6" text-anchor="middle">10</text>
<text x="2148.2" y="1037" font-size="15.6">3</text>
<text x="2207" y="1049.5" font-size="15.6" text-anchor="middle">10</text>
<text x="2216.7" y="1037" font-size="15.6">4</text>
<text x="2275.5" y="1049.5" font-size="15.6" text-anchor="middle">10</text>
<text x="2285.2" y="1037" font-size="15.6">5</text>
<text x="2326.5" y="1049.5" font-size="15.6" text-anchor="middle">10</text>
<text x="2336.2" y="1037" font-size="15.6">6</text>
<text x="2136" y="1086" font-size="19.5" text-anchor="middle">Comp-FL8-A</text>
<rect x="2184" y="927" width="55" height="60.5" fill="none" stroke="#000" stroke-width="2.1"/>
<text x="2336.5" y="637.5" font-size="39.5" text-anchor="end" fill="#000">CD4+</text>
<path d="M562 453.8L763.3 453.8L763.3 450.3L839 456.4L763.3 462.5L763.3 459L562 459Z" fill="#c8171e"/>
<path d="M1093 359.8L1295 359.8L1295 356.4L1369 362.2L1295 368L1295 364.6L1093 364.6Z" fill="#c8171e"/>
<path d="M1743.3 454L1943 454L1943 450.2L2018 456.3L1943 462.4L1943 458.6L1743.3 458.6Z" fill="#c8171e"/>
<path d="M2213.6 488L2213.6 689L2209.9 689L2216 762.5L2222.1 689L2218.4 689L2218.4 488Z" fill="#c8171e"/>
<path d="M2132.8 953.6L1931 953.6L1931 949.4L1856.5 955.5L1931 961.6L1931 957.4L2132.8 957.4Z" fill="#c8171e"/>
<rect x="561" y="3145" width="442.5" height="442" fill="#fff" stroke="#8c8c8c" stroke-width="1.15"/>
<g transform="translate(562 3146.75) scale(1.5)" fill="none" stroke-width="1" shape-rendering="crispEdges"><path d="M117 0h1m3 0h2m1 0h1m8 0h3m2 0h1m1 0h2m2 0h1m8 0h1m2 0h1m3 0h1m1 0h1m1 0h1m7 0h1m3 0h1m2 0h2m3 0h1m4 0h1m2 0h1m2 0h2m2 0h2m1 0h1m2 0h2M80 1h1m10 0h1M158 2h1M166 3h1m3 0h1M137 4h1M130 5h1M84 6h1M67 7h1M116 9h1M69 11h1m20 0h1M108 13h1m97 0h1M130 14h1M70 15h1M135 16h1m54 0h1M134 18h1M164 19h1M116 20h1m33 0h1M139 22h1m19 0h1M124 23h1M127 25h1M144 28h1M112 29h1M131 30h1M116 31h1M129 33h1M114 34h1M82 36h1m98 0h1M157 37h1m2 0h1m29 0h1M132 38h1M128 39h1m24 0h1M106 40h1m3 0h1m11 0h1m49 0h1M113 41h1M73 42h1m85 0h1m3 0h1M101 43h1M74 45h1m89 0h1M144 46h1m4 0h1m31 0h1M124 47h1m28 0h1M73 48h1m40 0h1m23 0h1M71 49h1m58 0h1m55 0h1M162 50h1m1 0h1M132 52h1m36 0h1m8 0h1M113 56h1m10 0h1m14 0h1M93 59h1m71 0h1M78 60h1m98 0h1M119 61h1M101 62h1M131 63h1M118 64h1m75 0h1M159 66h1M63 67h1m55 0h1M89 68h1m19 0h1M84 70h1m96 0h2M84 71h1m23 0h1M147 72h1M46 73h1m119 0h1M193 74h1M168 75h1M71 76h1M128 77h1m36 0h1m74 0h1M130 78h1m32 0h1M70 79h1m73 0h1m13 0h1M43 80h1M103 81h1m36 0h1M123 82h1m6 0h1m47 0h1M62 83h1m10 0h1m12 0h1m21 0h1m9 0h1M118 84h1m4 0h1m15 0h1m11 0h1M156 85h1m3 0h1M66 86h1m27 0h1M89 88h1m44 0h1M66 89h1m20 0h1m17 0h1m67 0h1m25 0h1m22 0h1M84 90h1m25 0h1M84 91h1m26 0h1M60 92h1m1 0h1m14 0h1m37 0h1m1 0h1m104 0h1M144 93h1m16 0h2M114 94h1M66 95h1m25 0h1m26 0h1m18 0h1m100 0h1M61 96h1m56 0h1m20 0h1M51 98h1m7 0h1m69 0h1m15 0h1m27 0h1m9 0h1M72 99h1m61 0h1m66 0h1M101 100h1M116 101h1m61 0h1M56 102h1M96 103h1m70 0h1M45 104h1m66 0h1m1 0h1m21 0h1m14 0h1m11 0h1m34 0h1m42 0h1M70 105h1m91 0h1M59 106h1m23 0h1m68 0h1m11 0h1M90 107h1m13 0h1m33 0h1m47 0h1M36 108h1m66 0h1m42 0h1m36 0h1m13 0h1M174 109h1M153 110h1m4 0h1m39 0h1M122 111h1m20 0h1m45 0h1M96 112h1m34 0h1m6 0h1m11 0h1m21 0h1m3 0h1M99 113h1m25 0h1m30 0h1M74 114h1m43 0h1m21 0h1M105 115h1m12 0h1m4 0h1m10 0h1m31 0h1m2 0h1M20 116h1m7 0h1m14 0h1m35 0h1m21 0h1m44 0h1M80 117h1m3 0h1m20 0h1m29 0h1m93 0h1M19 118h1m65 0h1m7 0h1m6 0h1m1 0h1m43 0h1m55 0h1m1 0h1m2 0h1M200 119h1M81 120h1m39 0h1m57 0h1m10 0h1M42 121h1m39 0h1m1 0h1m9 0h1m39 0h1M62 122h1m49 0h1m24 0h1m7 0h1M94 124h1m13 0h1m15 0h1m4 0h1m13 0h1m6 0h1M69 125h1m30 0h1m23 0h1m10 0h1M77 126h1m1 0h1M49 127h1m21 0h1m93 0h1m7 0h1M48 128h1M142 129h1m1 0h1m13 0h1m22 0h1m23 0h1M37 130h1m55 0h2m49 0h1m43 0h1m12 0h1M65 131h1m51 0h1m9 0h1m41 0h1m20 0h1M59 132h1m34 0h1m4 0h1m45 0h1M31 133h1m81 0h1m36 0h1m27 0h1m21 0h1M103 134h1m4 0h1m3 0h1m37 0h1m27 0h1M43 135h1m90 0h1m8 0h1m19 0h1m32 0h1M61 136h1m58 0h1m27 0h1m40 0h1m2 0h1M7 137h1m22 0h1m20 0h1m31 0h1m11 0h1m34 0h1m2 0h1m39 0h1M74 138h1m18 0h1m1 0h1m16 0h2m15 0h1m56 0h1M74 139h1m100 0h1m2 0h1m38 0h1M64 140h1m25 0h1m5 0h1m9 0h1m99 0h1M89 141h1m11 0h1m21 0h1m25 0h1M123 142h1m20 0h1m27 0h1m3 0h1M36 143h1m11 0h1m7 0h1m23 0h1m70 0h1M76 144h1m5 0h1m34 0h1m10 0h1m21 0h1m13 0h1m13 0h1M46 145h1m54 0h1m7 0h1m11 0h1m2 0h1m15 0h1m18 0h1m1 0h1M160 146h1m20 0h1M67 147h1m16 0h1m7 0h1m23 0h1m19 0h2m12 0h1m27 0h1m8 0h1M62 148h1m39 0h1m12 0h1m24 0h1m6 0h1m19 0h1m13 0h1M69 149h1m9 0h1m8 0h1m9 0h1m3 0h1m36 0h1m15 0h1M46 150h1m4 0h2m64 0h1m7 0h1m16 0h1m1 0h1m27 0h1m6 0h1M41 151h1m21 0h1m6 0h1m7 0h1m52 0h1m46 0h1m1 0h1m28 0h1M14 152h1m36 0h1m4 0h1m49 0h1m3 0h1m20 0h1m5 0h1M79 153h1m14 0h1m19 0h1m13 0h1m22 0h1m38 0h1m1 0h1M46 154h1m7 0h2m23 0h1m6 0h1m20 0h1m6 0h1m3 0h2m2 0h1m7 0h1m13 0h1m18 0h1m21 0h1M37 155h1m5 0h1m19 0h1m1 0h1m32 0h1m41 0h1m31 0h1M48 156h1m67 0h1m3 0h1m83 0h1M13 157h1m27 0h1m47 0h1m3 0h1m11 0h1m10 0h1m6 0h1m7 0h1m14 0h1m12 0h1m4 0h1m7 0h2m33 0h1M48 158h1m25 0h1m10 0h1m10 0h1m3 0h1m81 0h1m23 0h1M106 159h1m3 0h1m11 0h1m1 0h1m13 0h1m1 0h1m27 0h1M49 160h1m11 0h1m7 0h1m47 0h1m52 0h1m75 0h1M101 161h1m14 0h1m2 0h1m11 0h1m7 0h1m56 0h1m22 0h1M42 162h1m53 0h1m15 0h1m16 0h1m1 0h2m46 0h1M76 163h2m46 0h1m31 0h1m1 0h1m22 0h1m1 0h1M46 164h1m39 0h1m5 0h1m3 0h1m35 0h1m8 0h1m4 0h1m12 0h1M50 165h1m68 0h1m5 0h1m7 0h1m3 0h1m20 0h1m15 0h1m15 0h1M27 166h1m51 0h1m11 0h1m29 0h1m2 0h1m11 0h1m9 0h1m17 0h1m39 0h1M75 167h1m41 0h1m50 0h2m40 0h1M53 168h1m8 0h1m12 0h1m25 0h1m12 0h1m5 0h1m7 0h1m3 0h1m10 0h1m47 0h1M75 169h1m5 0h1m28 0h2m1 0h1m27 0h1m7 0h1m14 0h1m19 0h1M83 170h1m20 0h1m2 0h1m14 0h1m2 0h1m24 0h1m6 0h1m19 0h1M38 171h1m1 0h1m15 0h1m7 0h1m4 0h1m8 0h1m35 0h1m7 0h1m1 0h1m6 0h2m1 0h1m5 0h1m12 0h1M27 172h1m5 0h1m14 0h1m41 0h1m5 0h1m4 0h1m1 0h1m6 0h2m1 0h1m19 0h1m3 0h1m1 0h1m8 0h1m3 0h1m4 0h1m8 0h1m5 0h1m6 0h1m42 0h1M1 173h1m85 0h1m8 0h1m6 0h2m6 0h2m4 0h1m22 0h1m14 0h1m7 0h1m16 0h1m12 0h1M11 174h1m8 0h1m34 0h1m10 0h1m47 0h1m1 0h1m10 0h1m9 0h2m5 0h1m10 0h1m61 0h1M29 175h1m27 0h1m3 0h1m15 0h1m35 0h2m5 0h2m1 0h1m3 0h1m1 0h1m27 0h1m1 0h1m3 0h1m12 0h1m7 0h2m5 0h1m1 0h1M54 176h1m15 0h1m2 0h1m13 0h1m2 0h1m4 0h1m1 0h2m6 0h1m16 0h1m1 0h1m22 0h1m1 0h1m12 0h1m1 0h1m27 0h1m11 0h1M48 177h1m23 0h1m2 0h1m31 0h3m3 0h1m11 0h2m2 0h1m14 0h1m33 0h2M73 178h1m22 0h1m7 0h1m4 0h2m4 0h1m29 0h1m15 0h1m29 0h1m5 0h1m12 0h1m4 0h1M33 179h1m22 0h1m10 0h1m5 0h1m13 0h1m5 0h1m36 0h1m7 0h3m8 0h3m3 0h1m2 0h1m15 0h1m21 0h1m1 0h1m5 0h1m34 0h1M45 180h2m10 0h1m21 0h2m12 0h1m3 0h1m3 0h2m2 0h1m2 0h1m11 0h2m9 0h1m2 0h2m4 0h1m14 0h1m2 0h1m1 0h1m2 0h1m2 0h1m20 0h1m1 0h1m3 0h1M27 181h1m3 0h1m28 0h1m16 0h1m2 0h1m13 0h1m22 0h1m20 0h1m10 0h1m5 0h4m4 0h1m3 0h1m22 0h1m2 0h1m6 0h1M50 182h1m51 0h1m4 0h2m8 0h2m2 0h3m4 0h1m1 0h1m1 0h1m14 0h1m8 0h1m13 0h1m14 0h2m3 0h1m16 0h1m7 0h1M28 183h1m32 0h1m9 0h1m5 0h1m11 0h1m17 0h1m2 0h1m8 0h1m5 0h1m4 0h1m4 0h1m6 0h1m2 0h1m8 0h1m19 0h1m3 0h1m1 0h1m9 0h1m19 0h1M47 184h1m9 0h1m2 0h1m1 0h1m3 0h1m1 0h1m16 0h1m4 0h2m2 0h2m7 0h1m4 0h1m6 0h1m5 0h1m1 0h1m19 0h1m9 0h1m2 0h2m5 0h1m1 0h1m7 0h1m2 0h1M3 185h1m3 0h1m22 0h1m31 0h1m11 0h1m34 0h1m6 0h2m12 0h1m1 0h1m5 0h1m4 0h1m3 0h1m4 0h1m16 0h1m13 0h1m13 0h1m2 0h1m11 0h1M49 186h1m7 0h2m10 0h1m15 0h1m18 0h2m8 0h1m7 0h2m1 0h2m2 0h1m2 0h1m13 0h1m6 0h1m1 0h1m4 0h1m1 0h1m1 0h2m4 0h1m1 0h2m8 0h1m2 0h1m6 0h1m3 0h1m21 0h1M38 187h1m14 0h1m23 0h1m6 0h1m17 0h1m3 0h2m2 0h1m1 0h2m18 0h1m3 0h1m5 0h1m3 0h2m2 0h2m9 0h1m3 0h1m2 0h1m8 0h1m6 0h1m3 0h1m58 0h1M17 188h1m25 0h1m21 0h1m17 0h1m3 0h1m4 0h1m7 0h1m13 0h1m2 0h1m2 0h1m12 0h1m1 0h1m12 0h2m1 0h1m12 0h1m1 0h1m11 0h1m2 0h1m2 0h1m2 0h1m12 0h1m19 0h1M4 189h1m34 0h1m19 0h1m10 0h2m8 0h1m1 0h1m7 0h1m1 0h1m10 0h1m7 0h1m7 0h1m9 0h1m17 0h2m1 0h1m21 0h1m4 0h1m2 0h1m2 0h1m11 0h1m6 0h1M32 190h1m8 0h1m15 0h1m13 0h1m7 0h1m1 0h1m7 0h1m6 0h1m5 0h1m1 0h1m1 0h1m1 0h1m3 0h1m7 0h1m5 0h1m1 0h1m7 0h1m1 0h1m8 0h1m7 0h1m3 0h1m7 0h1m13 0h1m15 0h1m1 0h1m28 0h1M28 191h1m3 0h1m9 0h1m5 0h1m3 0h1m11 0h1m1 0h1m5 0h1m5 0h1m10 0h1m8 0h1m2 0h1m3 0h1m7 0h1m1 0h2m7 0h1m6 0h1m4 0h1m5 0h1m5 0h1m22 0h1m10 0h1m1 0h1m18 0h1M5 192h1m44 0h1m1 0h1m36 0h1m16 0h1m5 0h1m5 0h1m1 0h1m4 0h3m2 0h1m4 0h1m5 0h2m2 0h3m2 0h1m6 0h2m2 0h3m3 0h1m15 0h1m2 0h2m7 0h1m37 0h1M35 193h1m14 0h1m1 0h1m3 0h2m18 0h1m2 0h1m10 0h1m5 0h1m3 0h1m6 0h1m10 0h2m2 0h3m2 0h1m2 0h2m1 0h1m5 0h1m1 0h1m5 0h1m1 0h1m1 0h2m6 0h1m3 0h1m1 0h3m2 0h1m7 0h1M67 194h1m16 0h1m6 0h1m2 0h1m3 0h3m3 0h1m5 0h1m1 0h1m2 0h1m4 0h1m8 0h1m6 0h2m10 0h1m3 0h1m1 0h2m1 0h2m4 0h1m1 0h1m2 0h1m3 0h1m6 0h1m11 0h1m1 0h1M45 195h1m15 0h1m9 0h2m2 0h1m6 0h2m9 0h1m8 0h2m1 0h1m2 0h2m1 0h1m2 0h1m4 0h6m1 0h1m7 0h1m5 0h1m2 0h1m2 0h1m1 0h1m2 0h2m2 0h2m2 0h1m1 0h1m3 0h1m3 0h2m3 0h1m1 0h1m14 0h3m6 0h1m6 0h1M7 196h1m55 0h1m5 0h1m4 0h1m13 0h1m1 0h1m9 0h1m8 0h1m3 0h1m1 0h2m1 0h1m1 0h2m3 0h2m1 0h1m2 0h2m5 0h2m4 0h1m1 0h2m2 0h2m1 0h3m1 0h1m2 0h2m1 0h2m3 0h2m1 0h1m13 0h1m1 0h1m10 0h1m3 0h1m1 0h1m1 0h1m9 0h1m9 0h1m12 0h2M26 197h1m4 0h1m6 0h1m8 0h1m15 0h1m1 0h1m4 0h2m3 0h1m7 0h1m3 0h2m9 0h2m1 0h1m4 0h1m12 0h2m4 0h1m3 0h5m1 0h1m1 0h2m1 0h4m1 0h2m1 0h1m1 0h1m1 0h2m1 0h1m3 0h3m4 0h2m2 0h2m1 0h1m1 0h2m5 0h1m4 0h1m12 0h1M34 198h1m5 0h1m20 0h1m1 0h2m8 0h1m4 0h1m5 0h1m8 0h2m4 0h2m3 0h2m4 0h1m4 0h3m1 0h3m1 0h1m1 0h1m4 0h2m1 0h4m2 0h1m1 0h2m1 0h1m1 0h1m2 0h1m1 0h2m2 0h1m1 0h1m4 0h1m1 0h3m5 0h1m5 0h1m6 0h3m29 0h1M18 199h1m7 0h1m1 0h1m2 0h1m18 0h1m16 0h2m2 0h1m2 0h1m12 0h3m1 0h2m6 0h1m3 0h1m2 0h5m1 0h1m1 0h1m2 0h1m3 0h4m4 0h1m2 0h2m6 0h1m1 0h5m2 0h1m1 0h2m2 0h1m2 0h3m3 0h1m1 0h1m1 0h2m4 0h1m3 0h1m7 0h1m2 0h1m3 0h1m14 0h1M48 200h1m17 0h1m12 0h1m7 0h1m7 0h2m5 0h1m2 0h1m3 0h2m2 0h1m3 0h2m3 0h4m2 0h1m5 0h3m1 0h3m1 0h3m1 0h4m3 0h5m2 0h1m1 0h1m1 0h2m2 0h1m1 0h1m3 0h2m7 0h3m9 0h1m29 0h1M37 201h2m12 0h2m1 0h1m6 0h1m3 0h2m9 0h2m2 0h1m7 0h1m4 0h1m3 0h2m1 0h1m1 0h2m3 0h2m2 0h7m1 0h1m1 0h6m3 0h1m1 0h1m1 0h11m2 0h2m1 0h2m2 0h4m1 0h1m1 0h3m5 0h4m3 0h1m10 0h2M9 202h1m55 0h1m1 0h3m6 0h1m3 0h1m4 0h1m3 0h4m1 0h3m1 0h1m1 0h3m4 0h3m1 0h2m4 0h2m1 0h14m1 0h7m1 0h3m1 0h2m3 0h2m1 0h2m1 0h1m2 0h1m1 0h2m1 0h4m2 0h1m1 0h1m8 0h3m1 0h1m5 0h1m5 0h1m3 0h1m9 0h1M10 203h1m8 0h1m3 0h1m40 0h2m1 0h2m6 0h2m2 0h1m3 0h1m2 0h1m1 0h4m1 0h1m1 0h1m3 0h1m1 0h1m3 0h1m1 0h2m1 0h6m1 0h2m1 0h2m1 0h4m1 0h5m1 0h1m1 0h1m1 0h3m1 0h3m1 0h3m1 0h3m2 0h5m2 0h1m9 0h2m1 0h1m3 0h1m1 0h1m1 0h1m5 0h1m12 0h1m11 0h1M8 204h1m1 0h1m23 0h1m9 0h1m3 0h1m18 0h1m1 0h3m4 0h1m7 0h2m1 0h1m1 0h1m1 0h1m3 0h3m1 0h1m1 0h6m2 0h3m2 0h3m1 0h3m1 0h4m1 0h4m1 0h6m1 0h13m2 0h5m2 0h3m1 0h1m1 0h1m1 0h2m2 0h2m2 0h1m2 0h1m5 0h1m8 0h1m3 0h1m34 0h1M16 205h1m12 0h1m19 0h1m11 0h1m1 0h1m7 0h2m8 0h2m4 0h1m2 0h4m1 0h5m1 0h2m1 0h2m1 0h22m1 0h3m1 0h1m2 0h3m1 0h3m1 0h9m1 0h3m1 0h1m2 0h2m2 0h2m3 0h4m2 0h1m1 0h3m17 0h1M17 206h1m7 0h1m9 0h1m2 0h1m2 0h1m11 0h1m10 0h1m2 0h1m8 0h2m3 0h1m2 0h1m1 0h1m1 0h4m2 0h5m1 0h14m1 0h2m1 0h1m1 0h23m2 0h8m1 0h1m2 0h4m1 0h1m1 0h3m1 0h1m1 0h2m1 0h1m4 0h1m4 0h1m11 0h1m3 0h1m3 0h1m1 0h1m2 0h1M56 207h1m1 0h1m1 0h1m4 0h1m2 0h2m6 0h1m4 0h1m4 0h2m1 0h1m1 0h2m3 0h1m1 0h2m1 0h9m1 0h4m1 0h1m1 0h8m1 0h8m1 0h3m1 0h9m1 0h5m1 0h3m3 0h8m3 0h2m5 0h1m2 0h1m4 0h1m6 0h2m2 0h1m31 0h1M11 208h1m8 0h1m12 0h1m8 0h1m17 0h1m2 0h2m5 0h1m6 0h2m3 0h1m2 0h1m1 0h1m1 0h2m1 0h5m1 0h3m2 0h5m1 0h1m1 0h5m1 0h1m1 0h8m1 0h12m1 0h3m2 0h1m1 0h1m1 0h11m1 0h5m1 0h1m3 0h4m2 0h1m1 0h1m1 0h1m1 0h1m2 0h1m2 0h2m1 0h1m14 0h1m11 0h1M5 209h1m25 0h1m12 0h1m4 0h1m6 0h1m8 0h1m3 0h1m3 0h4m1 0h2m1 0h2m1 0h4m2 0h2m2 0h3m1 0h6m1 0h3m1 0h1m1 0h1m1 0h15m1 0h2m1 0h4m1 0h19m2 0h6m1 0h2m2 0h3m1 0h2m4 0h2m6 0h2m3 0h1m2 0h1M15 210h1m28 0h1m1 0h1m21 0h1m3 0h3m2 0h1m1 0h1m1 0h7m1 0h19m1 0h7m1 0h12m1 0h1m1 0h3m1 0h3m2 0h1m1 0h2m1 0h9m1 0h10m3 0h4m2 0h1m2 0h1m1 0h1m1 0h1m4 0h1M20 211h1m19 0h1m6 0h1m4 0h1m6 0h2m2 0h1m1 0h1m1 0h1m3 0h1m1 0h5m1 0h7m1 0h2m1 0h5m1 0h10m1 0h4m1 0h19m1 0h6m1 0h2m1 0h7m1 0h1m1 0h3m1 0h12m1 0h2m5 0h1m3 0h2m1 0h3m3 0h1m1 0h1m1 0h1m9 0h1m14 0h1M17 212h1m4 0h1m10 0h1m18 0h2m2 0h2m5 0h2m5 0h3m1 0h1m2 0h4m2 0h3m1 0h13m1 0h19m1 0h12m1 0h4m1 0h5m1 0h1m1 0h5m1 0h8m1 0h1m1 0h4m2 0h4m4 0h1m1 0h2m1 0h4M34 213h1m4 0h1m10 0h1m11 0h1m3 0h1m1 0h2m1 0h1m1 0h3m2 0h1m1 0h5m1 0h1m2 0h2m1 0h3m1 0h3m1 0h24m1 0h1m1 0h4m1 0h3m1 0h2m1 0h5m2 0h1m1 0h8m1 0h15m1 0h1m1 0h1m1 0h2m1 0h1m3 0h1m3 0h1m3 0h1m6 0h1m5 0h1m6 0h1m1 0h1M17 214h1m7 0h1m14 0h1m7 0h2m1 0h1m4 0h1m1 0h1m1 0h1m3 0h1m2 0h7m1 0h7m1 0h8m1 0h2m1 0h24m1 0h5m2 0h13m1 0h2m1 0h5m1 0h13m1 0h3m1 0h1m2 0h3m4 0h2m1 0h3m8 0h1m16 0h1M32 215h1m1 0h1m4 0h2m3 0h1m5 0h1m11 0h2m2 0h4m2 0h2m1 0h8m1 0h1m1 0h3m1 0h27m1 0h1m1 0h35m1 0h1m1 0h7m3 0h4m3 0h1m3 0h1m1 0h1m2 0h1m5 0h1m3 0h1m16 0h1M1 216h1m25 0h1m7 0h1m10 0h1m9 0h1m3 0h1m1 0h1m1 0h1m1 0h5m1 0h3m1 0h1m1 0h7m1 0h3m1 0h9m1 0h6m1 0h7m1 0h5m1 0h3m1 0h7m1 0h4m1 0h2m2 0h2m1 0h2m1 0h2m1 0h7m1 0h5m1 0h1m2 0h2m1 0h2m3 0h1m9 0h1m4 0h1m1 0h2m6 0h1M33 217h1m11 0h2m4 0h2m1 0h1m2 0h2m2 0h1m1 0h3m1 0h3m1 0h20m2 0h28m1 0h8m1 0h21m1 0h5m1 0h5m1 0h4m1 0h4m4 0h2m1 0h1m4 0h2m14 0h1M41 218h1m5 0h1m4 0h1m1 0h2m1 0h4m1 0h1m1 0h2m1 0h1m3 0h1m1 0h7m1 0h22m1 0h2m1 0h1m1 0h3m1 0h11m1 0h3m2 0h2m1 0h10m1 0h6m1 0h3m2 0h13m1 0h1m1 0h2m4 0h3m3 0h1m2 0h2m6 0h3m13 0h1M8 219h1m1 0h1m8 0h1m3 0h1m22 0h1m1 0h1m2 0h1m4 0h1m1 0h2m1 0h2m1 0h4m1 0h2m1 0h4m1 0h5m1 0h2m1 0h4m1 0h11m1 0h19m1 0h5m1 0h5m1 0h3m1 0h6m1 0h3m1 0h1m1 0h3m1 0h1m1 0h5m2 0h10m1 0h1m1 0h1m4 0h2m2 0h1m2 0h2M5 220h1m15 0h1m1 0h1m13 0h1m8 0h1m2 0h2m1 0h1m1 0h2m1 0h1m1 0h1m1 0h5m1 0h3m1 0h1m1 0h4m1 0h1m1 0h3m1 0h5m1 0h20m1 0h5m1 0h6m1 0h7m1 0h9m1 0h3m1 0h8m1 0h3m1 0h15m2 0h2m2 0h1m9 0h1m2 0h1M25 221h2m12 0h1m1 0h1m6 0h2m5 0h8m1 0h7m1 0h2m1 0h16m1 0h1m1 0h8m1 0h14m1 0h6m1 0h13m1 0h7m1 0h8m1 0h4m1 0h10m1 0h1m4 0h1m1 0h2m5 0h1m4 0h1m1 0h1m2 0h1M3 222h1m2 0h1m5 0h1m1 0h1m18 0h1m3 0h1m1 0h1m1 0h1m6 0h2m2 0h2m1 0h1m3 0h4m1 0h11m1 0h1m1 0h1m1 0h12m1 0h8m1 0h10m1 0h7m1 0h10m1 0h6m1 0h8m1 0h3m1 0h11m1 0h7m1 0h1m1 0h1m1 0h2m1 0h2m1 0h1m2 0h1m3 0h1m6 0h1m1 0h1m1 0h1M31 223h1m1 0h1m4 0h2m5 0h1m2 0h1m1 0h2m1 0h1m1 0h1m1 0h1m1 0h34m1 0h6m1 0h6m1 0h21m1 0h4m1 0h8m1 0h2m2 0h11m1 0h5m1 0h4m1 0h1m1 0h4m1 0h1m12 0h1m13 0h1M3 224h1m3 0h1m3 0h1m2 0h2m9 0h1m5 0h1m4 0h1m4 0h1m2 0h2m1 0h1m1 0h1m1 0h5m1 0h5m1 0h5m1 0h13m1 0h3m1 0h4m2 0h6m1 0h16m1 0h11m1 0h15m1 0h5m1 0h2m1 0h1m1 0h2m1 0h4m1 0h3m1 0h5m2 0h2m3 0h2m2 0h4m2 0h1M10 225h1m22 0h1m4 0h1m2 0h1m1 0h1m2 0h1m5 0h1m1 0h4m1 0h1m1 0h6m1 0h14m1 0h17m1 0h4m1 0h27m1 0h1m2 0h11m1 0h21m2 0h2m2 0h5m4 0h2m2 0h1M4 226h2m1 0h1m15 0h1m8 0h2m5 0h2m1 0h1m2 0h1m1 0h1m2 0h5m1 0h10m1 0h30m1 0h10m1 0h4m1 0h4m1 0h6m1 0h18m1 0h9m1 0h11m1 0h1m1 0h1m1 0h5m1 0h2m4 0h1m2 0h1m4 0h1M16 227h2m1 0h1m2 0h2m2 0h3m1 0h1m1 0h1m8 0h1m2 0h3m1 0h1m1 0h1m3 0h1m2 0h4m1 0h7m1 0h6m1 0h12m1 0h9m1 0h3m2 0h9m1 0h4m1 0h36m1 0h2m1 0h12m1 0h7m1 0h1m1 0h1m1 0h3m2 0h1M19 228h2m8 0h1m3 0h1m2 0h1m1 0h1m1 0h4m2 0h5m1 0h2m1 0h15m1 0h4m1 0h2m1 0h3m1 0h6m1 0h1m1 0h12m1 0h6m1 0h17m1 0h2m1 0h7m1 0h14m1 0h10m1 0h3m2 0h1m2 0h1m2 0h1m11 0h1M27 229h1m7 0h1m1 0h1m1 0h2m1 0h27m1 0h41m1 0h16m1 0h6m1 0h23m1 0h13m1 0h4m1 0h1m3 0h1m5 0h1M22 230h2m1 0h1m6 0h1m8 0h18m1 0h4m1 0h3m1 0h5m1 0h2m1 0h8m1 0h13m3 0h1m1 0h2m1 0h5m3 0h19m1 0h12m1 0h22m2 0h3m1 0h1m1 0h1m1 0h1M10 231h1m4 0h1m4 0h1m11 0h1m3 0h2m1 0h18m1 0h2m1 0h7m1 0h8m1 0h22m1 0h6m1 0h8m1 0h3m1 0h7m1 0h6m2 0h5m1 0h23m1 0h3m1 0h4m1 0h1m1 0h1m1 0h1m2 0h3m3 0h2m1 0h1M18 232h1m5 0h1m2 0h2m1 0h3m3 0h3m1 0h20m1 0h2m1 0h15m2 0h22m1 0h24m1 0h16m2 0h30m1 0h1m2 0h2m4 0h1M8 233h1m2 0h1m20 0h3m1 0h5m1 0h8m1 0h6m1 0h3m1 0h3m1 0h10m1 0h2m1 0h13m1 0h20m1 0h13m1 0h9m2 0h5m1 0h26m4 0h3m1 0h1m1 0h1M18 234h2m7 0h4m2 0h2m1 0h1m1 0h5m1 0h17m1 0h6m1 0h4m1 0h2m1 0h52m1 0h8m1 0h7m1 0h1m1 0h1m1 0h4m1 0h15m1 0h2m2 0h2m3 0h1M5 235h1m18 0h1m8 0h1m3 0h8m1 0h20m1 0h12m1 0h22m1 0h6m1 0h3m1 0h6m1 0h13m1 0h4m1 0h4m1 0h5m1 0h9m1 0h2m1 0h6m1 0h2m1 0h1m3 0h1M13 236h1m11 0h1m1 0h1m3 0h5m1 0h2m1 0h1m1 0h4m2 0h28m1 0h9m1 0h29m2 0h11m1 0h6m1 0h12m1 0h12m1 0h9m1 0h1m3 0h3m1 0h1m2 0h1M15 237h1m2 0h1m4 0h4m2 0h2m1 0h13m1 0h18m1 0h14m2 0h49m1 0h2m2 0h8m1 0h2m1 0h5m1 0h1m2 0h3m1 0h10m2 0h1m2 0h2m1 0h1M8 238h1m9 0h1m6 0h1m1 0h1m1 0h1m2 0h4m1 0h11m1 0h2m2 0h16m1 0h1m1 0h5m1 0h17m1 0h20m1 0h17m1 0h5m2 0h3m2 0h2m1 0h3m1 0h4m1 0h6m2 0h2m1 0h1m1 0h1m1 0h1m1 0h2m1 0h1M8 239h1m5 0h3m2 0h1m3 0h5m2 0h32m1 0h40m1 0h9m1 0h17m1 0h2m1 0h26m1 0h2m2 0h6m2 0h1M0 240h1m12 0h1m4 0h1m1 0h1m3 0h1m1 0h27m1 0h15m1 0h2m1 0h4m1 0h9m1 0h7m1 0h41m1 0h1m1 0h2m1 0h10m1 0h1m1 0h5m1 0h1m2 0h2m1 0h1m1 0h1m1 0h2m3 0h1m15 0h1M17 241h1m3 0h1m3 0h1m2 0h7m1 0h2m1 0h19m1 0h11m1 0h21m1 0h10m1 0h17m1 0h12m1 0h3m3 0h6m1 0h16m1 0h1m1 0h3m1 0h1m1 0h2m1 0h1M1 242h1m12 0h1m3 0h1m2 0h1m2 0h2m2 0h5m1 0h21m1 0h4m1 0h1m1 0h1m1 0h17m2 0h17m1 0h11m1 0h26m1 0h4m1 0h8m2 0h3m1 0h5m1 0h1m1 0h1m15 0h1M3 243h1m5 0h1m7 0h1m1 0h1m3 0h1m2 0h2m1 0h1m1 0h19m1 0h13m1 0h1m1 0h32m1 0h48m1 0h4m1 0h13m1 0h1m15 0h1M14 244h2m1 0h1m3 0h1m2 0h25m1 0h8m1 0h4m1 0h1m1 0h26m1 0h40m1 0h4m2 0h15m1 0h1m1 0h3m1 0h2m2 0h1M1 245h2m2 0h1m4 0h4m5 0h15m1 0h33m1 0h85m1 0h1m2 0h1m1 0h5m1 0h5m1 0h1m1 0h1M5 246h1m2 0h1m1 0h2m1 0h3m3 0h7m2 0h89m1 0h11m1 0h1m2 0h2m1 0h25m4 0h1m4 0h1m9 0h1M4 247h1m1 0h1m1 0h1m5 0h1m5 0h1m1 0h2m1 0h27m1 0h88m1 0h10m1 0h3m1 0h1m1 0h4m3 0h1M4 248h1m8 0h1m1 0h1m3 0h10m1 0h23m2 0h4m1 0h3m1 0h5m2 0h53m1 0h1m1 0h2m2 0h4m1 0h11m2 0h5m1 0h1m1 0h2m1 0h2m12 0h1m6 0h1M6 249h1m3 0h1m2 0h1m1 0h1m1 0h13m2 0h20m1 0h87m1 0h1m1 0h16M3 250h1m7 0h1m2 0h8m1 0h6m1 0h9m1 0h87m1 0h13m1 0h5m1 0h3m1 0h1m1 0h7M14 251h113m1 0h11m1 0h1m2 0h7m2 0h3m1 0h1m1 0h1m1 0h1m2 0h1M7 252h1m2 0h1m1 0h2m3 0h31m1 0h77m1 0h14m1 0h2m1 0h2m1 0h2m1 0h5m1 0h1m1 0h4m21 0h1M10 253h1m4 0h2m1 0h1m1 0h2m1 0h2m1 0h98m1 0h19m2 0h6m1 0h1m1 0h1m4 0h1m9 0h1M6 254h2m2 0h2m1 0h2m2 0h2m1 0h32m1 0h62m1 0h6m1 0h9m1 0h8m1 0h6m1 0h1m3 0h3m1 0h1m13 0h1M5 255h2m1 0h1m1 0h4m2 0h1m1 0h1m1 0h2m1 0h25m1 0h78m1 0h12m1 0h4m1 0h1m1 0h2m2 0h4M3 256h1m2 0h1m1 0h2m4 0h110m2 0h7m1 0h3m1 0h1m1 0h5m2 0h1m1 0h1m2 0h1M8 257h1m1 0h1m4 0h32m1 0h90m1 0h6m2 0h1m2 0h2m2 0h1M5 258h1m2 0h1m2 0h1m1 0h115m2 0h4m1 0h8m1 0h1m1 0h1m3 0h1m5 0h1M8 259h2m1 0h3m1 0h26m1 0h4m1 0h79m1 0h7m1 0h3m1 0h3m1 0h2m1 0h4M5 260h1m1 0h1m2 0h3m2 0h106m1 0h15m1 0h3m4 0h4m2 0h1M2 261h2m2 0h1m1 0h3m1 0h4m1 0h23m1 0h77m1 0h11m1 0h9m1 0h2m2 0h1m8 0h2M1 262h2m1 0h2m1 0h1m1 0h2m2 0h30m1 0h76m1 0h12m1 0h1m1 0h3m2 0h1m3 0h2M1 263h1m3 0h1m3 0h111m1 0h13m1 0h2m1 0h2M6 264h1m3 0h29m1 0h86m1 0h3m1 0h2m4 0h3m24 0h1M0 265h1m2 0h1m3 0h2m2 0h1m2 0h32m1 0h71m1 0h1m1 0h7m2 0h4m7 0h1m2 0h1M1 266h4m3 0h1m1 0h113m1 0h5m2 0h3m1 0h1m1 0h2m5 0h1M4 267h2m1 0h1m1 0h1m2 0h27m1 0h78m2 0h3m1 0h1m1 0h3m4 0h1m1 0h1M1 268h1m2 0h1m1 0h2m1 0h27m1 0h94m1 0h3m1 0h1m9 0h1M3 269h1m1 0h8m1 0h105m1 0h2m1 0h6m4 0h1m7 0h1M0 270h1m4 0h110m1 0h7m1 0h3m2 0h1m2 0h3m2 0h1m3 0h1M6 271h31m1 0h69m1 0h9m1 0h2m1 0h4m1 0h2m2 0h1m1 0h1M6 272h33m1 0h69m1 0h6m1 0h3m1 0h5m1 0h2M1 273h1m4 0h96m1 0h14m1 0h3m2 0h1m4 0h1M2 274h2m1 0h1m2 0h101m1 0h1m1 0h4m1 0h3m1 0h3m8 0h1M3 275h99m1 0h7m1 0h2m1 0h1m2 0h1m2 0h4m1 0h1m2 0h1M4 276h26m1 0h1m1 0h84m1 0h3m1 0h3m2 0h1M0 277h9m1 0h16m1 0h76m1 0h3m1 0h4m1 0h6m3 0h1m1 0h1M1 278h33m1 0h64m1 0h9m1 0h1m2 0h3m4 0h1m5 0h2m15 0h1M0 279h1m3 0h1m1 0h35m1 0h58m1 0h3m1 0h2m1 0h1m1 0h5m2 0h1M2 280h1m2 0h22m1 0h2m2 0h68m1 0h10m2 0h1m5 0h1m2 0h1M1 281h26m2 0h4m1 0h55m1 0h7m1 0h10m3 0h1m4 0h1M1 282h22m1 0h7m1 0h6m1 0h12m1 0h44m1 0h4m1 0h4m1 0h1m2 0h1m3 0h1m4 0h1M1 283h1m1 0h20m1 0h13m1 0h2m1 0h46m1 0h8m1 0h3m5 0h1m1 0h1m1 0h3m10 0h1M2 284h19m1 0h4m1 0h11m1 0h1m1 0h10m1 0h48m1 0h5m1 0h2m7 0h1M0 285h26m1 0h21m1 0h38m1 0h9m2 0h1m1 0h4m2 0h1M0 286h2m1 0h25m1 0h2m1 0h14m1 0h8m1 0h18m1 0h8m1 0h6m2 0h1m1 0h1m1 0h3m1 0h1m18 0h1M1 287h24m2 0h10m1 0h10m1 0h31m1 0h7m1 0h4m1 0h2m3 0h3m1 0h2m15 0h1M0 288h20m1 0h13m1 0h3m1 0h24m1 0h12m1 0h5m1 0h4m1 0h7m1 0h1m5 0h2M1 289h19m1 0h1m1 0h1m2 0h12m1 0h28m1 0h10m1 0h1m2 0h5m1 0h3m1 0h1m9 0h1M0 290h28m1 0h7m1 0h5m1 0h1m1 0h9m1 0h8m1 0h18m1 0h1m1 0h3m3 0h2m2 0h1M1 291h14m1 0h2m3 0h4m2 0h2m1 0h13m1 0h1m1 0h12m1 0h4m1 0h3m1 0h6m1 0h1m2 0h3m1 0h3m2 0h1m1 0h1m2 0h1M1 292h9m1 0h4m1 0h4m4 0h1m2 0h8m1 0h2m1 0h4m1 0h2m2 0h1m1 0h8m1 0h14m1 0h4m1 0h3m1 0h1m2 0h1" stroke="#3247a4"/><path d="M115 203h1m5 0h1m1 0h2m3 0h4m4 0h1m2 0h1M110 204h1m3 0h3m2 0h2m1 0h4m1 0h4m1 0h5m2 0h7m1 0h2M107 205h22m1 0h3m1 0h1m2 0h3m2 0h2m1 0h4M104 206h10m1 0h2m1 0h1m1 0h20m1 0h2m2 0h5m1 0h2M99 207h1m1 0h9m1 0h4m1 0h1m1 0h8m1 0h8m1 0h3m1 0h9m1 0h5m3 0h1M98 208h3m2 0h5m1 0h1m1 0h5m1 0h1m1 0h8m1 0h12m1 0h3m2 0h1m1 0h1m1 0h9M94 209h3m1 0h6m1 0h3m1 0h1m1 0h1m1 0h15m1 0h2m1 0h4m1 0h19m2 0h3M89 210h19m1 0h7m1 0h12m1 0h1m1 0h3m1 0h3m2 0h1m1 0h2m1 0h9m1 0h3m1 0h1M84 211h2m1 0h2m1 0h5m1 0h10m1 0h4m1 0h19m1 0h6m1 0h2m1 0h7m1 0h1m1 0h3m1 0h7M83 212h3m1 0h13m1 0h19m1 0h12m1 0h4m1 0h5m1 0h1m1 0h5m1 0h8m1 0h1m1 0h1M78 213h1m1 0h5m1 0h1m2 0h2m1 0h3m1 0h3m1 0h24m1 0h1m1 0h4m1 0h3m1 0h2m1 0h5m2 0h1m1 0h8m1 0h3m2 0h1m1 0h2M77 214h1m1 0h3m1 0h8m1 0h2m1 0h24m1 0h5m2 0h13m1 0h2m1 0h5m1 0h13m1 0h1m1 0h1M75 215h8m1 0h1m1 0h3m1 0h27m1 0h1m1 0h35m1 0h1m1 0h7M73 216h2m1 0h1m1 0h7m1 0h3m1 0h9m1 0h6m1 0h7m1 0h5m1 0h3m1 0h7m1 0h4m1 0h2m2 0h2m1 0h2m1 0h2m1 0h7m1 0h5m1 0h1M69 217h1m1 0h20m2 0h28m1 0h8m1 0h21m1 0h5m1 0h5m1 0h2M71 218h1m1 0h7m1 0h22m1 0h2m1 0h1m1 0h3m1 0h11m1 0h3m2 0h2m1 0h10m1 0h6m1 0h3m2 0h12M66 219h2m1 0h2m1 0h4m1 0h5m1 0h2m1 0h4m1 0h11m1 0h19m1 0h5m1 0h5m1 0h3m1 0h6m1 0h3m1 0h1m1 0h3m1 0h1m1 0h5m3 0h4M63 220h1m1 0h1m1 0h3m1 0h1m1 0h4m1 0h1m1 0h3m1 0h5m1 0h20m1 0h5m1 0h6m1 0h7m1 0h9m1 0h3m1 0h8m1 0h3m1 0h11M61 221h2m1 0h7m1 0h2m1 0h16m1 0h1m1 0h8m1 0h14m1 0h6m1 0h13m1 0h7m1 0h8m1 0h4m1 0h8M61 222h2m1 0h11m1 0h1m1 0h1m1 0h12m1 0h8m1 0h10m1 0h7m1 0h10m1 0h6m1 0h8m1 0h3m1 0h11m1 0h6M59 223h34m1 0h6m1 0h6m1 0h21m1 0h4m1 0h8m1 0h2m2 0h11m1 0h5m1 0h3M54 224h2m1 0h5m1 0h5m1 0h13m1 0h3m1 0h4m2 0h6m1 0h16m1 0h11m1 0h15m1 0h5m1 0h2m1 0h1m1 0h2m1 0h4m1 0h3m1 0h2M52 225h1m1 0h4m1 0h1m1 0h6m1 0h14m1 0h17m1 0h4m1 0h27m1 0h1m2 0h11m1 0h17m1 0h3M50 226h5m1 0h10m1 0h30m1 0h10m1 0h4m1 0h4m1 0h6m1 0h18m1 0h9m1 0h11m1 0h1M48 227h1m1 0h1m3 0h1m2 0h4m1 0h7m1 0h6m1 0h12m1 0h9m1 0h3m2 0h9m1 0h4m1 0h36m1 0h2m1 0h11M46 228h1m1 0h3m1 0h2m1 0h15m1 0h4m1 0h2m1 0h3m1 0h6m1 0h1m1 0h12m1 0h6m1 0h17m1 0h2m1 0h7m1 0h14m1 0h10m1 0h3M45 229h24m1 0h41m1 0h16m1 0h6m1 0h23m1 0h5m1 0h4M43 230h16m1 0h4m1 0h3m1 0h5m1 0h2m1 0h8m1 0h13m3 0h1m1 0h2m1 0h5m3 0h19m1 0h12m1 0h19M42 231h15m1 0h2m1 0h7m1 0h8m1 0h22m1 0h6m1 0h8m1 0h3m1 0h7m1 0h6m2 0h5m1 0h23m1 0h2M42 232h18m1 0h2m1 0h15m2 0h22m1 0h24m1 0h16m2 0h22M40 233h1m1 0h8m1 0h6m1 0h3m1 0h3m1 0h10m1 0h2m1 0h13m1 0h20m1 0h13m1 0h9m2 0h5m1 0h22M38 234h5m1 0h17m1 0h6m1 0h4m1 0h2m1 0h52m1 0h8m1 0h7m1 0h1m1 0h1m1 0h4m1 0h8m2 0h3M37 235h8m1 0h20m1 0h12m1 0h22m1 0h6m1 0h3m1 0h6m1 0h13m1 0h4m1 0h4m1 0h5m1 0h9m1 0h2m4 0h1M37 236h2m1 0h1m1 0h4m2 0h28m1 0h9m1 0h29m2 0h11m1 0h6m1 0h12m1 0h7m1 0h4m1 0h4M35 237h10m1 0h18m1 0h14m2 0h49m1 0h2m2 0h8m1 0h2m1 0h5m1 0h1m2 0h3m1 0h2m1 0h4M34 238h2m1 0h11m1 0h2m2 0h16m1 0h1m1 0h5m1 0h17m1 0h20m1 0h17m1 0h5m2 0h3m2 0h2m1 0h3m1 0h4m1 0h6M33 239h29m1 0h40m1 0h9m1 0h17m1 0h2m1 0h26m1 0h1M32 240h21m1 0h15m1 0h2m1 0h4m1 0h9m1 0h7m1 0h41m1 0h1m1 0h2m1 0h10m1 0h1m1 0h4m2 0h1M31 241h4m1 0h2m1 0h19m1 0h11m1 0h21m1 0h10m1 0h17m1 0h12m1 0h3m3 0h6m1 0h14M30 242h3m1 0h21m1 0h4m1 0h1m1 0h1m1 0h17m2 0h17m1 0h11m1 0h26m1 0h4m1 0h8m2 0h3m3 0h1M29 243h1m1 0h19m1 0h13m1 0h1m1 0h32m1 0h48m1 0h4m1 0h2m2 0h3M28 244h21m1 0h8m1 0h4m1 0h1m1 0h26m1 0h40m1 0h4m2 0h15m1 0h1m1 0h3M27 245h7m1 0h33m1 0h85m1 0h1M28 246h89m1 0h11m1 0h1m2 0h2m1 0h19M26 247h26m1 0h88m1 0h9m2 0h1M24 248h5m1 0h23m2 0h4m1 0h3m1 0h5m2 0h53m1 0h1m1 0h2m2 0h4m1 0h11m2 0h2m1 0h1M23 249h7m2 0h20m1 0h87m1 0h1m1 0h7m1 0h2M23 250h6m1 0h9m1 0h87m1 0h13m1 0h5m1 0h2m2 0h1M22 251h105m1 0h11m1 0h1m2 0h6M21 252h27m1 0h77m1 0h14m1 0h2m1 0h2M21 253h1m1 0h2m1 0h98m1 0h19m2 0h1M20 254h32m1 0h62m1 0h6m1 0h9m1 0h8m1 0h2M18 255h1m1 0h2m1 0h25m1 0h78m1 0h12m1 0h1m1 0h1M17 256h107m2 0h7m1 0h3m1 0h1m1 0h1m1 0h1M17 257h30m1 0h90m1 0h2M17 258h111m2 0h4m1 0h4M15 259h26m1 0h4m1 0h79m1 0h7m1 0h3M15 260h106m1 0h13M15 261h1m1 0h23m1 0h77m1 0h11m1 0h3M13 262h30m1 0h76m1 0h10m1 0h1M12 263h108m1 0h9M11 264h28m1 0h86m1 0h3M11 265h1m2 0h32m1 0h71m1 0h1m1 0h7M10 266h113m1 0h2M12 267h27m1 0h78m2 0h3m1 0h1M9 268h27m1 0h86M8 269h5m1 0h105m1 0h2M7 270h108m1 0h4m1 0h1M7 271h30m1 0h69m1 0h9M6 272h33m1 0h69m1 0h6m1 0h1M6 273h96m1 0h14M5 274h1m2 0h101m1 0h1m1 0h3M4 275h98m1 0h7m2 0h1M4 276h26m1 0h1m1 0h78M3 277h6m1 0h16m1 0h76m1 0h3M3 278h31m1 0h64m1 0h8M4 279h1m1 0h35m1 0h58m1 0h3m1 0h1M2 280h1m2 0h22m1 0h2m2 0h68m1 0h2m1 0h1M2 281h25m2 0h4m1 0h55m1 0h7m1 0h3M2 282h21m1 0h7m1 0h6m1 0h12m1 0h44m1 0h3M3 283h20m1 0h13m1 0h2m1 0h46m1 0h8M2 284h19m1 0h4m1 0h11m1 0h1m1 0h10m1 0h44M2 285h24m1 0h21m1 0h38m1 0h5M1 286h1m1 0h25m1 0h2m1 0h14m1 0h8m1 0h18m1 0h8m1 0h6m2 0h1M1 287h24m2 0h10m1 0h10m1 0h31m1 0h7m1 0h1M1 288h19m1 0h13m1 0h3m1 0h24m1 0h12m1 0h5m1 0h4M1 289h19m6 0h12m1 0h28m1 0h10m1 0h1m2 0h1m1 0h1M1 290h18m5 0h1m2 0h1m1 0h7m1 0h5m1 0h1m1 0h9m1 0h8m1 0h16M1 291h14m1 0h2m10 0h1m1 0h13m1 0h1m1 0h12m1 0h4m1 0h3m1 0h6m1 0h1m2 0h2M2 292h8m1 0h3" stroke="#2450b2"/><path d="M93 220h1M118 221h1m9 0h1M116 222h1m2 0h1M103 223h1m17 0h1M95 225h1m27 0h1M95 226h1m10 0h1m26 0h1M92 227h1m15 0h1m2 0h1m1 0h1m12 0h1m10 0h1M94 228h1m23 0h1M91 229h1m17 0h1m3 0h1m12 0h1M90 230h2m5 0h1m5 0h1m7 0h1m5 0h1m2 0h1m3 0h1m3 0h1m2 0h1m11 0h1M94 231h1m6 0h1m3 0h1m3 0h1m3 0h1m10 0h2M78 232h1m6 0h1m1 0h1m2 0h1m8 0h2m3 0h1m4 0h3m1 0h1m4 0h2m6 0h1m6 0h1m1 0h1M49 233h1m36 0h2m1 0h1m5 0h5m2 0h1m1 0h1m3 0h1m2 0h3m1 0h1m2 0h3m3 0h1m2 0h1m2 0h1m2 0h1m6 0h1M48 234h1m1 0h2m22 0h1m7 0h1m4 0h1m3 0h2m2 0h1m1 0h1m1 0h1m1 0h2m3 0h2m4 0h1m3 0h3m2 0h1m2 0h1m8 0h2m2 0h1M49 235h3m2 0h1m17 0h1m1 0h1m5 0h2m4 0h1m3 0h3m3 0h5m2 0h2m1 0h2m4 0h1m1 0h2m3 0h1m3 0h1m5 0h2m1 0h1m2 0h1M48 236h1m1 0h2m1 0h1m19 0h1m4 0h2m2 0h3m3 0h2m1 0h1m1 0h4m1 0h4m1 0h2m1 0h3m2 0h2m6 0h4m1 0h1m1 0h1m1 0h1m3 0h1M43 237h1m3 0h1m1 0h2m3 0h1m14 0h2m1 0h1m2 0h1m1 0h2m2 0h2m1 0h1m1 0h1m4 0h9m1 0h4m1 0h1m1 0h12m1 0h2m2 0h1m12 0h1M43 238h5m1 0h2m3 0h1m18 0h3m2 0h5m1 0h2m2 0h7m1 0h16m1 0h3m1 0h1m1 0h4m1 0h1m3 0h3M40 239h14m13 0h1m2 0h1m2 0h2m1 0h11m1 0h2m1 0h3m1 0h8m1 0h5m1 0h3m1 0h9m2 0h2m1 0h1m1 0h1M38 240h15m12 0h1m2 0h1m4 0h4m1 0h6m1 0h2m1 0h7m1 0h29m1 0h1m1 0h1M39 241h13m1 0h1m10 0h1m1 0h1m5 0h5m1 0h14m1 0h10m1 0h17m1 0h1m2 0h1m3 0h1M35 242h1m1 0h17m15 0h1m1 0h1m1 0h1m1 0h5m1 0h1m2 0h17m1 0h11m1 0h8m1 0h4m3 0h1m2 0h1m8 0h1M34 243h16m1 0h1m13 0h1m2 0h4m1 0h26m1 0h25m3 0h4m1 0h1M32 244h1m1 0h1m1 0h13m1 0h2m1 0h1m8 0h1m4 0h1m2 0h22m1 0h31m1 0h1m4 0h1M33 245h1m1 0h16m5 0h3m2 0h1m2 0h1m1 0h1m2 0h52m2 0h3m5 0h1M32 246h18m8 0h1m3 0h1m2 0h52m1 0h6m1 0h3m5 0h1M31 247h19m3 0h1m1 0h1m1 0h2m2 0h3m1 0h59m2 0h1m4 0h2M31 248h19m5 0h1m1 0h2m2 0h2m1 0h5m2 0h53m3 0h2M29 249h1m2 0h18m5 0h3m1 0h64m1 0h1m1 0h4M27 250h2m1 0h9m1 0h10m1 0h1m1 0h1m2 0h71m1 0h1m5 0h1M26 251h21m1 0h1m4 0h74m2 0h1m2 0h1M26 252h22m5 0h2m1 0h70m1 0h2M24 253h1m1 0h21m5 0h72m1 0h2m1 0h1M24 254h23m2 0h3m1 0h62m1 0h6m1 0h1m1 0h2M24 255h22m4 0h76M20 256h2m1 0h23m1 0h2m1 0h74m2 0h1M21 257h25m2 0h75m1 0h1m1 0h1M21 258h24m1 0h77m1 0h1M18 259h1m1 0h21m1 0h4m1 0h79M19 260h25m1 0h76m2 0h1M17 261h1m1 0h21m1 0h77m1 0h3M16 262h1m1 0h25m1 0h76m1 0h1M16 263h25m1 0h78M15 264h24m2 0h78m2 0h1M14 265h32m1 0h71M13 266h106M13 267h26m1 0h77M12 268h24m1 0h78m1 0h1M11 269h2m1 0h99M11 270h102M10 271h25m1 0h1m1 0h69m1 0h5M10 272h24m2 0h3m1 0h69M9 273h24m1 0h1m1 0h1m1 0h64m1 0h6M8 274h24m2 0h1m2 0h69M7 275h24m4 0h67m1 0h2M8 276h22m5 0h68m2 0h1M6 277h3m1 0h16m1 0h3m6 0h67M6 278h23m8 0h62m1 0h2M6 279h23m7 0h5m1 0h54m1 0h2M5 280h22m11 0h59M5 281h22m9 0h2m1 0h50m1 0h3m1 0h1M4 282h19m1 0h1m15 0h11m1 0h40M3 283h20m16 0h1m1 0h46M3 284h18m1 0h1m18 0h10m1 0h34M3 285h18m19 0h1m1 0h6m1 0h33M3 286h18m22 0h1m3 0h8m1 0h18m1 0h3m1 0h1M2 287h17m28 0h1m3 0h23m1 0h1M2 288h16m24 0h1m6 0h1m1 0h3m3 0h1m1 0h4m2 0h2m1 0h1m2 0h1M2 289h15m39 0h1m11 0h1m4 0h1M2 290h14M2 291h12M3 292h7" stroke="#1d66c8"/><path d="M45 242h1M93 244h2m1 0h2m1 0h3M81 245h1m1 0h1m3 0h1m1 0h19m1 0h2M81 246h29m1 0h2M40 247h1m34 0h39M38 248h1m2 0h1m31 0h1m1 0h40M39 249h1m33 0h44M37 250h2m1 0h2m25 0h51M34 251h7m1 0h1m21 0h54M31 252h1m1 0h10m20 0h55M31 253h12m17 0h1m1 0h57M29 254h12m19 0h1m1 0h53m1 0h3M28 255h1m1 0h12m15 0h63M28 256h12m16 0h63M26 257h15m12 0h1m1 0h64M26 258h14m12 0h1m1 0h64M25 259h15m11 0h68M24 260h16m12 0h66M22 261h17m11 0h67M22 262h16m10 0h69M19 263h19m9 0h68M21 264h16m8 0h70M19 265h17m11 0h67M19 266h17m8 0h69M17 267h18m9 0h68M16 268h18m9 0h68M15 269h19m8 0h69M14 270h19m10 0h66M13 271h1m1 0h18m9 0h65M13 272h19m9 0h64m1 0h1M12 273h18m10 0h62m1 0h1M12 274h18m11 0h60M11 275h18m12 0h61M11 276h17m13 0h58M10 277h16m14 0h57M9 278h17m15 0h54M8 279h17m17 0h51M7 280h17m19 0h46m1 0h1M7 281h16m21 0h44M6 282h16m22 0h1m1 0h5m1 0h33M6 283h15m28 0h32M5 284h15m27 0h1m2 0h1m1 0h25M5 285h13m36 0h1m2 0h9m5 0h1M4 286h14m42 0h1m2 0h1M4 287h13M3 288h12M3 289h11M3 290h10M3 291h8M4 292h4" stroke="#2190da"/><path d="M91 247h6m1 0h1m1 0h1m1 0h1M84 248h7m1 0h3m1 0h8m2 0h1M81 249h29M77 250h32m2 0h2M74 251h2m1 0h34m1 0h1M70 252h1m1 0h41M66 253h1m1 0h46M63 254h1m3 0h48M64 255h50M33 256h3m27 0h52M31 257h6m23 0h54M30 258h7m22 0h55M29 259h7m20 0h57M28 260h9m19 0h59M26 261h10m18 0h59M24 262h11m18 0h1m1 0h58M23 263h12m17 0h60M23 264h12m15 0h61M21 265h13m15 0h61M20 266h13m15 0h61M20 267h12m15 0h1m1 0h60M18 268h14m15 0h60M17 269h14m16 0h59M16 270h15m15 0h58M16 271h14m16 0h57M15 272h14m16 0h57M14 273h14m17 0h54M13 274h15m17 0h52M12 275h15m18 0h51M12 276h14m19 0h49M11 277h14m21 0h45m1 0h1M10 278h14m21 0h43M10 279h13m23 0h39M9 280h14m24 0h1m1 0h32M8 281h14m27 0h1m1 0h27M8 282h13m34 0h17m1 0h1M7 283h12m41 0h2m1 0h2M7 284h11M6 285h11M5 286h11M5 287h10M4 288h10M4 289h8M4 290h7M4 291h6M5 292h1" stroke="#2cbfcf"/><path d="M93 250h1M87 251h1m2 0h2m1 0h1m3 0h2M83 252h1m1 0h8m1 0h3m1 0h3m4 0h2M79 253h1m1 0h5m1 0h18M76 254h30M74 255h32m2 0h1M72 256h37M68 257h40M65 258h44M61 259h1m2 0h46M61 260h48M61 261h48M30 262h1m26 0h51M26 263h2m1 0h3m25 0h51M26 264h5m24 0h52M25 265h6m23 0h52M23 266h7m23 0h52M22 267h7m23 0h51M21 268h9m21 0h51M19 269h10m20 0h1m1 0h50M18 270h11m19 0h1m1 0h50M17 271h11m22 0h49M17 272h10m22 0h48M16 273h11m21 0h46m1 0h1M15 274h11m22 0h44M14 275h11m24 0h1m1 0h39M13 276h11m25 0h39M12 277h11m26 0h1m1 0h34M11 278h11m28 0h33M11 279h11m30 0h2m1 0h25M10 280h11m33 0h1m1 0h16M9 281h11m42 0h1m1 0h1m1 0h1m1 0h1M8 282h11M8 283h10M7 284h10M7 285h9M6 286h10M6 287h8M5 288h8M5 289h6M5 290h5M5 291h4" stroke="#3fc27e"/><path d="M85 255h1m1 0h1m1 0h4m1 0h1M78 256h1m1 0h1m1 0h6m1 0h4m1 0h5m2 0h1M76 257h22m1 0h2M73 258h26m1 0h1m1 0h1M69 259h32m2 0h1M67 260h36M65 261h39M63 262h39M62 263h39m1 0h1M59 264h43M58 265h44m1 0h1M57 266h44M55 267h46M23 268h1m31 0h43M23 269h3m27 0h45M22 270h4m27 0h43M19 271h6m28 0h1m1 0h40M18 272h5m1 0h1m29 0h38m1 0h1M17 273h7m27 0h41M16 274h9m28 0h36M15 275h9m29 0h34M14 276h8m31 0h30M13 277h9m33 0h26M12 278h10m35 0h2m1 0h15M12 279h8m40 0h1m2 0h1m1 0h3m1 0h1M10 280h10M10 281h9M9 282h9M9 283h8M8 284h8M7 285h8M7 286h7M6 287h7M6 288h6M5 289h6M5 290h5M5 291h3" stroke="#5fc63a"/><path d="M90 257h1M90 258h1M78 259h2m2 0h1m1 0h7m1 0h1M74 260h6m1 0h9m1 0h3M72 261h23m1 0h2M68 262h1m2 0h25m1 0h1M67 263h1m1 0h26m1 0h1M64 264h32M62 265h34M61 266h36M61 267h34m1 0h1M59 268h36M57 269h37M57 270h37M57 271h35M56 272h35M58 273h30m1 0h1M18 274h1m38 0h28m1 0h1M17 275h1m41 0h25M18 276h2m40 0h20M15 277h4m42 0h1m2 0h9M14 278h5M12 279h7M12 280h5M12 281h5M10 282h7M9 283h7M9 284h6M8 285h6M7 286h7M6 287h7M6 288h5M5 289h5M5 290h4M5 291h3" stroke="#b4dc2a"/><path d="M79 262h2m1 0h2m6 0h1M75 263h14M71 264h19m1 0h1M67 265h24M65 266h27M63 267h29M62 268h30M61 269h32M61 270h30M61 271h28M61 272h26M60 273h25M62 274h19m1 0h1M63 275h15m2 0h1M67 276h5m4 0h1M11 282h1M10 283h2m1 0h1M9 284h5M8 285h5M7 286h6M7 287h5M6 288h5M5 289h5M5 290h4M6 291h1" stroke="#f3e41d"/><path d="M83 263h1M72 264h14m1 0h1M70 265h19M67 266h23M66 267h24M64 268h26M63 269h27M62 270h26M62 271h25M62 272h23M63 273h21M63 274h17M66 275h1m1 0h1m1 0h5M10 284h2M9 285h4M8 286h4M7 287h5M6 288h5M6 289h4M6 290h2" stroke="#f8a71b"/><path d="M80 264h2m3 0h1M73 265h14M71 266h17M67 267h21m1 0h1M65 268h22M65 269h23M64 270h22M64 271h21M63 272h20M63 273h1m1 0h15M65 274h1m1 0h9m2 0h1M9 285h2M8 286h3M7 287h4M6 288h4M6 289h4M7 290h1" stroke="#ef521e"/><path d="M79 265h1M73 266h1m1 0h8m1 0h1M69 267h1m1 0h1m1 0h13M66 268h3m1 0h6m1 0h8M66 269h1m1 0h4m1 0h13M66 270h10m1 0h8M66 271h4m1 0h11M65 272h11m1 0h3M66 273h8m2 0h2M69 274h2M9 286h1M9 287h1M7 288h2" stroke="#df1f1b"/></g>
<rect x="1159.5" y="3145" width="443.5" height="442" fill="#fff" stroke="#8c8c8c" stroke-width="1.15"/>
<g transform="translate(1160.5 3146.75) scale(1.5)" fill="none" stroke-width="1" shape-rendering="crispEdges"><path d="M293 2h1M293 11h1M293 12h1M293 13h1M293 14h1M293 17h1M293 19h1M293 20h1M293 24h1M293 31h1M293 34h1M293 36h1M293 38h1M293 48h1M293 49h1M293 50h1M293 51h1M293 53h1M293 54h1M293 55h1M285 56h1M290 58h1M293 60h1M283 61h1m5 0h1M286 63h1m5 0h1M277 64h1M289 66h1M288 67h1m4 0h1M276 68h1m6 0h1M273 69h1m1 0h1m15 0h1M283 70h1m2 0h1m6 0h1M284 71h1m1 0h1m2 0h1M279 72h1m5 0h1m3 0h2m1 0h2M273 73h1m4 0h1M269 74h1m2 0h1m3 0h1m2 0h1m5 0h2m1 0h2m3 0h1M269 75h1m3 0h1m6 0h1m3 0h1m2 0h1m1 0h1M285 76h1m1 0h1m5 0h1M263 77h1m5 0h1m4 0h1m1 0h1m5 0h1m10 0h1M256 78h1m5 0h1m11 0h1m10 0h2m2 0h1M267 79h1m18 0h1m6 0h1M271 80h1m1 0h1m1 0h1m9 0h2M253 81h1m20 0h1m1 0h1m9 0h1M257 82h1m8 0h1m7 0h1m8 0h1M267 83h1m5 0h1m3 0h1m1 0h1m12 0h2M256 84h1m1 0h1m6 0h1m5 0h1m4 0h1m6 0h1m1 0h1m2 0h1m1 0h1M254 85h1m1 0h1m20 0h1m1 0h1m7 0h1m5 0h1M254 86h1m4 0h1m5 0h1m8 0h2m16 0h1M261 87h1m1 0h1m16 0h1m6 0h1m5 0h1M263 88h1m2 0h1m26 0h1M215 89h1m36 0h1m5 0h1m4 0h1m2 0h2m3 0h2M242 90h1m6 0h1m43 0h1M244 91h1m1 0h1m25 0h2m15 0h1m3 0h1M239 92h1m5 0h2m7 0h1m2 0h1m6 0h1m5 0h1m2 0h1m19 0h1M235 93h1m22 0h1m5 0h1m13 0h2m3 0h2m2 0h1m5 0h1M232 94h1m26 0h1m7 0h1m4 0h1M242 95h1m5 0h1m8 0h1m3 0h1m1 0h1m3 0h2m3 0h2m3 0h1m2 0h1m4 0h1m7 0h1M195 96h1m42 0h1m4 0h1m10 0h1m1 0h1m4 0h1m2 0h1m14 0h1M238 97h1m8 0h1m7 0h1m2 0h1m7 0h1m1 0h1m1 0h1m2 0h1m5 0h1m5 0h1m7 0h1M245 98h1m9 0h1m9 0h1m6 0h2m1 0h3m5 0h2m1 0h1M233 99h1m2 0h2m2 0h1m1 0h1m8 0h1m5 0h1m10 0h1m10 0h1m2 0h1m4 0h1m2 0h1m2 0h1M234 100h1m10 0h1m8 0h3m8 0h1m10 0h1m12 0h1m2 0h2M231 101h1m10 0h1m11 0h1m2 0h3m10 0h1m6 0h1m11 0h1M230 102h2m5 0h1m3 0h1m1 0h1m3 0h1m5 0h2m6 0h3m5 0h1m11 0h1m1 0h1M231 103h1m2 0h3m1 0h1m12 0h1m8 0h1m22 0h1m5 0h1m3 0h1M205 104h1m15 0h1m14 0h1m7 0h1m5 0h1m1 0h1m8 0h3m2 0h1m6 0h1m2 0h1m1 0h1M228 105h1m12 0h1m3 0h1m4 0h2m1 0h1m5 0h1m17 0h1m5 0h1m9 0h1M219 106h1m10 0h1m2 0h1m5 0h3m11 0h1m4 0h1m8 0h1m3 0h1m6 0h1m6 0h1m2 0h1m4 0h1M221 107h3m2 0h1m1 0h1m4 0h2m3 0h1m20 0h1m10 0h1m6 0h3m5 0h1m5 0h1m1 0h1M215 108h1m9 0h1m6 0h1m2 0h1m2 0h1m2 0h1m20 0h1m17 0h2m7 0h1m3 0h1M218 109h1m12 0h1m8 0h1m5 0h1m1 0h1m4 0h2m6 0h1m31 0h1M220 110h1m7 0h2m5 0h1m17 0h1m2 0h1m10 0h1m13 0h1m1 0h1m9 0h1M180 111h1m17 0h1m32 0h1m10 0h2m8 0h1m16 0h1m12 0h1m8 0h1m1 0h1M211 112h1m1 0h1m6 0h1m3 0h1m3 0h1m4 0h2m7 0h1m5 0h1m4 0h1m4 0h1m9 0h1m2 0h2m4 0h1m3 0h1m1 0h1m9 0h1M209 113h1m20 0h1m13 0h1m15 0h1m6 0h1m8 0h1m1 0h1m8 0h1M183 114h1m31 0h1m17 0h2m1 0h1m2 0h1m3 0h1m3 0h1m6 0h1m1 0h1m4 0h1m5 0h1m1 0h1m13 0h1m9 0h1M182 115h1m6 0h1m33 0h1m3 0h1m6 0h1m2 0h1m7 0h1m2 0h1m2 0h1m8 0h1m2 0h1m6 0h1m3 0h1m4 0h1m1 0h1m11 0h1M189 116h1m24 0h2m7 0h1m1 0h1m4 0h1m6 0h2m1 0h1m3 0h1m10 0h1m5 0h1m2 0h1m9 0h1m9 0h1m7 0h1M181 117h4m3 0h1m1 0h1m8 0h1m2 0h1m4 0h3m8 0h1m2 0h1m15 0h1m6 0h1m6 0h1m4 0h2m7 0h1m9 0h2m6 0h1m1 0h1m7 0h1M178 118h1m5 0h1m3 0h2m2 0h1m15 0h2m1 0h1m6 0h1m3 0h1m1 0h1m1 0h1m1 0h1m1 0h1m3 0h3m12 0h1m2 0h1m5 0h1m4 0h1m7 0h1m4 0h3m10 0h1m3 0h1M173 119h1m2 0h1m7 0h1m4 0h1m2 0h1m8 0h1m2 0h2m2 0h1m4 0h1m11 0h1m8 0h1m7 0h1m6 0h1m2 0h1m19 0h1m2 0h1m2 0h1m5 0h1M176 120h1m2 0h1m2 0h1m5 0h3m3 0h1m1 0h1m15 0h3m3 0h1m2 0h1m4 0h1m1 0h1m23 0h1m10 0h1m7 0h1m5 0h2m2 0h1m7 0h1m3 0h1M175 121h1m5 0h1m1 0h1m5 0h1m1 0h5m4 0h1m4 0h1m2 0h1m12 0h1m1 0h1m1 0h1m4 0h1m2 0h1m1 0h1m1 0h3m2 0h1m13 0h1m7 0h1m7 0h1m11 0h2m7 0h1M178 122h1m3 0h2m1 0h1m1 0h1m1 0h2m2 0h4m2 0h1m2 0h1m3 0h2m7 0h1m3 0h1m7 0h1m7 0h1m2 0h1m2 0h1m1 0h1m6 0h3m9 0h1m19 0h1M173 123h1m5 0h1m1 0h2m3 0h1m3 0h2m1 0h4m6 0h1m4 0h1m1 0h1m1 0h1m5 0h2m4 0h1m5 0h1m22 0h1m2 0h2m1 0h1m12 0h1m14 0h1m5 0h1M180 124h3m2 0h1m1 0h1m4 0h3m1 0h2m1 0h1m1 0h1m5 0h2m1 0h1m4 0h2m1 0h1m1 0h1m3 0h1m1 0h4m6 0h1m1 0h2m20 0h1m1 0h1m3 0h1m6 0h1m9 0h1m9 0h1M170 125h1m4 0h1m1 0h2m3 0h4m1 0h1m8 0h1m1 0h2m1 0h1m2 0h2m4 0h1m1 0h1m6 0h1m2 0h1m8 0h1m8 0h1m7 0h1m1 0h1m10 0h1m9 0h1m1 0h1m8 0h1m7 0h1M166 126h1m8 0h1m1 0h1m2 0h1m2 0h2m2 0h1m2 0h2m3 0h4m1 0h3m1 0h1m4 0h1m2 0h3m11 0h1m7 0h1m1 0h1m2 0h1m2 0h2m6 0h1m1 0h1m2 0h1m6 0h1m15 0h1m9 0h1M171 127h2m2 0h1m1 0h1m1 0h1m2 0h1m1 0h1m1 0h4m2 0h1m9 0h1m3 0h2m1 0h2m7 0h2m3 0h1m2 0h1m1 0h1m8 0h1m2 0h1m1 0h1m14 0h3m3 0h1m1 0h1m27 0h1M151 128h1m17 0h3m2 0h4m1 0h2m2 0h1m2 0h5m6 0h2m5 0h2m18 0h1m4 0h2m14 0h1m1 0h1m2 0h1m8 0h1m4 0h1m5 0h1m10 0h2m5 0h1M167 129h1m2 0h1m4 0h2m1 0h4m2 0h6m2 0h2m2 0h1m2 0h1m2 0h1m2 0h1m4 0h1m12 0h1m2 0h1m1 0h1m2 0h1m8 0h2m7 0h1m1 0h1m3 0h1m4 0h2m20 0h2m2 0h1M169 130h4m1 0h5m2 0h4m2 0h1m2 0h1m1 0h1m1 0h2m3 0h1m4 0h1m3 0h2m5 0h1m1 0h1m8 0h3m3 0h2m15 0h1m3 0h3m1 0h1m2 0h1m13 0h1m6 0h1M153 131h1m10 0h1m5 0h1m1 0h2m1 0h3m1 0h5m2 0h1m9 0h2m4 0h2m1 0h2m3 0h1m2 0h1m4 0h1m16 0h1m1 0h1m5 0h1m3 0h1m2 0h1m5 0h2m2 0h1m5 0h1m6 0h1m7 0h1m4 0h1m5 0h1M165 132h1m4 0h13m1 0h1m3 0h1m1 0h1m3 0h3m1 0h2m1 0h1m2 0h1m2 0h3m1 0h1m1 0h1m4 0h1m19 0h1m11 0h1m6 0h1m2 0h2m2 0h1m3 0h1m5 0h1m6 0h2m10 0h1M160 133h1m4 0h1m2 0h2m1 0h17m4 0h4m2 0h1m1 0h2m2 0h1m5 0h1m3 0h1m3 0h1m1 0h1m2 0h3m7 0h1m2 0h1m29 0h1m2 0h1m10 0h1m1 0h1m10 0h1M159 134h1m2 0h1m2 0h2m2 0h8m1 0h1m1 0h2m1 0h2m2 0h1m1 0h1m1 0h1m1 0h3m1 0h1m1 0h1m4 0h1m1 0h1m2 0h2m2 0h1m1 0h1m3 0h2m1 0h1m1 0h1m4 0h1m3 0h2m8 0h1m3 0h2m7 0h2m4 0h1m1 0h1m1 0h1m3 0h1m10 0h1m2 0h1m2 0h1m2 0h1M162 135h2m1 0h10m2 0h2m1 0h5m1 0h2m1 0h2m3 0h2m1 0h1m1 0h4m1 0h3m3 0h1m10 0h1m1 0h1m8 0h1m3 0h1m5 0h1m10 0h2m7 0h1m30 0h1M165 136h6m1 0h11m1 0h2m5 0h6m4 0h2m2 0h3m8 0h1m3 0h1m2 0h1m5 0h1m7 0h4m5 0h1m1 0h1m24 0h2m3 0h1m4 0h2m4 0h1M157 137h1m1 0h1m1 0h1m1 0h12m1 0h5m2 0h2m1 0h1m1 0h2m1 0h1m4 0h3m3 0h1m1 0h2m3 0h2m7 0h2m1 0h1m4 0h1m7 0h1m3 0h1m2 0h1m9 0h1m10 0h1m8 0h1m17 0h1m3 0h1M164 138h4m1 0h12m2 0h3m1 0h2m2 0h1m1 0h4m1 0h1m2 0h4m3 0h1m1 0h1m6 0h1m5 0h1m5 0h1m18 0h1m1 0h1m10 0h2m12 0h2m9 0h1M153 139h1m3 0h1m4 0h12m1 0h4m1 0h2m1 0h2m2 0h3m1 0h1m1 0h2m1 0h1m1 0h1m1 0h2m1 0h1m1 0h1m1 0h1m1 0h3m1 0h2m1 0h2m11 0h1m2 0h1m10 0h2m3 0h1m1 0h1m5 0h1m3 0h1m5 0h1m1 0h2m16 0h1m4 0h1M159 140h1m1 0h1m1 0h9m2 0h4m1 0h2m2 0h1m2 0h1m1 0h2m2 0h1m2 0h1m8 0h4m8 0h1m1 0h2m6 0h1m1 0h1m4 0h1m4 0h1m1 0h2m2 0h1m6 0h1m1 0h1m4 0h1m1 0h1m9 0h1m1 0h1m1 0h2m1 0h1m2 0h1m4 0h1M153 141h1m3 0h1m1 0h5m1 0h14m4 0h1m2 0h1m1 0h1m1 0h3m1 0h1m1 0h1m1 0h2m2 0h2m5 0h2m5 0h2m3 0h1m1 0h1m2 0h1m8 0h1m2 0h1m3 0h1m6 0h1m7 0h1m8 0h1m19 0h1m6 0h1M147 142h1m4 0h2m1 0h1m1 0h21m2 0h5m3 0h1m2 0h2m1 0h2m2 0h1m1 0h1m1 0h3m2 0h1m1 0h1m3 0h1m1 0h2m1 0h2m2 0h1m1 0h1m4 0h1m20 0h1m4 0h1m6 0h1m2 0h1m8 0h1m6 0h1m4 0h2m3 0h1m1 0h1M144 143h1m3 0h1m1 0h1m3 0h1m2 0h4m1 0h9m1 0h5m1 0h1m2 0h1m2 0h2m1 0h4m1 0h1m5 0h1m1 0h1m4 0h3m1 0h4m3 0h1m2 0h1m1 0h1m2 0h1m1 0h1m2 0h1m3 0h1m6 0h1m1 0h1m3 0h1m1 0h1m10 0h1m4 0h2m7 0h1m1 0h1m3 0h1m4 0h1M151 144h3m3 0h4m1 0h2m1 0h14m1 0h3m1 0h2m3 0h1m2 0h1m3 0h1m1 0h1m4 0h2m4 0h1m4 0h2m5 0h1m2 0h1m3 0h1m9 0h1m9 0h1m9 0h2m5 0h1m4 0h1m6 0h1m12 0h1m2 0h1M146 145h1m5 0h1m1 0h21m1 0h3m1 0h2m1 0h2m2 0h2m4 0h2m1 0h2m1 0h1m1 0h1m2 0h2m2 0h2m1 0h1m5 0h1m1 0h1m1 0h1m2 0h1m3 0h1m5 0h1m3 0h1m6 0h2m40 0h1m3 0h1m1 0h1M146 146h1m2 0h2m1 0h1m1 0h8m1 0h8m1 0h7m4 0h6m2 0h2m1 0h3m3 0h1m2 0h1m8 0h4m1 0h2m2 0h3m4 0h1m1 0h1m1 0h2m4 0h2m7 0h1m7 0h1m13 0h1m10 0h2m6 0h1M144 147h3m4 0h16m1 0h10m1 0h1m1 0h3m3 0h4m1 0h5m1 0h3m2 0h2m3 0h1m1 0h2m1 0h1m8 0h1m2 0h1m2 0h1m6 0h1m2 0h2m1 0h1m1 0h1m20 0h1m4 0h1M139 148h1m9 0h2m2 0h7m1 0h12m2 0h3m2 0h2m1 0h1m2 0h1m1 0h2m2 0h1m1 0h1m2 0h1m4 0h2m1 0h2m1 0h1m2 0h3m2 0h1m2 0h1m1 0h1m2 0h1m4 0h2m3 0h1m2 0h1m8 0h1m1 0h1m4 0h1m25 0h1m11 0h1M142 149h1m6 0h10m1 0h8m1 0h2m1 0h2m1 0h1m1 0h3m3 0h3m2 0h3m1 0h3m1 0h3m3 0h2m2 0h1m6 0h2m1 0h1m4 0h1m3 0h1m3 0h1m1 0h1m1 0h1m1 0h1m3 0h1m27 0h1m2 0h1m6 0h1m15 0h1M146 150h4m1 0h2m1 0h2m1 0h17m1 0h7m4 0h1m1 0h1m2 0h3m4 0h2m1 0h2m3 0h6m3 0h1m6 0h1m2 0h1m4 0h1m2 0h1m4 0h1m8 0h1m9 0h1m1 0h1m12 0h1m1 0h1m2 0h1m1 0h1M131 151h1m6 0h1m1 0h1m5 0h6m1 0h11m2 0h6m1 0h6m2 0h6m4 0h3m2 0h1m2 0h1m1 0h1m2 0h1m2 0h2m1 0h1m1 0h1m6 0h1m1 0h1m6 0h1m1 0h1m1 0h1m7 0h1m6 0h1m3 0h1m3 0h1m17 0h1m2 0h1m2 0h1m12 0h1M141 152h1m2 0h4m1 0h13m1 0h1m1 0h3m1 0h3m1 0h2m1 0h9m1 0h4m4 0h1m1 0h2m1 0h2m2 0h1m1 0h1m2 0h4m1 0h4m2 0h1m10 0h1m2 0h2m1 0h1m2 0h1m1 0h1m3 0h1m5 0h1m1 0h1m1 0h1m2 0h2m5 0h1m1 0h1m4 0h2m1 0h1m8 0h1m2 0h2m1 0h1m1 0h2M138 153h2m2 0h1m1 0h10m1 0h4m1 0h4m4 0h3m3 0h7m2 0h2m1 0h1m1 0h1m1 0h1m2 0h1m1 0h4m1 0h1m2 0h1m2 0h4m2 0h1m1 0h2m1 0h1m1 0h1m1 0h1m15 0h1m8 0h1m7 0h1m4 0h3m1 0h1m2 0h1m1 0h2m8 0h2M136 154h1m5 0h3m1 0h20m1 0h1m3 0h4m1 0h2m1 0h3m1 0h1m3 0h1m2 0h2m3 0h2m1 0h1m1 0h5m2 0h2m2 0h2m2 0h1m8 0h1m4 0h1m2 0h1m4 0h2m3 0h1m1 0h1m10 0h2m3 0h1m3 0h2m1 0h1m2 0h1m5 0h1m1 0h1m1 0h1m12 0h1M135 155h1m4 0h21m1 0h9m2 0h1m2 0h2m2 0h7m1 0h2m4 0h1m1 0h1m3 0h1m1 0h1m1 0h1m1 0h5m1 0h1m4 0h1m1 0h1m1 0h3m2 0h4m1 0h2m3 0h1m8 0h1m6 0h1m4 0h1m2 0h1m4 0h1m9 0h1m13 0h1m3 0h1M138 156h1m3 0h16m1 0h3m1 0h1m1 0h6m2 0h19m1 0h1m1 0h1m1 0h4m7 0h1m1 0h1m2 0h1m1 0h2m4 0h1m3 0h1m4 0h2m3 0h2m1 0h1m4 0h1m15 0h1m5 0h1m6 0h1m6 0h1m13 0h1M133 157h1m3 0h3m1 0h19m2 0h1m1 0h4m1 0h4m2 0h3m1 0h3m1 0h1m1 0h2m1 0h1m2 0h1m1 0h2m1 0h1m2 0h1m7 0h1m3 0h1m1 0h1m3 0h2m3 0h1m1 0h1m1 0h1m1 0h1m1 0h2m7 0h1m15 0h1m17 0h2m4 0h1m6 0h1m6 0h1M133 158h1m4 0h2m2 0h8m1 0h7m1 0h4m1 0h2m1 0h2m1 0h11m1 0h2m3 0h5m5 0h1m1 0h4m1 0h1m2 0h1m1 0h1m2 0h4m8 0h2m3 0h3m4 0h2m6 0h1m20 0h1m21 0h1m1 0h1M131 159h3m1 0h1m1 0h10m1 0h12m1 0h3m1 0h1m1 0h2m5 0h5m1 0h1m2 0h5m1 0h2m2 0h4m1 0h1m2 0h2m2 0h1m2 0h4m2 0h2m1 0h1m1 0h1m7 0h1m1 0h1m3 0h1m7 0h1m9 0h1m4 0h1m4 0h2m9 0h2m4 0h1m13 0h1M124 160h1m5 0h1m2 0h1m1 0h17m2 0h8m1 0h3m2 0h4m1 0h1m2 0h2m1 0h5m1 0h2m1 0h4m2 0h1m1 0h1m1 0h3m4 0h4m1 0h2m3 0h1m7 0h1m2 0h1m1 0h1m1 0h1m16 0h2m6 0h1m23 0h1m4 0h2m1 0h1m5 0h1M136 161h23m2 0h1m2 0h4m2 0h5m4 0h3m3 0h4m2 0h3m1 0h2m3 0h1m5 0h6m2 0h1m3 0h1m4 0h1m5 0h1m4 0h2m1 0h1m3 0h3m3 0h1m7 0h2m2 0h1m10 0h1m7 0h1m4 0h2m8 0h1M128 162h1m3 0h6m1 0h2m1 0h11m2 0h2m1 0h5m2 0h1m2 0h1m1 0h1m2 0h4m1 0h1m3 0h2m8 0h2m1 0h3m1 0h1m2 0h3m2 0h1m2 0h1m1 0h1m4 0h2m8 0h2m4 0h1m9 0h1m11 0h1m5 0h1m12 0h1m6 0h1m1 0h1M126 163h1m1 0h1m1 0h17m2 0h6m2 0h2m1 0h2m1 0h2m1 0h2m1 0h3m1 0h2m1 0h5m1 0h2m2 0h1m1 0h3m1 0h3m1 0h5m1 0h1m1 0h1m1 0h3m1 0h1m1 0h1m1 0h2m4 0h1m3 0h1m3 0h1m2 0h1m5 0h1m3 0h1m1 0h1m4 0h1m5 0h2m2 0h1m1 0h1m3 0h2m3 0h1m19 0h1m2 0h2M127 164h1m1 0h20m1 0h2m2 0h5m2 0h1m1 0h2m3 0h2m2 0h2m1 0h2m1 0h1m2 0h7m1 0h1m5 0h2m2 0h1m3 0h1m1 0h1m2 0h1m1 0h2m2 0h1m5 0h5m9 0h1m13 0h1m4 0h3m10 0h1m3 0h1m17 0h1M121 165h1m7 0h4m1 0h21m1 0h1m2 0h1m2 0h3m2 0h7m2 0h5m1 0h6m3 0h2m1 0h5m1 0h3m1 0h1m1 0h1m1 0h1m2 0h1m1 0h1m2 0h3m1 0h3m7 0h1m2 0h2m4 0h1m5 0h1m19 0h4M127 166h2m1 0h6m1 0h25m3 0h3m1 0h1m1 0h1m2 0h4m3 0h1m2 0h11m2 0h5m2 0h2m1 0h1m1 0h4m1 0h2m3 0h1m1 0h2m1 0h2m1 0h1m4 0h1m11 0h1m2 0h1m1 0h1m8 0h1m32 0h1m1 0h1M126 167h8m1 0h15m3 0h1m1 0h3m1 0h4m1 0h2m1 0h2m1 0h3m1 0h3m2 0h3m1 0h3m2 0h3m1 0h2m1 0h1m1 0h4m1 0h3m1 0h2m3 0h1m3 0h1m1 0h1m6 0h1m1 0h2m3 0h1m13 0h1m3 0h1m3 0h2m1 0h1m4 0h1m2 0h1m10 0h1m1 0h1m2 0h2m5 0h1m5 0h1M115 168h1m1 0h1m6 0h28m2 0h4m1 0h8m1 0h8m2 0h1m3 0h4m1 0h5m2 0h1m1 0h1m4 0h2m2 0h2m1 0h5m1 0h2m3 0h1m3 0h1m4 0h1m2 0h2m5 0h1m7 0h2m1 0h1m1 0h1m1 0h1m1 0h2m4 0h1m3 0h1m2 0h1M125 169h26m1 0h5m1 0h2m1 0h8m1 0h4m1 0h1m4 0h4m1 0h1m1 0h4m1 0h1m2 0h1m4 0h1m3 0h2m1 0h1m1 0h2m1 0h1m5 0h2m2 0h1m2 0h4m1 0h2m2 0h4m2 0h1m2 0h1m1 0h1m2 0h1m5 0h1m8 0h1m7 0h1m21 0h1M121 170h3m1 0h31m1 0h5m2 0h4m2 0h1m1 0h3m1 0h5m1 0h3m2 0h2m2 0h1m2 0h2m4 0h1m1 0h7m1 0h2m3 0h6m1 0h3m1 0h1m7 0h1m5 0h1m3 0h2m6 0h1m6 0h1m10 0h3m2 0h1m14 0h1M114 171h1m2 0h1m4 0h25m2 0h3m1 0h4m2 0h3m1 0h1m2 0h1m1 0h2m2 0h2m2 0h3m4 0h1m2 0h1m1 0h1m1 0h2m1 0h1m2 0h2m1 0h3m1 0h1m1 0h3m2 0h1m2 0h2m1 0h1m2 0h1m4 0h2m1 0h3m3 0h2m3 0h2m2 0h1m2 0h2m3 0h1m2 0h1m9 0h1m4 0h1m3 0h1m17 0h1M118 172h1m1 0h25m1 0h2m1 0h1m3 0h4m1 0h4m1 0h1m1 0h1m1 0h4m2 0h4m2 0h3m1 0h4m1 0h3m3 0h2m1 0h3m1 0h2m4 0h1m1 0h2m1 0h1m1 0h1m1 0h1m1 0h2m2 0h2m1 0h1m1 0h2m6 0h1m7 0h3m1 0h1m6 0h1m3 0h1m4 0h1m16 0h1m3 0h1m8 0h1M120 173h27m1 0h2m4 0h3m2 0h2m1 0h2m1 0h12m3 0h2m1 0h4m2 0h5m1 0h5m1 0h1m1 0h8m1 0h1m3 0h1m1 0h3m1 0h2m5 0h1m1 0h2m1 0h2m2 0h1m4 0h2m12 0h1m7 0h1m2 0h1m4 0h1m1 0h2m2 0h1m8 0h1m3 0h1M109 174h1m5 0h2m1 0h1m1 0h20m1 0h4m1 0h4m2 0h1m1 0h1m1 0h1m2 0h2m4 0h5m1 0h2m1 0h4m1 0h6m1 0h9m1 0h2m4 0h6m2 0h1m1 0h1m3 0h1m1 0h1m3 0h4m4 0h1m3 0h1m11 0h2m10 0h1m21 0h1m5 0h1m6 0h1M108 175h1m4 0h1m1 0h8m1 0h12m1 0h3m1 0h1m1 0h2m1 0h1m2 0h1m1 0h4m1 0h5m1 0h2m1 0h5m1 0h4m1 0h6m1 0h2m1 0h1m2 0h2m1 0h3m1 0h1m1 0h3m3 0h1m1 0h5m1 0h2m3 0h1m1 0h1m1 0h3m3 0h1m3 0h1m4 0h1m5 0h1m3 0h1m4 0h1m1 0h1m3 0h1m6 0h2m7 0h1m4 0h1m4 0h2m6 0h1m1 0h1M113 176h4m1 0h5m1 0h17m1 0h1m1 0h1m1 0h1m2 0h7m1 0h3m3 0h1m3 0h1m1 0h6m2 0h1m1 0h1m1 0h6m1 0h3m3 0h1m1 0h2m1 0h1m1 0h4m4 0h1m3 0h2m1 0h2m1 0h3m2 0h4m3 0h1m6 0h1m1 0h1m2 0h1m8 0h1m30 0h1m5 0h3m1 0h1M110 177h2m1 0h1m1 0h29m2 0h5m2 0h1m2 0h4m3 0h2m2 0h4m2 0h3m2 0h3m2 0h2m1 0h1m2 0h1m2 0h3m1 0h4m1 0h1m1 0h1m2 0h1m2 0h1m1 0h1m2 0h1m1 0h2m1 0h2m1 0h1m2 0h1m3 0h1m1 0h1m1 0h1m1 0h3m7 0h1m9 0h1m9 0h1m1 0h1m4 0h1m4 0h1m2 0h1m5 0h3m2 0h1M113 178h1m1 0h1m1 0h3m1 0h19m1 0h2m1 0h4m1 0h1m1 0h1m2 0h6m1 0h3m1 0h2m1 0h1m1 0h2m2 0h4m1 0h8m1 0h7m1 0h2m2 0h4m1 0h3m1 0h8m1 0h2m5 0h3m4 0h1m3 0h3m9 0h2m4 0h2m4 0h1m1 0h1m10 0h1m4 0h1m6 0h2m6 0h1M106 179h1m1 0h1m1 0h2m1 0h24m2 0h9m2 0h3m2 0h2m5 0h3m4 0h7m1 0h2m1 0h1m1 0h1m1 0h1m1 0h4m1 0h1m3 0h1m1 0h7m1 0h5m6 0h4m2 0h1m3 0h1m3 0h2m1 0h1m3 0h1m2 0h1m5 0h1m1 0h1m7 0h1m4 0h2m17 0h1m6 0h1m2 0h1m2 0h1M105 180h1m5 0h5m1 0h16m1 0h4m3 0h4m1 0h4m1 0h9m2 0h1m3 0h2m3 0h3m1 0h5m1 0h1m1 0h3m1 0h1m1 0h2m1 0h1m1 0h2m2 0h4m3 0h3m2 0h3m1 0h1m2 0h3m1 0h1m15 0h1m1 0h1m1 0h4m2 0h1m9 0h1m2 0h1m2 0h1m6 0h1m3 0h2M109 181h7m1 0h15m1 0h8m1 0h5m1 0h1m2 0h2m1 0h1m1 0h1m1 0h6m1 0h1m1 0h2m5 0h1m1 0h8m1 0h2m1 0h1m1 0h1m3 0h2m1 0h1m1 0h2m1 0h1m2 0h1m1 0h5m1 0h2m2 0h2m8 0h1m4 0h2m5 0h1m5 0h1m3 0h2m6 0h3m5 0h1m4 0h1m16 0h1m4 0h1M104 182h1m3 0h2m1 0h20m1 0h6m2 0h1m1 0h3m1 0h1m1 0h2m1 0h2m1 0h1m1 0h4m1 0h2m1 0h5m1 0h4m1 0h1m1 0h4m1 0h1m1 0h2m1 0h4m2 0h3m1 0h4m1 0h7m3 0h2m1 0h2m1 0h2m3 0h2m1 0h1m1 0h2m2 0h1m4 0h1m7 0h1m9 0h1m4 0h2m11 0h1m2 0h1M107 183h4m1 0h22m1 0h2m4 0h2m1 0h1m3 0h6m1 0h1m1 0h3m2 0h10m1 0h4m2 0h1m2 0h1m3 0h2m3 0h2m1 0h2m1 0h2m4 0h1m2 0h1m1 0h1m4 0h3m1 0h3m1 0h1m2 0h1m3 0h1m2 0h3m1 0h1m8 0h1m10 0h1m14 0h3m17 0h1M105 184h1m2 0h23m1 0h6m1 0h4m1 0h1m1 0h3m2 0h1m2 0h1m1 0h5m1 0h5m1 0h2m2 0h6m4 0h3m1 0h2m1 0h1m1 0h1m1 0h4m1 0h4m1 0h2m3 0h2m4 0h1m1 0h2m2 0h3m1 0h2m3 0h2m3 0h1m1 0h1m7 0h2m3 0h4m3 0h1m3 0h1m10 0h1m2 0h1m9 0h1m5 0h1m1 0h1M108 185h22m1 0h2m1 0h1m1 0h1m1 0h1m1 0h1m4 0h2m1 0h2m2 0h1m2 0h2m1 0h2m1 0h2m1 0h2m1 0h7m1 0h3m1 0h3m1 0h3m1 0h4m2 0h3m1 0h4m1 0h4m2 0h5m1 0h5m6 0h1m1 0h1m1 0h1m3 0h1m15 0h1m6 0h2m11 0h1m15 0h1M102 186h1m2 0h5m1 0h16m1 0h7m1 0h4m2 0h6m1 0h1m1 0h1m2 0h5m1 0h2m2 0h1m1 0h2m2 0h3m1 0h1m1 0h6m2 0h5m2 0h1m1 0h2m1 0h2m1 0h4m2 0h1m1 0h1m3 0h3m1 0h3m4 0h4m3 0h2m12 0h1m7 0h1m11 0h1m6 0h1m2 0h1m3 0h1m4 0h1m8 0h1M103 187h23m1 0h2m1 0h1m1 0h1m1 0h4m1 0h3m2 0h1m1 0h10m1 0h6m1 0h2m1 0h9m1 0h4m1 0h3m1 0h3m2 0h3m1 0h5m3 0h2m2 0h3m1 0h6m1 0h1m1 0h3m5 0h2m1 0h2m3 0h2m5 0h1m2 0h1m4 0h1m16 0h2m7 0h1m4 0h2M98 188h1m4 0h28m1 0h3m1 0h2m1 0h1m1 0h1m1 0h2m1 0h1m2 0h2m1 0h1m2 0h7m2 0h2m1 0h1m1 0h3m1 0h1m1 0h1m1 0h4m1 0h1m1 0h1m3 0h4m1 0h1m1 0h3m1 0h1m2 0h5m2 0h1m1 0h2m1 0h1m1 0h1m1 0h4m1 0h1m3 0h2m1 0h1m1 0h4m5 0h1m1 0h1m2 0h1m8 0h1m8 0h1m7 0h1m2 0h1m2 0h1m5 0h1m8 0h1M102 189h1m1 0h23m1 0h3m1 0h6m1 0h1m1 0h1m1 0h2m1 0h6m1 0h1m1 0h4m1 0h2m1 0h4m2 0h1m1 0h1m1 0h6m2 0h5m1 0h8m3 0h1m1 0h2m2 0h6m1 0h2m2 0h7m1 0h4m1 0h3m1 0h1m1 0h1m1 0h1m3 0h3m2 0h2m9 0h1m2 0h2m2 0h1m4 0h1m24 0h1M94 190h1m4 0h5m1 0h18m1 0h3m2 0h2m3 0h6m1 0h1m1 0h2m1 0h2m2 0h3m1 0h2m1 0h39m2 0h1m1 0h2m1 0h4m1 0h2m2 0h1m1 0h1m1 0h2m4 0h1m1 0h2m3 0h2m1 0h1m2 0h1m4 0h2m6 0h1m8 0h1m6 0h1m5 0h1m10 0h1m6 0h1m1 0h1M86 191h1m11 0h2m1 0h22m1 0h2m1 0h2m1 0h9m1 0h1m1 0h1m2 0h4m1 0h1m1 0h3m1 0h1m1 0h1m1 0h5m1 0h1m2 0h1m1 0h3m1 0h1m1 0h9m3 0h3m2 0h3m1 0h1m2 0h2m1 0h4m1 0h1m1 0h1m2 0h1m1 0h1m4 0h1m4 0h1m5 0h1m5 0h1m1 0h1m25 0h1m3 0h1m9 0h1m7 0h1M97 192h6m1 0h21m1 0h5m2 0h3m2 0h3m1 0h8m2 0h18m1 0h9m1 0h3m1 0h5m2 0h15m2 0h1m1 0h1m1 0h1m2 0h1m2 0h1m1 0h1m7 0h1m5 0h1m2 0h2m13 0h2m2 0h1m6 0h1m2 0h2m13 0h2m5 0h1m2 0h1M97 193h3m1 0h22m1 0h1m2 0h2m3 0h4m1 0h3m1 0h7m1 0h6m1 0h4m1 0h6m1 0h9m1 0h12m1 0h2m1 0h5m3 0h2m4 0h1m1 0h5m1 0h1m4 0h2m8 0h1m5 0h1m3 0h1m4 0h1m12 0h1m6 0h1m6 0h1m6 0h2m11 0h1M96 194h18m1 0h6m1 0h12m2 0h2m3 0h1m1 0h2m1 0h3m1 0h3m1 0h1m1 0h5m1 0h3m1 0h1m1 0h12m1 0h1m1 0h10m1 0h3m1 0h1m1 0h1m2 0h2m1 0h1m1 0h1m1 0h1m1 0h3m1 0h2m1 0h1m3 0h1m1 0h1m7 0h1m10 0h1m25 0h1m2 0h1m7 0h1m2 0h1m6 0h1m1 0h1M92 195h28m2 0h2m1 0h1m1 0h2m2 0h1m4 0h7m1 0h1m1 0h3m1 0h9m2 0h15m1 0h8m3 0h4m2 0h1m3 0h1m3 0h3m1 0h3m2 0h1m5 0h4m3 0h1m3 0h1m10 0h1m2 0h1m2 0h1m4 0h1m1 0h1m5 0h1m7 0h1m5 0h1m6 0h1m11 0h1m1 0h1M89 196h1m4 0h1m1 0h21m1 0h4m1 0h3m2 0h2m1 0h2m1 0h3m1 0h1m1 0h1m2 0h6m1 0h2m1 0h32m4 0h3m2 0h1m2 0h2m3 0h9m1 0h1m1 0h3m1 0h1m1 0h1m4 0h1m1 0h1m2 0h3m3 0h1m2 0h1m17 0h1m7 0h1m2 0h1m7 0h1m6 0h1m4 0h1m1 0h1m1 0h1M89 197h3m1 0h22m3 0h3m3 0h4m1 0h1m2 0h4m2 0h7m1 0h1m1 0h8m1 0h28m2 0h10m1 0h2m2 0h2m1 0h1m3 0h1m1 0h5m6 0h1m2 0h1m11 0h1m24 0h1m18 0h1m1 0h1M87 198h1m2 0h27m1 0h2m1 0h1m1 0h2m2 0h2m1 0h1m1 0h3m1 0h5m1 0h30m1 0h11m2 0h1m1 0h8m1 0h1m1 0h3m2 0h1m4 0h2m1 0h3m2 0h1m8 0h1m3 0h1m10 0h1m5 0h1m19 0h2m10 0h1m5 0h1M90 199h1m1 0h1m1 0h22m1 0h7m1 0h6m1 0h2m1 0h2m1 0h1m1 0h6m1 0h30m1 0h3m1 0h3m3 0h1m3 0h1m2 0h3m2 0h1m1 0h1m1 0h4m4 0h1m3 0h2m1 0h2m3 0h1m9 0h1m21 0h1m1 0h1m3 0h1M84 200h1m3 0h29m2 0h2m1 0h5m1 0h1m1 0h11m1 0h42m1 0h2m2 0h5m3 0h1m1 0h2m13 0h1m1 0h1m1 0h1m4 0h1m6 0h1m2 0h1m3 0h2m11 0h2m13 0h1m16 0h1m7 0h1m2 0h1M87 201h27m1 0h2m1 0h8m3 0h1m1 0h1m1 0h5m1 0h2m1 0h1m1 0h30m1 0h6m1 0h6m1 0h1m1 0h1m1 0h1m1 0h1m1 0h5m2 0h4m2 0h1m1 0h1m9 0h1m2 0h1m2 0h1m6 0h1m2 0h1m4 0h1m9 0h2m13 0h1m3 0h1m5 0h1m9 0h1M82 202h1m4 0h6m1 0h13m1 0h13m3 0h7m1 0h1m1 0h1m1 0h3m1 0h6m1 0h24m1 0h3m1 0h2m1 0h7m2 0h3m2 0h4m2 0h6m2 0h1m4 0h1m4 0h1m5 0h1m34 0h1m1 0h1m7 0h1m3 0h1m7 0h2M78 203h1m7 0h27m2 0h9m1 0h2m1 0h2m1 0h1m1 0h3m1 0h8m2 0h26m1 0h5m2 0h4m2 0h8m1 0h3m2 0h3m8 0h1m11 0h1m5 0h1m6 0h2m17 0h1m5 0h1m6 0h1m14 0h1m2 0h1m5 0h1M80 204h1m1 0h1m2 0h25m2 0h1m3 0h1m1 0h6m2 0h1m1 0h19m1 0h12m1 0h16m1 0h2m1 0h6m1 0h3m1 0h9m1 0h1m2 0h2m1 0h1m1 0h1m2 0h1m1 0h2m1 0h1m1 0h2m15 0h1m1 0h1m11 0h2m2 0h1m28 0h1m8 0h1M74 205h1m4 0h1m3 0h26m2 0h2m3 0h2m5 0h2m1 0h3m3 0h3m1 0h34m2 0h4m3 0h2m2 0h2m1 0h2m1 0h4m4 0h1m4 0h2m1 0h3m1 0h3m8 0h1m1 0h1m1 0h2m1 0h2m21 0h1m4 0h1m4 0h2m7 0h2m2 0h1m3 0h1m13 0h1M75 206h1m6 0h2m1 0h21m1 0h2m1 0h10m2 0h3m1 0h3m3 0h3m1 0h32m1 0h10m1 0h7m1 0h1m3 0h1m2 0h7m3 0h2m1 0h2m11 0h1m2 0h1m2 0h1m4 0h1m5 0h1m16 0h1m6 0h2m8 0h1m1 0h1m1 0h1m7 0h1M79 207h2m2 0h22m1 0h1m1 0h1m1 0h1m1 0h8m2 0h6m1 0h4m1 0h1m2 0h34m3 0h1m1 0h1m2 0h4m1 0h5m1 0h4m1 0h1m1 0h1m3 0h4m1 0h1m11 0h1m2 0h1m12 0h1m3 0h1m13 0h1m1 0h1m5 0h1m2 0h1m9 0h1m6 0h1M77 208h24m2 0h1m1 0h8m1 0h2m1 0h3m1 0h2m1 0h57m2 0h1m1 0h1m2 0h4m21 0h2m1 0h2m7 0h1m10 0h2m9 0h1M72 209h1m4 0h1m1 0h25m1 0h4m1 0h2m1 0h9m2 0h44m2 0h2m2 0h2m1 0h2m1 0h3m5 0h4m1 0h4m2 0h3m1 0h1m2 0h1m23 0h2m1 0h1m15 0h1m16 0h1m13 0h1M69 210h1m1 0h2m1 0h1m2 0h24m1 0h2m1 0h1m1 0h4m1 0h13m1 0h42m2 0h1m1 0h1m1 0h1m1 0h3m1 0h2m2 0h1m2 0h1m1 0h1m3 0h1m1 0h3m1 0h1m2 0h3m15 0h1m2 0h2m2 0h1m2 0h1m13 0h2m8 0h1m1 0h1m2 0h1m7 0h1m10 0h1M76 211h2m2 0h22m1 0h3m2 0h13m1 0h1m1 0h3m1 0h7m1 0h13m1 0h22m1 0h1m1 0h1m3 0h3m2 0h1m2 0h1m1 0h1m1 0h1m1 0h1m8 0h2m4 0h2m11 0h1m2 0h1m5 0h3m5 0h1m5 0h1m6 0h1m17 0h1m18 0h1M63 212h1m10 0h26m3 0h1m1 0h3m1 0h7m1 0h5m1 0h3m1 0h34m1 0h5m1 0h8m3 0h3m2 0h1m1 0h1m1 0h3m20 0h1m1 0h1m11 0h2m2 0h1m7 0h1m11 0h3m10 0h1m16 0h1M75 213h26m1 0h2m3 0h10m1 0h33m1 0h5m2 0h1m1 0h7m1 0h3m2 0h2m4 0h2m3 0h1m4 0h2m4 0h1m9 0h2m1 0h1m9 0h1m1 0h1m7 0h1m3 0h3m1 0h1m18 0h2m20 0h1m9 0h1M69 214h1m1 0h3m1 0h19m1 0h10m1 0h3m1 0h5m1 0h14m1 0h39m3 0h2m2 0h1m1 0h2m5 0h1m1 0h1m11 0h1m5 0h1m3 0h1m6 0h1m1 0h1m1 0h2m5 0h1m1 0h1m1 0h1m3 0h1m5 0h1m23 0h1M72 215h2m1 0h18m1 0h4m1 0h4m1 0h1m1 0h1m1 0h1m1 0h1m1 0h11m1 0h34m1 0h2m2 0h4m3 0h1m1 0h2m2 0h2m1 0h1m1 0h2m1 0h1m1 0h1m2 0h2m5 0h1m1 0h2m3 0h1m4 0h1m27 0h1m19 0h1m2 0h1m2 0h1m4 0h1M71 216h26m1 0h1m1 0h1m1 0h2m3 0h28m1 0h23m1 0h2m1 0h6m4 0h3m2 0h1m1 0h2m4 0h1m1 0h1m2 0h2m2 0h1m8 0h1m2 0h2m17 0h1m10 0h1m33 0h1M65 217h1m1 0h26m3 0h1m1 0h4m1 0h5m1 0h20m1 0h16m1 0h7m1 0h1m2 0h2m7 0h1m3 0h3m1 0h1m2 0h1m1 0h3m4 0h3m2 0h1m5 0h2m4 0h1m5 0h1m2 0h1m2 0h1m7 0h1m3 0h1m1 0h1m8 0h1m8 0h1M68 218h26m1 0h1m1 0h1m1 0h3m1 0h2m2 0h19m1 0h24m1 0h5m1 0h1m4 0h3m1 0h5m3 0h2m5 0h2m2 0h1m5 0h1m4 0h1m2 0h2m1 0h1m8 0h1m1 0h1m4 0h1m2 0h1m1 0h1m6 0h1m6 0h1m3 0h1m34 0h1M68 219h24m2 0h4m1 0h1m2 0h6m1 0h27m1 0h17m1 0h1m1 0h4m2 0h3m2 0h2m1 0h1m2 0h2m1 0h1m3 0h1m15 0h1m5 0h1m1 0h1m1 0h1m6 0h1m3 0h1m1 0h2m15 0h1m33 0h1M63 220h1m2 0h27m1 0h5m4 0h2m1 0h1m2 0h28m1 0h2m1 0h2m1 0h2m1 0h3m4 0h2m1 0h2m4 0h1m2 0h4m2 0h5m6 0h3m1 0h1m1 0h1m8 0h1m2 0h1m8 0h1m1 0h1m12 0h2m1 0h1m36 0h1m19 0h1M63 221h5m1 0h20m3 0h6m2 0h2m1 0h11m1 0h3m1 0h16m1 0h5m1 0h6m1 0h1m1 0h1m2 0h1m2 0h1m3 0h1m1 0h1m2 0h2m1 0h1m4 0h3m4 0h1m5 0h1m4 0h1m1 0h1m3 0h1m4 0h1m1 0h1m8 0h1m15 0h1m4 0h1m24 0h1m13 0h1M58 222h1m1 0h2m1 0h25m1 0h1m2 0h1m2 0h1m1 0h2m1 0h3m1 0h9m1 0h34m2 0h1m1 0h1m1 0h2m1 0h3m1 0h1m4 0h1m1 0h1m1 0h1m2 0h1m7 0h1m2 0h1m1 0h1m2 0h1m2 0h1m4 0h1m6 0h1m24 0h1m29 0h1m10 0h1M60 223h7m1 0h15m1 0h4m2 0h1m1 0h1m1 0h5m3 0h7m1 0h12m1 0h8m1 0h7m1 0h2m1 0h5m3 0h2m1 0h2m1 0h1m1 0h1m4 0h1m5 0h1m6 0h1m2 0h1m11 0h2m8 0h1m8 0h1m28 0h1m2 0h1M51 224h1m8 0h28m1 0h3m1 0h7m2 0h32m1 0h3m1 0h5m1 0h3m2 0h5m1 0h1m2 0h1m1 0h1m1 0h1m3 0h1m8 0h1m2 0h1m2 0h1m5 0h1m8 0h2m2 0h1m7 0h1m10 0h1m1 0h1m4 0h1m10 0h1m9 0h1m1 0h1M58 225h1m2 0h34m1 0h2m1 0h10m1 0h10m1 0h16m1 0h2m1 0h1m1 0h2m1 0h1m1 0h3m1 0h1m1 0h1m1 0h1m1 0h2m6 0h1m1 0h1m1 0h1m6 0h2m2 0h1m7 0h1m2 0h1m2 0h1m9 0h1m4 0h2m5 0h2M56 226h1m2 0h3m1 0h22m2 0h13m1 0h2m1 0h2m1 0h1m1 0h9m1 0h9m1 0h4m2 0h7m1 0h2m3 0h2m1 0h2m2 0h4m1 0h1m10 0h3m9 0h1m1 0h1m7 0h1m9 0h1m17 0h1m6 0h1m24 0h1M55 227h1m1 0h4m1 0h21m1 0h5m3 0h10m1 0h9m1 0h10m1 0h12m1 0h6m1 0h1m2 0h1m7 0h1m10 0h1m1 0h2m1 0h1m4 0h2m4 0h1m2 0h1m6 0h1m4 0h1m6 0h1m1 0h1m12 0h1M55 228h9m1 0h16m1 0h3m1 0h2m2 0h1m1 0h2m1 0h1m1 0h2m2 0h14m1 0h3m1 0h2m1 0h5m1 0h4m2 0h1m1 0h1m4 0h1m2 0h1m3 0h1m3 0h2m4 0h1m8 0h1m1 0h2m5 0h1m5 0h2m5 0h2m11 0h1m26 0h1M44 229h2m8 0h1m1 0h21m1 0h2m1 0h2m1 0h4m1 0h1m1 0h6m1 0h3m1 0h5m2 0h2m4 0h6m1 0h2m1 0h7m1 0h5m2 0h1m2 0h1m1 0h3m1 0h3m5 0h2m3 0h1m3 0h1m10 0h2m26 0h1m50 0h1M55 230h4m1 0h18m1 0h3m1 0h1m1 0h5m1 0h7m1 0h15m1 0h1m1 0h2m1 0h4m3 0h1m1 0h1m1 0h1m1 0h2m2 0h1m2 0h1m1 0h4m14 0h1m3 0h1m1 0h1m5 0h1m4 0h3m6 0h1m12 0h1m5 0h1m3 0h2m7 0h1M48 231h1m4 0h25m1 0h3m1 0h2m2 0h15m1 0h3m1 0h4m1 0h8m1 0h1m1 0h5m1 0h2m1 0h1m1 0h2m1 0h1m1 0h2m2 0h1m3 0h1m5 0h1m1 0h1m1 0h1m6 0h1m15 0h2m7 0h1m9 0h1m9 0h1M52 232h1m1 0h26m2 0h3m1 0h2m4 0h2m1 0h2m1 0h2m1 0h1m2 0h1m1 0h16m2 0h5m1 0h3m5 0h1m2 0h4m1 0h1m1 0h1m1 0h1m2 0h1m1 0h1m3 0h1m11 0h1m7 0h1m3 0h1m46 0h1M51 233h21m1 0h18m1 0h5m1 0h1m1 0h11m1 0h3m1 0h5m2 0h1m1 0h1m2 0h1m2 0h2m2 0h1m2 0h3m3 0h1m3 0h1m1 0h1m1 0h1m1 0h2m5 0h2m2 0h1m1 0h1m7 0h1m39 0h1m16 0h1M50 234h2m1 0h1m1 0h21m2 0h1m1 0h2m1 0h6m2 0h2m1 0h1m1 0h3m2 0h2m1 0h3m1 0h8m1 0h1m1 0h1m1 0h5m1 0h1m1 0h1m1 0h1m3 0h1m1 0h1m6 0h1m5 0h1m6 0h1m4 0h1m3 0h1m30 0h1m28 0h1M44 235h1m3 0h31m1 0h5m1 0h1m2 0h2m1 0h2m1 0h12m1 0h5m1 0h1m3 0h2m1 0h2m1 0h3m2 0h2m1 0h2m5 0h1m2 0h1m3 0h1m3 0h1m8 0h1m5 0h1m7 0h1m2 0h1M45 236h1m2 0h21m1 0h6m1 0h4m3 0h1m1 0h8m2 0h1m1 0h2m1 0h6m1 0h2m2 0h6m1 0h1m1 0h1m1 0h1m1 0h2m2 0h1m1 0h2m6 0h1m3 0h1m4 0h3m9 0h1m7 0h1m15 0h1m9 0h1m83 0h1M42 237h1m3 0h1m2 0h29m1 0h6m1 0h2m1 0h1m2 0h1m2 0h4m1 0h1m1 0h11m1 0h1m2 0h2m1 0h1m2 0h4m1 0h4m3 0h1m1 0h2m6 0h1m4 0h2m5 0h1m4 0h1m1 0h1m7 0h1m4 0h1m72 0h1M42 238h1m3 0h26m1 0h1m2 0h4m1 0h2m1 0h3m2 0h3m2 0h1m1 0h1m1 0h6m1 0h4m2 0h1m1 0h2m1 0h1m2 0h1m1 0h2m3 0h1m3 0h1m11 0h1m2 0h1m11 0h1m2 0h1m2 0h1m2 0h1m24 0h1M40 239h1m3 0h4m1 0h25m2 0h3m2 0h1m5 0h4m2 0h4m1 0h1m1 0h2m1 0h4m1 0h1m1 0h1m1 0h7m3 0h2m1 0h1m1 0h1m1 0h1m3 0h1m4 0h1m10 0h1m2 0h1m3 0h1m22 0h1m5 0h1M42 240h1m1 0h5m1 0h19m1 0h1m1 0h2m2 0h5m1 0h4m1 0h1m3 0h1m1 0h2m2 0h4m1 0h5m2 0h2m1 0h2m1 0h2m1 0h4m1 0h1m2 0h2m1 0h2m1 0h1m2 0h1m5 0h4m1 0h2m4 0h1m3 0h1m26 0h1M41 241h21m1 0h5m3 0h1m5 0h8m2 0h2m1 0h9m1 0h4m1 0h3m2 0h7m2 0h1m2 0h1m2 0h1m3 0h1m9 0h1m7 0h1m18 0h1m46 0h1m6 0h1m48 0h1M32 242h1m9 0h20m1 0h2m1 0h2m1 0h11m3 0h3m2 0h5m1 0h1m2 0h5m1 0h1m1 0h1m2 0h2m4 0h1m2 0h3m2 0h3m9 0h1m7 0h1m3 0h1m7 0h1m6 0h2m1 0h1m3 0h1m1 0h1m62 0h1M40 243h3m1 0h21m1 0h1m1 0h3m1 0h3m1 0h1m2 0h2m2 0h1m1 0h3m2 0h2m1 0h3m2 0h1m1 0h5m1 0h2m3 0h1m2 0h2m5 0h1m2 0h1m12 0h1m2 0h1m2 0h1m7 0h1m1 0h1m4 0h1m65 0h1m10 0h1M37 244h3m1 0h29m2 0h1m3 0h4m2 0h1m1 0h1m2 0h4m3 0h2m1 0h1m1 0h5m1 0h1m1 0h3m1 0h1m3 0h1m1 0h1m15 0h1m3 0h1m2 0h1m9 0h1m2 0h1m12 0h1m3 0h1m1 0h1m3 0h1m29 0h1M34 245h1m5 0h29m1 0h9m4 0h1m3 0h1m1 0h4m1 0h4m3 0h2m2 0h1m3 0h2m2 0h1m1 0h1m2 0h3m3 0h2m14 0h1m13 0h1M26 246h1m8 0h1m2 0h26m1 0h6m2 0h1m1 0h2m1 0h2m3 0h3m1 0h3m2 0h1m1 0h1m1 0h3m1 0h2m2 0h2m3 0h4m1 0h2m1 0h2m12 0h1m1 0h1m6 0h1m23 0h1M32 247h1m6 0h19m1 0h7m2 0h5m3 0h2m1 0h5m1 0h1m2 0h7m1 0h2m1 0h1m2 0h3m3 0h3m9 0h1m1 0h1m1 0h1m3 0h1m5 0h1m24 0h1m47 0h1M31 248h1m4 0h34m2 0h3m1 0h3m3 0h3m2 0h2m1 0h1m3 0h3m2 0h3m2 0h3m1 0h1m4 0h1m3 0h1m2 0h1m10 0h1m6 0h1m2 0h1m2 0h1m24 0h1m25 0h1M31 249h1m4 0h18m1 0h4m2 0h1m1 0h1m1 0h8m1 0h1m1 0h1m3 0h8m3 0h4m2 0h3m1 0h1m2 0h1m2 0h2m1 0h1m9 0h1m4 0h1m2 0h1m3 0h1M30 250h1m1 0h1m1 0h25m4 0h3m2 0h12m1 0h1m3 0h5m1 0h1m1 0h1m3 0h1m5 0h1m2 0h1m4 0h3m5 0h1m4 0h1m5 0h1m4 0h1M31 251h23m1 0h7m2 0h1m1 0h1m1 0h6m1 0h3m2 0h1m1 0h2m1 0h2m1 0h2m4 0h2m1 0h3m1 0h1m2 0h1m2 0h1m1 0h2m1 0h1m2 0h1m1 0h2m4 0h1m2 0h1m17 0h1M27 252h1m3 0h21m1 0h3m2 0h1m1 0h1m1 0h1m1 0h5m1 0h2m1 0h1m1 0h2m1 0h5m1 0h6m1 0h4m1 0h2m2 0h4m2 0h1m2 0h1m6 0h1m18 0h1m22 0h1m5 0h1M26 253h1m2 0h1m1 0h19m1 0h4m1 0h2m2 0h2m1 0h1m2 0h1m2 0h1m1 0h5m2 0h2m1 0h4m1 0h3m3 0h3m1 0h1m33 0h1m1 0h1M19 254h1m8 0h26m2 0h2m1 0h2m1 0h3m2 0h2m1 0h7m2 0h2m2 0h3m1 0h1m1 0h1m3 0h2m1 0h1m1 0h1m3 0h1m6 0h2m2 0h1m1 0h1m8 0h1m2 0h1m3 0h1m1 0h1M24 255h1m1 0h1m3 0h20m1 0h2m2 0h1m2 0h4m1 0h4m1 0h1m2 0h15m1 0h1m1 0h2m1 0h2m1 0h2m22 0h2m14 0h1m5 0h1M25 256h1m2 0h22m1 0h4m4 0h3m1 0h2m1 0h1m1 0h2m2 0h2m4 0h1m1 0h4m2 0h1m4 0h1m2 0h3m1 0h1m9 0h1m9 0h1m37 0h1M24 257h1m1 0h1m1 0h20m1 0h2m4 0h3m3 0h4m1 0h2m1 0h2m1 0h2m1 0h1m1 0h1m1 0h2m1 0h3m5 0h3m2 0h2m8 0h1m2 0h1m31 0h1M18 258h1m2 0h2m2 0h23m1 0h7m1 0h2m2 0h5m1 0h1m1 0h1m2 0h1m2 0h3m2 0h3m3 0h1m11 0h1m3 0h1m6 0h1m7 0h1m26 0h1m9 0h1M24 259h1m1 0h22m3 0h7m1 0h2m1 0h2m2 0h1m1 0h2m2 0h1m1 0h1m1 0h1m1 0h2m5 0h1m1 0h1m2 0h1m8 0h1m4 0h2M22 260h3m1 0h22m1 0h6m1 0h2m1 0h1m2 0h4m5 0h3m5 0h2m2 0h1m8 0h2m15 0h1M16 261h1m4 0h1m1 0h22m1 0h2m2 0h2m1 0h1m2 0h2m2 0h1m1 0h1m8 0h1m4 0h1m1 0h1m1 0h1m6 0h2m1 0h3m7 0h1M17 262h1m3 0h2m1 0h22m1 0h1m1 0h2m2 0h2m1 0h3m1 0h6m3 0h2m1 0h2m2 0h1m4 0h1m2 0h1m11 0h1M15 263h1m1 0h1m2 0h1m1 0h17m2 0h8m3 0h5m2 0h2m1 0h2m1 0h3m4 0h1m2 0h1m1 0h1m3 0h1m5 0h2M18 264h2m1 0h20m1 0h8m1 0h1m1 0h5m1 0h4m2 0h1m2 0h2m1 0h1m1 0h2m7 0h1m1 0h1M9 265h1m6 0h1m2 0h1m1 0h17m4 0h6m1 0h4m1 0h4m1 0h1m5 0h2m4 0h1m1 0h1M14 266h2m1 0h24m1 0h7m1 0h2m2 0h1m2 0h4m3 0h1m2 0h3m2 0h1M9 267h1m6 0h1m2 0h21m1 0h9m1 0h4m2 0h1m2 0h1m1 0h2M15 268h24m1 0h1m2 0h4m1 0h1m3 0h2m1 0h3m2 0h4m1 0h1m2 0h1m1 0h1m1 0h1m5 0h1m5 0h1M16 269h15m1 0h2m2 0h2m2 0h7m2 0h1m1 0h1m4 0h3m7 0h1m2 0h1M12 270h21m1 0h1m1 0h1m3 0h3m1 0h4m1 0h3M13 271h20m2 0h1m1 0h3m1 0h3m1 0h2m1 0h1m1 0h1m7 0h2m4 0h1M5 272h1m5 0h5m1 0h11m1 0h1m1 0h8m3 0h1m2 0h1m18 0h1M9 273h26m1 0h5m3 0h1m2 0h1m25 0h1M5 274h1m2 0h4m1 0h17m1 0h2m2 0h4m1 0h2m46 0h1M9 275h1m1 0h20m1 0h3m6 0h2m19 0h1M5 276h1m2 0h20m2 0h2m1 0h2m1 0h1m5 0h2M3 277h2m2 0h19m4 0h1m9 0h1m13 0h1M4 278h1m3 0h14m1 0h1m3 0h1m4 0h1M2 279h1m1 0h1m1 0h13m1 0h5M3 280h15m1 0h5M2 281h19M1 282h1m1 0h18M1 283h17m1 0h1m1 0h1M0 284h18M1 285h1m1 0h9m1 0h1m1 0h2m3 0h1m3 0h1M1 286h1m1 0h11m1 0h2m5 0h1M1 287h8m2 0h3m7 0h1M2 288h9m1 0h2M3 289h5m1 0h3m1 0h1M6 290h8M5 291h1m7 0h1M8 292h1" stroke="#3247a4"/><path d="M179 129h1M176 130h3m2 0h2M176 131h2m1 0h3m1 0h1M173 132h10M171 133h11M170 134h7m1 0h1m1 0h2M169 135h6m2 0h2m1 0h1M167 136h4m1 0h8M166 137h9m1 0h4M164 138h4m1 0h10M163 139h11m1 0h3M161 140h1m1 0h9m2 0h3M160 141h4m1 0h11M159 142h17M157 143h4m1 0h9m1 0h3M157 144h4m1 0h2m1 0h9M155 145h18M154 146h8m1 0h8m7 0h1M152 147h15m1 0h3m3 0h1M153 148h7m1 0h10m4 0h1M150 149h9m1 0h8m1 0h1M148 150h2m1 0h2m1 0h2m1 0h12m3 0h2m1 0h2m1 0h1M147 151h5m1 0h11m2 0h4m3 0h1m2 0h1m1 0h1M146 152h2m1 0h13m1 0h1m1 0h2m2 0h1m1 0h1m4 0h4M145 153h9m1 0h4m1 0h4m4 0h3m3 0h1m1 0h2M143 154h2m1 0h19m2 0h1m3 0h4m1 0h2m1 0h1M142 155h19m1 0h9m2 0h1m2 0h2m2 0h1m2 0h1M142 156h16m1 0h3m1 0h1m1 0h6m2 0h5m1 0h1M141 157h19m2 0h1m1 0h4m1 0h4m2 0h1m1 0h1m1 0h2m2 0h1M139 158h1m2 0h8m1 0h7m1 0h4m1 0h2m1 0h2m1 0h7m2 0h1m3 0h1M137 159h10m1 0h12m1 0h3m1 0h1m1 0h2m5 0h5m1 0h1m3 0h1M136 160h16m2 0h8m1 0h3m2 0h4m1 0h1m2 0h2m1 0h3m1 0h1m1 0h2M136 161h23m2 0h1m2 0h4m2 0h5m4 0h3m3 0h2M134 162h4m1 0h2m1 0h11m2 0h2m1 0h5m2 0h1m2 0h1m1 0h1m2 0h4m1 0h1m3 0h2M132 163h15m2 0h6m2 0h2m1 0h2m1 0h2m1 0h2m1 0h3m1 0h2m1 0h5m1 0h1M131 164h18m1 0h2m2 0h5m2 0h1m1 0h2m3 0h2m2 0h2m1 0h2m1 0h1m2 0h2m2 0h1m1 0h1M130 165h3m1 0h21m1 0h1m2 0h1m2 0h3m2 0h7m2 0h5m1 0h6M130 166h6m1 0h25m3 0h3m1 0h1m1 0h1m2 0h4m3 0h1m3 0h3m1 0h1M128 167h6m1 0h15m3 0h1m1 0h3m1 0h4m1 0h2m1 0h2m1 0h3m1 0h1m1 0h1m2 0h3m1 0h3m4 0h1M126 168h26m2 0h4m1 0h8m1 0h8m2 0h1m3 0h2m1 0h1m1 0h3m1 0h1M125 169h26m1 0h5m1 0h2m1 0h8m1 0h4m1 0h1m4 0h4m1 0h1m1 0h1m2 0h1M125 170h31m1 0h5m2 0h4m2 0h1m1 0h3m1 0h5m1 0h3m6 0h1m2 0h1M123 171h24m2 0h3m1 0h4m2 0h3m1 0h1m2 0h1m1 0h2m2 0h2m2 0h3m4 0h1m2 0h1m1 0h1m1 0h2M122 172h23m1 0h2m1 0h1m3 0h4m1 0h4m1 0h1m1 0h1m1 0h4m2 0h4m2 0h3m1 0h4m1 0h3m3 0h1m2 0h1M121 173h26m1 0h2m4 0h3m2 0h2m1 0h2m1 0h12m3 0h2m1 0h4m2 0h1m2 0h1m3 0h2M120 174h20m1 0h4m1 0h4m2 0h1m1 0h1m1 0h1m2 0h2m4 0h5m1 0h2m1 0h4m1 0h6m1 0h7m1 0h1M118 175h5m1 0h12m1 0h3m1 0h1m1 0h2m1 0h1m2 0h1m1 0h4m1 0h5m1 0h2m1 0h5m1 0h4m1 0h6m1 0h2m1 0h1m2 0h2m1 0h3M118 176h5m1 0h17m1 0h1m1 0h1m1 0h1m2 0h7m1 0h3m3 0h1m3 0h1m1 0h6m2 0h1m1 0h1m1 0h6m1 0h3m6 0h1M116 177h28m2 0h5m2 0h1m2 0h4m3 0h2m2 0h4m2 0h3m2 0h3m2 0h2m1 0h1m2 0h1m3 0h1m2 0h2M115 178h1m1 0h3m1 0h19m1 0h2m1 0h4m1 0h1m1 0h1m2 0h6m1 0h3m1 0h2m1 0h1m1 0h2m2 0h4m1 0h8m1 0h3m1 0h3m2 0h1M114 179h23m2 0h9m2 0h3m2 0h2m5 0h3m4 0h7m1 0h2m1 0h1m1 0h1m1 0h1m1 0h4m1 0h1m3 0h1m1 0h2m1 0h1M112 180h4m1 0h16m1 0h4m3 0h4m1 0h4m1 0h9m2 0h1m3 0h2m3 0h3m1 0h5m1 0h1m1 0h3m1 0h1m1 0h2m1 0h1m1 0h2m2 0h3M111 181h5m1 0h15m1 0h8m1 0h5m1 0h1m2 0h2m1 0h1m1 0h1m1 0h6m1 0h1m1 0h2m5 0h1m1 0h8m1 0h2m1 0h1m1 0h1m3 0h2m1 0h1m1 0h1M111 182h20m1 0h6m2 0h1m1 0h3m1 0h1m1 0h2m1 0h2m1 0h1m1 0h4m1 0h2m1 0h5m1 0h4m1 0h1m1 0h4m1 0h1m1 0h2m1 0h4m2 0h3m2 0h2M109 183h2m1 0h22m1 0h2m4 0h2m1 0h1m3 0h6m1 0h1m1 0h3m2 0h10m1 0h4m2 0h1m2 0h1m3 0h2m3 0h2m1 0h2m1 0h2M108 184h23m1 0h6m1 0h4m1 0h1m1 0h3m2 0h1m2 0h1m1 0h5m1 0h5m1 0h2m2 0h6m4 0h3m1 0h2m1 0h1m1 0h1m2 0h2m3 0h1m1 0h1M108 185h22m1 0h2m1 0h1m1 0h1m1 0h1m1 0h1m4 0h2m1 0h2m2 0h1m2 0h2m1 0h2m1 0h2m1 0h2m1 0h7m1 0h3m1 0h3m1 0h3m1 0h4m2 0h2m2 0h2M105 186h5m1 0h16m1 0h7m1 0h4m2 0h6m1 0h1m1 0h1m2 0h5m1 0h2m2 0h1m1 0h2m2 0h3m1 0h1m1 0h6m2 0h5m2 0h1m1 0h2m1 0h1m3 0h1M104 187h22m1 0h2m1 0h1m1 0h1m1 0h4m1 0h3m2 0h1m1 0h10m1 0h6m1 0h2m1 0h9m1 0h4m1 0h3m1 0h3m2 0h3m1 0h1m2 0h2M103 188h28m1 0h3m1 0h2m1 0h1m1 0h1m1 0h2m1 0h1m2 0h2m1 0h1m2 0h7m2 0h2m1 0h1m1 0h3m1 0h1m1 0h1m1 0h4m1 0h1m1 0h1m3 0h4m1 0h1m2 0h2m4 0h1M102 189h1m1 0h23m1 0h3m1 0h6m1 0h1m1 0h1m1 0h2m1 0h6m1 0h1m1 0h4m1 0h2m1 0h4m2 0h1m1 0h1m1 0h6m2 0h5m1 0h8m3 0h1m1 0h2M101 190h3m1 0h18m1 0h3m2 0h2m3 0h6m1 0h1m1 0h2m1 0h2m2 0h3m1 0h2m1 0h38M101 191h22m1 0h2m1 0h2m1 0h9m1 0h1m1 0h1m2 0h4m1 0h1m1 0h3m1 0h1m1 0h1m1 0h5m1 0h1m2 0h1m1 0h3m1 0h1m1 0h9m3 0h3m2 0h1m3 0h1M99 192h4m1 0h21m1 0h5m2 0h3m2 0h3m1 0h8m2 0h18m1 0h9m1 0h3m1 0h5m2 0h3M97 193h3m1 0h22m1 0h1m2 0h2m3 0h4m1 0h3m1 0h7m1 0h6m1 0h4m1 0h6m1 0h9m1 0h12m1 0h2m1 0h1m1 0h1M96 194h18m1 0h6m1 0h12m2 0h2m3 0h1m1 0h2m1 0h3m1 0h3m1 0h1m1 0h5m1 0h3m1 0h1m1 0h12m1 0h1m1 0h8m3 0h1M95 195h25m2 0h2m1 0h1m1 0h2m2 0h1m4 0h7m1 0h1m1 0h3m1 0h9m2 0h15m1 0h8m3 0h1m2 0h1M94 196h1m1 0h21m1 0h4m1 0h3m2 0h2m1 0h2m1 0h3m1 0h1m1 0h1m2 0h6m1 0h2m1 0h32m4 0h1M93 197h22m3 0h3m3 0h4m1 0h1m2 0h4m2 0h7m1 0h1m1 0h8m1 0h28m2 0h2m1 0h1M92 198h25m1 0h2m1 0h1m1 0h2m2 0h2m1 0h1m1 0h3m1 0h5m1 0h30m1 0h11m2 0h1m2 0h2M92 199h1m1 0h22m1 0h7m1 0h6m1 0h2m1 0h2m1 0h1m1 0h6m1 0h30m1 0h3m1 0h2M90 200h27m2 0h2m1 0h5m1 0h1m1 0h11m1 0h42M89 201h25m1 0h2m1 0h8m3 0h1m1 0h1m1 0h5m1 0h2m1 0h1m1 0h30m1 0h6m1 0h1m1 0h1M87 202h6m1 0h13m1 0h13m3 0h7m1 0h1m1 0h1m1 0h3m1 0h6m1 0h24m1 0h3m1 0h2m1 0h3M86 203h27m2 0h9m1 0h2m1 0h2m1 0h1m1 0h3m1 0h8m2 0h26m1 0h5M85 204h25m2 0h1m3 0h1m1 0h6m2 0h1m1 0h19m1 0h12m1 0h16m1 0h2M84 205h25m2 0h2m3 0h2m5 0h2m1 0h3m3 0h3m1 0h34m2 0h4M83 206h1m1 0h21m1 0h2m1 0h10m2 0h3m1 0h3m3 0h3m1 0h32m1 0h6M83 207h22m1 0h1m1 0h1m1 0h1m1 0h8m2 0h6m1 0h4m1 0h1m2 0h34M81 208h20m2 0h1m1 0h8m1 0h2m1 0h3m1 0h2m1 0h48M79 209h25m1 0h4m1 0h2m1 0h9m2 0h44m2 0h1M78 210h23m1 0h2m1 0h1m1 0h4m1 0h13m1 0h42M77 211h1m2 0h22m1 0h3m2 0h13m1 0h1m1 0h3m1 0h7m1 0h13m1 0h17M76 212h24m3 0h1m1 0h3m1 0h7m1 0h5m1 0h3m1 0h34m1 0h3M75 213h26m1 0h2m3 0h10m1 0h33m1 0h5m2 0h1m1 0h3M75 214h19m1 0h10m1 0h3m1 0h5m1 0h14m1 0h31M73 215h1m1 0h18m1 0h4m1 0h4m1 0h1m1 0h1m1 0h1m1 0h1m1 0h11m1 0h34m1 0h1M71 216h26m1 0h1m1 0h1m1 0h2m3 0h28m1 0h23M70 217h23m3 0h1m1 0h4m1 0h5m1 0h20m1 0h16m1 0h7m1 0h1M69 218h25m1 0h1m1 0h1m1 0h3m1 0h2m2 0h19m1 0h24m1 0h3M68 219h24m2 0h4m1 0h1m2 0h6m1 0h27m1 0h16M67 220h26m1 0h5m4 0h2m1 0h1m2 0h28m1 0h2m1 0h2m1 0h2m1 0h3M66 221h2m1 0h20m3 0h6m2 0h2m1 0h11m1 0h3m1 0h16m1 0h5m1 0h6M65 222h23m1 0h1m2 0h1m2 0h1m1 0h2m1 0h3m1 0h9m1 0h32M64 223h3m1 0h15m1 0h4m2 0h1m1 0h1m1 0h5m3 0h7m1 0h12m1 0h8m1 0h7m1 0h2m1 0h1M63 224h25m1 0h3m1 0h7m2 0h32m1 0h3m1 0h3M62 225h33m1 0h2m1 0h10m1 0h10m1 0h16m1 0h2M60 226h2m1 0h22m2 0h13m1 0h2m1 0h2m1 0h1m1 0h9m1 0h9m1 0h4m2 0h2M59 227h2m1 0h21m1 0h5m3 0h10m1 0h9m1 0h10m1 0h11M58 228h6m1 0h16m1 0h3m1 0h2m2 0h1m1 0h2m1 0h1m1 0h2m2 0h14m1 0h3m1 0h2m1 0h5m1 0h3M57 229h20m1 0h2m1 0h2m1 0h4m1 0h1m1 0h6m1 0h3m1 0h5m2 0h2m4 0h6m1 0h2m1 0h4M56 230h3m1 0h18m1 0h3m1 0h1m1 0h5m1 0h7m1 0h15m1 0h1m1 0h2m1 0h4M55 231h23m1 0h3m1 0h2m2 0h15m1 0h3m1 0h4m1 0h8m1 0h1M54 232h26m2 0h3m1 0h2m4 0h2m1 0h2m1 0h2m1 0h1m2 0h1m1 0h9m1 0h6M53 233h19m1 0h18m1 0h5m1 0h1m1 0h11m1 0h3m1 0h4M51 234h1m1 0h1m1 0h21m2 0h1m1 0h2m1 0h6m2 0h2m1 0h1m1 0h3m2 0h2m1 0h3m1 0h4m1 0h2m2 0h1M50 235h29m1 0h5m1 0h1m2 0h2m1 0h2m1 0h12m1 0h1m1 0h3m1 0h1M49 236h20m1 0h6m1 0h4m3 0h1m1 0h8m2 0h1m1 0h2m1 0h6m1 0h2m4 0h1M49 237h29m1 0h6m1 0h2m1 0h1m2 0h1m2 0h4m1 0h1m1 0h6m1 0h2M47 238h25m1 0h1m2 0h4m1 0h2m1 0h3m2 0h3m2 0h1m1 0h1m1 0h6m1 0h2M46 239h2m1 0h25m2 0h3m2 0h1m5 0h4m2 0h4m1 0h1m1 0h2m1 0h2M45 240h4m1 0h19m1 0h1m1 0h2m2 0h5m1 0h4m1 0h1m3 0h1m1 0h2m2 0h4m1 0h1m1 0h1M44 241h18m1 0h5m3 0h1m5 0h8m2 0h2m1 0h9m3 0h1M43 242h19m1 0h2m1 0h2m1 0h11m3 0h3m2 0h5m1 0h1m2 0h2M42 243h1m1 0h21m1 0h1m1 0h3m1 0h3m1 0h1m2 0h2m2 0h1m1 0h3m2 0h2m1 0h3M41 244h29m2 0h1m3 0h4m2 0h1m1 0h1m2 0h4m3 0h1M40 245h29m1 0h9m4 0h1m3 0h1m1 0h4M39 246h25m1 0h6m2 0h1m1 0h2m1 0h2m3 0h3m1 0h3m4 0h1M39 247h19m1 0h7m2 0h5m3 0h2m1 0h5m1 0h1m2 0h1m1 0h2M37 248h33m2 0h3m1 0h3m3 0h3m3 0h1M36 249h18m1 0h4m2 0h1m1 0h1m1 0h8m1 0h1m1 0h1m3 0h2m2 0h1m2 0h1M35 250h24m4 0h3m2 0h12m1 0h1M33 251h21m1 0h7m2 0h1m1 0h1m1 0h6m1 0h3m2 0h1M32 252h20m1 0h3m2 0h1m1 0h1m1 0h1m1 0h5m1 0h2m1 0h1m1 0h2M31 253h19m1 0h4m1 0h2m2 0h2m1 0h1m2 0h1m2 0h1m1 0h5M30 254h24m2 0h2m1 0h2m1 0h3m2 0h2m1 0h3M30 255h20m1 0h2m2 0h1m2 0h4m1 0h4m1 0h1m2 0h2M28 256h22m1 0h4m4 0h3m1 0h2m1 0h1m1 0h2M28 257h20m1 0h2m4 0h3m3 0h4m1 0h2m1 0h2M26 258h22m1 0h7m1 0h2m2 0h4M26 259h22m3 0h7m1 0h2M24 260h1m1 0h22m1 0h6m1 0h2m1 0h1M23 261h22m1 0h2m2 0h2m1 0h1m2 0h2m2 0h1M22 262h1m1 0h22m1 0h1m1 0h2m2 0h2m1 0h3M22 263h17m2 0h8m3 0h5M21 264h20m1 0h8m1 0h1M19 265h1m1 0h17m4 0h6m1 0h2M18 266h23m1 0h2m1 0h4M19 267h20m2 0h1m1 0h1M16 268h22m2 0h1M16 269h15m1 0h2M14 270h19m1 0h1M13 271h20M12 272h4m1 0h11m1 0h1m1 0h1M11 273h20M10 274h2m1 0h17M9 275h1m1 0h17M8 276h19M7 277h19M8 278h14M6 279h13m1 0h3M5 280h13m1 0h2M4 281h17M3 282h16M2 283h16M2 284h14M3 285h9m1 0h1M3 286h11M2 287h7m2 0h1M3 288h7M5 289h3" stroke="#2450b2"/><path d="M162 144h1M158 145h1m1 0h1m2 0h1M158 146h1m2 0h1m1 0h2M161 147h4m1 0h1M157 148h3m1 0h2M157 149h1m4 0h2M154 150h1m2 0h1m1 0h1m1 0h1m1 0h1M151 151h1m1 0h7M150 152h10M149 153h2m1 0h2m1 0h4m1 0h1M147 154h10m3 0h1M146 155h11M144 156h2m1 0h9m1 0h1M143 157h12m1 0h2M144 158h6m1 0h5M142 159h5m1 0h5M139 160h1m1 0h11m2 0h1M140 161h12M137 162h1m1 0h2m1 0h10M138 163h9m2 0h1M135 164h1m1 0h12M134 165h16M132 166h1m1 0h2m1 0h11M131 167h3m1 0h12M131 168h15M129 169h16M127 170h17M127 171h16M125 172h17M124 173h17M123 174h16M121 175h2m1 0h12m1 0h2M119 176h1m1 0h2m1 0h13M120 177h17M118 178h2m1 0h13m1 0h1m1 0h1M117 179h18M117 180h16M112 181h1m2 0h1m1 0h15M114 182h17M113 183h17m18 0h1M112 184h18M110 185h19M109 186h1m1 0h16M108 187h17M106 188h20m32 0h1M105 189h19m5 0h1M105 190h17M103 191h18M102 192h1m1 0h17M101 193h18m1 0h1m20 0h1m26 0h4M99 194h15m1 0h3m48 0h1m2 0h3m3 0h1M99 195h19m39 0h1m4 0h1m4 0h1m1 0h4m1 0h2m7 0h1M97 196h20m14 0h1m2 0h1m12 0h1m14 0h6m1 0h8M95 197h20m34 0h1m4 0h1m2 0h22M95 198h18m1 0h1m42 0h15m1 0h3M94 199h19m1 0h1m37 0h1m2 0h22M93 200h19m37 0h2m1 0h24M92 201h19m36 0h2m1 0h24m1 0h1M91 202h2m1 0h13m1 0h1m33 0h1m2 0h1m1 0h24m1 0h2M90 203h18m39 0h26M88 204h20m8 0h1m20 0h1m3 0h1m1 0h4m1 0h12m1 0h13M87 205h19m18 0h1m14 0h1m1 0h29M85 206h1m1 0h19m18 0h1m13 0h30m1 0h2M85 207h19m30 0h1m3 0h30M83 208h18m35 0h28M83 209h18m35 0h28M81 210h20m27 0h1m3 0h2m1 0h29M80 211h19m30 0h1m2 0h3m1 0h13m1 0h11M79 212h19m11 0h1m14 0h1m5 0h28m1 0h1M77 213h20m32 0h2m1 0h19m1 0h5M77 214h17m31 0h1m1 0h3m1 0h23M75 215h18m1 0h1m25 0h1m4 0h30M75 216h19m19 0h1m8 0h1m1 0h2m1 0h8m1 0h15M74 217h18m15 0h1m10 0h1m1 0h4m1 0h4m1 0h16m1 0h1m1 0h1M72 218h19m31 0h4m1 0h19m1 0h1M71 219h19m33 0h13m1 0h7m2 0h1M70 220h20m31 0h1m1 0h3m1 0h10m1 0h2M69 221h20m30 0h4m1 0h1m1 0h1m1 0h4m1 0h2m1 0h4M67 222h1m1 0h18m18 0h1m13 0h1m1 0h4m3 0h1m1 0h1m1 0h3m1 0h1M68 223h15m1 0h1m19 0h1m15 0h2m1 0h1m1 0h1m1 0h4m1 0h1m3 0h1M65 224h21m30 0h1m7 0h1m1 0h2m1 0h1M65 225h19m37 0h1m1 0h1M64 226h18m38 0h1m3 0h1M63 227h18M62 228h2m1 0h15M60 229h17m1 0h1M58 230h1m1 0h18M58 231h19m18 0h1M57 232h19M56 233h16m1 0h1M55 234h18M53 235h20M53 236h16m1 0h1M52 237h19M49 238h19m1 0h1M49 239h19M48 240h1m1 0h17m6 0h1M47 241h15m1 0h3M46 242h16m1 0h2M45 243h18M43 244h19M41 245h1m1 0h17M42 246h19M40 247h17M40 248h18M38 249h16m1 0h2M38 250h17M36 251h16m1 0h1M35 252h17M34 253h16m1 0h2M33 254h18M32 255h18M31 256h17M30 257h17M29 258h17M28 259h17M26 260h17m1 0h1M26 261h17M25 262h16M23 263h16M22 264h17M22 265h15M21 266h15M20 267h14M19 268h15M18 269h13M17 270h14M16 271h14M15 272h1m1 0h11M14 273h14M13 274h13M12 275h12M10 276h13M10 277h13M9 278h12M7 279h12M7 280h11M7 281h9M5 282h10M4 283h11M4 284h9M3 285h9M3 286h7M3 287h5M3 288h1" stroke="#1d66c8"/><path d="M141 166h1M136 167h1M136 168h1M136 169h2M134 170h4M132 171h6M130 172h6M129 173h7M127 174h9M126 175h8M125 176h7M124 177h8M121 178h10M120 179h10M120 180h9M118 181h10M117 182h10M116 183h11M115 184h10M114 185h10M112 186h10M111 187h12M109 188h12M108 189h13M107 190h12M106 191h12M104 192h13M103 193h13M103 194h11M101 195h13M100 196h13M99 197h13M98 198h12M96 199h14M96 200h13M95 201h12M94 202h13M92 203h13m53 0h1m4 0h1M90 204h14m49 0h1m4 0h2m1 0h1m3 0h1M90 205h13m49 0h7m1 0h3M89 206h13m50 0h9M88 207h13m50 0h7m1 0h3M86 208h13m48 0h1m1 0h1m1 0h8M85 209h13m48 0h9m1 0h3M84 210h14m47 0h6m1 0h4M83 211h14m46 0h2m2 0h2m1 0h1m1 0h3M82 212h13m48 0h3m1 0h1m2 0h1M81 213h13m49 0h2m1 0h1m1 0h1M79 214h14m48 0h1M78 215h14M77 216h14M76 217h14M75 218h13M74 219h14M73 220h13M71 221h14M71 222h13M69 223h14M68 224h14M66 225h15M66 226h13M65 227h14M65 228h13M62 229h15M62 230h13M61 231h13M59 232h13M58 233h13M57 234h13M56 235h14M55 236h13M54 237h12M52 238h15M51 239h14M50 240h14M49 241h13M48 242h13M47 243h13M46 244h13M45 245h13M43 246h14M42 247h14M41 248h13M40 249h14M39 250h13M38 251h13M37 252h13M36 253h13M35 254h13M34 255h12M32 256h13M32 257h12M31 258h12M30 259h12M29 260h12M27 261h12M26 262h12M25 263h12M24 264h12M23 265h11M22 266h12M21 267h12M20 268h11M19 269h11M18 270h11M17 271h11M17 272h9M15 273h10M14 274h9M14 275h8M12 276h9M12 277h7M11 278h7M10 279h7M9 280h7M8 281h6M7 282h6M6 283h5M5 284h5M4 285h4M3 286h4M3 287h2" stroke="#2190da"/><path d="M126 179h1M123 180h2M122 181h2M124 182h1M118 183h3m1 0h1M118 184h4M116 185h6M115 186h5M113 187h7M112 188h8M111 189h7M109 190h6m1 0h1M108 191h8M107 192h7M106 193h7M105 194h8M103 195h9M102 196h7M100 197h10M99 198h10M98 199h9M98 200h8M96 201h9M94 202h10M94 203h8M92 204h10M91 205h10M90 206h10M89 207h10M88 208h10M87 209h10M86 210h9M85 211h9M83 212h10M82 213h10M81 214h10M80 215h10M79 216h10M78 217h9M77 218h10M75 219h10M75 220h9M73 221h10M72 222h10M71 223h9m1 0h1M70 224h10M69 225h10M67 226h10M66 227h11M65 228h11M64 229h10M63 230h10M62 231h10M61 232h10M60 233h10M58 234h11M57 235h10M57 236h10M55 237h11M54 238h10M53 239h10M52 240h10M51 241h9M50 242h10M49 243h9M48 244h9M46 245h10M46 246h9M44 247h10M42 248h10M42 249h10M41 250h9M40 251h9M38 252h10M38 253h9M37 254h9M35 255h10M35 256h9M33 257h9M33 258h9M31 259h9M30 260h9M28 261h9M28 262h7M27 263h5m1 0h2M26 264h7M25 265h8M24 266h7M23 267h7M21 268h8M21 269h7M20 270h7M19 271h6M17 272h7M16 273h7M15 274h7M14 275h6M13 276h6M12 277h6M11 278h6M10 279h6M9 280h5M8 281h5M7 282h5M6 283h5M5 284h4M4 285h4M4 286h3M3 287h2" stroke="#2cbfcf"/><path d="M113 190h1M108 193h1M107 195h2M104 196h3M102 197h5M101 198h5M101 199h4M100 200h4M98 201h6M96 202h6M96 203h5M94 204h6M93 205h6M92 206h5M91 207h6M90 208h6M89 209h6M87 210h7M86 211h6M85 212h6M84 213h6M82 214h7M82 215h6M81 216h6M79 217h7M78 218h7M77 219h6M76 220h7M75 221h7M74 222h6M73 223h6M71 224h8M70 225h7M69 226h7M68 227h6M67 228h7M66 229h6M65 230h7M64 231h6M63 232h6M61 233h7M60 234h7M59 235h6M58 236h6M57 237h6M56 238h6M55 239h6M54 240h6M53 241h5M53 242h4M51 243h5M50 244h5M49 245h4M48 246h4M47 247h3M47 248h3M48 249h2M43 250h1m2 0h1M44 251h1M42 254h1M38 257h1M32 260h1M31 261h2M30 262h3M29 263h3M27 264h4M26 265h4M25 266h5M24 267h5M22 268h5M21 269h5M20 270h6M19 271h5M18 272h5M17 273h5M16 274h5M14 275h6M13 276h6M12 277h6M11 278h6M10 279h5M9 280h5M8 281h5M7 282h5M6 283h5M5 284h4M4 285h4M4 286h2" stroke="#3fc27e"/><path d="M102 199h1M101 200h2M99 201h3M98 202h3M96 203h4M95 204h4M94 205h4M93 206h4M92 207h3M90 208h5M89 209h5M88 210h5M87 211h5M86 212h4M84 213h5M83 214h5M82 215h5M81 216h5M80 217h5M79 218h5M78 219h5M77 220h5M75 221h6M74 222h5M73 223h5M72 224h5M71 225h5M70 226h5M69 227h5M68 228h4M67 229h5M66 230h4M64 231h5M63 232h5M62 233h5M61 234h5M60 235h4M60 236h3M58 237h4M57 238h3M56 239h3M56 240h2M31 262h1M29 263h3M28 264h3M26 265h4M25 266h4M24 267h4M23 268h4M21 269h5M20 270h5M19 271h5M18 272h5M17 273h5M16 274h5M15 275h5M13 276h6M12 277h5M11 278h5M10 279h5M9 280h5M8 281h5M7 282h5M6 283h4M6 284h3M5 285h3M4 286h2" stroke="#5fc63a"/><path d="M97 204h1M96 205h1M94 206h2M92 207h3M91 208h3M90 209h3M88 210h4M87 211h4M86 212h4M85 213h4M84 214h4M83 215h4M81 216h5M81 217h3M79 218h5M78 219h4M77 220h4M76 221h4M75 222h4M74 223h4M73 224h4M71 225h4M70 226h4M69 227h4M68 228h4M67 229h4M66 230h4M65 231h3M64 232h3M64 233h2M62 234h3M62 235h1M30 263h1M28 264h2M26 266h1m1 0h1M25 267h1m1 0h1M23 268h3M22 269h3M21 270h4M20 271h4M19 272h4M17 273h5M16 274h4M15 275h4M14 276h4M13 277h4M12 278h4M10 279h5M10 280h4M9 281h3M7 282h4M7 283h3M6 284h3M5 285h2M4 286h2" stroke="#b4dc2a"/><path d="M92 208h1M90 209h2M89 210h3M88 211h3M86 212h3M85 213h3M84 214h3M83 215h3M82 216h3M81 217h3M80 218h3M78 219h4M77 220h4M76 221h4M75 222h3M74 223h3M73 224h3M72 225h3M71 226h3M70 227h3M69 228h2M68 229h2M67 230h2M66 231h1M63 234h1M21 271h1M20 272h1M19 273h1M17 274h2M15 275h3M15 276h2M13 277h3M12 278h4M11 279h3M10 280h3M9 281h3M8 282h3M7 283h3M6 284h2M5 285h2" stroke="#f3e41d"/><path d="M89 210h2M88 211h2M87 212h2M86 213h2M84 214h3M83 215h3M82 216h3M81 217h3M80 218h2M79 219h2M78 220h2M76 221h3M75 222h3M74 223h3M73 224h3M72 225h3M71 226h2M70 227h2M69 228h2M68 229h2M68 230h1M14 277h1M13 278h2M12 279h2M10 280h3M9 281h3M8 282h3M7 283h2M6 284h2M5 285h2" stroke="#f8a71b"/><path d="M87 212h1M86 213h2M85 214h2M83 215h3M82 216h3M81 217h2M80 218h2M79 219h2M78 220h2M77 221h2M76 222h2M74 223h3M73 224h3M72 225h2M71 226h2M70 227h2M13 278h1M12 279h1M11 280h1M9 281h2M8 282h2M7 283h2M6 284h2" stroke="#ef521e"/><path d="M86 213h1M84 215h1M81 217h1M80 218h2M79 219h2M78 220h2M77 221h2M76 222h2M75 223h1M74 224h1M73 225h1M11 280h1M10 281h1M8 282h2M8 283h1M6 284h2" stroke="#df1f1b"/></g>
<rect x="1761.5" y="3145" width="444" height="442" fill="#fff" stroke="#8c8c8c" stroke-width="1.15"/>
<g transform="translate(1762.5 3146.75) scale(1.5)" fill="none" stroke-width="1" shape-rendering="crispEdges"><path d="M50 152h1M174 158h1M217 174h1M130 176h1m89 0h1m1 0h1M217 177h1M238 180h1M176 181h1M238 182h1M192 183h1m7 0h1m30 0h1M99 184h1m103 0h1m12 0h1m14 0h1m10 0h1M227 185h1m7 0h1M89 186h1m119 0h1m9 0h2M97 187h1m109 0h1m5 0h1m1 0h1m1 0h1m2 0h1M64 188h1m119 0h1m25 0h1m3 0h1m2 0h1m7 0h1m10 0h1M89 189h1m6 0h1m50 0h1m9 0h1m51 0h1m3 0h1m1 0h1m3 0h1M167 190h1m47 0h1m4 0h1m1 0h1m2 0h1m5 0h1m6 0h1M201 191h1m21 0h1m1 0h1m4 0h2m2 0h1m3 0h2M180 192h1m19 0h1m9 0h2m9 0h2m4 0h2m5 0h2m2 0h1m3 0h1M4 193h1m121 0h1m6 0h1m28 0h1m40 0h1m4 0h1m4 0h1m1 0h1m1 0h1m1 0h3m7 0h1m5 0h1m2 0h2m2 0h1M61 194h1m43 0h1m93 0h1m2 0h2m1 0h2m2 0h2m2 0h2m1 0h1m1 0h1m1 0h1m7 0h2m3 0h1m3 0h1M51 195h1m60 0h1m50 0h2m24 0h1m1 0h1m3 0h1m6 0h2m3 0h1m3 0h1m6 0h4m1 0h1m1 0h1m2 0h2m1 0h3m14 0h1M102 196h1m19 0h1m72 0h1m7 0h1m1 0h1m2 0h1m2 0h2m1 0h1m1 0h3m1 0h1m1 0h1m1 0h2m1 0h1m4 0h2m2 0h1m2 0h3M59 197h1m34 0h1m20 0h1m77 0h1m4 0h1m5 0h1m2 0h1m6 0h1m7 0h1m2 0h1m3 0h1m1 0h1m1 0h1m2 0h2m3 0h1m2 0h1M76 198h1m13 0h1m5 0h1m74 0h1m23 0h1m5 0h1m3 0h1m3 0h2m1 0h1m1 0h1m2 0h1m1 0h2m2 0h4m3 0h3m1 0h3m1 0h2m1 0h1m2 0h1M99 199h1m5 0h1m18 0h1m59 0h1m11 0h2m6 0h1m2 0h1m1 0h2m1 0h4m1 0h5m1 0h2m1 0h1m2 0h3m2 0h1m11 0h1M127 200h1m60 0h1m10 0h1m2 0h2m1 0h1m1 0h1m3 0h8m4 0h3m4 0h1m1 0h2m2 0h1m2 0h1m1 0h1M0 201h1m18 0h1m8 0h1m98 0h1m5 0h1m63 0h2m3 0h2m1 0h2m4 0h3m1 0h1m1 0h4m2 0h2m1 0h1m1 0h1m1 0h1m1 0h1m1 0h1m1 0h2m1 0h1m4 0h1M0 202h1m1 0h1m2 0h1m71 0h1m61 0h1m8 0h1m27 0h1m8 0h1m6 0h1m9 0h2m2 0h1m1 0h2m2 0h4m1 0h1m1 0h1m1 0h1m2 0h2m1 0h1m1 0h1m2 0h4m1 0h1m1 0h1m1 0h2M0 203h1m96 0h1m2 0h1m53 0h1m34 0h1m13 0h2m4 0h4m1 0h2m1 0h1m1 0h8m3 0h2m2 0h1m2 0h1M0 204h1m42 0h1m112 0h1m31 0h2m5 0h1m7 0h4m2 0h5m1 0h1m2 0h3m1 0h9m2 0h5m2 0h1m1 0h1m1 0h1m2 0h1M45 205h1m107 0h1m3 0h2m21 0h2m6 0h3m5 0h1m1 0h5m1 0h1m1 0h4m2 0h6m1 0h4m1 0h1m1 0h2m1 0h6m2 0h2m1 0h1m5 0h1M105 206h1m23 0h2m10 0h1m35 0h1m8 0h1m10 0h1m1 0h2m2 0h2m1 0h1m1 0h2m1 0h4m1 0h12m1 0h1m1 0h1m2 0h1m1 0h3m1 0h1m1 0h1m6 0h1M0 207h1m46 0h1m66 0h1m4 0h1m27 0h1m41 0h3m2 0h1m1 0h1m1 0h18m3 0h3m1 0h14m2 0h1m2 0h1M55 208h1m31 0h1m30 0h1m10 0h1m2 0h1m4 0h1m10 0h2m11 0h1m23 0h2m1 0h1m1 0h2m1 0h8m1 0h3m1 0h5m1 0h6m1 0h2m2 0h1m1 0h1m1 0h5m1 0h6m4 0h1M12 209h1m46 0h1m55 0h1m5 0h1m10 0h1m3 0h1m7 0h1m2 0h1m14 0h1m24 0h2m3 0h1m1 0h31m1 0h1m1 0h1m1 0h6m4 0h3M106 210h1m10 0h1m7 0h1m59 0h1m1 0h1m2 0h1m1 0h13m1 0h6m2 0h20m3 0h1m1 0h3m1 0h2M0 211h1m75 0h1m11 0h1m8 0h1m11 0h1m7 0h1m8 0h1m3 0h1m1 0h1m17 0h1m19 0h1m4 0h1m7 0h2m4 0h4m1 0h32m1 0h3m2 0h4m3 0h1m3 0h2M10 212h1m71 0h1m21 0h1m16 0h1m39 0h1m7 0h1m1 0h1m10 0h1m1 0h2m1 0h4m1 0h2m1 0h10m1 0h2m1 0h1m1 0h1m2 0h12m1 0h2m1 0h7m2 0h3m1 0h1m2 0h1M16 213h1m35 0h1m24 0h1m7 0h1m9 0h1m5 0h1m3 0h1m3 0h1m4 0h1m8 0h1m26 0h2m1 0h1m15 0h1m7 0h1m2 0h1m1 0h1m2 0h4m1 0h13m1 0h4m1 0h7m2 0h2m1 0h9m1 0h2m1 0h2m1 0h3m1 0h3m1 0h1m1 0h1M118 214h2m13 0h2m6 0h1m15 0h1m3 0h1m10 0h1m3 0h1m2 0h3m2 0h1m1 0h5m2 0h5m1 0h15m1 0h6m1 0h5m1 0h2m1 0h6m1 0h2m1 0h3m4 0h1M0 215h1m32 0h1m37 0h1m4 0h1m21 0h1m17 0h1m30 0h1m6 0h1m14 0h1m6 0h6m1 0h1m1 0h3m1 0h5m1 0h1m1 0h2m1 0h4m1 0h6m1 0h5m1 0h2m1 0h20m3 0h2M73 216h1m30 0h1m2 0h1m1 0h1m5 0h1m4 0h1m1 0h1m6 0h2m7 0h1m8 0h1m1 0h1m5 0h1m2 0h1m18 0h3m1 0h1m2 0h2m1 0h8m1 0h2m1 0h11m1 0h1m1 0h28m6 0h1M0 217h1m67 0h1m5 0h1m1 0h1m47 0h1m8 0h1m21 0h1m15 0h2m2 0h2m1 0h19m1 0h4m2 0h8m1 0h9m1 0h5m1 0h12m1 0h2M0 218h1m3 0h1m12 0h1m105 0h3m2 0h1m11 0h1m16 0h1m5 0h1m2 0h1m6 0h3m1 0h39m1 0h5m1 0h4m1 0h7m1 0h5m1 0h4M0 219h1m41 0h1m8 0h1m29 0h1m21 0h1m6 0h1m12 0h1m8 0h1m6 0h1m18 0h1m9 0h1m5 0h2m1 0h5m1 0h2m1 0h27m1 0h4m1 0h1m1 0h2m1 0h7m2 0h4m1 0h1m1 0h1m2 0h1m1 0h1M29 220h1m33 0h1m21 0h1m30 0h1m3 0h1m19 0h1m12 0h1m15 0h1m1 0h1m2 0h1m1 0h9m1 0h7m1 0h5m2 0h1m1 0h31m1 0h2m1 0h7M6 221h1m18 0h1m2 0h1m31 0h1m1 0h1m9 0h1m19 0h1m33 0h1m21 0h1m1 0h1m5 0h1m15 0h23m1 0h7m1 0h33m1 0h8M0 222h1m13 0h1m55 0h1m31 0h2m20 0h1m4 0h2m6 0h1m2 0h2m2 0h1m12 0h1m8 0h1m2 0h1m2 0h8m2 0h5m1 0h46m1 0h7m1 0h4M29 223h1m48 0h1m21 0h1m3 0h1m1 0h1m14 0h1m2 0h1m5 0h1m19 0h1m3 0h2m9 0h1m3 0h3m2 0h3m1 0h5m1 0h4m1 0h14m1 0h3m1 0h24m1 0h3m1 0h5m3 0h1M12 224h1m8 0h1m52 0h1m11 0h1m14 0h1m11 0h1m1 0h1m13 0h1m6 0h1m6 0h1m1 0h1m13 0h1m3 0h1m7 0h2m1 0h2m3 0h3m1 0h14m1 0h15m1 0h21m3 0h1m1 0h3m1 0h2M0 225h1m7 0h1m12 0h1m8 0h1m69 0h2m4 0h1m7 0h2m9 0h1m3 0h1m5 0h1m11 0h1m1 0h1m3 0h1m3 0h1m6 0h2m4 0h4m2 0h30m1 0h28m1 0h2m1 0h1m1 0h5M14 226h1m2 0h1m33 0h1m9 0h1m23 0h1m20 0h1m5 0h3m4 0h2m20 0h1m9 0h1m8 0h1m2 0h1m2 0h4m1 0h1m1 0h15m1 0h47m1 0h6m1 0h1M0 227h1m13 0h1m97 0h1m21 0h1m2 0h1m14 0h1m1 0h1m6 0h1m7 0h71m1 0h5M74 228h1m45 0h1m3 0h1m14 0h1m6 0h1m20 0h10m1 0h52m1 0h11m1 0h2m1 0h1M0 229h1m74 0h1m19 0h1m18 0h1m5 0h1m11 0h1m3 0h1m3 0h1m2 0h1m2 0h1m6 0h1m11 0h1m1 0h3m2 0h10m1 0h11m1 0h22m1 0h28M4 230h1m5 0h1m86 0h3m14 0h1m3 0h1m3 0h2m5 0h2m1 0h1m5 0h1m3 0h1m23 0h5m1 0h6m1 0h39m1 0h28M0 231h1m12 0h1m3 0h1m34 0h1m38 0h1m6 0h1m6 0h1m1 0h1m1 0h1m2 0h1m3 0h1m4 0h1m22 0h1m5 0h1m11 0h1m2 0h3m2 0h5m1 0h4m1 0h43m2 0h14m2 0h3M93 232h1m8 0h1m3 0h1m1 0h1m11 0h1m3 0h1m11 0h1m2 0h1m2 0h1m6 0h1m9 0h1m1 0h1m1 0h5m3 0h1m2 0h2m2 0h62m1 0h1m1 0h2m1 0h1m1 0h1M0 233h1m35 0h1m70 0h1m2 0h1m7 0h1m4 0h1m1 0h1m2 0h1m13 0h3m1 0h3m7 0h1m1 0h5m1 0h4m1 0h9m1 0h10m1 0h51m2 0h2m2 0h1M13 234h1m1 0h1m40 0h1m10 0h1m24 0h1m10 0h1m9 0h1m6 0h1m4 0h2m1 0h2m5 0h1m8 0h1m1 0h1m6 0h1m4 0h1m2 0h8m1 0h3m1 0h64m1 0h7m2 0h1M0 235h1m48 0h1m30 0h1m8 0h1m2 0h1m7 0h1m8 0h1m2 0h1m11 0h1m2 0h1m1 0h2m16 0h1m12 0h1m1 0h9m1 0h15m1 0h12m1 0h3m1 0h34m1 0h4m1 0h2M15 236h1m55 0h1m34 0h1m13 0h1m2 0h1m2 0h1m5 0h1m2 0h1m2 0h1m5 0h1m7 0h1m6 0h1m2 0h7m1 0h8m1 0h58m1 0h1m1 0h5m1 0h1M0 237h1m24 0h1m41 0h1m26 0h1m2 0h1m12 0h1m1 0h2m1 0h1m8 0h3m1 0h1m1 0h1m2 0h1m16 0h1m2 0h1m1 0h1m1 0h2m1 0h13m1 0h65m2 0h6M19 238h1m40 0h1m28 0h1m3 0h1m5 0h1m7 0h1m5 0h1m4 0h1m1 0h1m3 0h1m12 0h2m4 0h2m1 0h1m6 0h1m2 0h1m4 0h2m1 0h26m1 0h55M0 239h1m40 0h1m33 0h1m11 0h1m6 0h1m1 0h1m4 0h1m2 0h1m5 0h1m3 0h1m3 0h1m1 0h1m15 0h1m6 0h1m12 0h4m1 0h10m2 0h6m1 0h47m1 0h18m2 0h1M0 240h1m5 0h1m1 0h1m9 0h1m15 0h1m52 0h1m20 0h1m2 0h1m4 0h4m1 0h1m1 0h1m2 0h1m1 0h1m7 0h1m1 0h2m4 0h1m1 0h1m5 0h1m6 0h8m2 0h74m1 0h4M0 241h1m1 0h1m39 0h1m37 0h1m1 0h2m8 0h1m15 0h1m8 0h1m13 0h1m7 0h1m3 0h2m1 0h2m1 0h1m5 0h2m2 0h2m2 0h2m1 0h71m2 0h4m1 0h2m1 0h1M20 242h1m20 0h1m34 0h1m25 0h1m13 0h2m1 0h1m2 0h1m1 0h1m4 0h1m9 0h1m4 0h1m3 0h4m5 0h1m1 0h11m1 0h70m1 0h3m1 0h2m3 0h1M0 243h1m17 0h1m34 0h1m16 0h1m9 0h1m9 0h1m11 0h1m2 0h1m4 0h1m1 0h1m8 0h1m12 0h1m2 0h1m2 0h2m1 0h1m2 0h1m2 0h1m2 0h1m1 0h1m1 0h2m2 0h6m1 0h76m2 0h3m22 0h1M69 244h1m13 0h2m3 0h2m15 0h1m2 0h1m4 0h3m4 0h1m1 0h1m6 0h2m4 0h1m9 0h1m1 0h1m2 0h1m1 0h1m3 0h1m4 0h8m1 0h12m1 0h63m2 0h1M0 245h1m40 0h1m2 0h1m19 0h1m18 0h1m5 0h1m4 0h1m2 0h3m15 0h3m3 0h2m1 0h2m1 0h5m1 0h2m4 0h1m3 0h1m3 0h1m3 0h1m4 0h5m1 0h78m1 0h2m1 0h3M19 246h1m8 0h1m15 0h1m14 0h1m17 0h1m10 0h1m3 0h3m1 0h1m4 0h3m2 0h2m2 0h3m2 0h1m1 0h1m1 0h1m3 0h1m3 0h1m1 0h1m1 0h1m2 0h1m3 0h3m3 0h2m3 0h2m2 0h1m3 0h1m1 0h5m2 0h14m1 0h59m1 0h5M3 247h1m21 0h1m9 0h1m6 0h1m37 0h1m9 0h2m7 0h1m1 0h1m4 0h1m7 0h1m11 0h1m9 0h1m1 0h3m2 0h1m1 0h1m9 0h2m1 0h3m1 0h78m2 0h4M0 248h1m18 0h1m4 0h1m6 0h1m2 0h1m11 0h1m6 0h1m18 0h1m8 0h1m7 0h2m3 0h1m11 0h1m4 0h1m1 0h1m3 0h1m1 0h1m3 0h1m7 0h1m1 0h1m1 0h1m1 0h1m5 0h1m2 0h3m1 0h1m3 0h13m1 0h68m1 0h8M2 249h1m12 0h1m38 0h2m25 0h1m15 0h2m2 0h2m2 0h2m6 0h4m3 0h2m5 0h1m4 0h1m5 0h4m6 0h1m5 0h2m1 0h10m1 0h5m1 0h72M0 250h1m5 0h1m57 0h1m11 0h1m3 0h1m5 0h1m8 0h1m3 0h1m1 0h1m1 0h1m5 0h1m4 0h1m2 0h1m1 0h1m2 0h1m1 0h3m3 0h2m2 0h1m1 0h1m7 0h1m1 0h1m8 0h9m1 0h77m2 0h3M0 251h1m9 0h1m4 0h1m15 0h1m27 0h1m2 0h1m4 0h1m4 0h1m15 0h2m1 0h1m2 0h1m1 0h1m3 0h1m2 0h1m4 0h1m7 0h1m1 0h1m3 0h2m4 0h1m6 0h1m1 0h1m1 0h2m1 0h1m3 0h3m5 0h2m1 0h9m1 0h9m1 0h65m1 0h1M0 252h1m1 0h1m13 0h1m34 0h1m11 0h1m28 0h1m3 0h1m3 0h2m5 0h1m2 0h1m4 0h2m3 0h6m8 0h2m1 0h1m1 0h3m2 0h3m3 0h1m2 0h1m1 0h11m1 0h80M54 253h1m14 0h1m6 0h1m1 0h1m15 0h1m3 0h1m5 0h2m1 0h1m1 0h2m3 0h2m5 0h1m1 0h1m1 0h1m1 0h1m1 0h2m1 0h1m4 0h1m1 0h1m1 0h1m13 0h16m1 0h2m1 0h69M0 254h1m4 0h1m20 0h1m7 0h1m1 0h1m16 0h1m1 0h1m1 0h1m21 0h1m3 0h1m6 0h3m3 0h1m2 0h1m4 0h2m3 0h3m7 0h3m1 0h1m2 0h2m7 0h3m4 0h2m1 0h1m1 0h2m2 0h1m1 0h19m1 0h71M0 255h1m15 0h1m4 0h1m10 0h1m57 0h1m2 0h2m1 0h1m8 0h1m2 0h2m2 0h1m2 0h1m4 0h2m2 0h1m1 0h6m5 0h2m3 0h3m3 0h1m3 0h1m1 0h92m3 0h1M0 256h1m24 0h1m17 0h1m2 0h1m30 0h1m2 0h1m14 0h2m9 0h1m1 0h1m1 0h2m7 0h1m1 0h1m6 0h2m1 0h1m4 0h1m1 0h1m4 0h3m1 0h1m3 0h1m3 0h85m1 0h3M0 257h1m43 0h1m18 0h1m11 0h1m13 0h2m10 0h1m6 0h1m1 0h6m7 0h2m3 0h2m9 0h1m2 0h3m1 0h2m1 0h1m2 0h1m1 0h87m1 0h2M0 258h1m1 0h1m2 0h1m7 0h1m13 0h1m58 0h1m9 0h1m1 0h1m2 0h1m4 0h2m1 0h1m4 0h4m1 0h1m2 0h2m1 0h3m2 0h1m1 0h2m1 0h2m3 0h1m2 0h3m1 0h1m2 0h4m1 0h5m1 0h83m1 0h1M0 259h1m6 0h1m10 0h1m11 0h1m4 0h1m34 0h1m9 0h1m12 0h1m2 0h1m3 0h1m6 0h1m2 0h1m1 0h2m1 0h2m2 0h1m2 0h3m3 0h1m3 0h1m2 0h1m4 0h3m2 0h1m2 0h2m1 0h1m1 0h1m2 0h7m1 0h2m1 0h72m1 0h1M0 260h1m13 0h1m2 0h1m8 0h1m7 0h1m35 0h1m6 0h1m8 0h1m11 0h2m4 0h2m3 0h1m1 0h4m1 0h2m1 0h1m1 0h3m2 0h2m1 0h2m1 0h2m1 0h2m1 0h4m1 0h3m1 0h1m1 0h3m1 0h86m2 0h4M0 261h1m22 0h1m27 0h1m17 0h1m2 0h1m13 0h1m3 0h1m4 0h3m1 0h1m1 0h1m2 0h1m1 0h1m1 0h2m3 0h2m1 0h1m1 0h4m1 0h2m1 0h1m1 0h2m1 0h5m1 0h1m2 0h2m2 0h1m5 0h13m1 0h81M0 262h1m3 0h1m30 0h1m29 0h1m4 0h1m8 0h1m2 0h1m11 0h2m4 0h2m1 0h1m3 0h2m5 0h1m2 0h2m1 0h2m2 0h1m1 0h1m1 0h1m3 0h1m1 0h1m3 0h2m1 0h1m2 0h1m3 0h1m2 0h88m1 0h1M0 263h1m11 0h2m37 0h1m13 0h1m3 0h1m12 0h1m4 0h1m1 0h1m5 0h1m1 0h1m1 0h1m2 0h2m1 0h3m1 0h2m6 0h1m1 0h1m3 0h4m1 0h2m1 0h2m4 0h1m3 0h1m1 0h2m5 0h1m1 0h1m1 0h86m1 0h1m2 0h1M0 264h1m3 0h1m15 0h1m22 0h1m33 0h1m4 0h1m1 0h1m11 0h2m2 0h1m1 0h1m2 0h4m1 0h1m4 0h1m2 0h3m1 0h1m1 0h2m1 0h1m1 0h1m1 0h1m1 0h2m4 0h1m3 0h3m4 0h9m1 0h79m1 0h3M0 265h1m41 0h1m32 0h1m3 0h1m1 0h1m8 0h1m5 0h1m5 0h2m2 0h1m1 0h1m4 0h4m7 0h2m5 0h2m3 0h1m2 0h1m1 0h1m1 0h1m3 0h1m1 0h92m3 0h1M0 266h1m49 0h1m18 0h1m14 0h1m1 0h1m2 0h2m3 0h2m2 0h1m3 0h1m1 0h1m1 0h2m3 0h1m3 0h5m3 0h1m2 0h1m2 0h4m2 0h1m1 0h1m2 0h1m1 0h1m2 0h3m1 0h2m2 0h86M0 267h1m6 0h1m17 0h1m24 0h1m4 0h1m9 0h1m18 0h1m2 0h1m6 0h2m3 0h1m3 0h4m4 0h1m3 0h1m1 0h1m1 0h1m4 0h1m2 0h1m5 0h2m1 0h1m2 0h1m4 0h1m3 0h1m1 0h12m1 0h78M0 268h1m57 0h2m5 0h1m1 0h1m25 0h2m7 0h1m2 0h1m2 0h2m3 0h2m1 0h1m4 0h1m2 0h3m2 0h1m4 0h3m1 0h1m1 0h5m2 0h1m2 0h1m1 0h1m2 0h2m1 0h1m1 0h74m1 0h2m1 0h2M0 269h1m13 0h1m41 0h1m2 0h1m17 0h1m6 0h1m1 0h1m6 0h1m1 0h1m5 0h2m1 0h1m1 0h4m3 0h1m2 0h1m4 0h1m2 0h1m2 0h2m1 0h1m1 0h1m1 0h2m2 0h2m1 0h2m2 0h6m1 0h13m1 0h71m4 0h1M0 270h1m30 0h1m13 0h1m7 0h1m10 0h1m16 0h1m7 0h2m3 0h2m2 0h1m2 0h1m3 0h2m1 0h1m2 0h2m1 0h2m2 0h1m4 0h2m3 0h1m2 0h2m1 0h1m1 0h1m2 0h2m5 0h1m3 0h13m1 0h64m2 0h4m1 0h1m1 0h1M0 271h1m2 0h1m7 0h1m20 0h1m3 0h1m8 0h1m13 0h1m4 0h2m8 0h1m3 0h1m3 0h1m1 0h1m3 0h2m1 0h4m4 0h2m3 0h3m1 0h1m1 0h1m1 0h3m6 0h1m1 0h4m2 0h2m1 0h1m6 0h1m4 0h2m2 0h3m3 0h8m1 0h3m1 0h70m2 0h2M0 272h1m38 0h1m1 0h1m19 0h1m11 0h1m1 0h1m5 0h1m8 0h2m3 0h2m1 0h1m1 0h1m1 0h2m1 0h1m1 0h2m1 0h2m1 0h1m3 0h1m2 0h2m1 0h1m2 0h1m2 0h1m1 0h2m3 0h3m2 0h1m3 0h2m4 0h84m1 0h2M0 273h1m1 0h1m44 0h1m5 0h1m16 0h1m7 0h1m7 0h1m3 0h1m2 0h1m4 0h1m5 0h2m5 0h3m2 0h1m1 0h1m1 0h4m1 0h1m1 0h2m1 0h1m1 0h4m1 0h1m1 0h3m3 0h1m5 0h82m1 0h2m3 0h1M0 274h1m56 0h1m4 0h1m13 0h1m2 0h1m4 0h1m1 0h3m1 0h1m4 0h1m2 0h4m2 0h1m2 0h1m2 0h2m1 0h2m4 0h1m1 0h1m4 0h2m1 0h5m3 0h1m2 0h1m3 0h1m2 0h1m2 0h8m1 0h10m1 0h64M0 275h1m16 0h1m5 0h1m1 0h1m15 0h1m3 0h1m11 0h1m8 0h2m13 0h1m4 0h1m3 0h1m1 0h1m4 0h1m3 0h2m3 0h2m9 0h1m1 0h3m1 0h2m3 0h1m1 0h2m2 0h1m2 0h1m2 0h3m1 0h1m1 0h1m4 0h1m1 0h1m1 0h9m1 0h64m1 0h4m3 0h1M0 276h1m25 0h1m10 0h1m3 0h1m1 0h1m8 0h1m1 0h1m9 0h1m12 0h1m5 0h1m6 0h1m1 0h1m1 0h1m2 0h1m3 0h1m2 0h2m1 0h1m1 0h1m1 0h2m4 0h1m1 0h2m1 0h3m1 0h1m2 0h1m1 0h2m4 0h5m7 0h1m2 0h1m1 0h1m1 0h13m1 0h2m1 0h58m2 0h1m3 0h1M0 277h1m29 0h1m21 0h1m3 0h1m10 0h1m8 0h1m2 0h1m3 0h1m1 0h1m3 0h2m2 0h1m2 0h1m3 0h1m3 0h1m3 0h6m3 0h1m2 0h7m3 0h2m1 0h1m1 0h3m4 0h1m2 0h1m1 0h3m1 0h81m3 0h2m4 0h1M0 278h2m2 0h1m74 0h1m4 0h1m4 0h1m2 0h1m1 0h1m2 0h4m2 0h4m3 0h1m1 0h4m1 0h1m5 0h1m1 0h1m2 0h2m3 0h1m1 0h2m1 0h1m1 0h1m3 0h2m4 0h1m2 0h3m1 0h4m1 0h72M0 279h1m4 0h1m1 0h1m21 0h1m1 0h1m16 0h1m1 0h1m19 0h1m2 0h1m3 0h1m4 0h1m6 0h2m3 0h1m2 0h1m3 0h1m2 0h2m3 0h1m1 0h2m3 0h3m3 0h3m3 0h1m2 0h4m1 0h4m1 0h1m3 0h1m1 0h2m3 0h4m1 0h3m2 0h13m1 0h48m1 0h2m1 0h1m2 0h1m6 0h1M0 280h2m36 0h1m10 0h1m3 0h1m15 0h1m7 0h2m1 0h1m2 0h1m2 0h4m1 0h3m1 0h1m1 0h1m4 0h2m1 0h1m1 0h1m2 0h1m2 0h1m1 0h3m2 0h1m1 0h1m1 0h5m2 0h2m2 0h1m4 0h1m1 0h6m6 0h2m1 0h13m1 0h11m1 0h42m6 0h1m6 0h1M0 281h1m27 0h1m33 0h1m6 0h1m16 0h1m3 0h1m1 0h1m2 0h1m1 0h3m1 0h4m2 0h1m2 0h1m1 0h2m2 0h1m2 0h3m1 0h1m3 0h1m6 0h5m1 0h1m3 0h2m1 0h1m1 0h1m2 0h2m1 0h5m1 0h7m1 0h49m1 0h4m1 0h1m1 0h2m6 0h1m2 0h1M0 282h1m26 0h1m36 0h1m15 0h1m1 0h2m3 0h1m1 0h1m3 0h1m1 0h2m2 0h4m1 0h2m1 0h2m2 0h3m1 0h1m1 0h1m1 0h2m1 0h1m2 0h7m2 0h1m1 0h1m1 0h1m1 0h2m5 0h1m2 0h1m1 0h5m1 0h5m1 0h2m1 0h56m1 0h3m2 0h1M0 283h1m1 0h1m30 0h1m7 0h1m17 0h1m29 0h2m2 0h1m2 0h2m2 0h6m4 0h1m2 0h1m1 0h3m2 0h3m2 0h3m2 0h1m1 0h1m2 0h5m1 0h1m2 0h2m1 0h1m1 0h2m6 0h3m1 0h11m1 0h49m1 0h3m2 0h1m3 0h1M0 284h1m38 0h1m20 0h1m2 0h1m14 0h1m6 0h1m4 0h1m4 0h2m3 0h2m1 0h1m1 0h3m2 0h3m1 0h1m2 0h1m2 0h1m2 0h2m4 0h1m1 0h1m1 0h1m1 0h2m2 0h2m1 0h9m1 0h1m3 0h1m1 0h2m1 0h7m1 0h2m1 0h13m1 0h34m1 0h2M0 285h1m3 0h2m11 0h1m4 0h1m5 0h1m41 0h1m11 0h4m2 0h3m2 0h2m2 0h1m2 0h2m2 0h1m1 0h2m2 0h2m2 0h5m1 0h2m6 0h1m2 0h1m1 0h3m1 0h1m2 0h1m2 0h1m5 0h2m7 0h13m1 0h43m1 0h3m1 0h4M0 286h1m3 0h1m7 0h1m8 0h1m4 0h1m6 0h1m2 0h1m11 0h1m14 0h1m1 0h1m1 0h1m2 0h1m2 0h1m1 0h1m9 0h1m3 0h1m1 0h2m7 0h3m1 0h1m1 0h2m5 0h2m1 0h2m1 0h1m1 0h2m5 0h6m3 0h5m2 0h1m4 0h2m1 0h1m5 0h5m1 0h1m1 0h3m1 0h49m2 0h3m14 0h1M0 287h1m6 0h1m26 0h1m12 0h1m15 0h1m2 0h1m1 0h1m3 0h1m7 0h1m2 0h2m5 0h1m5 0h1m1 0h2m1 0h4m3 0h1m7 0h4m1 0h4m1 0h3m2 0h1m1 0h2m1 0h4m2 0h3m1 0h1m1 0h4m2 0h1m2 0h8m1 0h6m1 0h41m1 0h7m4 0h1M0 288h1m10 0h1m24 0h1m2 0h1m8 0h1m1 0h1m18 0h1m11 0h1m5 0h1m2 0h1m2 0h1m1 0h1m2 0h1m1 0h1m2 0h3m2 0h2m4 0h4m5 0h1m4 0h1m1 0h3m2 0h1m1 0h1m1 0h1m2 0h1m1 0h2m3 0h1m2 0h2m4 0h2m2 0h58m4 0h1M0 289h1m16 0h1m17 0h2m17 0h1m6 0h1m9 0h1m10 0h1m9 0h1m1 0h3m2 0h1m1 0h1m1 0h1m1 0h1m2 0h4m1 0h1m3 0h1m5 0h1m1 0h1m5 0h3m3 0h1m1 0h2m2 0h1m2 0h1m2 0h3m4 0h3m1 0h1m1 0h2m2 0h3m1 0h22m1 0h16m1 0h7m1 0h2m2 0h1M0 290h1m18 0h1m59 0h3m1 0h1m1 0h1m6 0h1m4 0h1m4 0h1m1 0h1m1 0h1m2 0h1m1 0h1m5 0h2m5 0h1m2 0h2m1 0h1m1 0h1m4 0h3m1 0h2m4 0h1m13 0h1m2 0h5m1 0h1m1 0h4m2 0h1m1 0h4m3 0h3m3 0h9m1 0h3m2 0h1m1 0h4m1 0h2m6 0h1M0 291h1m3 0h1m92 0h1m16 0h1m20 0h1m26 0h1m8 0h1m9 0h1m1 0h1m1 0h1m4 0h1m1 0h1m2 0h1m3 0h2m2 0h1m2 0h1m4 0h1M113 292h1m5 0h1m41 0h1m24 0h1" stroke="#3247a4"/><path d="M213 205h2m1 0h1M208 206h2m1 0h3m2 0h8m1 0h1M203 207h12m4 0h2m2 0h4M202 208h3m1 0h5m1 0h6m1 0h2m2 0h1m3 0h3M197 209h4m1 0h23m1 0h1m1 0h1m1 0h1M193 210h4m1 0h7m1 0h2m1 0h3m2 0h14m2 0h3M191 211h2m2 0h31m1 0h3m2 0h2M190 212h1m1 0h2m1 0h10m1 0h2m1 0h1m1 0h1m2 0h12m1 0h2m1 0h6M187 213h1m3 0h12m1 0h4m1 0h7m2 0h2m1 0h9m1 0h2m1 0h2M186 214h5m2 0h5m1 0h15m1 0h6m1 0h5m1 0h2m1 0h3m1 0h2M185 215h2m2 0h5m1 0h1m1 0h2m1 0h4m1 0h6m1 0h5m1 0h2m1 0h13m1 0h1m1 0h2M184 216h2m1 0h8m1 0h2m1 0h11m1 0h1m1 0h26M181 217h16m1 0h4m2 0h8m1 0h9m1 0h5m1 0h12M181 218h1m2 0h32m1 0h5m1 0h4m1 0h7m1 0h4M178 219h4m2 0h1m1 0h27m1 0h4m1 0h1m1 0h2m1 0h7m2 0h4m1 0h1M177 220h8m1 0h7m1 0h5m2 0h1m1 0h31m1 0h2m1 0h3M177 221h18m1 0h7m1 0h33m1 0h4M175 222h1m1 0h3m2 0h5m1 0h46m1 0h7M174 223h1m3 0h5m1 0h4m1 0h14m1 0h3m1 0h24m1 0h3m1 0h5M174 224h2m3 0h3m1 0h14m1 0h15m1 0h21m3 0h1m1 0h3M172 225h2m2 0h30m1 0h28m1 0h2m1 0h1m1 0h2M174 226h14m1 0h47m1 0h6M171 227h69m1 0h3M169 228h1m1 0h6m1 0h52m1 0h11m1 0h1M168 229h2m2 0h10m1 0h11m1 0h22m1 0h25M168 230h3m1 0h6m1 0h39m1 0h25M166 231h1m3 0h5m1 0h4m1 0h43m2 0h14m2 0h1M166 232h2m3 0h1m2 0h2m2 0h62m1 0h1M166 233h2m1 0h9m1 0h10m1 0h51m2 0h1M165 234h4m1 0h3m1 0h64m1 0h4M163 235h8m1 0h15m1 0h12m1 0h3m1 0h34m1 0h4M163 236h6m1 0h8m1 0h58m1 0h1m1 0h3M162 237h11m1 0h65m2 0h3M164 238h26m1 0h52M161 239h10m2 0h6m1 0h47m1 0h16M160 240h7m2 0h74M160 241h1m2 0h2m1 0h71m2 0h4M159 242h2m1 0h8m1 0h70m1 0h2M160 243h6m1 0h76M161 244h8m1 0h12m1 0h61M159 245h2m1 0h78m1 0h2M157 246h1m1 0h5m2 0h14m1 0h59m1 0h3M158 247h1m1 0h1m1 0h78m2 0h1M156 248h11m1 0h68m1 0h7M157 249h10m1 0h5m1 0h70M156 250h8m1 0h77M155 251h1m1 0h9m1 0h9m1 0h65M155 252h11m1 0h76M155 253h16m1 0h2m1 0h68M154 254h18m1 0h70M154 255h2m1 0h86M155 256h85m1 0h1M154 257h1m1 0h85M155 258h5m1 0h80M0 259h1m155 0h7m1 0h2m1 0h72m1 0h1M0 260h1m152 0h86M0 261h1m152 0h10m1 0h77M0 262h1m153 0h85m1 0h1M0 263h1m153 0h85M0 264h1m152 0h6m1 0h79M0 265h1m152 0h86M0 266h1m152 0h85M0 267h1m152 0h9m1 0h75M0 268h1m154 0h2m1 0h1m1 0h74m1 0h2M0 269h1m152 0h12m1 0h71M0 270h1m153 0h1m1 0h7m1 0h64m2 0h4m1 0h1M0 271h1m153 0h8m1 0h3m1 0h68M0 272h1m152 0h3m1 0h77M0 273h1m153 0h79M0 274h1m153 0h3m2 0h10m1 0h63M0 275h1m154 0h9m1 0h64m1 0h2M0 276h1m155 0h13m1 0h2m1 0h58M0 277h1m155 0h75M0 278h1m156 0h4m1 0h67M0 279h1m156 0h3m2 0h13m1 0h48m1 0h2m1 0h1M0 280h1m156 0h13m1 0h11m1 0h42M0 281h1m156 0h3m1 0h7m1 0h49m1 0h4m1 0h1M0 282h1m157 0h5m1 0h2m1 0h56m1 0h1M0 283h1m157 0h2m1 0h11m1 0h49m1 0h1M0 284h1m158 0h1m1 0h7m1 0h2m1 0h13m1 0h34m1 0h2M0 285h1m158 0h2m1 0h9m1 0h43m1 0h3m1 0h1M0 286h1m161 0h1m1 0h1m1 0h3m1 0h49M0 287h1m161 0h1m1 0h1m1 0h6m1 0h41m1 0h3M0 288h1m162 0h54M0 289h1m165 0h1m1 0h1m1 0h22m1 0h16m1 0h3M0 290h1m192 0h1m3 0h1" stroke="#2450b2"/><path d="M210 217h1M204 218h1M202 219h1m3 0h1m3 0h2m3 0h1m1 0h1m1 0h1m4 0h1M196 220h1m6 0h1m2 0h2m1 0h1m1 0h2m1 0h2m6 0h1M191 221h1m6 0h4m2 0h3m1 0h2m2 0h4m1 0h2m2 0h2m2 0h1m1 0h1M194 222h1m4 0h14m1 0h2m1 0h6m1 0h3m2 0h1M190 223h1m3 0h9m1 0h3m1 0h13m2 0h5m2 0h1M187 224h1m4 0h1m2 0h2m2 0h14m1 0h18M189 225h17m1 0h18m1 0h5m3 0h1M187 226h1m2 0h1m1 0h40M185 227h1m1 0h2m1 0h42m2 0h1M179 228h1m3 0h1m1 0h45m1 0h3M183 229h11m1 0h22m1 0h15m1 0h1m2 0h1M180 230h1m1 0h1m1 0h34m1 0h14m1 0h3M182 231h2m1 0h39m2 0h11M179 232h5m1 0h53M177 233h1m2 0h1m1 0h7m1 0h46M179 234h59M175 235h1m1 0h10m1 0h12m1 0h3m1 0h34M175 236h1m1 0h1m1 0h57M170 237h1m5 0h63M174 238h16m1 0h48M174 239h5m1 0h47m1 0h11m1 0h1M170 240h1m2 0h66M169 241h2m1 0h65M171 242h68m1 0h1M169 243h71M167 244h2m1 0h12m1 0h56M167 245h1m3 0h67M168 246h12m1 0h58M166 247h73M166 248h1m1 0h68m1 0h3M168 249h5m1 0h66M165 250h1m1 0h71M167 251h9m1 0h62M167 252h73M165 253h6m1 0h2m1 0h64M164 254h3m1 0h4m1 0h66M163 255h1m1 0h74M163 256h1m1 0h73M163 257h75M163 258h75M164 259h2m1 0h71M163 260h76M164 261h72M164 262h74M0 263h1m163 0h73M0 264h1m163 0h72M0 265h1m158 0h1m3 0h72M0 266h1m162 0h72M0 267h1m159 0h1m3 0h70M0 268h1m161 0h72M0 269h1m160 0h1m2 0h1m1 0h68M0 270h1m163 0h64m2 0h3M0 271h1m160 0h1m2 0h2m1 0h66M0 272h1m164 0h66M0 273h1m164 0h1m1 0h63M0 274h1m163 0h5m1 0h59M0 275h1m164 0h1m1 0h62M0 276h1m166 0h2m1 0h2m1 0h55M0 277h1m163 0h1m1 0h61M0 278h1m165 0h4m1 0h55M0 279h1m166 0h8m1 0h48M0 280h1m167 0h2m1 0h11m1 0h40M0 281h1m168 0h1m1 0h1m1 0h45m1 0h3M0 282h1m168 0h1m1 0h49m1 0h1M0 283h1m169 0h2m1 0h47M0 284h1m171 0h13m1 0h32M0 285h1m172 0h42M0 286h1m173 0h3m1 0h36M0 287h1m175 0h34m3 0h1M0 288h1m175 0h1m2 0h31M0 289h1m183 0h1m1 0h1m1 0h4m1 0h7m1 0h1" stroke="#1d66c8"/><path d="M200 230h1m10 0h1M209 231h1M204 232h1m1 0h2m1 0h1m1 0h1m1 0h1M202 233h2m3 0h9m1 0h2M196 234h1m1 0h1m1 0h7m1 0h11M196 235h4m1 0h3m1 0h13m1 0h1m1 0h1m1 0h1M192 236h29m2 0h1m4 0h1M190 237h1m1 0h1m1 0h29m1 0h2M187 238h3m1 0h34m1 0h2M185 239h1m2 0h39m1 0h2M187 240h41m2 0h1M182 241h1m2 0h45M183 242h48M181 243h1m2 0h49M181 244h1m1 0h49M179 245h1m1 0h52M177 246h3m1 0h52M181 247h52M178 248h2m1 0h54M178 249h55M178 250h56M178 251h56M177 252h58M173 253h1m1 0h1m1 0h57M174 254h61M175 255h1m1 0h57M173 256h1m1 0h1m1 0h58M171 257h1m2 0h4m1 0h55m1 0h1M174 258h60M175 259h1m1 0h58M174 260h60M174 261h60M171 262h1m2 0h1m1 0h57M172 263h62M174 264h58M173 265h60M173 266h1m1 0h57M173 267h58M173 268h1m1 0h56M175 269h55M0 270h1m173 0h54M0 271h1m173 0h56M0 272h1m173 0h54M0 273h1m173 0h54M0 274h1m173 0h1m1 0h51M0 275h1m174 0h50M0 276h1m174 0h1m1 0h47M0 277h1m176 0h47M0 278h1m174 0h1m2 0h45M0 279h1m177 0h44M0 280h1m179 0h2m1 0h37M0 281h1m180 0h37M0 282h1m178 0h1m2 0h35M0 283h1m181 0h33M0 284h1m185 0h29M0 285h1m182 0h3m1 0h25M0 286h1m186 0h1m1 0h1m1 0h13m1 0h4M0 287h1m191 0h1m2 0h3m1 0h3m2 0h1M0 288h1M0 289h1" stroke="#2190da"/><path d="M204 239h1M199 240h1m5 0h1m1 0h1m2 0h2m1 0h2M198 241h1m1 0h2m6 0h3m1 0h2m1 0h2m1 0h2m1 0h1M197 242h1m2 0h2m1 0h15m2 0h3M193 243h1m3 0h4m1 0h9m1 0h10M194 244h1m1 0h26m1 0h2M191 245h1m2 0h30M193 246h2m1 0h30m1 0h1M190 247h1m1 0h36M191 248h36M188 249h41M186 250h43M186 251h43M185 252h45M184 253h46M185 254h46M183 255h46M183 256h1m1 0h46M180 257h1m2 0h47m1 0h1M182 258h1m1 0h48M182 259h49M180 260h51M181 261h50M181 262h50M178 263h1m2 0h50M180 264h50M180 265h50M178 266h1m1 0h49M180 267h50M179 268h49M179 269h49M181 270h46M181 271h46M181 272h45M181 273h44M180 274h44M182 275h42M182 276h41M182 277h2m1 0h37M183 278h3m1 0h33M186 279h33M186 280h31M186 281h28M186 282h1m3 0h24M190 283h17m1 0h1m1 0h1M194 284h12m1 0h1M196 285h1m2 0h1m1 0h2m1 0h1" stroke="#2cbfcf"/><path d="M215 246h1M204 247h1m5 0h1m4 0h1m2 0h1M206 248h1m3 0h5m1 0h2M197 249h1m2 0h2m1 0h15m1 0h1m1 0h1M200 250h2m1 0h18M197 251h26M195 252h1m1 0h28m1 0h1M196 253h1m1 0h27M193 254h1m1 0h30M192 255h35M190 256h1m2 0h35M190 257h38M190 258h38M188 259h40M188 260h41M187 261h2m1 0h38M189 262h40M187 263h41M187 264h2m1 0h38M185 265h2m1 0h39M187 266h40M185 267h42M187 268h39M184 269h41M186 270h39M186 271h38M185 272h1m1 0h37M187 273h36M186 274h37M188 275h33M189 276h30M191 277h27M189 278h1m2 0h25M191 279h25M192 280h1m1 0h19M195 281h14m1 0h2M194 282h1m1 0h1m2 0h1m1 0h3m1 0h3M202 283h2" stroke="#3fc27e"/><path d="M212 250h1M207 251h1m3 0h1m3 0h1M205 252h1m3 0h3m1 0h1m2 0h2M202 253h1m2 0h15M204 254h17M201 255h1m1 0h19M198 256h3m1 0h22M199 257h25M198 258h26M196 259h29M193 260h1m3 0h28m1 0h1M195 261h31M194 262h31M194 263h31M193 264h33M191 265h1m1 0h32M193 266h32M191 267h4m1 0h29M191 268h34M191 269h1m1 0h31M192 270h32M191 271h31M192 272h30M193 273h28M193 274h27M194 275h25M193 276h25M197 277h19m1 0h1M196 278h19M198 279h1m2 0h9m1 0h1m1 0h1M201 280h1m1 0h3m1 0h1M205 281h1" stroke="#5fc63a"/><path d="M212 254h1m3 0h1M209 255h2M208 256h5m1 0h2m3 0h1M206 257h2m1 0h8m1 0h2M204 258h17M201 259h19M201 260h1m1 0h18m1 0h1M200 261h1m1 0h18M199 262h1m1 0h22M199 263h24M199 264h24M198 265h26M198 266h25M197 267h26M195 268h1m1 0h25M198 269h24M195 270h1m1 0h24M198 271h23M198 272h22M198 273h21M198 274h20M200 275h18M199 276h1m1 0h14M202 277h11M204 278h1m1 0h1m2 0h2" stroke="#b4dc2a"/><path d="M215 258h1M210 259h1m3 0h2M210 260h9M207 261h12M207 262h14M206 263h15M204 264h17M203 265h18M203 266h19M203 267h18M203 268h18M202 269h19M203 270h17M203 271h17M201 272h1m1 0h16M203 273h15M204 274h13M205 275h10M208 276h5" stroke="#f3e41d"/><path d="M212 260h1M210 261h1m2 0h1M210 262h8M207 263h12M206 264h13M205 265h15M205 266h14M204 267h16M204 268h16M204 269h15M204 270h15M204 271h15M205 272h13M205 273h12M207 274h8M209 275h3m1 0h1" stroke="#f8a71b"/><path d="M213 262h1M209 263h8M206 264h1m1 0h9M207 265h11M206 266h12M206 267h13M206 268h12M206 269h13M205 270h13M206 271h11M206 272h11M207 273h8M210 274h4" stroke="#ef521e"/><path d="M212 263h1M211 264h1m1 0h3M208 265h9M208 266h2m1 0h5M207 267h10M206 268h1m2 0h7M207 269h7m1 0h2M206 270h11M207 271h6m1 0h3M207 272h9M209 273h3m1 0h1M212 274h1" stroke="#df1f1b"/></g>
<rect x="550.5" y="3735" width="443" height="442.5" fill="#fff" stroke="#8c8c8c" stroke-width="1.15"/>
<g transform="translate(551.5 3736.75) scale(1.5)" fill="none" stroke-width="1" shape-rendering="crispEdges"><path d="M164 3h1M154 41h1M122 49h1M152 60h1M174 72h1M230 76h1M113 85h1M199 87h1M185 100h1M189 103h1M91 115h1M226 117h1M103 118h1M157 119h1M112 121h1m15 0h1m124 0h1M122 123h1M87 124h1M71 125h1m27 0h1m2 0h1m1 0h1M76 126h1m11 0h1m4 0h1m8 0h1m38 0h1M83 127h1m15 0h1m12 0h1M74 128h2m11 0h1m2 0h1m14 0h1M82 129h1m3 0h3m5 0h1m4 0h1m1 0h1m4 0h2M78 130h1m1 0h1m3 0h1m1 0h1m1 0h1m1 0h1m2 0h1m1 0h3m1 0h1m7 0h1m2 0h1m2 0h1m22 0h1M72 131h1m5 0h1m1 0h1m2 0h2m3 0h2m1 0h1m4 0h3m1 0h1m12 0h1m21 0h1M66 132h1m1 0h1m3 0h1m1 0h2m2 0h3m4 0h1m4 0h2m2 0h5m1 0h1m1 0h1m1 0h1m1 0h1m2 0h1M62 133h1m10 0h1m4 0h2m1 0h1m3 0h1m1 0h5m1 0h2m1 0h1m2 0h4m8 0h1m1 0h1m9 0h1M65 134h1m1 0h1m2 0h1m1 0h1m2 0h1m1 0h2m2 0h3m1 0h2m8 0h1m1 0h1m2 0h5m2 0h1m1 0h1m3 0h1m4 0h1M68 135h1m6 0h1m2 0h2m1 0h4m1 0h1m5 0h2m1 0h3m2 0h1m1 0h1m1 0h4m2 0h2m1 0h1m2 0h2m5 0h1M57 136h1m3 0h1m7 0h1m3 0h1m4 0h5m1 0h1m5 0h6m1 0h1m1 0h2m1 0h2m1 0h1m1 0h2m1 0h1m1 0h1m3 0h1m2 0h1M53 137h1m19 0h1m1 0h1m1 0h1m1 0h3m1 0h1m1 0h2m1 0h1m1 0h1m4 0h5m1 0h1m1 0h1m3 0h1m1 0h2m4 0h1m10 0h1M58 138h1m6 0h2m3 0h4m2 0h4m2 0h1m1 0h1m2 0h1m1 0h2m1 0h1m2 0h4m1 0h3m2 0h3m1 0h1m2 0h1m2 0h2m2 0h1m6 0h1m7 0h1m3 0h1M58 139h1m9 0h1m10 0h2m1 0h1m1 0h6m1 0h2m1 0h1m1 0h2m1 0h2m1 0h4m1 0h1m1 0h1m3 0h1m1 0h5m3 0h1m1 0h1m3 0h1M58 140h1m4 0h1m1 0h8m1 0h1m1 0h1m1 0h2m2 0h1m1 0h1m1 0h2m1 0h4m4 0h1m1 0h1m2 0h2m1 0h1m4 0h2m1 0h3m1 0h1m2 0h3M45 141h1m15 0h1m1 0h3m2 0h1m2 0h2m1 0h1m1 0h1m1 0h2m1 0h1m2 0h5m5 0h1m2 0h1m3 0h1m1 0h1m2 0h3m1 0h3m1 0h1m1 0h1m2 0h2m1 0h1M48 142h1m8 0h1m2 0h1m1 0h1m4 0h3m3 0h4m2 0h1m4 0h1m3 0h6m2 0h1m6 0h1m1 0h3m2 0h1m1 0h2m1 0h2m1 0h5m2 0h1m1 0h1M49 143h1m9 0h1m1 0h2m3 0h1m5 0h1m1 0h1m3 0h2m1 0h1m1 0h2m5 0h1m1 0h1m4 0h5m1 0h2m1 0h1m1 0h2m7 0h1m5 0h2M52 144h1m6 0h1m1 0h2m1 0h1m2 0h1m8 0h1m1 0h3m2 0h3m2 0h2m1 0h1m1 0h2m1 0h1m2 0h2m1 0h1m2 0h1m1 0h1m1 0h1m1 0h1m1 0h2m3 0h1m1 0h2m3 0h1M52 145h1m5 0h3m1 0h3m1 0h2m3 0h1m1 0h1m5 0h1m3 0h2m2 0h3m1 0h1m7 0h1m2 0h5m1 0h1m1 0h3m3 0h1m4 0h1m3 0h1m3 0h1M55 146h1m4 0h2m1 0h2m2 0h1m4 0h1m2 0h2m1 0h3m1 0h3m1 0h1m1 0h1m1 0h2m10 0h1m1 0h1m2 0h1m2 0h2m4 0h2m1 0h1m2 0h1m6 0h1M44 147h1m5 0h1m2 0h1m9 0h1m1 0h5m1 0h1m5 0h2m3 0h3m1 0h2m3 0h1m3 0h2m9 0h1m1 0h3m2 0h2m4 0h1m2 0h1m1 0h2m6 0h1M47 148h1m9 0h7m1 0h1m1 0h2m1 0h1m1 0h4m2 0h1m1 0h1m1 0h3m1 0h1m1 0h4m3 0h1m1 0h2m4 0h4m1 0h2m1 0h1m2 0h3m1 0h4m3 0h1m9 0h1M53 149h2m3 0h3m3 0h6m2 0h2m2 0h1m1 0h2m2 0h5m1 0h1m1 0h4m1 0h2m3 0h3m4 0h2m2 0h2m4 0h2m4 0h1m1 0h1m1 0h2m1 0h1M43 150h1m9 0h2m5 0h1m2 0h1m1 0h1m1 0h2m1 0h2m1 0h1m1 0h1m1 0h4m1 0h3m2 0h1m3 0h3m3 0h2m2 0h1m1 0h3m1 0h1m1 0h3m6 0h1m3 0h3m3 0h1m16 0h1M46 151h1m12 0h2m7 0h1m4 0h1m1 0h1m2 0h1m2 0h1m3 0h4m1 0h2m1 0h1m1 0h7m3 0h5m2 0h1m1 0h1m1 0h1m4 0h3m1 0h1m14 0h1M33 152h1m6 0h1m15 0h1m3 0h1m2 0h1m6 0h1m1 0h2m1 0h4m1 0h1m3 0h3m1 0h2m1 0h3m2 0h1m3 0h5m2 0h1m2 0h2m1 0h1m1 0h1m3 0h1m3 0h2m2 0h1m2 0h1M45 153h1m11 0h2m3 0h1m2 0h1m1 0h1m3 0h5m2 0h4m1 0h3m1 0h1m1 0h2m1 0h2m1 0h1m1 0h4m1 0h3m1 0h2m1 0h1m1 0h2m1 0h2m6 0h1m1 0h1m4 0h1M58 154h1m7 0h1m1 0h1m1 0h1m4 0h1m2 0h1m1 0h5m1 0h2m3 0h1m3 0h1m2 0h1m1 0h1m1 0h2m2 0h1m1 0h1m9 0h1m2 0h1m1 0h1m1 0h3m1 0h1m1 0h1M54 155h1m2 0h1m4 0h3m4 0h1m6 0h1m1 0h4m1 0h1m1 0h1m2 0h2m1 0h2m1 0h3m3 0h1m1 0h1m2 0h2m2 0h1m2 0h1m3 0h1m5 0h1m1 0h1m6 0h1M51 156h2m2 0h6m2 0h2m1 0h1m1 0h1m2 0h1m1 0h5m4 0h1m1 0h2m2 0h2m1 0h2m1 0h1m1 0h3m1 0h3m2 0h1m2 0h1m3 0h1m4 0h1m2 0h3m1 0h2m7 0h1M54 157h1m3 0h1m3 0h1m1 0h3m4 0h3m1 0h1m1 0h1m1 0h3m2 0h2m4 0h6m1 0h2m2 0h1m2 0h1m2 0h1m1 0h1m1 0h2m1 0h1m1 0h1m2 0h1m1 0h2m5 0h1M53 158h2m2 0h3m1 0h1m4 0h1m1 0h1m2 0h1m1 0h2m3 0h1m1 0h1m2 0h3m3 0h5m1 0h1m1 0h6m1 0h1m1 0h2m7 0h5m3 0h1m1 0h1m2 0h1M51 159h1m3 0h1m2 0h6m12 0h2m1 0h1m2 0h1m1 0h2m1 0h1m3 0h4m2 0h3m1 0h1m6 0h1m2 0h2m2 0h3m2 0h1m1 0h1m3 0h1m2 0h1m5 0h1M54 160h1m5 0h1m1 0h1m1 0h3m3 0h4m1 0h1m1 0h2m2 0h1m1 0h4m1 0h2m3 0h1m4 0h1m1 0h3m5 0h3m2 0h1m1 0h2m1 0h1m6 0h1M60 161h1m1 0h3m1 0h2m1 0h1m1 0h1m3 0h1m2 0h1m2 0h3m1 0h1m3 0h1m6 0h8m2 0h2m2 0h1m2 0h1m6 0h2M61 162h1m1 0h1m1 0h1m2 0h1m1 0h1m1 0h1m1 0h2m2 0h2m1 0h1m1 0h3m2 0h3m3 0h2m1 0h2m1 0h1m2 0h1m1 0h4m2 0h1m2 0h1m1 0h1m3 0h5m19 0h1M62 163h2m1 0h1m1 0h2m7 0h1m2 0h3m2 0h2m2 0h1m1 0h1m5 0h1m3 0h1m1 0h1m1 0h1m1 0h1m2 0h2m3 0h1m1 0h4m5 0h1M48 164h1m13 0h1m3 0h1m4 0h1m3 0h1m3 0h1m2 0h2m3 0h3m1 0h2m3 0h1m1 0h2m2 0h1m1 0h1m1 0h5m2 0h2m2 0h1m4 0h1m1 0h3m5 0h1M55 165h1m7 0h1m1 0h1m1 0h4m1 0h1m1 0h1m2 0h1m3 0h2m2 0h1m6 0h2m2 0h2m1 0h3m5 0h3m1 0h1m5 0h1m1 0h1m13 0h1M68 166h2m1 0h1m3 0h1m3 0h2m2 0h4m1 0h4m1 0h9m1 0h1m2 0h1m1 0h1m6 0h2m1 0h1m2 0h2m3 0h1m11 0h1M62 167h2m1 0h2m1 0h1m2 0h4m1 0h3m2 0h1m5 0h1m1 0h4m1 0h1m1 0h2m2 0h1m3 0h2m1 0h1m1 0h2m1 0h1m3 0h1m8 0h1M64 168h3m1 0h1m2 0h1m1 0h6m1 0h3m1 0h6m3 0h1m1 0h1m3 0h1m1 0h4m2 0h1m2 0h1M65 169h2m1 0h2m1 0h4m1 0h2m1 0h3m3 0h1m1 0h4m1 0h1m1 0h1m5 0h1m4 0h1m3 0h1m15 0h1M57 170h1m3 0h2m1 0h3m1 0h1m1 0h3m1 0h1m1 0h9m1 0h1m1 0h1m2 0h1m8 0h2m1 0h1m4 0h2m3 0h1m1 0h1m3 0h1M57 171h1m8 0h3m3 0h3m1 0h7m2 0h4m1 0h2m3 0h3m3 0h1m1 0h3m3 0h1m6 0h1m5 0h1m5 0h1M61 172h1m1 0h2m3 0h2m3 0h1m2 0h3m1 0h4m1 0h1m2 0h5m2 0h4m1 0h1m1 0h2m2 0h1m5 0h3m12 0h1m32 0h1M56 173h1m6 0h1m3 0h1m2 0h1m1 0h4m1 0h1m1 0h1m2 0h3m1 0h2m3 0h3m3 0h3m1 0h2m5 0h1M62 174h2m2 0h1m1 0h5m2 0h1m1 0h5m1 0h2m1 0h3m1 0h1m1 0h4m3 0h1m5 0h2m27 0h1M60 175h1m3 0h1m3 0h2m1 0h1m1 0h5m2 0h1m1 0h3m1 0h8m1 0h1m1 0h2m9 0h1m19 0h1M61 176h2m2 0h2m1 0h2m1 0h4m1 0h3m1 0h4m1 0h3m2 0h4m1 0h2m12 0h1m4 0h1M61 177h1m1 0h1m2 0h2m2 0h5m1 0h1m1 0h2m2 0h3m1 0h6m1 0h2m10 0h1m6 0h1m11 0h1M56 178h1m3 0h1m2 0h1m2 0h1m1 0h1m1 0h10m1 0h1m1 0h3m1 0h2m1 0h1m17 0h1m10 0h1m2 0h1m17 0h1M59 179h1m1 0h1m1 0h6m2 0h1m1 0h2m1 0h2m1 0h4m2 0h1m1 0h1m1 0h3m12 0h1m22 0h1M59 180h7m3 0h1m1 0h19m1 0h2m1 0h1m2 0h2m3 0h1m15 0h1M58 181h1m1 0h1m2 0h1m1 0h1m2 0h6m1 0h10m1 0h2m1 0h6m3 0h1m1 0h2m2 0h1m15 0h1m2 0h1M51 182h1m2 0h1m2 0h1m5 0h4m1 0h1m1 0h1m2 0h1m1 0h3m1 0h13m2 0h1m5 0h2M53 183h1m1 0h1m1 0h1m1 0h1m1 0h5m1 0h1m1 0h5m1 0h3m2 0h7m1 0h3m2 0h6m1 0h1m11 0h1M57 184h1m3 0h8m1 0h16m1 0h8m3 0h1m4 0h1m29 0h1M55 185h2m3 0h1m1 0h3m1 0h5m1 0h6m1 0h13m1 0h2m2 0h2m3 0h1m5 0h1m9 0h1m15 0h1m1 0h1M57 186h26m1 0h6m1 0h4m2 0h1m5 0h1m2 0h1M52 187h2m1 0h3m1 0h11m1 0h10m1 0h4m1 0h11m4 0h1m1 0h1m18 0h1M51 188h1m1 0h2m1 0h1m1 0h1m2 0h7m1 0h7m1 0h5m1 0h1m1 0h6m1 0h8m1 0h1m3 0h1m6 0h1m14 0h1M51 189h2m1 0h1m1 0h2m1 0h10m1 0h16m1 0h4m1 0h4m1 0h3m1 0h2m2 0h1m31 0h1M54 190h1m1 0h2m1 0h4m2 0h1m1 0h9m1 0h1m1 0h11m1 0h1m1 0h3m4 0h1m1 0h1m1 0h1m1 0h1m25 0h1M49 191h1m2 0h2m1 0h1m1 0h1m1 0h1m1 0h45m3 0h1m8 0h1M48 192h1m2 0h2m2 0h2m2 0h4m1 0h24m1 0h5m1 0h2m1 0h3m1 0h1m2 0h1m2 0h1m2 0h1M50 193h1m2 0h2m1 0h1m1 0h1m1 0h1m1 0h4m1 0h17m1 0h12m2 0h4m1 0h1m1 0h1m2 0h2M40 194h1m8 0h1m2 0h1m1 0h2m1 0h42m1 0h1m1 0h3m28 0h1M42 195h1m11 0h2m2 0h1m1 0h2m1 0h2m1 0h3m1 0h9m1 0h8m1 0h1m1 0h6m1 0h4m1 0h2m5 0h1M50 196h1m5 0h2m1 0h10m1 0h5m1 0h7m2 0h17m1 0h3m26 0h1M49 197h1m3 0h1m1 0h1m1 0h9m1 0h4m3 0h18m1 0h5m2 0h2m3 0h2m2 0h1M48 198h1m1 0h1m1 0h5m1 0h5m1 0h17m1 0h7m1 0h14m1 0h1m2 0h1m2 0h1m1 0h1m16 0h1M44 199h1m7 0h1m1 0h4m1 0h4m1 0h4m1 0h12m4 0h1m1 0h7m1 0h3m1 0h3m1 0h4m2 0h1M49 200h1m1 0h1m1 0h1m1 0h3m1 0h19m1 0h4m1 0h7m1 0h2m1 0h8m1 0h1m2 0h2m12 0h1m22 0h1M49 201h3m1 0h4m1 0h7m2 0h11m1 0h2m1 0h21m3 0h2m24 0h1M47 202h3m2 0h2m1 0h2m1 0h16m1 0h6m1 0h22m1 0h4M45 203h2m1 0h1m2 0h1m2 0h4m1 0h6m2 0h2m1 0h5m1 0h13m1 0h3m1 0h2m1 0h8m1 0h1m2 0h1M47 204h1m4 0h1m4 0h1m1 0h6m1 0h8m1 0h10m1 0h10m1 0h7m1 0h1m1 0h1m33 0h1M47 205h1m1 0h2m1 0h2m1 0h3m1 0h28m1 0h4m1 0h3m1 0h4m2 0h1m3 0h3m4 0h1M42 206h1m5 0h1m5 0h36m2 0h5m1 0h7m1 0h2M45 207h3m1 0h3m2 0h1m3 0h33m2 0h1m1 0h6m1 0h1m7 0h1M46 208h1m1 0h4m1 0h3m1 0h2m1 0h7m1 0h6m1 0h9m1 0h1m1 0h2m1 0h17m2 0h2M48 209h1m1 0h26m1 0h3m1 0h20m2 0h6m1 0h1m1 0h2m19 0h1M41 210h1m3 0h1m3 0h1m3 0h1m1 0h9m1 0h19m1 0h16m1 0h4m21 0h1m13 0h1m6 0h1M46 211h2m4 0h11m1 0h2m3 0h13m1 0h8m1 0h3m1 0h3m1 0h6m2 0h2m7 0h1m18 0h1M37 212h1m2 0h1m5 0h2m2 0h5m1 0h20m1 0h3m1 0h2m1 0h1m1 0h12m1 0h3m1 0h1m1 0h1m2 0h1m1 0h1M41 213h1m7 0h1m1 0h1m5 0h1m1 0h14m1 0h3m1 0h25m1 0h1m1 0h2m3 0h1m3 0h1m13 0h1M46 214h2m2 0h5m1 0h13m1 0h2m1 0h1m1 0h9m1 0h15m1 0h5m1 0h2m16 0h1M45 215h2m1 0h4m3 0h2m1 0h8m1 0h8m1 0h7m1 0h1m2 0h4m1 0h1m1 0h9m1 0h6m2 0h1m30 0h1M44 216h1m2 0h1m2 0h2m1 0h3m2 0h3m1 0h22m1 0h15m1 0h3m3 0h5m9 0h1M42 217h1m4 0h1m3 0h2m1 0h4m1 0h11m1 0h1m2 0h5m1 0h3m1 0h26m1 0h1m2 0h1M42 218h1m1 0h1m3 0h2m1 0h1m1 0h9m1 0h21m1 0h16m1 0h7m1 0h1M44 219h1m1 0h1m2 0h5m1 0h1m1 0h21m1 0h13m1 0h1m1 0h5m1 0h5m1 0h1m1 0h2m2 0h1m1 0h1m5 0h1M40 220h1m3 0h2m3 0h2m1 0h1m1 0h15m1 0h36m1 0h2m17 0h1M45 221h2m3 0h9m1 0h10m1 0h2m1 0h2m1 0h10m1 0h5m1 0h4m1 0h8m4 0h1m8 0h1M46 222h1m2 0h1m3 0h3m1 0h4m1 0h2m1 0h24m1 0h2m1 0h5m1 0h3m2 0h2m3 0h1m1 0h1m2 0h1M44 223h1m2 0h1m2 0h1m1 0h1m2 0h4m1 0h15m1 0h1m1 0h4m1 0h3m1 0h1m1 0h17m1 0h1m3 0h1m1 0h2m24 0h1M43 224h2m3 0h5m2 0h4m1 0h1m1 0h12m1 0h7m1 0h1m1 0h18m1 0h4m1 0h1m2 0h2m24 0h1m141 0h1M37 225h1m5 0h2m2 0h1m1 0h3m1 0h11m1 0h1m1 0h2m1 0h23m1 0h7m1 0h3m1 0h3m1 0h1m1 0h1m1 0h1m32 0h1M44 226h1m2 0h3m3 0h5m1 0h3m1 0h9m1 0h8m1 0h8m1 0h15m1 0h3m1 0h1m1 0h1M46 227h14m1 0h15m1 0h7m2 0h5m1 0h19m1 0h1m3 0h1m1 0h1m25 0h1M41 228h1m2 0h5m2 0h1m1 0h1m1 0h14m1 0h6m1 0h7m1 0h7m1 0h4m1 0h12m3 0h2M41 229h1m4 0h2m1 0h2m1 0h1m2 0h1m1 0h4m1 0h1m1 0h4m1 0h2m1 0h4m1 0h17m1 0h3m1 0h10M42 230h2m1 0h1m2 0h2m1 0h4m1 0h8m1 0h7m1 0h33m1 0h1m1 0h1m1 0h1m3 0h1m7 0h1M43 231h1m1 0h1m1 0h2m1 0h2m1 0h16m1 0h7m1 0h11m1 0h4m1 0h2m1 0h2m1 0h2m1 0h2m3 0h3m6 0h1M44 232h2m4 0h8m1 0h11m1 0h22m1 0h5m1 0h6m2 0h2m1 0h3M44 233h4m3 0h3m1 0h1m2 0h1m1 0h8m1 0h3m1 0h5m1 0h6m1 0h9m1 0h11m1 0h1m1 0h2m7 0h1M44 234h1m2 0h1m1 0h2m1 0h28m1 0h5m1 0h9m2 0h5m2 0h1m2 0h1m3 0h2M43 235h2m1 0h2m1 0h1m3 0h4m2 0h2m1 0h20m1 0h1m2 0h23m1 0h2m2 0h1M40 236h1m4 0h4m1 0h5m1 0h1m2 0h19m1 0h9m1 0h3m1 0h9m3 0h1m1 0h1m6 0h1M41 237h1m1 0h5m1 0h1m1 0h3m3 0h3m1 0h5m1 0h12m2 0h6m1 0h6m1 0h9m1 0h4m2 0h1M40 238h1m4 0h2m1 0h1m2 0h1m2 0h1m1 0h21m1 0h5m1 0h5m1 0h6m1 0h10m1 0h1m6 0h1m2 0h1m141 0h1M44 239h1m4 0h2m1 0h2m1 0h23m2 0h9m1 0h7m1 0h4m1 0h1m1 0h2m2 0h1m5 0h1M45 240h1m2 0h2m2 0h3m1 0h2m2 0h6m1 0h23m1 0h1m2 0h2m1 0h9m1 0h1m4 0h1M50 241h1m1 0h2m2 0h3m1 0h10m1 0h7m2 0h4m1 0h4m1 0h15m1 0h6m2 0h1M38 242h1m9 0h1m2 0h1m1 0h2m1 0h1m4 0h32m1 0h9m2 0h5m3 0h1M45 243h1m5 0h1m2 0h3m1 0h7m1 0h1m1 0h1m1 0h24m1 0h6m3 0h7m5 0h1m14 0h1M41 244h1m1 0h1m3 0h1m1 0h4m2 0h2m1 0h6m1 0h1m1 0h8m1 0h5m1 0h1m2 0h1m1 0h2m1 0h5m1 0h10m1 0h1m1 0h2m3 0h1M44 245h1m2 0h2m2 0h5m2 0h2m2 0h13m1 0h5m1 0h2m1 0h1m1 0h10m1 0h3m1 0h1m1 0h2m1 0h4M43 246h2m1 0h1m1 0h1m1 0h10m1 0h40m1 0h2m2 0h1m4 0h1M42 247h1m4 0h1m2 0h2m1 0h1m1 0h2m1 0h2m1 0h11m1 0h2m1 0h12m1 0h2m1 0h11m1 0h4m4 0h1M42 248h1m4 0h5m4 0h3m2 0h1m1 0h7m2 0h2m1 0h29m1 0h1m1 0h2m1 0h1m4 0h1M44 249h2m2 0h1m1 0h8m2 0h5m2 0h5m1 0h25m1 0h3m1 0h1m1 0h3m2 0h1M44 250h1m1 0h2m1 0h1m2 0h1m2 0h3m1 0h3m1 0h1m1 0h1m1 0h8m1 0h3m1 0h3m1 0h8m1 0h3m1 0h5m4 0h1m1 0h2m3 0h1M39 251h1m7 0h2m3 0h3m2 0h2m3 0h21m1 0h2m1 0h13m1 0h1m1 0h3m1 0h2m1 0h1m2 0h1M44 252h1m1 0h1m2 0h1m1 0h2m1 0h4m1 0h5m1 0h4m1 0h21m1 0h10m1 0h1m3 0h2m8 0h1m7 0h1m24 0h1M45 253h3m4 0h5m1 0h16m1 0h9m1 0h16m4 0h1m1 0h1m16 0h1m1 0h1M47 254h1m3 0h2m2 0h1m2 0h9m1 0h10m1 0h13m2 0h5m1 0h1m1 0h2m2 0h3m1 0h2M44 255h1m1 0h1m2 0h1m2 0h1m1 0h1m1 0h2m1 0h1m1 0h11m1 0h19m1 0h8m1 0h1m1 0h2m1 0h1m3 0h1m19 0h1M45 256h2m1 0h3m1 0h4m1 0h3m1 0h16m1 0h4m1 0h11m1 0h13m3 0h1M46 257h1m3 0h2m1 0h2m1 0h1m1 0h17m1 0h17m1 0h7m1 0h2m2 0h1m1 0h2m6 0h1M37 258h1m8 0h1m4 0h2m1 0h38m1 0h4m1 0h2M47 259h1m7 0h2m1 0h3m1 0h4m1 0h26m2 0h6m1 0h1m3 0h1m4 0h1M52 260h3m3 0h3m2 0h7m1 0h5m1 0h6m1 0h14m1 0h3m1 0h1m2 0h3m10 0h1M44 261h2m1 0h2m8 0h3m2 0h3m1 0h5m1 0h18m1 0h5m1 0h1m1 0h2m5 0h1m1 0h1M32 262h1m14 0h1m2 0h1m2 0h1m2 0h1m1 0h3m2 0h1m1 0h10m1 0h14m1 0h2m1 0h5m1 0h1m4 0h3M46 263h1m2 0h1m1 0h1m1 0h5m1 0h3m1 0h1m1 0h2m2 0h24m1 0h1m2 0h1m1 0h1m1 0h1m1 0h1m1 0h1M48 264h1m2 0h2m3 0h2m1 0h2m2 0h14m1 0h10m1 0h6m1 0h1m3 0h2m4 0h1M46 265h1m1 0h2m1 0h2m2 0h1m6 0h2m1 0h5m1 0h1m1 0h7m1 0h11m1 0h4m1 0h2m1 0h2m4 0h1M51 266h1m3 0h3m1 0h3m1 0h12m1 0h18m1 0h2m2 0h1m3 0h2m1 0h1m22 0h1M53 267h4m1 0h2m1 0h1m1 0h2m2 0h2m1 0h3m1 0h3m1 0h3m2 0h2m2 0h8m1 0h1m1 0h3m1 0h3m39 0h1M47 268h2m2 0h1m1 0h2m1 0h2m1 0h1m2 0h1m1 0h1m1 0h1m1 0h5m1 0h3m1 0h2m1 0h13m1 0h2m2 0h1m1 0h1m1 0h1m5 0h1M50 269h1m1 0h2m1 0h1m1 0h2m1 0h7m1 0h4m1 0h10m2 0h8m6 0h1m4 0h1m1 0h1m92 0h1M53 270h1m4 0h1m1 0h2m1 0h2m1 0h1m1 0h6m1 0h2m1 0h6m1 0h2m1 0h4m1 0h1m1 0h1m2 0h6m6 0h1M51 271h1m1 0h2m4 0h4m5 0h2m1 0h11m1 0h2m3 0h2m2 0h1m1 0h2m4 0h2m1 0h1m10 0h1M55 272h2m2 0h2m2 0h1m2 0h2m1 0h1m2 0h2m1 0h5m2 0h6m1 0h1m2 0h3m1 0h2m2 0h1M51 273h1m2 0h1m2 0h1m1 0h1m2 0h6m2 0h2m1 0h3m1 0h1m2 0h2m1 0h1m1 0h4m3 0h2m1 0h2m3 0h3m1 0h1M48 274h1m4 0h1m5 0h4m1 0h3m1 0h4m1 0h1m1 0h3m3 0h3m2 0h4m1 0h2m1 0h2m1 0h1m1 0h1m1 0h1M58 275h1m2 0h1m1 0h5m1 0h3m1 0h6m2 0h6m2 0h1m1 0h2m2 0h2m2 0h1m1 0h1M57 276h2m2 0h1m2 0h1m1 0h2m1 0h1m1 0h1m1 0h1m1 0h1m3 0h1m1 0h1m1 0h3m1 0h2m4 0h2m1 0h2m1 0h1M50 277h1m5 0h1m1 0h2m1 0h1m1 0h1m1 0h1m3 0h1m1 0h7m1 0h6m2 0h2m1 0h2m1 0h2m1 0h2m5 0h1M50 278h1m3 0h1m6 0h2m2 0h5m2 0h1m1 0h5m1 0h5m1 0h3m1 0h1m6 0h3m2 0h1m5 0h1M59 279h1m3 0h1m3 0h1m4 0h3m2 0h1m1 0h1m2 0h2m1 0h4m1 0h1m3 0h1m1 0h2m4 0h1M57 280h1m2 0h1m3 0h1m1 0h1m1 0h2m2 0h1m1 0h1m1 0h1m1 0h2m1 0h4m1 0h1m2 0h1m2 0h1m2 0h1m2 0h1M55 281h2m1 0h1m1 0h1m3 0h2m1 0h1m7 0h3m3 0h1m2 0h1m1 0h1m4 0h3m2 0h1m18 0h1M56 282h1m5 0h1m2 0h1m2 0h5m1 0h6m3 0h1m2 0h3m3 0h1m2 0h1m2 0h1M55 283h1m5 0h1m1 0h1m1 0h5m1 0h2m1 0h1m1 0h1m1 0h1m1 0h3m10 0h1M56 284h1m7 0h1m1 0h3m2 0h1m2 0h2m2 0h3m2 0h1m1 0h2m1 0h1m2 0h1m3 0h1m1 0h1m9 0h1M58 285h2m4 0h1m3 0h1m2 0h1m1 0h3m2 0h5m1 0h1m2 0h1m1 0h1m2 0h1M55 286h1m4 0h1m3 0h1m4 0h1m3 0h8m4 0h3m1 0h2m16 0h1M64 287h2m5 0h1m1 0h1m2 0h1m2 0h1m2 0h3m3 0h1m6 0h1m8 0h1M68 288h2m2 0h1m3 0h1m3 0h2m4 0h2m7 0h1m44 0h1M65 289h1m2 0h2m2 0h1m1 0h1m2 0h1m1 0h1m1 0h2m1 0h1m6 0h1m37 0h1M63 290h1m4 0h1m5 0h1m1 0h2m2 0h1m3 0h1m1 0h1M75 291h1m6 0h1m1 0h1m2 0h1M54 292h1m10 0h1" stroke="#3247a4"/><path d="M84 130h1m1 0h1m6 0h1M80 131h1m2 0h2m3 0h2m7 0h2M75 132h1m2 0h1m1 0h1m4 0h1m4 0h1m3 0h1m1 0h1m1 0h1m3 0h1m1 0h1m1 0h1M73 133h1m4 0h2m1 0h1m3 0h1m2 0h1m1 0h2m1 0h1m6 0h2M72 134h1m2 0h1m5 0h3m1 0h1m9 0h1m1 0h1m3 0h3m3 0h1m5 0h1M68 135h1m6 0h1m2 0h2m1 0h4m1 0h1m9 0h2m4 0h1m2 0h2m9 0h1M69 136h1m3 0h1m4 0h3m1 0h1m1 0h1m5 0h6m1 0h1m1 0h1m3 0h1m1 0h1m2 0h1m1 0h1m1 0h1M73 137h1m1 0h1m4 0h2m1 0h1m1 0h1m2 0h1m1 0h1m4 0h5m10 0h1m4 0h1M65 138h1m4 0h4m2 0h3m3 0h1m1 0h1m5 0h1m1 0h1m2 0h4m1 0h3m2 0h2m2 0h1m2 0h1m3 0h1m2 0h1M80 139h1m3 0h3m2 0h1m1 0h2m1 0h1m1 0h2m2 0h1m1 0h1m1 0h2m7 0h1m1 0h1m1 0h3M66 140h1m1 0h2m1 0h2m3 0h1m1 0h2m6 0h2m1 0h2m6 0h1m1 0h1m2 0h2m1 0h1m4 0h2m2 0h1m2 0h1m2 0h3M61 141h1m2 0h2m2 0h1m2 0h2m3 0h1m2 0h1m1 0h1m3 0h4m5 0h1m2 0h1m3 0h1m1 0h1m2 0h1m1 0h1m5 0h1m4 0h2m1 0h1M62 142h1m4 0h2m5 0h3m2 0h1m4 0h1m3 0h5m3 0h1m6 0h1m12 0h1m2 0h3M59 143h1m1 0h2m9 0h1m1 0h1m4 0h1m3 0h2m5 0h1m1 0h1m4 0h5m1 0h2m1 0h1m1 0h1m14 0h2M59 144h1m1 0h2m13 0h1m1 0h3m2 0h1m1 0h1m2 0h2m3 0h2m4 0h2m1 0h1m2 0h1m5 0h1m1 0h2m5 0h2M58 145h3m1 0h1m3 0h1m4 0h1m1 0h1m5 0h1m4 0h1m2 0h2m10 0h1m2 0h5m1 0h1m1 0h2m9 0h1m3 0h1M60 146h1m2 0h2m10 0h2m1 0h3m1 0h3m1 0h1m1 0h1m1 0h1m11 0h1m1 0h1m2 0h1m3 0h1m10 0h1M63 147h1m1 0h1m1 0h2m2 0h1m5 0h2m4 0h2m1 0h2m3 0h1m3 0h2m11 0h3m2 0h2m4 0h1m5 0h1M57 148h4m1 0h1m2 0h1m7 0h3m4 0h1m1 0h2m2 0h1m1 0h4m3 0h1m2 0h1m4 0h1m1 0h2m1 0h1m6 0h2m1 0h2m5 0h1M59 149h2m4 0h4m4 0h1m4 0h2m2 0h5m1 0h1m1 0h4m1 0h2m3 0h3m4 0h2m2 0h2m4 0h1M63 150h1m1 0h1m1 0h2m1 0h2m1 0h1m1 0h1m1 0h4m1 0h3m2 0h1m3 0h1m1 0h1m3 0h1m3 0h1m1 0h3m1 0h1m2 0h1m7 0h1m3 0h1m1 0h1M73 151h1m1 0h1m5 0h1m3 0h4m1 0h2m1 0h1m1 0h2m2 0h3m3 0h3m1 0h1m2 0h1m1 0h1m1 0h1m6 0h1M70 152h1m1 0h1m2 0h4m1 0h1m3 0h3m1 0h2m1 0h3m2 0h1m3 0h2m1 0h2m2 0h1m2 0h2m1 0h1m1 0h1m3 0h1m3 0h1m3 0h1M57 153h2m6 0h1m1 0h1m3 0h5m2 0h2m1 0h1m1 0h3m1 0h1m1 0h1m2 0h2m1 0h1m1 0h4m1 0h3m1 0h2m1 0h1m2 0h1m1 0h2m6 0h1m1 0h1M58 154h1m7 0h1m1 0h1m1 0h1m4 0h1m2 0h1m1 0h5m1 0h2m3 0h1m3 0h1m4 0h1m1 0h2m2 0h1m11 0h1m2 0h1m3 0h1m3 0h1M69 155h1m6 0h1m2 0h2m2 0h1m4 0h2m1 0h2m1 0h2m9 0h1m3 0h1m2 0h1m11 0h1M57 156h1m1 0h2m3 0h1m1 0h1m4 0h1m1 0h1m1 0h3m4 0h1m1 0h2m2 0h2m1 0h2m1 0h1m1 0h3m1 0h3m2 0h1m2 0h1m3 0h1m9 0h1m1 0h2M64 157h3m4 0h3m1 0h1m1 0h1m1 0h1m1 0h1m2 0h2m4 0h5m2 0h2m5 0h1m2 0h1m1 0h1m1 0h1m2 0h1m1 0h1m5 0h1M59 158h1m1 0h1m4 0h1m6 0h2m3 0h1m4 0h3m3 0h2m4 0h1m1 0h6m1 0h1m1 0h2m9 0h3m3 0h1m1 0h1M61 159h3m12 0h2m1 0h1m2 0h1m1 0h2m5 0h4m3 0h2m8 0h1m3 0h1m2 0h3m2 0h1M60 160h1m3 0h2m5 0h3m1 0h1m1 0h2m4 0h4m1 0h1m4 0h1m4 0h1m3 0h1m5 0h1m4 0h1m1 0h2M60 161h1m1 0h1m1 0h1m1 0h2m1 0h1m1 0h1m3 0h1m2 0h1m2 0h3m1 0h1m10 0h4m1 0h2m3 0h1m6 0h1m6 0h2M63 162h1m1 0h1m2 0h1m1 0h1m1 0h1m2 0h1m2 0h2m1 0h1m1 0h1m1 0h1m2 0h3m3 0h2m1 0h2m1 0h1m2 0h1m1 0h3m8 0h1m3 0h1M62 163h2m1 0h1m2 0h1m7 0h1m2 0h3m3 0h1m14 0h1m3 0h1m1 0h1m2 0h1m4 0h1m1 0h3M62 164h1m3 0h1m4 0h1m3 0h1m3 0h1m3 0h1m7 0h2m3 0h1m1 0h2m6 0h2m2 0h1m2 0h2m2 0h1M63 165h1m3 0h4m1 0h1m4 0h1m3 0h2m2 0h1m6 0h2m2 0h2m1 0h3M71 166h1m3 0h1m3 0h2m2 0h4m1 0h1m2 0h1m1 0h1m1 0h7m1 0h1m2 0h1m8 0h2m1 0h1M66 167h1m4 0h4m1 0h3m2 0h1m5 0h1m1 0h1m2 0h1m1 0h1m1 0h2m2 0h1m3 0h1m2 0h1m1 0h2m1 0h1M68 168h1m4 0h6m1 0h3m1 0h6m3 0h1m1 0h1m3 0h1m1 0h1m2 0h1m2 0h1m2 0h1M66 169h1m1 0h2m1 0h4m1 0h2m1 0h3m3 0h1m1 0h4m1 0h1m7 0h1m8 0h1M66 170h1m1 0h1m1 0h3m1 0h1m1 0h9m1 0h1m1 0h1m2 0h1m8 0h1m2 0h1m4 0h2M68 171h1m3 0h3m1 0h7m2 0h4m1 0h2m3 0h3m6 0h2M64 172h1m3 0h2m3 0h1m2 0h3m1 0h4m1 0h1m2 0h5m3 0h1m3 0h1m1 0h1M63 173h1m3 0h1m2 0h1m2 0h3m1 0h1m1 0h1m2 0h3m1 0h2m3 0h3m4 0h2m1 0h2M62 174h1m3 0h1m1 0h2m1 0h2m2 0h1m1 0h5m1 0h2m1 0h3m1 0h1m1 0h3M64 175h1m3 0h2m1 0h1m1 0h5m2 0h1m1 0h2m2 0h8m1 0h1M65 176h2m1 0h2m1 0h4m1 0h3m1 0h4m1 0h3m2 0h4m1 0h2M61 177h1m1 0h1m2 0h2m2 0h5m1 0h1m1 0h2m2 0h3m1 0h6m1 0h2M63 178h1m2 0h1m1 0h1m1 0h10m1 0h1m1 0h1m1 0h1m1 0h2m1 0h1M59 179h1m1 0h1m1 0h3m1 0h2m2 0h1m1 0h2m1 0h2m1 0h4m2 0h1m1 0h1m1 0h3M59 180h2m1 0h2m1 0h1m3 0h1m1 0h19m1 0h2m5 0h1M63 181h1m1 0h1m2 0h6m1 0h10m1 0h2m1 0h6m3 0h1m1 0h1M63 182h4m1 0h1m1 0h1m2 0h1m1 0h3m1 0h13m2 0h1m5 0h1M55 183h1m1 0h1m3 0h5m1 0h1m1 0h5m1 0h3m2 0h7m1 0h3m2 0h6m1 0h1M61 184h8m1 0h16m1 0h8m3 0h1M55 185h2m3 0h1m1 0h3m1 0h5m1 0h6m1 0h13m1 0h2m2 0h2m3 0h1M58 186h25m1 0h6m1 0h4m2 0h1m5 0h1M53 187h1m1 0h3m1 0h11m1 0h10m1 0h4m1 0h11m4 0h1M51 188h1m1 0h2m1 0h1m1 0h1m2 0h7m1 0h7m1 0h5m1 0h1m1 0h6m1 0h8m1 0h1M51 189h1m2 0h1m1 0h2m2 0h9m1 0h16m1 0h4m1 0h4m1 0h3m1 0h2M56 190h1m2 0h4m2 0h1m1 0h9m1 0h1m1 0h11m1 0h1m1 0h3m4 0h1m1 0h1M53 191h1m1 0h1m1 0h1m1 0h1m1 0h44M51 192h2m3 0h1m2 0h4m1 0h24m1 0h5m1 0h2m1 0h3m1 0h1M50 193h1m2 0h2m1 0h1m1 0h1m1 0h1m1 0h4m1 0h17m1 0h12m2 0h3m2 0h1M52 194h1m1 0h2m1 0h42m1 0h1m1 0h2M54 195h2m2 0h1m1 0h2m1 0h2m1 0h3m1 0h9m1 0h8m1 0h1m1 0h6m1 0h4m1 0h2M56 196h2m1 0h10m1 0h5m1 0h7m2 0h16m2 0h1m1 0h1M53 197h1m1 0h1m1 0h1m1 0h7m1 0h4m3 0h18m1 0h5m2 0h2m3 0h2M48 198h1m1 0h1m1 0h5m1 0h5m1 0h17m1 0h7m1 0h14m1 0h1m2 0h1M52 199h1m1 0h4m1 0h4m1 0h4m1 0h12m4 0h1m1 0h7m1 0h3m1 0h3m1 0h4M53 200h1m1 0h1m1 0h1m1 0h19m1 0h4m1 0h7m1 0h2m1 0h8m4 0h2M49 201h3m2 0h3m1 0h7m2 0h11m1 0h2m1 0h21m3 0h2M47 202h2m3 0h2m1 0h2m1 0h16m1 0h6m1 0h22m2 0h3M48 203h1m2 0h1m2 0h4m1 0h6m2 0h2m1 0h5m1 0h13m1 0h3m1 0h2m1 0h8m1 0h1m2 0h1M52 204h1m4 0h1m1 0h6m1 0h8m1 0h10m1 0h10m1 0h7m1 0h1m1 0h1M47 205h1m2 0h1m1 0h1m2 0h3m1 0h28m1 0h4m1 0h3m1 0h4m2 0h1m3 0h2M54 206h36m2 0h5m1 0h7m1 0h2M46 207h1m2 0h3m2 0h1m3 0h33m2 0h1m1 0h6m1 0h1M46 208h1m1 0h4m1 0h3m1 0h2m1 0h7m1 0h6m1 0h9m1 0h1m1 0h2m1 0h17m3 0h1M50 209h2m1 0h23m1 0h3m1 0h20m2 0h5M45 210h1m3 0h1m3 0h1m1 0h9m1 0h19m1 0h16m1 0h4M46 211h2m4 0h11m1 0h2m3 0h13m1 0h8m1 0h3m1 0h3m1 0h6m2 0h2M46 212h2m2 0h5m1 0h20m1 0h3m1 0h2m1 0h1m1 0h12m1 0h3m1 0h1m1 0h1m2 0h1m1 0h1M51 213h1m5 0h1m1 0h14m1 0h3m1 0h25m1 0h1m1 0h2m3 0h1M47 214h1m3 0h4m1 0h13m1 0h2m1 0h1m1 0h9m1 0h15m1 0h3m1 0h1m1 0h2M46 215h1m1 0h4m3 0h2m1 0h8m1 0h8m1 0h7m1 0h1m2 0h4m1 0h1m1 0h9m1 0h6M47 216h1m2 0h2m1 0h3m2 0h3m1 0h22m1 0h15m1 0h3m3 0h2m1 0h1M47 217h1m3 0h2m1 0h4m1 0h11m1 0h1m2 0h5m1 0h3m1 0h25m2 0h1M44 218h1m3 0h2m1 0h1m1 0h9m1 0h21m1 0h16m1 0h7m1 0h1M44 219h1m4 0h5m1 0h1m1 0h21m1 0h13m1 0h1m1 0h5m1 0h5m1 0h1m1 0h2M49 220h2m1 0h1m1 0h15m1 0h36m1 0h2M45 221h2m3 0h9m1 0h10m1 0h2m1 0h2m1 0h10m1 0h5m1 0h4m1 0h7m5 0h1M49 222h1m3 0h3m1 0h4m1 0h2m1 0h24m1 0h2m1 0h5m1 0h3m2 0h2m3 0h1m1 0h1M44 223h1m2 0h1m2 0h1m1 0h1m2 0h4m1 0h15m1 0h1m1 0h4m1 0h3m1 0h1m1 0h17m1 0h1M48 224h4m3 0h4m1 0h1m1 0h12m1 0h7m1 0h1m1 0h18m1 0h4m1 0h1M47 225h1m2 0h1m2 0h11m1 0h1m1 0h2m1 0h23m1 0h7m1 0h3m1 0h1m1 0h1m1 0h1M44 226h1m3 0h2m3 0h5m1 0h3m1 0h9m1 0h8m1 0h8m1 0h15m1 0h1m1 0h1m1 0h1M46 227h14m1 0h15m1 0h7m2 0h5m1 0h19M44 228h3m1 0h1m2 0h1m1 0h1m1 0h14m1 0h6m1 0h7m1 0h7m1 0h4m1 0h12M46 229h2m1 0h2m1 0h1m2 0h1m1 0h4m1 0h1m1 0h4m1 0h2m1 0h4m1 0h17m1 0h3m1 0h10M45 230h1m2 0h2m1 0h4m1 0h8m1 0h7m1 0h33m1 0h1m1 0h1m1 0h1M45 231h1m2 0h1m1 0h2m1 0h16m1 0h7m1 0h11m1 0h4m1 0h2m1 0h2m1 0h2m1 0h2m3 0h3M45 232h1m4 0h8m1 0h11m1 0h22m1 0h5m1 0h6m2 0h2m1 0h2M45 233h3m3 0h3m1 0h1m2 0h1m1 0h8m1 0h3m1 0h5m1 0h6m1 0h9m1 0h11m1 0h1m1 0h2M44 234h1m2 0h1m1 0h2m1 0h1m1 0h26m1 0h5m1 0h9m2 0h5m2 0h1m2 0h1M46 235h2m1 0h1m3 0h4m2 0h2m1 0h20m1 0h1m2 0h23m1 0h1M45 236h2m1 0h1m1 0h5m1 0h1m2 0h19m1 0h9m1 0h3m1 0h9m3 0h1m1 0h1M43 237h2m1 0h2m1 0h1m1 0h3m3 0h3m1 0h5m1 0h12m2 0h6m1 0h6m1 0h9m1 0h4m2 0h1M48 238h1m2 0h1m2 0h1m1 0h21m1 0h5m1 0h5m1 0h6m1 0h10m1 0h1M49 239h2m1 0h2m1 0h1m1 0h21m2 0h9m1 0h7m1 0h4m1 0h1m1 0h2m2 0h1M49 240h1m2 0h3m1 0h2m2 0h6m1 0h23m1 0h1m2 0h2m1 0h9m1 0h1M50 241h1m1 0h2m2 0h3m1 0h10m1 0h7m2 0h4m1 0h4m1 0h15m1 0h6M48 242h1m2 0h1m1 0h2m1 0h1m4 0h32m1 0h9m2 0h2m1 0h2M45 243h1m5 0h1m2 0h3m1 0h7m1 0h1m1 0h1m1 0h24m1 0h6m3 0h6M47 244h1m1 0h4m2 0h2m1 0h6m1 0h1m1 0h8m1 0h5m1 0h1m2 0h1m1 0h2m1 0h5m1 0h10m1 0h1M47 245h2m2 0h5m2 0h2m2 0h13m1 0h5m1 0h2m1 0h1m1 0h10m1 0h3m1 0h1m2 0h1m2 0h2M46 246h1m3 0h1m1 0h8m1 0h40m1 0h2m2 0h1M47 247h1m3 0h1m1 0h1m1 0h2m1 0h2m1 0h11m1 0h2m1 0h12m1 0h2m1 0h11m1 0h3M47 248h1m1 0h3m4 0h3m2 0h1m1 0h7m2 0h2m1 0h29m1 0h1m1 0h2M45 249h1m4 0h8m2 0h5m2 0h5m1 0h25m1 0h3m3 0h3M49 250h1m2 0h1m2 0h3m1 0h3m1 0h1m1 0h1m1 0h8m1 0h3m1 0h3m1 0h8m1 0h3m1 0h5m4 0h1m2 0h1M47 251h2m3 0h3m2 0h2m3 0h21m1 0h2m1 0h13m1 0h1m1 0h3m1 0h2M49 252h1m1 0h2m1 0h4m1 0h5m1 0h4m1 0h21m1 0h10m1 0h1m3 0h2M47 253h1m4 0h5m1 0h16m1 0h9m1 0h16m4 0h1m1 0h1M47 254h1m3 0h2m2 0h1m2 0h9m1 0h10m1 0h13m2 0h5m1 0h1m1 0h2m2 0h1M54 255h1m1 0h2m1 0h1m1 0h11m1 0h19m1 0h8m1 0h1m1 0h2m1 0h1M46 256h1m1 0h3m1 0h4m1 0h3m1 0h16m1 0h4m1 0h11m1 0h12M50 257h2m1 0h2m1 0h1m1 0h17m1 0h17m1 0h6m2 0h2m2 0h1m1 0h2M51 258h2m1 0h1m1 0h2m1 0h33m1 0h4m1 0h2M55 259h2m1 0h3m1 0h4m1 0h26m2 0h6m1 0h1M52 260h3m3 0h3m2 0h7m1 0h5m1 0h6m1 0h14m1 0h3m1 0h1M57 261h3m2 0h3m1 0h5m1 0h18m1 0h5m1 0h1m1 0h2m5 0h1m1 0h1M50 262h1m2 0h1m2 0h1m1 0h3m2 0h1m1 0h10m1 0h14m1 0h2m1 0h5m1 0h1m4 0h3M51 263h1m1 0h5m1 0h3m1 0h1m1 0h2m2 0h24m1 0h1m2 0h1m1 0h1m1 0h1m1 0h1m1 0h1M51 264h2m3 0h2m1 0h2m2 0h2m1 0h11m1 0h10m1 0h6m1 0h1m3 0h2M51 265h1m3 0h1m6 0h2m1 0h5m1 0h1m1 0h7m1 0h11m1 0h2m1 0h1m1 0h2m1 0h2M55 266h3m1 0h3m1 0h12m1 0h18m1 0h2m2 0h1m3 0h2M58 267h2m1 0h1m1 0h2m2 0h2m1 0h3m1 0h3m1 0h3m2 0h2m2 0h8m1 0h1m1 0h1m1 0h1m1 0h3M51 268h1m2 0h1m2 0h1m1 0h1m2 0h1m1 0h1m1 0h1m1 0h5m1 0h3m1 0h2m1 0h13m1 0h2m2 0h1m1 0h1M55 269h1m1 0h1m2 0h7m1 0h4m1 0h10m2 0h8M53 270h1m4 0h1m1 0h2m1 0h2m1 0h1m1 0h6m1 0h2m1 0h5m2 0h2m1 0h4m1 0h1m1 0h1m2 0h1m2 0h2M53 271h1m5 0h4m5 0h2m1 0h1m1 0h9m1 0h2m3 0h2m2 0h1m1 0h2m5 0h1m1 0h1M56 272h1m3 0h1m2 0h1m2 0h2m1 0h1m2 0h2m1 0h5m2 0h6m4 0h3m1 0h2m2 0h1M59 273h1m3 0h5m2 0h2m1 0h3m1 0h1m2 0h2m1 0h1m2 0h3m3 0h2m1 0h1m5 0h1M53 274h1m5 0h4m1 0h3m1 0h4m1 0h1m1 0h2m4 0h3m2 0h4m1 0h2m1 0h2m1 0h1m1 0h1m1 0h1M61 275h1m1 0h5m1 0h3m1 0h6m2 0h6m2 0h1m1 0h2m2 0h2m4 0h1M57 276h1m6 0h1m1 0h2m1 0h1m3 0h1m1 0h1m3 0h1m1 0h1m1 0h2m2 0h2m5 0h1m1 0h2M58 277h2m3 0h1m5 0h1m3 0h5m1 0h6m2 0h2m2 0h1m2 0h1m1 0h1M61 278h2m2 0h1m1 0h3m2 0h1m1 0h5m1 0h5m1 0h3m1 0h1m7 0h2M59 279h1m12 0h3m4 0h1m2 0h2m2 0h3m1 0h1m3 0h1m2 0h1M60 280h1m3 0h1m4 0h1m4 0h1m1 0h1m2 0h1m1 0h4m1 0h1m2 0h1M64 281h2m9 0h3m3 0h1m2 0h1m1 0h1m4 0h3M62 282h1m2 0h1m2 0h3m1 0h1m1 0h6m3 0h1m2 0h3m6 0h1M61 283h1m4 0h4m1 0h2m1 0h1m3 0h1m1 0h3m10 0h1M66 284h3m2 0h1m2 0h2m2 0h3m2 0h1m1 0h2m1 0h1M68 285h1m2 0h1m1 0h2m4 0h1m1 0h2m4 0h1m1 0h1M73 286h8m4 0h1m4 0h1M76 287h1m2 0h1m2 0h2M72 288h1m7 0h1m5 0h2M72 289h1m1 0h1m7 0h1m1 0h1" stroke="#2450b2"/><path d="M84 130h1M83 131h2m12 0h1M80 132h1m13 0h1m1 0h1m1 0h1M78 133h1m9 0h1m1 0h1m10 0h1M85 134h1M79 135h1m2 0h1m1 0h1m11 0h1M73 136h1m8 0h1m1 0h1m7 0h1m1 0h2m12 0h1M73 137h1m6 0h1m2 0h1m1 0h1m4 0h1m24 0h1M71 138h1m1 0h1m2 0h1m5 0h1m9 0h1m2 0h1m1 0h1m3 0h1M80 139h1m3 0h1m4 0h1m1 0h1m5 0h1m2 0h1m17 0h1M78 140h1m7 0h1m10 0h1m19 0h1M76 141h1m2 0h1m1 0h1m4 0h1m1 0h1m5 0h1m11 0h1m13 0h1M74 142h3m2 0h1m9 0h4m3 0h1m6 0h1M62 143h1m11 0h1m23 0h2M59 144h1m16 0h1m1 0h1m6 0h1m2 0h2m9 0h2m1 0h1m17 0h1M58 145h1m3 0h1m3 0h1m6 0h1m5 0h1m19 0h1m3 0h2m6 0h1M86 146h1m1 0h1m1 0h1m16 0h1M65 147h1m17 0h2m2 0h1m3 0h1m17 0h2m2 0h1M57 148h2m16 0h1m10 0h1m1 0h1m1 0h1m4 0h1m10 0h1m11 0h1M67 149h1m5 0h1m5 0h1m2 0h4m2 0h1m1 0h1m2 0h1m1 0h2m3 0h3m4 0h1m3 0h1M67 150h1m3 0h1m3 0h1m1 0h2m1 0h1m2 0h1m3 0h1m9 0h1m3 0h1m1 0h2m17 0h1M75 151h1m9 0h1m1 0h1m2 0h2m1 0h1m2 0h1m3 0h1m5 0h1m2 0h1m2 0h1m1 0h1M76 152h3m1 0h1m3 0h3m1 0h2m1 0h3m2 0h1m3 0h2m2 0h1m2 0h1m2 0h2m1 0h1m1 0h1M67 153h1m4 0h1m2 0h1m2 0h2m4 0h1m8 0h1m1 0h1m6 0h1m1 0h1m1 0h1m7 0h1M68 154h1m1 0h1m4 0h1m2 0h1m1 0h1m3 0h1m1 0h2m7 0h1m4 0h1m2 0h1m2 0h1m11 0h1m6 0h1M69 155h1m6 0h1m2 0h1m3 0h1m7 0h1m2 0h2m13 0h1M73 156h1m2 0h2m6 0h2m3 0h1m2 0h1m1 0h1m5 0h1m21 0h1m1 0h1M66 157h1m8 0h1m1 0h1m3 0h1m2 0h1m5 0h5m3 0h1m8 0h1m3 0h1m2 0h1M73 158h2m9 0h2m3 0h1m5 0h1m1 0h2m1 0h1m1 0h1m3 0h2m17 0h1M61 159h3m12 0h1m7 0h1m6 0h2m6 0h1m8 0h1m3 0h1m7 0h1M75 160h1m8 0h3m1 0h1m4 0h1m8 0h1m5 0h1M69 161h1m5 0h1m5 0h1m1 0h1m12 0h1m1 0h1m3 0h1m3 0h1m13 0h1M63 162h1m1 0h1m2 0h1m1 0h1m7 0h2m1 0h1m1 0h1m6 0h1m3 0h1m21 0h1M79 163h1m1 0h1m18 0h1m3 0h1m4 0h1m8 0h1M62 164h1m8 0h1m3 0h1m3 0h1m3 0h1m7 0h1m4 0h1m10 0h1m9 0h1M70 165h1m1 0h1m19 0h2m2 0h1m3 0h1M75 166h1m7 0h4m4 0h1m4 0h1m2 0h1m1 0h1M71 167h4m2 0h2m10 0h1m7 0h1m2 0h1m6 0h1m1 0h1M73 168h6m2 0h2m1 0h1m2 0h1m1 0h1m3 0h1m1 0h1m11 0h1M69 169h1m1 0h3m2 0h2m1 0h3m3 0h1m1 0h3m2 0h1m7 0h1m8 0h1M70 170h3m1 0h1m1 0h1m1 0h7m1 0h1m1 0h1M68 171h1m4 0h1m2 0h5m1 0h1m2 0h1m2 0h1m1 0h2m3 0h2M64 172h1m11 0h3m1 0h4m1 0h1m2 0h4m10 0h1M63 173h1m3 0h1m6 0h2m1 0h1m1 0h1m2 0h3m2 0h1m3 0h3m5 0h1M66 174h1m2 0h1m1 0h1m5 0h1m1 0h3m2 0h1m1 0h3m1 0h1m1 0h2M71 175h1m1 0h5m2 0h1m1 0h2m2 0h8M65 176h1m2 0h2m2 0h3m1 0h3m1 0h4m1 0h3m2 0h3M63 177h1m2 0h1m3 0h2m4 0h1m1 0h2m3 0h2m1 0h3m1 0h1m3 0h1M66 178h1m1 0h1m1 0h2m2 0h4m1 0h1m1 0h1m3 0h1m1 0h2m1 0h1M59 179h1m4 0h1m2 0h2m2 0h1m1 0h2m1 0h2m1 0h4m2 0h1m1 0h1m1 0h1m1 0h1M59 180h2m8 0h1m1 0h13m1 0h5m1 0h2m5 0h1M63 181h1m1 0h1m2 0h6m1 0h10m1 0h2m1 0h4m1 0h1m5 0h1M63 182h4m1 0h1m4 0h1m1 0h3m1 0h10m1 0h2m2 0h1M61 183h5m1 0h1m1 0h5m1 0h3m2 0h7m1 0h3m3 0h4M61 184h8m1 0h16m1 0h5m1 0h2M56 185h1m5 0h3m1 0h5m1 0h6m1 0h13m1 0h2m2 0h2M59 186h24m1 0h6m1 0h4m2 0h1M55 187h2m2 0h2m1 0h8m1 0h10m1 0h4m1 0h9m1 0h1m4 0h1M54 188h1m7 0h6m1 0h7m1 0h5m1 0h1m1 0h6m1 0h6M54 189h1m1 0h2m2 0h2m1 0h6m1 0h16m1 0h4m1 0h4m1 0h3m1 0h1M56 190h1m2 0h2m1 0h1m2 0h1m1 0h9m1 0h1m1 0h11m1 0h1m1 0h3m4 0h1M53 191h1m5 0h1m1 0h1m1 0h35m3 0h2M59 192h1m1 0h2m1 0h24m1 0h5m1 0h2m1 0h3m1 0h1M54 193h1m1 0h1m1 0h1m1 0h1m1 0h4m1 0h17m1 0h12m2 0h1m1 0h1M52 194h1m1 0h1m2 0h1m1 0h40m1 0h1m1 0h2M55 195h1m2 0h1m1 0h1m2 0h2m1 0h3m1 0h9m1 0h8m1 0h1m1 0h6m1 0h4M56 196h2m1 0h10m1 0h5m1 0h7m2 0h16m2 0h1M53 197h1m1 0h1m1 0h1m1 0h7m1 0h4m3 0h18m1 0h5m2 0h2m3 0h2M52 198h1m1 0h1m1 0h1m1 0h5m1 0h17m1 0h7m1 0h12M54 199h4m1 0h4m1 0h4m1 0h12m4 0h1m1 0h7m1 0h3m1 0h3m1 0h2M53 200h1m3 0h1m1 0h19m1 0h4m1 0h7m1 0h2m1 0h4m1 0h3M50 201h2m2 0h1m1 0h1m1 0h7m2 0h11m1 0h2m1 0h17m2 0h2m3 0h2M47 202h1m8 0h1m1 0h16m1 0h6m1 0h22m2 0h1M54 203h4m1 0h6m2 0h2m1 0h5m1 0h13m1 0h3m1 0h2m1 0h7m5 0h1M57 204h1m1 0h6m1 0h8m1 0h10m1 0h10m1 0h7m1 0h1M52 205h1m2 0h3m1 0h28m1 0h4m1 0h3m1 0h4m2 0h1M55 206h1m1 0h33m2 0h5m1 0h7m1 0h1M49 207h1m1 0h1m2 0h1m3 0h33m2 0h1m1 0h6m1 0h1M48 208h2m3 0h1m1 0h1m1 0h2m1 0h7m1 0h6m1 0h9m1 0h1m1 0h2m1 0h17M50 209h2m1 0h1m1 0h5m1 0h15m1 0h3m1 0h20m2 0h3m1 0h1M49 210h1m5 0h4m1 0h4m1 0h19m1 0h16m1 0h1M52 211h11m1 0h2m3 0h13m1 0h8m1 0h3m1 0h3m1 0h4m1 0h1m2 0h1M46 212h1m4 0h1m1 0h2m1 0h20m1 0h3m1 0h2m1 0h1m1 0h12m1 0h3m1 0h1m1 0h1M51 213h1m5 0h1m1 0h14m1 0h3m1 0h25m1 0h1m2 0h1M51 214h4m1 0h13m1 0h2m1 0h1m1 0h9m1 0h15m1 0h3m1 0h1m1 0h2M46 215h1m2 0h3m3 0h2m1 0h8m1 0h8m1 0h7m1 0h1m2 0h4m1 0h1m1 0h9m1 0h2m1 0h3M47 216h1m3 0h1m1 0h3m2 0h3m1 0h22m1 0h15m1 0h3m3 0h2M51 217h2m1 0h1m1 0h2m1 0h11m1 0h1m2 0h5m1 0h3m1 0h21m3 0h1m2 0h1M44 218h1m6 0h1m1 0h9m1 0h21m1 0h16m1 0h2m1 0h1m1 0h1m2 0h1M44 219h1m4 0h1m1 0h3m1 0h1m1 0h21m1 0h13m1 0h1m1 0h5m1 0h5m1 0h1m1 0h1M50 220h1m3 0h15m1 0h36m1 0h2M50 221h3m1 0h2m1 0h2m1 0h10m1 0h2m1 0h2m1 0h10m1 0h5m1 0h4m1 0h7M54 222h1m2 0h4m1 0h2m1 0h24m1 0h2m1 0h5m1 0h3m2 0h2m3 0h1M50 223h1m1 0h1m2 0h4m1 0h15m1 0h1m1 0h4m1 0h3m1 0h1m1 0h16m2 0h1M49 224h2m4 0h4m1 0h1m1 0h12m1 0h7m1 0h1m1 0h18m2 0h2m2 0h1M53 225h11m1 0h1m1 0h2m1 0h23m1 0h7m1 0h3m1 0h1M49 226h1m3 0h5m1 0h3m1 0h9m1 0h8m1 0h8m1 0h15m3 0h1M47 227h6m1 0h6m1 0h15m1 0h7m2 0h5m1 0h14m1 0h3M46 228h1m4 0h1m1 0h1m1 0h14m1 0h6m1 0h7m1 0h7m1 0h4m1 0h8m1 0h1M46 229h1m2 0h1m2 0h1m2 0h1m1 0h4m1 0h1m1 0h4m1 0h2m1 0h4m1 0h17m1 0h3m1 0h6m1 0h3M45 230h1m3 0h1m1 0h4m1 0h8m1 0h7m1 0h32M48 231h1m1 0h2m1 0h1m1 0h14m1 0h7m1 0h11m1 0h4m1 0h2m1 0h2m1 0h2m1 0h2m3 0h1M50 232h1m1 0h3m1 0h2m1 0h11m1 0h22m1 0h5m1 0h4m1 0h1m2 0h1m3 0h1M45 233h1m5 0h2m2 0h1m2 0h1m1 0h8m1 0h3m1 0h5m1 0h6m1 0h9m1 0h8m1 0h2m1 0h1m1 0h1M49 234h2m1 0h1m1 0h26m1 0h5m1 0h9m2 0h5m2 0h1M46 235h1m2 0h1m3 0h4m2 0h2m1 0h20m1 0h1m2 0h22M50 236h5m1 0h1m2 0h19m1 0h9m1 0h3m1 0h9m3 0h1m1 0h1M51 237h2m4 0h3m1 0h5m1 0h12m2 0h6m1 0h6m1 0h9m1 0h4M54 238h1m1 0h21m1 0h5m1 0h5m1 0h6m1 0h2m1 0h3m1 0h2m2 0h1M49 239h1m2 0h2m1 0h1m1 0h21m2 0h9m1 0h7m1 0h4m1 0h1m1 0h1M52 240h1m3 0h2m2 0h6m1 0h23m1 0h1m2 0h2m1 0h9M50 241h1m2 0h1m2 0h3m1 0h10m1 0h7m2 0h4m1 0h4m1 0h7m1 0h7m2 0h2M51 242h1m1 0h1m2 0h1m4 0h32m1 0h9m2 0h1m3 0h1M45 243h1m5 0h1m2 0h3m1 0h7m1 0h1m1 0h1m1 0h24m1 0h6m4 0h2m1 0h1M47 244h1m1 0h1m1 0h2m2 0h2m1 0h6m1 0h1m1 0h8m1 0h5m1 0h1m2 0h1m1 0h2m1 0h5m1 0h9m2 0h1M48 245h1m4 0h3m2 0h2m2 0h13m1 0h5m1 0h2m1 0h1m1 0h10m1 0h3m1 0h1m6 0h1M46 246h1m3 0h1m2 0h7m1 0h40m1 0h1m3 0h1M51 247h1m1 0h1m1 0h2m1 0h2m1 0h11m1 0h2m1 0h12m1 0h2m1 0h9m1 0h1m1 0h2M56 248h3m2 0h1m1 0h7m2 0h2m1 0h29m1 0h1m2 0h1M52 249h1m3 0h2m2 0h5m2 0h5m1 0h25m1 0h3m3 0h2M52 250h1m2 0h3m1 0h3m1 0h1m1 0h1m1 0h8m1 0h3m1 0h3m1 0h8m1 0h3m2 0h4m4 0h1M47 251h2m3 0h1m5 0h1m3 0h21m1 0h2m1 0h13m1 0h1m1 0h2M51 252h2m1 0h4m1 0h3m1 0h1m1 0h4m1 0h21m1 0h8m1 0h1m1 0h1m4 0h1M52 253h3m4 0h15m1 0h9m1 0h16m4 0h1m1 0h1M52 254h1m2 0h1m2 0h9m1 0h10m1 0h13m2 0h5m1 0h1m1 0h2m2 0h1M57 255h1m1 0h1m1 0h11m1 0h19m1 0h7m2 0h1m1 0h1m2 0h1M54 256h1m2 0h3m1 0h16m1 0h4m1 0h11m1 0h7m3 0h1M50 257h2m2 0h1m3 0h1m1 0h3m1 0h11m1 0h17m1 0h6m2 0h1M51 258h2m3 0h1m2 0h4m1 0h28m1 0h4m1 0h1M58 259h1m1 0h1m1 0h4m1 0h26m2 0h6m1 0h1M53 260h2m3 0h3m2 0h7m1 0h5m1 0h6m1 0h14m1 0h2M57 261h3m2 0h3m1 0h1m1 0h3m1 0h18m1 0h5m1 0h1m1 0h1M50 262h1m2 0h1m4 0h3m2 0h1m1 0h10m1 0h14m1 0h2m1 0h5m1 0h1M53 263h5m1 0h3m1 0h1m1 0h2m2 0h24m1 0h1m2 0h1m1 0h1m3 0h1M51 264h1m4 0h2m1 0h2m2 0h2m1 0h11m1 0h10m1 0h6m1 0h1m3 0h1M55 265h1m7 0h1m1 0h5m1 0h1m1 0h7m1 0h11m1 0h2m4 0h1m1 0h1M56 266h1m3 0h1m2 0h12m1 0h18m1 0h2M58 267h2m3 0h1m3 0h2m1 0h3m1 0h3m1 0h3m2 0h2m2 0h8m3 0h1m3 0h2M54 268h1m4 0h1m4 0h1m1 0h1m1 0h5m1 0h3m1 0h2m1 0h6m1 0h1m2 0h3m2 0h1M55 269h1m1 0h1m2 0h2m2 0h2m2 0h4m1 0h8m1 0h1m2 0h6M63 270h2m1 0h1m1 0h6m1 0h2m1 0h5m2 0h2m1 0h4m3 0h1m2 0h1m2 0h2M59 271h4m5 0h1m2 0h1m1 0h9m1 0h2m4 0h1m2 0h1m1 0h2m5 0h1M60 272h1m2 0h1m3 0h1m1 0h1m2 0h2m1 0h1m1 0h3m2 0h6m4 0h2M63 273h3m4 0h2m1 0h3m4 0h2m1 0h1m2 0h3m4 0h1M61 274h2m1 0h3m1 0h2m3 0h1m2 0h1m4 0h2m3 0h3m2 0h1m5 0h1M61 275h1m1 0h1m2 0h2m1 0h3m1 0h6m2 0h2m1 0h3m2 0h1m1 0h1m3 0h1M57 276h1m8 0h2m1 0h1m3 0h1m5 0h1m1 0h1m1 0h1m4 0h1M69 277h1m3 0h2m1 0h1m2 0h1m1 0h4m6 0h1m4 0h1M65 278h1m3 0h1m4 0h2m2 0h1m1 0h1m1 0h2m2 0h1m1 0h1m9 0h1M73 279h2m4 0h1m2 0h2m3 0h2m1 0h1M76 280h1m2 0h1m1 0h3m2 0h1m2 0h1M65 281h1m9 0h3m14 0h1M68 282h1m7 0h4m3 0h1m2 0h1M66 283h2m3 0h1m2 0h1m3 0h1M67 284h2m5 0h1m3 0h1m1 0h1m2 0h1m1 0h2m1 0h1M74 285h1m7 0h1m4 0h1M74 286h2m2 0h2m5 0h1M83 287h1M72 288h1M72 289h1" stroke="#1d66c8"/><path d="M78 133h1M95 136h1M73 137h1M101 138h1M91 139h1M99 143h1M100 144h1M66 145h1m6 0h1m5 0h1M93 149h1m2 0h1M77 150h1m19 0h1M87 151h1m5 0h1m15 0h1M76 152h2m6 0h1M75 153h1m19 0h1M78 154h1m5 0h1m2 0h1m37 0h1M91 155h1m2 0h2M92 156h1m7 0h1M75 157h1m14 0h4m17 0h1M74 158h1m20 0h1M91 159h1m16 0h1M96 161h1M70 162h1m8 0h1M96 165h1M91 166h1M73 167h1M73 168h2m2 0h2m5 0h1m8 0h1M69 169h1m3 0h1m2 0h1m2 0h1m7 0h3M70 170h1m1 0h1m3 0h1m1 0h3m2 0h2m3 0h1M73 171h1m2 0h1m1 0h3m1 0h1m7 0h1M76 172h3m2 0h1m1 0h1m1 0h1m3 0h3M77 173h1m5 0h2m8 0h1M77 174h1m2 0h2m2 0h1m1 0h1m1 0h1m3 0h2M73 175h1m1 0h1m1 0h1m4 0h2m4 0h2m2 0h1M65 176h1m6 0h1m3 0h3m1 0h1m1 0h2m3 0h1m2 0h3M66 177h1m12 0h1m3 0h1m2 0h1M66 178h1m12 0h1m5 0h1m4 0h1M67 179h1m3 0h1m2 0h1m4 0h4m2 0h1m1 0h1m1 0h1M59 180h1m9 0h1m1 0h13m1 0h1m3 0h1m2 0h1M63 181h1m1 0h1m2 0h1m2 0h3m2 0h3m1 0h4m2 0h1m2 0h2m1 0h1m1 0h1M64 182h2m7 0h1m1 0h3m1 0h7m2 0h1m1 0h1M62 183h1m4 0h1m1 0h2m1 0h2m1 0h3m2 0h7m3 0h1m6 0h1M62 184h1m3 0h3m1 0h2m1 0h13m1 0h5m1 0h1M64 185h1m1 0h5m1 0h6m1 0h9m1 0h2m2 0h2m3 0h1M59 186h2m2 0h1m1 0h2m1 0h15m1 0h3m1 0h2m1 0h3m3 0h1M62 187h1m2 0h1m1 0h3m1 0h3m1 0h6m1 0h4m1 0h8M54 188h1m7 0h1m2 0h2m2 0h7m1 0h5m1 0h1m1 0h6m2 0h1m1 0h2M57 189h1m2 0h2m1 0h6m1 0h13m1 0h2m1 0h4m1 0h1m2 0h1m1 0h1M56 190h1m5 0h1m2 0h1m1 0h9m1 0h1m1 0h11m1 0h1m1 0h2M59 191h1m1 0h1m1 0h1m1 0h30m1 0h2M59 192h1m1 0h2m1 0h4m1 0h19m1 0h5m1 0h2m1 0h2M56 193h1m3 0h1m2 0h1m1 0h1m1 0h17m1 0h11m3 0h1M57 194h1m2 0h2m1 0h1m1 0h33m2 0h1M60 195h1m2 0h2m2 0h2m1 0h9m1 0h8m1 0h1m1 0h2m1 0h2m2 0h1m1 0h2M56 196h1m3 0h9m1 0h5m1 0h7m2 0h10m1 0h1m1 0h3M55 197h1m1 0h1m1 0h1m1 0h5m1 0h4m3 0h18m1 0h5M54 198h1m4 0h3m2 0h17m1 0h7m1 0h9m1 0h1M54 199h1m6 0h1m2 0h4m1 0h12m4 0h1m1 0h7m1 0h3m1 0h3M57 200h1m1 0h19m1 0h4m1 0h7m1 0h2m1 0h1m1 0h2m1 0h2M54 201h1m1 0h1m1 0h2m1 0h4m2 0h11m1 0h2m1 0h17m7 0h1M58 202h5m1 0h10m1 0h6m1 0h18m1 0h2M54 203h3m2 0h6m2 0h2m1 0h5m1 0h13m1 0h3m1 0h2m1 0h4m1 0h1M57 204h1m1 0h6m1 0h8m1 0h10m1 0h10m1 0h4m2 0h1M52 205h1m3 0h2m1 0h28m1 0h4m1 0h3m1 0h4m2 0h1M57 206h33m2 0h5m1 0h3m1 0h3M49 207h1m4 0h1m3 0h33m2 0h1m1 0h3m1 0h2m1 0h1M49 208h1m5 0h1m1 0h2m1 0h7m1 0h6m1 0h9m1 0h1m1 0h2m1 0h10m1 0h3M55 209h1m1 0h3m1 0h15m1 0h3m1 0h20m2 0h2M49 210h1m6 0h3m1 0h1m1 0h2m1 0h19m1 0h16m1 0h1M53 211h3m1 0h1m1 0h4m1 0h2m3 0h13m1 0h8m1 0h3m1 0h3m1 0h1m1 0h1M56 212h20m1 0h3m1 0h2m1 0h1m1 0h12m1 0h2m4 0h1M57 213h1m1 0h14m1 0h3m1 0h25m1 0h1m2 0h1M52 214h1m1 0h1m1 0h3m1 0h9m1 0h2m1 0h1m1 0h9m1 0h15m1 0h3M50 215h1m5 0h1m1 0h1m1 0h6m1 0h8m1 0h7m1 0h1m2 0h4m1 0h1m1 0h9M51 216h1m1 0h3m2 0h1m1 0h1m1 0h22m1 0h15m1 0h3M51 217h1m4 0h2m1 0h11m1 0h1m2 0h5m1 0h3m1 0h20M51 218h1m3 0h2m1 0h1m1 0h2m1 0h2m1 0h18m1 0h14m1 0h1m1 0h1M49 219h1m1 0h2m2 0h1m1 0h21m1 0h13m1 0h1m1 0h3m1 0h1m1 0h1m1 0h3M50 220h1m3 0h3m1 0h11m1 0h32m1 0h3m1 0h1M50 221h2m2 0h2m1 0h1m2 0h10m1 0h2m1 0h2m1 0h10m1 0h5m1 0h4m1 0h4m2 0h1M57 222h4m1 0h2m1 0h24m1 0h2m1 0h5m1 0h3M52 223h1m2 0h2m1 0h1m1 0h15m1 0h1m1 0h4m1 0h3m1 0h1m1 0h16M56 224h2m2 0h1m1 0h12m1 0h7m1 0h1m1 0h18m2 0h2M55 225h9m1 0h1m1 0h2m1 0h23m1 0h7m1 0h3M53 226h5m1 0h3m1 0h9m1 0h8m1 0h8m1 0h13m1 0h1m3 0h1M52 227h1m2 0h1m2 0h2m1 0h15m1 0h7m2 0h5m1 0h9m2 0h1m4 0h1M55 228h4m1 0h9m1 0h6m1 0h7m1 0h7m1 0h4m1 0h1m1 0h4M52 229h1m4 0h3m2 0h1m1 0h2m1 0h1m1 0h2m1 0h4m1 0h17m1 0h2m2 0h5m3 0h2M51 230h2m1 0h1m1 0h1m1 0h6m1 0h7m1 0h25m1 0h4M48 231h1m6 0h1m1 0h12m1 0h7m1 0h11m1 0h4m1 0h2m1 0h2m1 0h2m1 0h2M56 232h2m1 0h11m1 0h22m1 0h4m2 0h2m1 0h1M51 233h2m5 0h1m1 0h2m1 0h5m1 0h3m1 0h5m1 0h6m1 0h9m1 0h5m1 0h2m2 0h1m3 0h1M50 234h1m4 0h2m1 0h1m1 0h20m1 0h5m1 0h9m2 0h5M46 235h1m8 0h2m3 0h1m1 0h20m1 0h1m2 0h9m1 0h4m1 0h1m3 0h1m1 0h1M50 236h1m1 0h1m1 0h1m4 0h19m1 0h9m1 0h3m1 0h9m3 0h1m1 0h1M51 237h1m6 0h2m1 0h1m1 0h3m1 0h12m2 0h6m1 0h6m1 0h9m1 0h1m2 0h1M54 238h1m2 0h20m1 0h5m1 0h5m1 0h6m1 0h1m2 0h3m1 0h1M57 239h21m2 0h9m1 0h7m1 0h4m1 0h1M56 240h2m2 0h6m1 0h23m1 0h1m2 0h2m1 0h1m1 0h5m1 0h1M50 241h1m5 0h3m1 0h10m1 0h7m2 0h4m1 0h4m1 0h6m2 0h5m4 0h1M51 242h1m1 0h1m7 0h32m1 0h9M51 243h1m2 0h1m4 0h1m1 0h4m1 0h1m1 0h1m1 0h24m1 0h6M52 244h1m2 0h2m1 0h6m1 0h1m1 0h8m1 0h5m1 0h1m2 0h1m1 0h2m1 0h5m1 0h3m1 0h3m4 0h1M53 245h1m8 0h13m1 0h5m1 0h2m1 0h1m1 0h10m1 0h3m1 0h1M50 246h1m4 0h2m1 0h2m1 0h30m1 0h9m1 0h1M51 247h1m4 0h1m1 0h2m2 0h10m1 0h2m1 0h12m1 0h2m1 0h7m1 0h1m1 0h1m2 0h1M56 248h3m2 0h1m1 0h7m2 0h2m1 0h23m1 0h5M60 249h5m2 0h5m1 0h25m1 0h3M57 250h1m2 0h2m1 0h1m1 0h1m1 0h8m1 0h3m1 0h3m1 0h8m1 0h3m2 0h2m1 0h1m4 0h1M58 251h1m3 0h1m1 0h19m1 0h2m1 0h10m1 0h2m1 0h1M52 252h1m4 0h1m2 0h1m2 0h1m1 0h4m1 0h21m1 0h5m1 0h2m1 0h1M54 253h1m4 0h3m1 0h1m1 0h9m1 0h9m1 0h10m1 0h3m1 0h1M59 254h6m3 0h10m1 0h13m2 0h1m1 0h3m1 0h1m1 0h1m3 0h1M57 255h1m3 0h11m1 0h2m1 0h16m1 0h2m1 0h4m7 0h1M54 256h1m2 0h1m1 0h1m2 0h15m1 0h4m1 0h7m1 0h3m1 0h3m1 0h1m1 0h1M58 257h1m1 0h1m1 0h1m1 0h11m1 0h12m1 0h4m2 0h5M51 258h1m10 0h1m1 0h2m1 0h25m1 0h2m1 0h1m1 0h1M62 259h4m1 0h12m1 0h13m2 0h2m3 0h1M58 260h1m1 0h1m3 0h6m1 0h3m1 0h1m1 0h5m2 0h6m1 0h2m1 0h3m3 0h1M63 261h2m1 0h1m1 0h3m1 0h4m1 0h8m1 0h4m1 0h2m2 0h1M53 262h1m4 0h2m6 0h8m2 0h12m3 0h2m3 0h2M53 263h1m1 0h3m3 0h1m1 0h1m1 0h2m2 0h23m2 0h1m4 0h1M66 264h3m1 0h5m1 0h1m1 0h10m1 0h3m1 0h2m5 0h1M63 265h1m3 0h3m1 0h1m1 0h7m1 0h11m1 0h1M60 266h1m2 0h3m1 0h2m1 0h1m1 0h3m1 0h2m2 0h11m4 0h1M67 267h1m3 0h2m1 0h3m1 0h3m2 0h1m5 0h2m1 0h2M64 268h1m3 0h1m1 0h3m2 0h2m1 0h1m2 0h6M61 269h1m6 0h1m1 0h2m1 0h3m1 0h4m1 0h1m2 0h6M66 270h1m2 0h5m1 0h2m1 0h5m2 0h2m2 0h2m4 0h1M59 271h1m8 0h1m2 0h1m1 0h2m1 0h1m1 0h2m3 0h2m9 0h1M75 272h1m1 0h1m1 0h1m2 0h1m2 0h3m5 0h1M65 273h1m7 0h2m6 0h1m1 0h1m4 0h1M61 274h2m5 0h1m4 0h1m2 0h1m4 0h1m6 0h1m8 0h1M69 275h1m1 0h1m6 0h1M66 276h1m14 0h1M81 277h2m1 0h1M74 278h1m8 0h1M79 279h1m2 0h2M79 282h1m3 0h1M86 284h1M75 286h1m2 0h2" stroke="#2190da"/><path d="M87 154h1M96 161h1M96 165h1M77 168h2m5 0h1M76 169h1m2 0h1m7 0h1M83 170h1M79 171h1M76 172h2m7 0h1M84 173h1M77 174h1m15 0h1M75 175h1m1 0h1m5 0h1m4 0h1M77 176h2m1 0h1m11 0h1M79 177h1M90 178h1M79 179h2m1 0h1M72 180h1m1 0h3m1 0h1m1 0h2M72 181h1m4 0h2m1 0h3M65 182h1m9 0h1m3 0h3m1 0h2m3 0h1M69 183h2m1 0h1m3 0h2m2 0h5m1 0h1M68 184h1m1 0h2m1 0h1m1 0h11m3 0h1m3 0h1M68 185h3m1 0h1m2 0h1m1 0h1m1 0h4m1 0h3m3 0h1m2 0h1M60 186h1m4 0h1m2 0h1m2 0h4m1 0h7m1 0h3m1 0h1m3 0h1M62 187h1m4 0h1m1 0h1m1 0h3m1 0h1m1 0h4m1 0h4m2 0h5M54 188h1m7 0h1m3 0h1m3 0h6m1 0h5m1 0h1m1 0h6M61 189h1m2 0h1m2 0h2m1 0h13m1 0h2m1 0h2m1 0h1M65 190h1m1 0h1m1 0h7m1 0h1m1 0h11m1 0h1M59 191h1m5 0h1m2 0h3m1 0h1m1 0h5m1 0h11m1 0h1m1 0h1m1 0h2M66 192h2m1 0h3m1 0h15m1 0h2m5 0h1m2 0h1M67 193h17m1 0h8m1 0h1m4 0h1M65 194h1m1 0h5m1 0h24M63 195h2m2 0h2m1 0h9m1 0h8m1 0h1m1 0h2m1 0h2m2 0h1M60 196h1m1 0h4m1 0h2m1 0h5m1 0h7m2 0h10m1 0h1M57 197h1m6 0h2m2 0h1m1 0h1m3 0h18m1 0h5M65 198h3m1 0h12m1 0h7m1 0h4m1 0h4M61 199h1m2 0h4m1 0h2m1 0h9m4 0h1m1 0h7m1 0h2m3 0h1M57 200h1m2 0h1m1 0h1m3 0h3m1 0h8m1 0h4m1 0h7m1 0h2m1 0h1m1 0h2M58 201h1m4 0h2m2 0h1m1 0h1m1 0h7m1 0h2m1 0h17M59 202h3m2 0h4m2 0h4m1 0h6m1 0h18m2 0h1M59 203h3m1 0h2m2 0h2m1 0h5m1 0h13m1 0h3m1 0h2m1 0h2m1 0h1M64 204h1m1 0h3m1 0h4m1 0h10m1 0h10m1 0h1m2 0h1M52 205h1m7 0h27m1 0h4m1 0h3m1 0h1m2 0h1M59 206h1m1 0h1m1 0h27m2 0h5m1 0h2m2 0h1M58 207h1m3 0h1m1 0h27m2 0h1m2 0h2m1 0h2M55 208h1m1 0h2m2 0h1m1 0h4m1 0h6m1 0h9m1 0h1m1 0h2m1 0h7m1 0h2m1 0h3M55 209h1m1 0h2m3 0h14m1 0h3m1 0h17m1 0h2m2 0h1M57 210h2m1 0h1m2 0h1m1 0h19m1 0h15M55 211h1m6 0h1m1 0h2m3 0h13m1 0h8m1 0h3m1 0h2m4 0h1M58 212h18m1 0h3m1 0h2m1 0h1m1 0h12m1 0h1M61 213h12m1 0h3m1 0h24m2 0h1M56 214h3m1 0h8m2 0h2m1 0h1m1 0h9m1 0h12m1 0h2m1 0h2M58 215h1m1 0h6m1 0h8m1 0h7m1 0h1m2 0h4m1 0h1m1 0h3m1 0h3m1 0h1M54 216h1m5 0h1m1 0h1m1 0h20m1 0h15M51 217h1m5 0h1m1 0h1m1 0h9m1 0h1m2 0h5m1 0h3m1 0h13m2 0h3M60 218h2m1 0h2m1 0h4m1 0h13m1 0h14m1 0h1m1 0h1M52 219h1m5 0h1m1 0h3m1 0h1m1 0h12m1 0h13m1 0h1m1 0h3m3 0h1m2 0h2M60 220h1m1 0h7m1 0h31M50 221h1m3 0h1m5 0h10m1 0h2m1 0h2m1 0h10m1 0h5m1 0h4m1 0h4M58 222h1m1 0h1m1 0h1m2 0h24m1 0h2m1 0h5m1 0h2M56 223h1m1 0h1m1 0h15m1 0h1m1 0h4m1 0h3m1 0h1m1 0h12m1 0h1M56 224h1m3 0h1m1 0h12m1 0h7m1 0h1m1 0h14m1 0h3M55 225h8m2 0h1m1 0h2m1 0h23m1 0h7m2 0h1M54 226h3m2 0h1m1 0h1m1 0h5m1 0h3m1 0h8m1 0h8m1 0h11m3 0h1M52 227h1m5 0h2m1 0h1m1 0h13m1 0h7m2 0h5m1 0h5m1 0h1m1 0h1M55 228h2m3 0h9m1 0h6m1 0h7m1 0h7m1 0h4m1 0h1m2 0h3M57 229h3m2 0h1m1 0h2m1 0h1m1 0h2m1 0h4m1 0h17m1 0h2m2 0h5m4 0h1M54 230h1m5 0h4m1 0h7m1 0h21m1 0h3m1 0h3M57 231h6m1 0h5m1 0h7m1 0h11m1 0h4m1 0h2m1 0h2m2 0h1M56 232h2m1 0h1m1 0h9m1 0h22m1 0h4m2 0h2m1 0h1M61 233h1m1 0h5m1 0h3m1 0h5m1 0h6m1 0h9m1 0h5m1 0h1M56 234h1m1 0h1m1 0h4m1 0h15m1 0h5m1 0h9m3 0h1m1 0h1M56 235h1m3 0h1m1 0h20m1 0h1m2 0h9m1 0h4m7 0h1M54 236h1m4 0h4m1 0h14m1 0h9m1 0h3m1 0h4m2 0h3M58 237h2m1 0h1m1 0h3m1 0h12m2 0h6m1 0h6m1 0h1m1 0h3m5 0h1M54 238h1m3 0h1m2 0h1m1 0h14m1 0h5m1 0h5m1 0h6m1 0h1m2 0h2M60 239h18m2 0h9m1 0h6m4 0h2M62 240h4m1 0h23m1 0h1m2 0h2m1 0h1m1 0h1m1 0h2M57 241h1m3 0h7m1 0h1m1 0h7m2 0h4m1 0h4m1 0h6m2 0h1M61 242h2m1 0h29m1 0h3m4 0h1M62 243h3m1 0h1m1 0h1m1 0h24m1 0h5M59 244h1m1 0h1m1 0h1m1 0h1m1 0h8m1 0h5m1 0h1m2 0h1m1 0h2m1 0h5m1 0h3M62 245h13m1 0h5m1 0h2m1 0h1m1 0h7m1 0h2m1 0h2m2 0h1M61 246h2m1 0h27m1 0h1m1 0h3M59 247h1m2 0h7m1 0h2m1 0h2m1 0h12m1 0h1m2 0h6M61 248h1m2 0h2m1 0h3m2 0h2m1 0h19m1 0h3m1 0h1m2 0h1M60 249h1m1 0h2m3 0h1m1 0h3m1 0h21m1 0h3m1 0h2M61 250h1m1 0h1m1 0h1m1 0h6m1 0h1m1 0h3m1 0h3m1 0h3m1 0h4m1 0h3m2 0h1M62 251h1m2 0h2m1 0h15m1 0h2m1 0h7m1 0h2M63 252h1m1 0h4m1 0h17m1 0h3m1 0h2m1 0h1M54 253h1m8 0h1m1 0h1m1 0h4m1 0h2m1 0h9m1 0h10M60 254h2m6 0h10m1 0h10m1 0h2m2 0h1m2 0h1M62 255h1m1 0h6m1 0h1m1 0h2m1 0h11m2 0h2m2 0h2m2 0h1M54 256h1m4 0h1m3 0h1m3 0h2m1 0h1m1 0h5m2 0h3m1 0h2m2 0h3m1 0h3m2 0h2m1 0h1m1 0h1M58 257h1m1 0h1m1 0h1m2 0h3m1 0h6m1 0h12m1 0h1m1 0h2M67 258h14m1 0h1m1 0h8m2 0h1m3 0h1M63 259h3m2 0h2m1 0h8m1 0h12m4 0h1M60 260h1m3 0h1m1 0h3m3 0h2m1 0h1m1 0h3m1 0h1m2 0h3m4 0h2M64 261h1m3 0h2m2 0h1m1 0h2m1 0h7m3 0h2m2 0h1m3 0h1M58 262h1m7 0h2m1 0h2m5 0h1m1 0h7m2 0h1m4 0h1M65 263h2m4 0h3m1 0h3m1 0h2m1 0h6m1 0h1m1 0h1M66 264h1m4 0h2m1 0h1m3 0h3m1 0h3m2 0h1m1 0h2m2 0h1M69 265h1m1 0h1m1 0h5m1 0h1m1 0h1m1 0h1m2 0h1m2 0h1M72 266h3m1 0h1m4 0h2m2 0h4M71 267h2m1 0h1m5 0h1m2 0h1m8 0h2M64 268h1m3 0h1m1 0h1m1 0h1m3 0h1m1 0h1m3 0h1m3 0h1M71 269h1m1 0h1m1 0h1m3 0h1m5 0h1m2 0h1M70 270h1m4 0h2m1 0h1m1 0h3M71 271h1m2 0h1m8 0h2M75 272h1m1 0h1m8 0h1M65 273h1m7 0h1M76 274h1M74 278h1" stroke="#2cbfcf"/><path d="M83 170h1M79 171h1M78 176h1M90 178h1M79 179h2M72 180h1m3 0h1m4 0h1M78 181h1m3 0h1M72 183h1m3 0h1m3 0h1m2 0h1M75 184h1m1 0h3m1 0h1m2 0h1M80 185h1m3 0h3M71 186h1m1 0h1m2 0h1m2 0h1m1 0h2m1 0h3m1 0h1m3 0h1M67 187h1m3 0h3m3 0h2m1 0h1m1 0h4m2 0h1m2 0h2M70 188h3m1 0h1m2 0h2m1 0h2m1 0h1m1 0h1m1 0h1m1 0h1M67 189h1m2 0h1m1 0h1m1 0h6m1 0h2m1 0h2m1 0h1M65 190h1m1 0h1m1 0h1m1 0h1m5 0h1m1 0h2m2 0h3m3 0h1m1 0h1M68 191h1m1 0h1m1 0h1m1 0h5m1 0h2m1 0h8m1 0h1M70 192h2m1 0h1m1 0h2m1 0h10M68 193h2m2 0h4m1 0h7m1 0h2m1 0h5M67 194h1m1 0h3m1 0h21M64 195h1m2 0h1m2 0h1m1 0h7m1 0h8m1 0h1m2 0h1M65 196h1m2 0h1m1 0h5m1 0h7m2 0h10M68 197h1m1 0h1m3 0h18m1 0h1m2 0h1M65 198h1m1 0h1m2 0h1m1 0h9m1 0h7m1 0h2m3 0h1M61 199h1m2 0h1m2 0h1m2 0h1m1 0h9m4 0h1m1 0h7m2 0h1M60 200h1m1 0h1m3 0h3m1 0h8m1 0h4m1 0h7m2 0h1m1 0h1M64 201h1m2 0h1m1 0h1m1 0h7m1 0h2m1 0h11m3 0h1M60 202h1m3 0h4m2 0h1m1 0h1m2 0h6m1 0h14m1 0h1M59 203h1m1 0h1m2 0h1m2 0h2m1 0h5m1 0h13m1 0h3m1 0h1M66 204h3m1 0h4m1 0h10m1 0h7m1 0h2m1 0h1m2 0h1M60 205h1m1 0h1m3 0h4m1 0h16m1 0h4m1 0h2M63 206h2m1 0h24m2 0h1m1 0h2m3 0h1M58 207h1m3 0h1m2 0h3m1 0h22m2 0h1m2 0h2m2 0h1M58 208h1m2 0h1m1 0h4m1 0h6m1 0h9m1 0h1m1 0h2m1 0h7m4 0h1m1 0h1M57 209h1m4 0h3m2 0h9m1 0h3m1 0h14m1 0h1m6 0h1M57 210h2m4 0h1m1 0h19m1 0h13M55 211h1m9 0h1m3 0h13m1 0h8m1 0h3m1 0h2m4 0h1M62 212h1m1 0h1m1 0h10m1 0h3m1 0h2m1 0h1m1 0h11m2 0h1M63 213h1m4 0h5m1 0h3m1 0h18m1 0h1m1 0h1M57 214h1m3 0h2m1 0h4m2 0h2m1 0h1m1 0h9m1 0h12M62 215h4m1 0h8m1 0h7m1 0h1m2 0h4m1 0h1m1 0h3m1 0h2M60 216h1m1 0h1m2 0h1m1 0h17m1 0h10m3 0h2M59 217h1m3 0h1m1 0h5m1 0h1m2 0h5m1 0h3m1 0h13m4 0h1M61 218h1m1 0h1m3 0h3m1 0h13m1 0h10M60 219h2m2 0h1m1 0h12m1 0h13m1 0h1m1 0h2m4 0h1M60 220h1m2 0h3m1 0h2m1 0h25m1 0h3M61 221h9m1 0h2m1 0h2m1 0h10m1 0h5m1 0h2m3 0h1m2 0h1M58 222h1m3 0h1m2 0h24m1 0h2m1 0h5m1 0h1M56 223h1m3 0h1m1 0h1m2 0h10m1 0h1m1 0h4m1 0h3m1 0h1m1 0h10m3 0h1M60 224h1m1 0h1m1 0h10m1 0h7m1 0h1m1 0h14m1 0h1m1 0h1M57 225h1m7 0h1m1 0h2m1 0h23m1 0h6M63 226h2m1 0h2m1 0h3m1 0h8m1 0h8m1 0h9M58 227h1m2 0h1m1 0h1m1 0h11m1 0h7m2 0h5m1 0h5m1 0h1M63 228h6m1 0h6m1 0h7m1 0h7m1 0h4m6 0h1M58 229h1m6 0h1m1 0h1m1 0h2m1 0h4m1 0h17m1 0h2m2 0h4M54 230h1m5 0h4m1 0h7m1 0h21m2 0h1M60 231h2m2 0h5m1 0h7m1 0h11m1 0h4m1 0h2m1 0h2M61 232h2m1 0h1m1 0h2m1 0h1m1 0h22m1 0h4M64 233h4m1 0h1m1 0h1m1 0h5m1 0h6m1 0h8m2 0h1m1 0h1m3 0h1M58 234h1m2 0h2m2 0h15m1 0h5m1 0h7m1 0h1m3 0h1M62 235h20m1 0h1m2 0h6m1 0h2m1 0h4M61 236h1m2 0h14m1 0h9m1 0h2m2 0h3m4 0h1M61 237h1m1 0h3m1 0h12m2 0h6m1 0h2m1 0h2m2 0h1M61 238h1m1 0h2m1 0h2m1 0h8m1 0h5m1 0h5m1 0h6m1 0h1M60 239h3m1 0h3m1 0h10m2 0h9m1 0h1m1 0h4M63 240h3m2 0h22m1 0h1m3 0h1m1 0h1M61 241h2m4 0h1m1 0h1m1 0h7m2 0h4m1 0h4m1 0h5m3 0h1M66 242h1m1 0h24m2 0h3M63 243h1m6 0h20m1 0h3m1 0h1m1 0h1M59 244h1m1 0h1m1 0h1m4 0h7m1 0h5m1 0h1m2 0h1m1 0h2m1 0h5m1 0h2M62 245h1m1 0h1m2 0h8m1 0h5m1 0h2m1 0h1m1 0h5m1 0h1m1 0h2m1 0h2M62 246h1m1 0h9m1 0h17m1 0h1m1 0h3M64 247h1m1 0h3m1 0h2m1 0h2m1 0h12m1 0h1m2 0h4M61 248h1m7 0h1m2 0h2m1 0h7m1 0h10m2 0h3M69 249h3m1 0h15m1 0h1m2 0h2m2 0h1M63 250h1m1 0h1m2 0h5m1 0h1m1 0h3m1 0h3m1 0h3m1 0h1m1 0h2m1 0h1M70 251h9m1 0h3m1 0h2m3 0h1m2 0h1M65 252h2m1 0h1m1 0h4m1 0h6m1 0h3m3 0h2m2 0h1m2 0h1M68 253h3m1 0h2m1 0h1m1 0h4m1 0h2m1 0h1m2 0h1m1 0h4M60 254h1m8 0h2m1 0h6m1 0h10m2 0h1m2 0h1M62 255h1m1 0h1m1 0h2m1 0h1m4 0h1m1 0h1m1 0h1m1 0h6m4 0h1m2 0h1m3 0h1M59 256h1m7 0h1m2 0h1m1 0h5m2 0h1m1 0h1m2 0h1m2 0h1m1 0h1m2 0h1M62 257h1m6 0h1m6 0h2m2 0h6m3 0h1m1 0h1M70 258h3m1 0h5m1 0h1m1 0h1m4 0h2m1 0h1M63 259h1m5 0h1m2 0h2m1 0h4m1 0h1m1 0h1m1 0h3m3 0h1M60 260h1m12 0h1m1 0h1m1 0h1m1 0h1m1 0h1m2 0h3M68 261h2m5 0h1m1 0h6m4 0h1M58 262h1m8 0h1m2 0h1m7 0h3m3 0h1M73 263h1m3 0h1m1 0h1m3 0h1m1 0h3m1 0h1M71 264h2m6 0h2m1 0h1m4 0h1m1 0h1M69 265h1m1 0h1m1 0h1m1 0h1m1 0h1m1 0h1m1 0h1m4 0h1m2 0h1M81 266h1M74 267h1M78 268h1M78 270h1m3 0h1M75 272h1" stroke="#3fc27e"/><path d="M81 180h1M82 181h1M81 184h1M73 186h1m5 0h1m2 0h1m2 0h2M78 187h1m1 0h1m1 0h1m1 0h1M71 188h1m6 0h1m1 0h2m1 0h1m3 0h1m1 0h1M72 189h1m1 0h1m1 0h4m4 0h1m2 0h1M77 190h1m1 0h1m3 0h1m1 0h1m3 0h1M68 191h1m1 0h1m4 0h4m1 0h2m1 0h3m1 0h1m1 0h1M71 192h1m3 0h2m1 0h5m1 0h2m1 0h1M72 193h3m3 0h6m2 0h1m1 0h3m1 0h1M67 194h1m3 0h1m1 0h8m1 0h2m1 0h3m1 0h3M64 195h1m2 0h1m2 0h1m1 0h4m1 0h2m1 0h8M72 196h3m1 0h1m1 0h5m2 0h7M70 197h1m3 0h18m1 0h1M65 198h1m6 0h2m2 0h1m1 0h3m1 0h7m1 0h2M70 199h1m2 0h2m1 0h5m4 0h1m1 0h3m1 0h1m1 0h1M62 200h1m9 0h3m1 0h1m2 0h4m1 0h7m2 0h1m1 0h1M67 201h1m1 0h1m1 0h7m1 0h2m1 0h11M60 202h1m6 0h1m2 0h1m1 0h1m2 0h6m1 0h11m1 0h1M67 203h2m1 0h5m1 0h13m1 0h2M68 204h1m1 0h2m1 0h1m1 0h10m1 0h7m2 0h1M62 205h1m4 0h3m4 0h13m1 0h4m1 0h2M67 206h1m1 0h21m4 0h2M62 207h1m2 0h1m1 0h1m1 0h4m1 0h17m2 0h1m2 0h1M58 208h1m6 0h1m2 0h6m1 0h9m1 0h1m1 0h2m1 0h7M62 209h1m5 0h1m3 0h4m1 0h3m1 0h3m1 0h10M67 210h17m1 0h8m1 0h3M65 211h1m3 0h1m1 0h11m1 0h8m1 0h3m2 0h1M62 212h1m3 0h2m1 0h7m1 0h3m1 0h2m1 0h1m1 0h11M63 213h1m4 0h5m1 0h3m1 0h17m2 0h1m1 0h1M57 214h1m7 0h3m2 0h2m3 0h9m1 0h2m1 0h9M62 215h1m2 0h1m1 0h8m1 0h7m1 0h1m2 0h4m1 0h1m1 0h1m1 0h1m1 0h1M65 216h1m1 0h17m1 0h10M63 217h1m1 0h5m1 0h1m2 0h5m1 0h3m1 0h11m1 0h1M63 218h1m3 0h3m1 0h13m1 0h10M64 219h1m1 0h1m2 0h9m1 0h13m1 0h1m1 0h2M63 220h3m2 0h1m2 0h24m2 0h1M61 221h1m1 0h1m3 0h2m2 0h2m1 0h2m1 0h10m1 0h5m1 0h1m4 0h1M62 222h1m2 0h1m1 0h22m1 0h2m1 0h2m1 0h2M56 223h1m8 0h1m1 0h1m1 0h6m1 0h1m1 0h4m1 0h3m1 0h1m1 0h5m1 0h3M62 224h1m4 0h7m1 0h7m1 0h1m1 0h11m1 0h1M65 225h1m1 0h2m1 0h23m1 0h1m1 0h1M64 226h1m1 0h2m1 0h3m1 0h8m1 0h8m1 0h3m2 0h1M65 227h11m1 0h7m2 0h5m1 0h3m1 0h1m1 0h1M63 228h1m1 0h4m1 0h6m1 0h7m1 0h7m1 0h4m6 0h1M67 229h1m1 0h2m1 0h4m1 0h17m1 0h2M65 230h1m1 0h1m1 0h3m1 0h21m2 0h1M64 231h5m1 0h4m1 0h2m1 0h11m1 0h4m1 0h1m3 0h1M61 232h1m5 0h1m1 0h1m1 0h18m1 0h2m2 0h1m1 0h2M71 233h1m1 0h5m1 0h6m1 0h6m1 0h1m2 0h1m1 0h1M65 234h1m3 0h11m1 0h5m1 0h5m1 0h1m1 0h1M64 235h2m2 0h3m1 0h10m1 0h1m2 0h5m2 0h1m4 0h1M61 236h1m4 0h2m2 0h8m1 0h9m1 0h2m2 0h3M63 237h1m1 0h1m4 0h9m2 0h6m1 0h2m2 0h1m2 0h1M66 238h1m2 0h3m1 0h4m1 0h5m1 0h5m3 0h1m2 0h1m1 0h1M61 239h2m1 0h1m1 0h1m1 0h1m1 0h5m1 0h2m2 0h9m3 0h1m1 0h1M65 240h1m3 0h12m1 0h7m2 0h1M62 241h1m4 0h1m3 0h1m1 0h5m2 0h4m1 0h4m1 0h2m6 0h1M68 242h14m1 0h9m2 0h1M63 243h1m6 0h1m1 0h6m1 0h8m1 0h2m1 0h1m5 0h1M61 244h1m9 0h4m1 0h5m1 0h1m2 0h1m1 0h2m1 0h1m1 0h2m3 0h1M67 245h1m1 0h1m1 0h4m1 0h2m1 0h2m1 0h2m1 0h1m1 0h2m2 0h1m1 0h1m2 0h1M68 246h3m1 0h1m1 0h13m1 0h3m1 0h1m1 0h2M64 247h1m1 0h1m1 0h1m2 0h1m1 0h2m2 0h11m1 0h1m2 0h1M72 248h1m3 0h2m1 0h3m1 0h5m2 0h1m6 0h1M73 249h3m2 0h1m1 0h8m1 0h1m2 0h2m2 0h1M68 250h4m2 0h1m2 0h1m2 0h2m2 0h3m1 0h1m1 0h1m2 0h1M70 251h9m1 0h2m2 0h2M65 252h1m5 0h2m2 0h5m2 0h3m3 0h1M69 253h1m2 0h1m5 0h3m1 0h2m1 0h1m5 0h1m1 0h1M74 254h1m1 0h2m2 0h1m3 0h2M74 255h1m1 0h1m5 0h3M70 256h1m5 0h1m2 0h1m7 0h1m1 0h1M77 257h1m2 0h1m1 0h1m1 0h1m4 0h1M72 258h1m2 0h1m1 0h2m11 0h1M75 259h1m2 0h1m6 0h2M73 260h1m1 0h1m1 0h1m1 0h1m5 0h1M75 261h1m1 0h1m3 0h1M83 263h1M71 264h2M81 265h1m4 0h1M81 266h1M82 270h1" stroke="#5fc63a"/><path d="M81 180h1M73 186h1m12 0h1M78 187h1m5 0h1M71 188h1M77 189h2M77 190h1M70 191h1m4 0h1m4 0h1m4 0h1m3 0h1M75 192h1m3 0h1m1 0h2m1 0h2M73 193h2m5 0h4m6 0h1m1 0h1M74 194h4m1 0h1m2 0h1m2 0h3m1 0h2M72 195h1m1 0h1m5 0h1m1 0h4M72 196h1m5 0h1m1 0h3m2 0h4m2 0h1M75 197h1m1 0h9m1 0h1m1 0h1M76 198h1m1 0h3m1 0h6m3 0h1M70 199h1m2 0h2m2 0h4m4 0h1m1 0h2M62 200h1m10 0h1m5 0h3m2 0h5M67 201h1m3 0h1m1 0h5m1 0h2m1 0h5m1 0h3m1 0h1M72 202h1m2 0h4m1 0h1m1 0h11M71 203h4m1 0h6m1 0h6m1 0h2M70 204h1m2 0h1m2 0h9m1 0h3m1 0h1m1 0h1M67 205h2m5 0h7m1 0h4m2 0h3m2 0h1M70 206h1m2 0h16m5 0h1M67 207h1m6 0h17m2 0h1M69 208h1m3 0h1m2 0h8m1 0h1m1 0h2m1 0h1m1 0h2m1 0h1M72 209h4m2 0h2m1 0h3m1 0h5m1 0h2m1 0h1M68 210h3m1 0h1m2 0h3m1 0h5m1 0h8M65 211h1m3 0h1m1 0h11m1 0h6m1 0h1m1 0h1M62 212h1m3 0h2m1 0h2m1 0h4m1 0h3m1 0h2m1 0h1m1 0h6m1 0h2M69 213h4m1 0h3m1 0h14m2 0h1M67 214h1m2 0h2m3 0h9m1 0h2m1 0h4m1 0h1m1 0h1M62 215h1m5 0h2m1 0h2m1 0h1m1 0h7m1 0h1m2 0h4m1 0h1m1 0h1M67 216h1m2 0h1m1 0h12m1 0h5m1 0h2m1 0h1M63 217h1m2 0h1m1 0h2m1 0h1m2 0h5m1 0h3m1 0h8m1 0h2m1 0h1M71 218h12m2 0h6m1 0h2M64 219h1m4 0h9m1 0h13m3 0h1M65 220h1m2 0h1m2 0h2m1 0h16m1 0h4M67 221h2m2 0h2m1 0h2m1 0h10m1 0h5m1 0h1M65 222h1m2 0h4m1 0h16m2 0h1m1 0h2m1 0h1M65 223h1m3 0h6m1 0h1m1 0h4m1 0h3m1 0h1m1 0h5m2 0h1M67 224h2m2 0h1m1 0h1m1 0h7m1 0h1m1 0h5m3 0h2M67 225h1m2 0h23M70 226h2m1 0h7m2 0h8m2 0h1m3 0h1M66 227h1m3 0h6m1 0h2m1 0h4m2 0h5m1 0h3M66 228h2m2 0h2m1 0h3m1 0h7m1 0h3m1 0h3M70 229h1m2 0h2m2 0h7m1 0h6m1 0h2M67 230h1m1 0h3m1 0h2m1 0h18M64 231h1m1 0h1m1 0h1m1 0h4m1 0h2m1 0h11m1 0h4M67 232h1m3 0h18m1 0h2m4 0h1M73 233h5m1 0h6m1 0h6M70 234h2m1 0h7m1 0h2m1 0h2m1 0h2m2 0h1m1 0h1M64 235h1m3 0h2m3 0h3m1 0h5m1 0h1m2 0h4M66 236h1m3 0h1m2 0h4m2 0h8m6 0h1M65 237h1m7 0h2m1 0h3m2 0h1m1 0h4m1 0h2M70 238h1m2 0h4m1 0h5m1 0h3m1 0h1m3 0h1M64 239h1m1 0h1m1 0h1m2 0h4m1 0h2m2 0h1m1 0h6M65 240h1m4 0h2m3 0h6m1 0h6m3 0h1M74 241h1m5 0h4m1 0h1m1 0h2m1 0h1M68 242h1m1 0h1m1 0h1m2 0h7m1 0h3m1 0h1m2 0h1M72 243h2m3 0h1m1 0h2m2 0h2m1 0h1m1 0h1m8 0h1M61 244h1m10 0h3m1 0h5m1 0h1m2 0h1m2 0h1M71 245h1m1 0h1m3 0h1m1 0h1m2 0h2m1 0h1m1 0h2m2 0h1M70 246h1m4 0h1m1 0h3m1 0h5m3 0h2m1 0h1M68 247h1m2 0h1m1 0h2m3 0h4m1 0h1m1 0h2M72 248h1m4 0h1m2 0h2m1 0h1m1 0h1M74 249h1m3 0h1m1 0h2m2 0h3m2 0h1M77 250h1m3 0h1m3 0h2M70 251h1m2 0h1m3 0h2m2 0h1m2 0h1M65 252h1m10 0h2m1 0h1m3 0h1M69 253h1m8 0h3m2 0h1M77 254h1m2 0h1m3 0h1M76 255h1m5 0h1M79 256h1M82 257h1M72 258h1m2 0h1M77 260h1m7 0h1M75 261h1M81 265h1" stroke="#b4dc2a"/><path d="M77 189h1M79 192h1m2 0h1M82 193h1M77 194h1m7 0h1m3 0h2M72 195h1m7 0h1m1 0h1m1 0h2M85 196h1m2 0h1m2 0h1M77 197h2m1 0h1m4 0h1m1 0h1m1 0h1M82 198h2m1 0h1m1 0h1M74 199h1m4 0h2m6 0h1M79 200h3m4 0h3M67 201h1m3 0h1m1 0h3m1 0h1m1 0h2m2 0h3m2 0h3m1 0h1M72 202h1m2 0h1m1 0h2m1 0h1m1 0h5m2 0h1M72 203h2m2 0h6m1 0h6m1 0h2M70 204h1m2 0h1m2 0h9m1 0h2M74 205h7m1 0h4m2 0h2m3 0h1M76 206h4m1 0h7M74 207h9m1 0h3m1 0h3m2 0h1M76 208h3m2 0h3m1 0h1m1 0h2m3 0h2m1 0h1M74 209h2m2 0h2m1 0h3m1 0h3m1 0h1m2 0h1m1 0h1M69 210h1m5 0h3m1 0h3m1 0h1m2 0h4m1 0h2M69 211h1m1 0h2m1 0h8m1 0h6m1 0h1M66 212h2m2 0h1m1 0h4m1 0h3m2 0h1m1 0h1m1 0h2m1 0h2m2 0h1M71 213h2m1 0h3m1 0h1m2 0h10m3 0h1M76 214h2m1 0h5m2 0h1m1 0h2M62 215h1m6 0h1m4 0h1m1 0h7m1 0h1m2 0h1m1 0h2M72 216h9m1 0h2m1 0h2m1 0h1m2 0h2M68 217h1m2 0h1m3 0h4m3 0h1m1 0h3m1 0h4m1 0h1M72 218h4m1 0h6m2 0h6m1 0h2M71 219h1m1 0h4m2 0h5m1 0h6M65 220h1m2 0h1m2 0h2m1 0h16m1 0h3M68 221h1m3 0h1m1 0h2m2 0h9m1 0h1m2 0h1M65 222h1m3 0h1m3 0h1m1 0h8m1 0h5m4 0h1m2 0h1M70 223h5m1 0h1m2 0h1m1 0h1m1 0h1m1 0h1m1 0h1m1 0h1m1 0h2M71 224h1m4 0h6m1 0h1m1 0h2m1 0h1m4 0h1M72 225h2m1 0h15m1 0h2M70 226h2m2 0h6m2 0h2m1 0h5M66 227h1m5 0h2m1 0h1m1 0h2m1 0h2m5 0h2m1 0h1M67 228h1m5 0h3m1 0h2m1 0h4m1 0h3m1 0h2M73 229h1m4 0h6m1 0h1m1 0h4m2 0h1M70 230h2m1 0h2m2 0h11m1 0h4M68 231h1m2 0h3m1 0h2m1 0h8m1 0h1m3 0h1M71 232h2m1 0h1m1 0h8m1 0h3m3 0h1M73 233h4m2 0h2m2 0h2m1 0h1m1 0h2M70 234h1m2 0h4m1 0h2m1 0h2m1 0h2m1 0h2m4 0h1M68 235h2m3 0h3m1 0h5m1 0h1m2 0h2M70 236h1m2 0h3m3 0h3m1 0h2m1 0h1M73 237h2m1 0h3m2 0h1m1 0h3m2 0h2M74 238h2m2 0h5m1 0h1m1 0h1m1 0h1M72 239h1m1 0h1m1 0h2m2 0h1m1 0h2m1 0h3M71 240h1m3 0h4m3 0h3m1 0h2M81 241h1m1 0h1m1 0h1M68 242h1m1 0h1m4 0h5m1 0h1m2 0h1m5 0h1M79 243h2m2 0h1m2 0h1M74 244h1m1 0h1m1 0h3M71 245h1m5 0h1m4 0h2m1 0h1m5 0h1M77 246h1m1 0h1m1 0h1m1 0h1M68 247h1m9 0h1m1 0h1m2 0h1m1 0h2M80 248h1m4 0h1M74 249h1m6 0h1m2 0h2m3 0h1M77 250h1m3 0h1M70 251h1m13 0h1M77 252h1M78 253h2m3 0h1M77 254h1M82 255h1M79 256h1M85 260h1" stroke="#f3e41d"/><path d="M77 189h1M79 192h1M77 194h1m7 0h1M84 195h2M85 196h1M80 197h1m8 0h1M85 198h1M80 199h1M80 200h1m5 0h1m1 0h1M73 201h2m2 0h1m1 0h1m3 0h2m3 0h2M75 202h1m4 0h1m2 0h3M72 203h1m6 0h2m2 0h6m1 0h2M73 204h1m2 0h5m1 0h3m1 0h2M74 205h4m1 0h2m1 0h4m3 0h1M78 206h2m3 0h1m1 0h3M75 207h2m1 0h3m1 0h1m1 0h3m1 0h1m1 0h1m2 0h1M76 208h1m4 0h3m1 0h1m1 0h1M74 209h2m2 0h2m1 0h3m2 0h2m1 0h1m2 0h1m1 0h1M75 210h3m1 0h3m1 0h1m2 0h1m4 0h2M74 211h1m1 0h3m2 0h1m1 0h3m1 0h2m1 0h1M75 212h1m1 0h3m2 0h1m3 0h2m2 0h1m2 0h1M71 213h2m1 0h3m1 0h1m2 0h2m2 0h6M76 214h2m1 0h5m2 0h1m1 0h1M74 215h1m1 0h2m1 0h4m4 0h1m2 0h1M72 216h9m1 0h1m2 0h2m1 0h1m2 0h2M68 217h1m6 0h4m5 0h3m1 0h1m1 0h2m1 0h1M74 218h2m2 0h3m1 0h1m2 0h2m1 0h3M73 219h4m2 0h5m2 0h5M65 220h1m8 0h1m1 0h4m1 0h2m1 0h1m1 0h4m2 0h1M68 221h1m5 0h2m2 0h2m1 0h6m1 0h1M65 222h1m3 0h1m5 0h5m1 0h2m1 0h1m1 0h3M74 223h1m1 0h1m2 0h1m1 0h1m1 0h1m1 0h1m3 0h1m1 0h2M71 224h1m4 0h6m1 0h1m1 0h2m1 0h1M72 225h2m1 0h3m4 0h4m5 0h2M74 226h6m2 0h1m2 0h5M72 227h1m2 0h1m1 0h2m1 0h1m6 0h2M75 228h1m1 0h2m2 0h3m1 0h2M78 229h6m1 0h1m1 0h1M71 230h1m1 0h2m4 0h1m1 0h7m1 0h1m2 0h1M72 231h2m4 0h1m2 0h1m2 0h2m1 0h1m3 0h1M71 232h1m4 0h1m1 0h1m1 0h2m1 0h1m1 0h3m3 0h1M73 233h3m3 0h1m3 0h2m1 0h1M70 234h1m2 0h1m1 0h1m2 0h2m1 0h1m2 0h2M69 235h1m4 0h1m2 0h1m1 0h2m2 0h1M70 236h1m12 0h1M77 237h1m3 0h1m2 0h1M78 238h4m4 0h1m1 0h1M76 239h1m6 0h1m2 0h1M71 240h1m4 0h1m5 0h3m1 0h1M81 241h1m1 0h1m1 0h1M77 242h2m2 0h1M79 243h1M74 244h1m4 0h1M83 245h1M83 247h1m1 0h2M85 248h1M77 250h1M77 254h1" stroke="#f8a71b"/><path d="M85 195h1M80 200h1M74 201h1m4 0h1m3 0h1M80 202h1m2 0h1M80 203h1m2 0h5m2 0h2M73 204h1m4 0h1m1 0h1m1 0h2M74 205h2m3 0h1m2 0h2m1 0h1M78 206h2m3 0h1m2 0h1M76 207h1m1 0h1m1 0h1m3 0h1m3 0h1M76 208h1m4 0h2m2 0h1m1 0h1M75 209h1m2 0h2m1 0h1m1 0h1m2 0h1m5 0h1m1 0h1M76 210h2m1 0h1m1 0h1m1 0h1m7 0h1M74 211h1m6 0h1m1 0h3m2 0h1m1 0h1M77 212h3m2 0h1m3 0h1M72 213h1m2 0h1m2 0h1m2 0h2m4 0h4M79 214h5m2 0h1M76 215h2m2 0h3m7 0h1M73 216h1m1 0h1m2 0h3m1 0h1m2 0h2m1 0h1M75 217h1m1 0h2m5 0h3m1 0h1m1 0h1m2 0h1M75 218h1m3 0h1m2 0h1m2 0h1m3 0h1M76 219h1m2 0h3m1 0h1m2 0h2m1 0h2M74 220h1m1 0h4m2 0h1m1 0h1m7 0h1M68 221h1m5 0h1m3 0h2m1 0h6m1 0h1M75 222h4m2 0h2m1 0h1m1 0h3M74 223h1m6 0h1m1 0h1m1 0h1m3 0h1M77 224h5m1 0h1m2 0h1M72 225h2m9 0h3M74 226h6m2 0h1m3 0h1m1 0h2M75 227h1m1 0h2m8 0h2M75 228h1m2 0h1m2 0h3m2 0h1M78 229h4m1 0h1m1 0h1m1 0h1M73 230h1m5 0h1m1 0h5m3 0h1M81 231h1m2 0h2m1 0h1M76 232h1m1 0h1m4 0h1m1 0h2M73 233h1m1 0h1m3 0h1M70 234h1m13 0h2M77 235h1m1 0h2m2 0h1M70 236h1M77 237h1m3 0h1M80 238h1m5 0h1M76 239h1m9 0h1M83 240h2M81 241h1M78 242h1M83 245h1" stroke="#ef521e"/><path d="M80 200h1M74 201h1m8 0h1M80 202h1M80 203h1m2 0h1m1 0h1M78 204h1m4 0h1M75 205h1m3 0h1m2 0h2m1 0h1M78 206h2m3 0h1m2 0h1M78 207h1m1 0h1m3 0h1m3 0h1M76 208h1m5 0h1m2 0h1M75 209h1m3 0h1m1 0h1m1 0h1m2 0h1m7 0h1M77 210h1m1 0h1m1 0h1m1 0h1m7 0h1M85 211h1m2 0h1M77 212h3m2 0h1m3 0h1M81 213h1m6 0h2M79 214h3m4 0h1M76 215h2m4 0h1M78 216h3m4 0h2M75 217h1m9 0h2m1 0h1M79 218h1m5 0h1M86 219h2m1 0h1M74 220h1m1 0h1m1 0h2m2 0h1m1 0h1M68 221h1m9 0h1m2 0h1m1 0h4m1 0h1M75 222h1m1 0h2m2 0h2m3 0h1m1 0h1M74 223h1m8 0h1m1 0h1M77 224h1m1 0h3m1 0h1m2 0h1M72 225h1m10 0h2M74 226h1m2 0h1m1 0h1m2 0h1m3 0h1m1 0h1M77 227h1m10 0h1M81 228h2M78 229h1m1 0h2m5 0h1M79 230h1m1 0h2m1 0h2M84 231h2m1 0h1M86 232h1M73 233h1m1 0h1M77 237h1M80 238h1m5 0h1M78 242h1" stroke="#df1f1b"/></g>
<rect x="1155.5" y="3735" width="443.5" height="442.5" fill="#fff" stroke="#8c8c8c" stroke-width="1.15"/>
<g transform="translate(1156.5 3736.75) scale(1.5)" fill="none" stroke-width="1" shape-rendering="crispEdges"><path d="M70 170h1M149 171h1M157 181h1M90 182h1M175 183h1M175 184h1M24 185h1M171 186h1M151 187h1m10 0h1m29 0h2M173 188h1M117 190h1m15 0h1m35 0h1M31 191h1m135 0h1M0 192h1m158 0h1m15 0h1m17 0h1M189 193h1M33 194h1m15 0h1m38 0h1m27 0h1m7 0h1m36 0h1m2 0h1m20 0h1M163 195h1M81 196h1m52 0h1m36 0h1m1 0h1m8 0h1m1 0h1m2 0h1m11 0h1M16 197h1m4 0h1m48 0h1m36 0h1m38 0h1m18 0h1m12 0h1m6 0h1M169 198h1m7 0h1m10 0h2M157 199h1m7 0h1m5 0h1M171 200h1m3 0h1m6 0h1m9 0h1M107 201h1m52 0h1m1 0h1m4 0h1m2 0h2m3 0h1M111 202h1m3 0h1m39 0h1m4 0h1m1 0h1m4 0h1m1 0h1m4 0h1m8 0h2M51 203h1m40 0h1m71 0h1m2 0h1m1 0h1m1 0h2m13 0h1m6 0h1M5 204h1m46 0h1m90 0h2m18 0h1m1 0h1m2 0h1m2 0h2m2 0h1m3 0h1m14 0h1M15 205h1m13 0h1m81 0h1m12 0h2m33 0h1m21 0h2M149 206h1m10 0h1m1 0h1m3 0h2m4 0h1m7 0h1m4 0h1m5 0h1M99 207h1m21 0h1m14 0h1m15 0h1m11 0h1m10 0h2m3 0h1m5 0h1m6 0h1M38 208h1m43 0h1m46 0h1m2 0h2m20 0h1m4 0h1m1 0h1m4 0h1m1 0h2m4 0h1m2 0h1m19 0h2M35 209h1m32 0h1m62 0h1m8 0h1m10 0h1m2 0h1m6 0h1m1 0h1m3 0h2m6 0h1m5 0h1M77 210h1m14 0h1m25 0h1m8 0h1m17 0h1m16 0h2m3 0h3m1 0h2m1 0h1m7 0h1m7 0h1M32 211h1m14 0h1m22 0h1m66 0h2m11 0h1m8 0h1m3 0h1m4 0h1m2 0h5m2 0h4m5 0h1m1 0h1M20 212h1m55 0h1m22 0h1m4 0h1m1 0h1m6 0h1m5 0h3m8 0h1m16 0h1m9 0h1m6 0h1m3 0h1m4 0h1m2 0h1m6 0h1m2 0h1m3 0h1M62 213h1m15 0h1m24 0h1m7 0h1m4 0h1m7 0h1m9 0h1m7 0h1m10 0h1m2 0h1m2 0h1m7 0h1m1 0h2m1 0h1m2 0h2m1 0h2m1 0h1m11 0h1M5 214h1m10 0h1m107 0h1m7 0h1m5 0h1m4 0h1m1 0h1m8 0h1m5 0h1m5 0h1m1 0h2m1 0h3m5 0h2m1 0h2m4 0h1M0 215h1m17 0h1m5 0h1m27 0h1m4 0h1m58 0h2m9 0h1m8 0h1m16 0h1m4 0h1m3 0h1m3 0h1m2 0h1m1 0h3m2 0h1m2 0h1m3 0h1m4 0h1m5 0h1M28 216h1m27 0h1m10 0h1m33 0h1m3 0h1m2 0h1m3 0h1m7 0h1m31 0h1m4 0h1m2 0h1m3 0h3m2 0h2m2 0h1m9 0h2m1 0h1m1 0h1m2 0h1m4 0h2m9 0h1M61 217h1m48 0h1m4 0h1m7 0h1m1 0h1m4 0h1m14 0h4m14 0h2m1 0h1m2 0h1m2 0h1m1 0h1m1 0h1m2 0h5m4 0h1m3 0h1m6 0h1M3 218h1m10 0h1m24 0h1m1 0h1m9 0h1m30 0h1m6 0h1m20 0h1m10 0h1m3 0h3m17 0h1m1 0h1m7 0h2m3 0h4m1 0h1m1 0h1m2 0h3m6 0h2m1 0h1m3 0h1m9 0h2m6 0h1M4 219h1m50 0h1m16 0h1m16 0h1m21 0h1m6 0h1m4 0h1m2 0h1m11 0h1m15 0h2m3 0h1m2 0h2m4 0h1m1 0h1m1 0h5m1 0h2m7 0h1m1 0h1m10 0h1M40 220h1m4 0h1m30 0h1m24 0h2m2 0h1m12 0h1m4 0h1m30 0h1m1 0h1m2 0h2m6 0h1m1 0h3m1 0h7m3 0h1m1 0h2M72 221h1m35 0h1m3 0h1m1 0h1m13 0h2m3 0h1m3 0h1m12 0h2m2 0h1m2 0h1m5 0h4m2 0h2m4 0h2m6 0h1m2 0h2M34 222h1m7 0h1m3 0h1m7 0h1m28 0h1m5 0h2m6 0h1m11 0h1m18 0h2m3 0h1m2 0h1m2 0h1m8 0h1m11 0h2m1 0h1m4 0h4m3 0h8m4 0h1m1 0h1m2 0h1m1 0h1m13 0h1M6 223h1m56 0h1m4 0h1m31 0h1m6 0h1m7 0h1m7 0h1m5 0h1m1 0h2m3 0h3m7 0h1m12 0h5m2 0h1m1 0h1m2 0h2m1 0h2m1 0h1m1 0h2m1 0h3m9 0h1m5 0h1M11 224h1m2 0h1m73 0h1m3 0h1m3 0h1m8 0h1m4 0h2m12 0h1m3 0h2m29 0h1m1 0h3m2 0h1m1 0h4m1 0h1m1 0h1m1 0h3m6 0h1m4 0h1M37 225h1m10 0h1m63 0h1m13 0h1m7 0h1m7 0h1m10 0h1m1 0h1m4 0h1m1 0h3m2 0h1m2 0h1m1 0h4m4 0h2m5 0h1M29 226h1m3 0h1m24 0h1m11 0h1m14 0h1m3 0h1m9 0h2m14 0h1m7 0h1m2 0h1m5 0h1m9 0h1m5 0h1m8 0h1m4 0h4m5 0h2m4 0h1m2 0h1m1 0h1m1 0h1m1 0h1m3 0h1M54 227h1m4 0h1m29 0h1m1 0h1m2 0h1m17 0h1m2 0h1m10 0h2m4 0h1m2 0h4m5 0h1m1 0h1m13 0h4m1 0h1m2 0h4m1 0h1m1 0h3m1 0h1m3 0h2m1 0h4M22 228h1m18 0h1m12 0h1m23 0h1m11 0h1m1 0h1m7 0h1m5 0h1m5 0h1m4 0h1m1 0h1m8 0h1m11 0h2m16 0h1m1 0h1m3 0h2m4 0h8m1 0h3m1 0h2m6 0h2M25 229h2m38 0h1m2 0h1m11 0h1m9 0h1m8 0h1m1 0h1m2 0h2m3 0h2m2 0h1m38 0h1m3 0h5m1 0h1m1 0h4m1 0h2m1 0h6m4 0h2M17 230h1m22 0h1m31 0h3m11 0h1m12 0h1m3 0h4m12 0h2m6 0h1m3 0h1m1 0h3m1 0h1m6 0h2m5 0h1m2 0h1m3 0h1m1 0h3m1 0h5m1 0h3m1 0h10m4 0h1m4 0h1M5 231h1m20 0h1m26 0h1m2 0h1m18 0h1m17 0h1m4 0h2m3 0h1m14 0h1m7 0h1m1 0h1m1 0h2m5 0h1m2 0h1m1 0h3m6 0h2m2 0h15m1 0h1m2 0h1m1 0h3m1 0h1m2 0h1m4 0h1m1 0h1m2 0h1M21 232h1m7 0h1m11 0h2m13 0h1m9 0h1m9 0h1m14 0h1m9 0h2m5 0h2m3 0h1m5 0h1m6 0h1m3 0h1m10 0h2m1 0h1m6 0h1m2 0h1m1 0h3m1 0h1m1 0h2m1 0h2m1 0h2m2 0h5m1 0h2m1 0h1m4 0h1m3 0h4M12 233h1m5 0h1m5 0h1m7 0h1m17 0h1m6 0h1m16 0h1m11 0h1m10 0h1m1 0h2m4 0h1m4 0h1m4 0h1m8 0h1m12 0h1m7 0h1m5 0h1m1 0h1m1 0h1m1 0h5m1 0h2m1 0h4m1 0h1m1 0h1m1 0h2m2 0h2m1 0h3m3 0h1M10 234h1m19 0h1m2 0h2m1 0h1m11 0h1m19 0h1m4 0h1m1 0h1m3 0h1m5 0h1m20 0h1m10 0h1m5 0h1m5 0h1m2 0h1m1 0h1m1 0h1m1 0h1m2 0h1m4 0h1m3 0h4m1 0h8m1 0h5m1 0h12m1 0h1m11 0h1M11 235h1m13 0h1m1 0h1m2 0h1m1 0h1m2 0h1m7 0h1m3 0h3m4 0h1m1 0h1m3 0h1m1 0h1m1 0h1m2 0h1m4 0h6m1 0h2m5 0h2m2 0h1m1 0h2m2 0h2m2 0h2m1 0h1m9 0h2m2 0h1m2 0h1m1 0h4m5 0h2m4 0h2m2 0h1m2 0h1m2 0h2m1 0h1m2 0h5m1 0h7m1 0h11m1 0h6m4 0h1M10 236h1m13 0h2m3 0h2m6 0h1m6 0h1m1 0h1m1 0h1m7 0h1m1 0h1m2 0h1m4 0h1m9 0h1m3 0h3m3 0h1m4 0h3m3 0h1m1 0h2m13 0h1m1 0h1m1 0h2m5 0h1m2 0h1m3 0h1m13 0h2m1 0h3m1 0h3m1 0h8m1 0h21m10 0h1M0 237h1m7 0h1m1 0h1m6 0h1m6 0h1m3 0h1m1 0h2m3 0h1m5 0h1m1 0h1m1 0h1m2 0h1m2 0h2m1 0h1m6 0h1m4 0h1m2 0h2m1 0h1m1 0h1m7 0h1m4 0h1m4 0h1m1 0h1m1 0h2m7 0h1m3 0h1m2 0h2m6 0h1m1 0h1m1 0h1m2 0h1m5 0h1m1 0h1m12 0h2m1 0h20m1 0h14m1 0h1M0 238h1m7 0h1m1 0h1m9 0h6m12 0h1m1 0h1m1 0h1m8 0h1m2 0h1m2 0h1m5 0h5m1 0h5m1 0h2m2 0h2m1 0h6m1 0h1m1 0h1m7 0h1m1 0h1m4 0h1m1 0h1m3 0h1m2 0h2m2 0h1m1 0h1m1 0h1m1 0h2m5 0h1m4 0h1m9 0h3m3 0h2m1 0h9m1 0h11m1 0h2m1 0h4m1 0h1m4 0h1M0 239h2m5 0h1m2 0h1m7 0h1m2 0h1m5 0h2m1 0h2m1 0h1m3 0h2m3 0h2m1 0h1m5 0h1m1 0h1m1 0h1m2 0h3m1 0h1m2 0h1m1 0h2m2 0h1m3 0h1m3 0h4m1 0h2m5 0h2m1 0h1m1 0h1m6 0h1m1 0h1m2 0h1m1 0h1m1 0h1m2 0h1m1 0h4m2 0h1m1 0h1m3 0h6m1 0h1m4 0h1m4 0h1m1 0h3m1 0h1m1 0h7m1 0h22m1 0h1m7 0h1m3 0h1M0 240h1m3 0h2m2 0h1m3 0h1m1 0h1m3 0h2m5 0h2m3 0h1m3 0h1m7 0h3m1 0h2m4 0h2m1 0h1m1 0h2m3 0h1m1 0h2m2 0h2m5 0h1m4 0h3m1 0h2m1 0h2m1 0h1m2 0h2m3 0h1m1 0h3m3 0h2m2 0h1m3 0h1m4 0h2m3 0h3m1 0h2m2 0h1m1 0h1m1 0h1m1 0h1m4 0h1m2 0h2m1 0h5m1 0h1m1 0h2m1 0h3m1 0h2m1 0h9m1 0h9m1 0h2m9 0h2M4 241h1m2 0h1m1 0h1m3 0h1m2 0h1m3 0h3m1 0h1m1 0h1m1 0h1m5 0h4m1 0h2m1 0h1m1 0h1m1 0h5m1 0h1m1 0h1m1 0h1m1 0h1m2 0h5m1 0h3m1 0h3m1 0h1m2 0h1m2 0h1m3 0h1m1 0h1m4 0h1m3 0h1m1 0h1m1 0h1m1 0h1m4 0h1m2 0h1m2 0h3m2 0h1m4 0h1m11 0h3m1 0h1m7 0h3m1 0h38M2 242h3m1 0h4m1 0h1m1 0h1m1 0h2m1 0h1m1 0h5m3 0h5m2 0h2m1 0h1m8 0h1m1 0h1m3 0h2m4 0h1m2 0h1m1 0h3m1 0h4m9 0h1m2 0h1m4 0h1m1 0h5m2 0h2m2 0h1m6 0h1m1 0h1m2 0h3m3 0h1m5 0h2m2 0h1m4 0h2m1 0h1m2 0h2m2 0h1m3 0h17m1 0h9m2 0h9m1 0h1m5 0h1M0 243h1m2 0h2m2 0h1m7 0h1m5 0h1m11 0h4m2 0h2m1 0h1m6 0h1m2 0h1m4 0h1m1 0h2m1 0h3m2 0h1m2 0h2m5 0h1m2 0h1m1 0h1m1 0h1m3 0h2m2 0h2m2 0h1m1 0h2m2 0h1m1 0h1m4 0h1m1 0h1m4 0h1m1 0h1m1 0h1m1 0h1m4 0h3m1 0h2m2 0h1m4 0h3m1 0h1m1 0h1m1 0h2m1 0h5m1 0h24m1 0h1m1 0h2m1 0h3M0 244h1m2 0h1m1 0h1m5 0h2m1 0h2m2 0h1m1 0h1m4 0h1m1 0h1m1 0h1m3 0h1m4 0h1m1 0h1m3 0h2m4 0h4m2 0h6m2 0h2m2 0h2m2 0h1m2 0h1m1 0h3m1 0h3m1 0h1m1 0h2m1 0h1m3 0h1m1 0h1m2 0h2m1 0h1m7 0h1m2 0h3m2 0h3m1 0h1m5 0h3m1 0h1m2 0h2m1 0h1m3 0h1m2 0h1m1 0h1m2 0h3m1 0h28m1 0h1m1 0h3m1 0h1m4 0h1M0 245h1m6 0h2m3 0h3m3 0h1m4 0h1m5 0h2m8 0h4m1 0h1m1 0h4m3 0h1m1 0h2m1 0h1m1 0h4m5 0h4m2 0h1m3 0h2m4 0h1m2 0h1m1 0h2m1 0h2m2 0h1m4 0h1m2 0h1m1 0h1m4 0h2m6 0h1m4 0h1m1 0h1m6 0h1m6 0h1m1 0h1m1 0h5m1 0h32m1 0h2m5 0h1M0 246h1m5 0h1m2 0h1m1 0h1m1 0h1m1 0h3m1 0h1m1 0h1m1 0h3m1 0h1m2 0h1m1 0h2m2 0h1m1 0h3m4 0h1m1 0h3m2 0h3m2 0h4m1 0h1m2 0h1m1 0h1m1 0h2m2 0h1m2 0h1m1 0h1m3 0h2m4 0h1m1 0h1m1 0h2m1 0h1m5 0h1m2 0h2m2 0h2m3 0h1m3 0h3m5 0h1m2 0h2m1 0h1m5 0h3m3 0h1m1 0h4m1 0h37M0 247h2m1 0h1m3 0h1m2 0h1m2 0h1m3 0h1m4 0h1m1 0h1m4 0h1m1 0h3m6 0h3m2 0h2m1 0h1m2 0h1m1 0h1m1 0h1m2 0h1m1 0h1m1 0h2m2 0h1m1 0h2m1 0h1m1 0h3m2 0h2m1 0h1m4 0h3m2 0h1m1 0h1m1 0h4m2 0h2m1 0h2m3 0h1m1 0h1m5 0h2m1 0h3m1 0h3m3 0h1m3 0h1m3 0h1m2 0h1m3 0h4m2 0h35m1 0h3M0 248h1m1 0h4m1 0h1m2 0h1m5 0h3m4 0h1m2 0h1m6 0h1m1 0h1m1 0h2m1 0h1m3 0h1m1 0h1m1 0h1m5 0h4m2 0h4m1 0h1m3 0h5m2 0h1m4 0h1m3 0h1m5 0h3m1 0h3m1 0h1m6 0h1m1 0h1m1 0h1m2 0h1m1 0h1m2 0h1m2 0h1m4 0h1m1 0h1m1 0h1m1 0h1m4 0h1m1 0h2m1 0h1m4 0h36m1 0h4m1 0h1m8 0h1m2 0h1m71 0h1M0 249h2m4 0h3m4 0h2m3 0h1m2 0h2m1 0h4m8 0h1m5 0h1m1 0h1m1 0h4m3 0h2m1 0h1m1 0h1m2 0h1m3 0h4m2 0h4m1 0h2m2 0h2m1 0h3m1 0h3m1 0h1m3 0h1m1 0h2m1 0h4m1 0h3m1 0h2m3 0h3m2 0h1m5 0h1m1 0h1m2 0h1m1 0h1m1 0h1m1 0h1m2 0h2m1 0h2m1 0h10m1 0h31m1 0h1m1 0h1m14 0h1M2 250h1m1 0h1m1 0h2m1 0h1m1 0h1m1 0h4m3 0h1m3 0h4m2 0h2m1 0h1m3 0h1m3 0h2m1 0h1m2 0h1m1 0h3m1 0h3m3 0h2m1 0h3m2 0h5m3 0h2m1 0h2m4 0h8m1 0h1m1 0h3m2 0h2m3 0h1m1 0h1m1 0h1m4 0h2m1 0h3m1 0h2m3 0h1m1 0h4m4 0h1m3 0h10m1 0h35m1 0h3M0 251h2m1 0h1m3 0h1m3 0h1m5 0h3m1 0h1m2 0h1m1 0h2m1 0h1m3 0h2m1 0h1m2 0h2m1 0h4m2 0h2m3 0h1m4 0h2m1 0h2m2 0h2m1 0h1m1 0h2m1 0h4m2 0h2m1 0h1m4 0h2m1 0h3m4 0h2m1 0h4m2 0h1m1 0h8m1 0h2m1 0h2m4 0h1m2 0h2m2 0h1m7 0h2m1 0h43m3 0h1M0 252h2m1 0h2m1 0h2m2 0h1m2 0h2m2 0h2m3 0h4m3 0h3m3 0h1m1 0h1m1 0h2m3 0h4m2 0h1m2 0h1m2 0h3m2 0h7m1 0h10m2 0h3m4 0h1m1 0h5m2 0h1m3 0h1m1 0h1m3 0h2m2 0h1m4 0h2m1 0h3m1 0h1m3 0h3m5 0h1m1 0h1m1 0h2m2 0h47M0 253h2m6 0h1m3 0h5m1 0h4m2 0h2m1 0h3m2 0h3m1 0h6m2 0h3m1 0h5m2 0h1m1 0h4m1 0h2m3 0h6m1 0h2m1 0h6m2 0h2m1 0h1m2 0h2m3 0h2m3 0h1m1 0h1m1 0h1m2 0h1m1 0h2m1 0h1m3 0h6m1 0h2m1 0h1m1 0h2m4 0h2m3 0h2m1 0h1m1 0h1m1 0h4m1 0h36m1 0h1M0 254h2m2 0h3m2 0h1m1 0h1m1 0h1m3 0h1m1 0h2m1 0h2m1 0h1m1 0h1m4 0h1m2 0h5m1 0h1m1 0h3m1 0h3m1 0h3m4 0h3m1 0h3m1 0h7m1 0h2m1 0h7m1 0h1m1 0h1m1 0h1m1 0h1m2 0h4m3 0h3m2 0h1m3 0h1m1 0h1m2 0h3m1 0h1m2 0h1m2 0h1m1 0h1m3 0h2m1 0h1m2 0h1m1 0h3m2 0h1m1 0h35m1 0h5M0 255h1m2 0h3m2 0h3m2 0h4m2 0h2m1 0h5m1 0h1m1 0h3m1 0h4m1 0h1m5 0h1m1 0h1m1 0h2m2 0h1m1 0h3m1 0h4m1 0h4m1 0h1m2 0h1m1 0h2m1 0h1m1 0h1m1 0h3m3 0h1m1 0h1m1 0h3m3 0h2m5 0h2m1 0h3m2 0h1m1 0h1m2 0h3m2 0h1m1 0h1m2 0h2m2 0h2m2 0h3m4 0h2m1 0h37m1 0h5M0 256h5m2 0h2m1 0h3m1 0h1m1 0h1m3 0h2m1 0h7m1 0h7m2 0h1m1 0h1m1 0h2m1 0h5m5 0h1m2 0h5m1 0h1m1 0h3m2 0h1m1 0h6m1 0h3m2 0h1m1 0h5m1 0h1m4 0h3m1 0h3m4 0h3m3 0h1m1 0h5m1 0h1m1 0h1m2 0h1m2 0h2m3 0h1m1 0h1m1 0h3m1 0h43M1 257h1m1 0h2m1 0h1m2 0h2m1 0h2m1 0h2m2 0h1m1 0h1m1 0h2m1 0h2m1 0h1m1 0h4m3 0h1m1 0h3m4 0h9m2 0h3m1 0h2m1 0h1m2 0h2m1 0h2m1 0h2m1 0h4m4 0h2m1 0h2m1 0h1m1 0h1m1 0h1m4 0h2m1 0h6m3 0h2m1 0h2m2 0h1m2 0h1m1 0h3m1 0h1m1 0h1m3 0h6m2 0h7m1 0h38m1 0h2M0 258h3m2 0h3m2 0h1m1 0h3m3 0h4m1 0h1m1 0h4m2 0h1m2 0h2m1 0h3m2 0h2m2 0h5m2 0h6m2 0h1m2 0h3m1 0h1m2 0h9m3 0h1m1 0h4m3 0h3m1 0h1m1 0h1m1 0h5m3 0h1m1 0h2m3 0h1m3 0h1m1 0h4m4 0h4m3 0h1m5 0h39m1 0h3m1 0h2M0 259h2m1 0h1m2 0h2m1 0h1m1 0h1m1 0h2m2 0h1m1 0h1m1 0h4m1 0h3m1 0h1m1 0h1m1 0h8m1 0h5m1 0h1m1 0h3m1 0h3m1 0h2m1 0h1m1 0h3m2 0h3m1 0h4m2 0h4m1 0h3m1 0h1m3 0h2m1 0h4m1 0h1m2 0h5m1 0h1m2 0h1m2 0h2m2 0h4m1 0h2m2 0h5m3 0h1m2 0h2m1 0h47M0 260h2m1 0h1m2 0h1m2 0h2m2 0h1m1 0h2m1 0h2m1 0h9m2 0h2m2 0h1m1 0h1m2 0h6m1 0h2m1 0h1m2 0h6m1 0h1m1 0h12m1 0h2m2 0h1m1 0h5m1 0h2m1 0h6m2 0h2m3 0h2m2 0h5m1 0h1m3 0h4m3 0h1m1 0h2m1 0h2m1 0h50m1 0h3m45 0h1M0 261h1m1 0h8m1 0h5m1 0h11m1 0h1m1 0h3m1 0h2m1 0h1m1 0h1m1 0h2m1 0h3m2 0h9m1 0h2m1 0h6m2 0h5m1 0h4m1 0h1m1 0h4m1 0h2m1 0h1m1 0h2m2 0h1m4 0h4m1 0h5m1 0h1m6 0h1m1 0h3m1 0h3m1 0h1m1 0h3m1 0h1m1 0h2m1 0h1m2 0h41m1 0h1M4 262h1m2 0h3m1 0h3m1 0h3m1 0h1m1 0h4m1 0h6m1 0h2m1 0h3m3 0h3m3 0h13m1 0h2m2 0h6m1 0h3m3 0h4m2 0h2m2 0h1m1 0h1m1 0h2m1 0h3m1 0h1m1 0h1m1 0h2m2 0h2m1 0h2m1 0h3m1 0h6m1 0h3m1 0h2m1 0h3m4 0h1m1 0h46m2 0h1M0 263h2m1 0h1m1 0h1m1 0h1m3 0h3m1 0h5m1 0h1m2 0h4m1 0h1m1 0h4m1 0h2m1 0h4m2 0h5m1 0h1m1 0h4m1 0h1m1 0h3m2 0h2m1 0h10m1 0h1m1 0h5m2 0h5m1 0h1m1 0h3m1 0h1m2 0h2m3 0h2m1 0h1m1 0h11m1 0h1m1 0h2m3 0h1m1 0h2m1 0h1m1 0h2m2 0h1m1 0h40m1 0h2M0 264h1m4 0h1m3 0h2m1 0h1m3 0h1m1 0h1m1 0h6m1 0h3m1 0h4m1 0h3m1 0h1m2 0h2m1 0h3m1 0h5m1 0h1m2 0h1m1 0h1m1 0h1m1 0h5m1 0h2m1 0h1m1 0h2m1 0h2m1 0h1m2 0h2m1 0h3m2 0h1m1 0h7m1 0h2m4 0h1m1 0h3m4 0h2m1 0h1m1 0h2m1 0h3m2 0h3m2 0h2m1 0h3m1 0h45m1 0h1M0 265h1m1 0h3m2 0h2m1 0h1m4 0h1m1 0h2m2 0h1m1 0h5m1 0h2m1 0h4m1 0h1m1 0h1m2 0h1m1 0h3m1 0h6m1 0h1m1 0h3m2 0h1m1 0h1m1 0h8m1 0h3m1 0h4m1 0h1m3 0h1m2 0h1m1 0h1m3 0h7m1 0h3m1 0h3m3 0h4m2 0h3m1 0h2m1 0h2m1 0h2m1 0h2m4 0h5m1 0h42M0 266h3m2 0h1m1 0h1m1 0h1m2 0h1m1 0h2m1 0h2m3 0h1m1 0h1m1 0h2m1 0h4m1 0h3m1 0h2m1 0h1m1 0h4m1 0h3m1 0h3m1 0h2m2 0h1m2 0h9m2 0h7m1 0h1m1 0h6m2 0h1m3 0h3m1 0h1m1 0h1m1 0h3m1 0h5m1 0h3m7 0h3m1 0h1m1 0h3m1 0h1m2 0h2m2 0h1m1 0h41m1 0h2M0 267h2m2 0h2m7 0h1m1 0h3m2 0h1m1 0h7m6 0h4m2 0h2m3 0h2m1 0h2m2 0h1m1 0h4m1 0h1m1 0h1m1 0h2m1 0h4m1 0h2m2 0h1m1 0h2m1 0h8m2 0h1m2 0h2m1 0h4m2 0h2m2 0h1m4 0h1m2 0h1m1 0h2m2 0h1m2 0h2m3 0h2m3 0h1m1 0h2m1 0h1m2 0h42m1 0h2M0 268h1m1 0h2m1 0h1m2 0h1m2 0h1m1 0h4m1 0h2m1 0h11m1 0h1m1 0h1m1 0h1m1 0h7m1 0h1m3 0h11m3 0h2m1 0h3m5 0h1m1 0h1m1 0h3m2 0h2m1 0h1m1 0h3m1 0h1m5 0h4m1 0h6m5 0h1m1 0h1m2 0h1m1 0h5m4 0h2m1 0h1m3 0h1m2 0h1m1 0h38m1 0h1m1 0h2M0 269h2m1 0h1m4 0h1m1 0h2m4 0h2m3 0h3m1 0h3m3 0h2m3 0h2m1 0h1m6 0h1m2 0h2m1 0h3m1 0h1m2 0h1m1 0h2m1 0h1m1 0h1m2 0h1m1 0h2m1 0h2m2 0h2m2 0h1m2 0h5m1 0h4m1 0h1m1 0h1m1 0h1m3 0h1m1 0h3m1 0h1m3 0h2m2 0h2m2 0h1m5 0h1m1 0h1m6 0h2m1 0h1m3 0h39m1 0h1m1 0h1M0 270h1m2 0h1m2 0h1m3 0h1m2 0h4m2 0h1m1 0h3m1 0h1m1 0h3m2 0h1m3 0h1m2 0h1m2 0h2m1 0h1m1 0h3m1 0h2m2 0h1m1 0h1m3 0h2m1 0h3m2 0h1m1 0h1m1 0h3m2 0h1m5 0h1m1 0h1m2 0h1m3 0h2m1 0h1m1 0h2m2 0h1m1 0h2m2 0h9m3 0h3m1 0h1m5 0h2m1 0h1m1 0h2m5 0h1m1 0h37m1 0h2M1 271h1m5 0h2m13 0h2m2 0h1m2 0h1m3 0h1m1 0h2m2 0h4m5 0h1m1 0h1m3 0h2m3 0h2m2 0h3m1 0h3m2 0h2m1 0h1m2 0h1m2 0h6m3 0h1m1 0h3m1 0h5m1 0h2m1 0h1m1 0h2m1 0h1m4 0h9m1 0h1m4 0h2m5 0h2m3 0h1m1 0h4m1 0h35M0 272h1m2 0h1m4 0h1m1 0h1m4 0h1m2 0h1m1 0h1m2 0h2m9 0h2m1 0h2m5 0h3m2 0h1m4 0h1m1 0h1m1 0h2m1 0h1m1 0h1m2 0h1m1 0h1m1 0h1m1 0h3m3 0h2m1 0h1m4 0h1m1 0h4m2 0h1m1 0h3m2 0h2m1 0h1m3 0h1m3 0h1m2 0h2m1 0h2m6 0h1m3 0h1m6 0h1m3 0h4m1 0h4m1 0h30m2 0h1M3 273h1m1 0h1m6 0h1m6 0h1m2 0h1m1 0h1m1 0h1m2 0h4m2 0h1m1 0h2m2 0h1m1 0h2m1 0h5m7 0h1m1 0h1m2 0h1m3 0h1m3 0h2m2 0h1m2 0h9m1 0h2m1 0h1m4 0h4m1 0h1m1 0h1m1 0h1m8 0h1m1 0h1m2 0h2m4 0h1m10 0h2m1 0h1m4 0h3m1 0h36m5 0h1m12 0h1M0 274h2m3 0h1m4 0h1m1 0h2m3 0h1m2 0h1m1 0h1m1 0h3m6 0h1m1 0h6m3 0h2m1 0h1m3 0h2m3 0h1m2 0h1m1 0h2m2 0h1m3 0h2m1 0h3m5 0h3m7 0h2m4 0h1m3 0h1m2 0h1m1 0h1m1 0h1m4 0h1m2 0h2m1 0h2m4 0h1m1 0h1m8 0h1m6 0h1m1 0h37M1 275h1m9 0h1m5 0h1m6 0h1m1 0h1m2 0h3m1 0h2m3 0h3m4 0h2m4 0h2m3 0h1m1 0h1m1 0h1m3 0h1m1 0h3m2 0h1m2 0h1m1 0h1m2 0h1m1 0h2m1 0h2m1 0h1m1 0h1m2 0h2m2 0h1m1 0h1m1 0h1m2 0h4m1 0h2m3 0h2m5 0h2m5 0h1m3 0h1m11 0h1m1 0h1m1 0h31m3 0h1m22 0h1M0 276h1m2 0h1m3 0h1m11 0h3m1 0h4m6 0h2m1 0h1m2 0h4m2 0h1m6 0h1m5 0h2m1 0h2m2 0h1m3 0h2m1 0h2m1 0h1m7 0h2m1 0h1m3 0h2m3 0h1m1 0h1m1 0h1m4 0h2m8 0h2m5 0h2m1 0h1m2 0h1m13 0h1m1 0h1m1 0h31m1 0h2m1 0h1m2 0h1M9 277h3m5 0h1m4 0h2m6 0h2m3 0h1m5 0h1m1 0h1m1 0h2m10 0h1m1 0h3m10 0h1m2 0h1m1 0h1m3 0h1m2 0h2m17 0h1m5 0h1m3 0h1m7 0h1m3 0h1m9 0h1m9 0h35M3 278h1m12 0h1m9 0h1m3 0h1m9 0h2m2 0h2m1 0h1m7 0h1m3 0h2m1 0h1m2 0h2m3 0h1m4 0h1m1 0h1m5 0h1m9 0h1m1 0h1m5 0h1m6 0h1m7 0h1m10 0h1m3 0h1m1 0h1m11 0h1m1 0h1m1 0h28m2 0h1M9 279h2m7 0h1m1 0h1m15 0h1m6 0h1m3 0h1m7 0h1m3 0h1m1 0h1m12 0h1m4 0h2m2 0h2m4 0h1m5 0h1m2 0h1m6 0h1m1 0h1m9 0h1m6 0h1m5 0h2m4 0h1m5 0h1m4 0h2m1 0h25m1 0h2m11 0h1M27 280h1m16 0h2m3 0h2m17 0h1m18 0h1m3 0h1m8 0h1m19 0h1m5 0h1m8 0h1m1 0h1m4 0h2m3 0h5m1 0h14m1 0h3m1 0h3m4 0h1M0 281h1m20 0h1m1 0h1m20 0h1m7 0h1m9 0h1m2 0h1m32 0h1m3 0h1m27 0h1m2 0h1m2 0h2m4 0h1m5 0h1m1 0h1m1 0h14m1 0h6m1 0h1m10 0h1M36 282h1m15 0h1m3 0h1m31 0h1m24 0h1m6 0h1m12 0h1m9 0h1m1 0h1m2 0h3m1 0h1m1 0h18m1 0h2m3 0h1M0 283h1m87 0h1m15 0h1m1 0h2m3 0h1m15 0h2m1 0h1m7 0h1m9 0h1m1 0h7m1 0h7m1 0h2m1 0h5M37 284h1m34 0h1m15 0h1m18 0h1m5 0h1m4 0h1m10 0h1m3 0h2m1 0h1m2 0h1m12 0h1m1 0h1m1 0h1m1 0h2m1 0h2m2 0h3m1 0h3m3 0h1M89 285h1m13 0h1m19 0h1m10 0h1m2 0h1m4 0h1m9 0h3m1 0h4m1 0h4m1 0h1m1 0h1m1 0h1M109 286h1m33 0h1m5 0h1m6 0h1m2 0h2m2 0h1m2 0h1M45 287h1m75 0h1m4 0h1M115 288h1" stroke="#3247a4"/><path d="M169 210h1M175 211h1M176 212h1M181 213h1M166 214h1M183 215h1M169 216h2M166 217h1m2 0h1m2 0h1m3 0h1m3 0h2M161 218h1m5 0h1m3 0h1M162 219h1m10 0h1m1 0h1m2 0h2M167 220h1m3 0h1m1 0h1m1 0h4m6 0h1M164 221h3m2 0h1M168 222h1m1 0h1m4 0h4M159 223h1m6 0h1m5 0h1m1 0h1m2 0h1m1 0h2m1 0h2M169 224h1m5 0h1m2 0h2M162 225h1m4 0h1m2 0h1m1 0h4m4 0h1M164 226h2m6 0h1m4 0h1M160 227h2m1 0h1m5 0h1m3 0h1m2 0h2m1 0h1M158 228h1m5 0h1m5 0h3m1 0h4m1 0h1m3 0h1M157 229h1m1 0h2m1 0h1m1 0h4m1 0h2m1 0h4m1 0h1m4 0h1M158 230h1m1 0h1m1 0h1m1 0h5m1 0h3m1 0h4m1 0h3m1 0h1M155 231h1m1 0h13m1 0h1m2 0h1m1 0h3m1 0h1M154 232h1m1 0h1m3 0h1m1 0h2m1 0h2m1 0h2m2 0h5m1 0h2m1 0h1M155 233h1m1 0h5m1 0h2m1 0h4m1 0h1m1 0h1m1 0h2m2 0h2m1 0h2M153 234h1m1 0h8m1 0h5m1 0h12m1 0h1M153 235h5m1 0h7m1 0h11m1 0h6M92 236h1m25 0h1m31 0h1m2 0h3m1 0h8m1 0h20M72 237h1m76 0h1m1 0h20m1 0h14M75 238h1m10 0h1m66 0h2m1 0h9m1 0h11m1 0h2m1 0h4m1 0h1M33 239h1m4 0h1m16 0h1m6 0h1m16 0h1m12 0h1m3 0h1m13 0h1m9 0h1m27 0h2m2 0h1m1 0h7m1 0h22m1 0h1M44 240h1m7 0h2m4 0h1m26 0h1m7 0h1m53 0h1m1 0h5m1 0h1m1 0h2m1 0h3m1 0h2m1 0h9m1 0h9m1 0h2M21 241h1m2 0h1m21 0h1m3 0h1m17 0h1m23 0h1m54 0h3m1 0h37M49 242h1m3 0h1m8 0h1m7 0h2m63 0h1m13 0h17m1 0h9m2 0h9m1 0h1M0 243h1m14 0h1m5 0h1m11 0h1m1 0h1m27 0h2m15 0h1m21 0h1m8 0h1m16 0h1m13 0h1m3 0h1m1 0h2m1 0h5m1 0h24m1 0h1m1 0h2M15 244h1m17 0h1m4 0h1m25 0h1m10 0h1m1 0h1m4 0h2m15 0h2m12 0h2m3 0h1m1 0h1m21 0h1m2 0h1m1 0h1m2 0h3m1 0h28m1 0h1m1 0h2M0 245h1m41 0h1m1 0h1m10 0h1m4 0h1m2 0h1m5 0h2m8 0h1m10 0h1m3 0h1m2 0h1m4 0h1m9 0h1m32 0h5m1 0h32m1 0h2M0 246h1m10 0h1m7 0h1m4 0h1m5 0h1m2 0h1m4 0h1m6 0h1m2 0h1m4 0h2m4 0h1m2 0h1m4 0h1m2 0h1m7 0h1m9 0h1m1 0h1m14 0h1m2 0h1m4 0h1m31 0h4m1 0h37M0 247h1m9 0h1m18 0h1m3 0h1m7 0h1m3 0h2m6 0h1m15 0h1m4 0h1m3 0h2m7 0h2m4 0h1m2 0h1m14 0h1m33 0h4m2 0h35m1 0h2M0 248h1m17 0h1m4 0h1m9 0h1m3 0h2m5 0h1m1 0h1m1 0h1m5 0h1m2 0h1m7 0h1m3 0h1m2 0h1m8 0h1m9 0h2m4 0h1m1 0h1m6 0h1m11 0h1m2 0h1m10 0h1m6 0h1m7 0h36m1 0h4M0 249h1m13 0h1m9 0h1m2 0h1m8 0h1m5 0h1m1 0h1m1 0h2m1 0h1m6 0h1m4 0h1m3 0h4m3 0h1m1 0h1m1 0h1m6 0h3m1 0h2m8 0h2m1 0h1m1 0h2m2 0h1m7 0h1m12 0h1m6 0h1m1 0h1m6 0h1m1 0h10m1 0h31m1 0h1M7 250h1m5 0h1m2 0h1m16 0h1m7 0h2m1 0h1m6 0h1m1 0h1m5 0h2m2 0h1m3 0h2m1 0h1m7 0h2m5 0h1m1 0h3m1 0h1m4 0h2m9 0h1m1 0h1m7 0h1m1 0h1m23 0h1m1 0h5m1 0h35m1 0h2M0 251h1m10 0h1m5 0h1m1 0h1m13 0h2m1 0h1m2 0h2m1 0h1m1 0h2m2 0h2m9 0h1m1 0h2m2 0h2m1 0h1m2 0h1m1 0h2m1 0h1m2 0h1m2 0h1m4 0h1m2 0h3m5 0h1m1 0h2m1 0h1m2 0h1m1 0h2m2 0h2m3 0h2m1 0h2m19 0h1m2 0h43M0 252h1m3 0h1m2 0h1m2 0h1m3 0h1m14 0h3m3 0h1m1 0h1m7 0h1m1 0h1m8 0h3m2 0h3m1 0h1m1 0h1m1 0h2m1 0h2m3 0h2m4 0h1m4 0h1m1 0h3m10 0h1m3 0h1m8 0h2m2 0h1m6 0h2m6 0h1m7 0h45M0 253h1m7 0h1m4 0h2m4 0h3m3 0h1m1 0h1m1 0h1m3 0h2m1 0h6m3 0h2m1 0h1m1 0h3m4 0h1m1 0h1m2 0h2m3 0h2m1 0h3m1 0h2m1 0h3m1 0h2m2 0h2m1 0h1m2 0h1m5 0h1m3 0h1m1 0h1m1 0h1m2 0h1m1 0h2m5 0h1m1 0h1m2 0h1m2 0h1m3 0h1m10 0h2m1 0h1m1 0h1m1 0h4m1 0h36M0 254h1m3 0h1m6 0h1m5 0h1m1 0h1m3 0h1m1 0h1m1 0h1m4 0h1m2 0h5m3 0h3m1 0h2m2 0h3m4 0h3m1 0h2m2 0h3m2 0h1m2 0h2m1 0h3m1 0h1m1 0h1m3 0h1m1 0h1m5 0h3m3 0h1m1 0h1m2 0h1m8 0h1m1 0h1m4 0h1m2 0h1m1 0h1m6 0h1m2 0h1m6 0h1m1 0h35m1 0h5M0 255h1m7 0h2m3 0h1m2 0h1m3 0h1m1 0h2m1 0h1m4 0h1m1 0h1m2 0h3m1 0h1m5 0h1m1 0h1m1 0h2m4 0h1m1 0h1m2 0h1m3 0h1m2 0h1m1 0h1m2 0h1m1 0h2m1 0h1m1 0h1m1 0h3m3 0h1m1 0h1m1 0h3m3 0h2m5 0h2m1 0h2m3 0h1m1 0h1m2 0h3m8 0h1m6 0h3m5 0h1m1 0h37m1 0h5M0 256h1m1 0h2m3 0h1m3 0h2m1 0h1m6 0h1m3 0h2m1 0h2m2 0h5m3 0h1m4 0h1m1 0h5m5 0h1m2 0h5m1 0h1m1 0h1m1 0h1m4 0h6m1 0h3m2 0h1m1 0h3m3 0h1m4 0h3m1 0h3m5 0h2m3 0h1m7 0h1m4 0h1m2 0h2m3 0h1m3 0h3m1 0h43M12 257h2m1 0h2m2 0h1m1 0h1m2 0h1m1 0h1m2 0h1m1 0h4m3 0h1m2 0h2m4 0h3m1 0h2m1 0h2m2 0h3m1 0h1m2 0h1m2 0h2m1 0h2m1 0h2m1 0h4m4 0h2m1 0h2m1 0h1m1 0h1m1 0h1m4 0h2m2 0h3m1 0h1m3 0h2m1 0h2m2 0h1m2 0h1m3 0h1m1 0h1m5 0h1m3 0h1m3 0h7m1 0h38M0 258h1m4 0h1m1 0h1m2 0h1m2 0h2m6 0h1m1 0h1m1 0h4m2 0h1m2 0h2m1 0h3m2 0h2m2 0h5m2 0h6m2 0h1m2 0h2m2 0h1m2 0h9m3 0h1m1 0h4m4 0h1m2 0h1m1 0h1m2 0h4m3 0h1m1 0h2m7 0h1m1 0h3m5 0h1m2 0h1m3 0h1m5 0h39m1 0h3m1 0h2M0 259h2m1 0h1m2 0h1m2 0h1m4 0h1m2 0h1m1 0h1m1 0h1m1 0h2m1 0h3m1 0h1m1 0h1m1 0h6m1 0h1m1 0h5m1 0h1m1 0h3m2 0h2m1 0h2m1 0h1m1 0h3m2 0h2m2 0h4m2 0h3m2 0h3m1 0h1m3 0h2m1 0h4m1 0h1m3 0h4m1 0h1m2 0h1m2 0h1m3 0h3m2 0h2m2 0h2m1 0h2m3 0h1m5 0h47M0 260h2m4 0h1m3 0h1m4 0h2m1 0h2m1 0h2m1 0h6m2 0h2m2 0h1m1 0h1m2 0h6m1 0h2m1 0h1m2 0h6m1 0h1m1 0h12m1 0h2m2 0h1m1 0h4m2 0h2m1 0h6m2 0h2m3 0h2m2 0h3m1 0h1m1 0h1m3 0h1m2 0h1m5 0h2m4 0h2m1 0h1m2 0h1m1 0h42m1 0h3M0 261h1m3 0h4m3 0h1m3 0h1m1 0h3m2 0h6m1 0h1m1 0h3m1 0h2m1 0h1m1 0h1m1 0h2m2 0h2m2 0h9m1 0h2m1 0h6m2 0h5m1 0h3m2 0h1m1 0h4m1 0h2m1 0h1m1 0h2m2 0h1m4 0h4m1 0h5m1 0h1m6 0h1m1 0h3m2 0h2m1 0h1m2 0h1m4 0h1m2 0h1m2 0h41m1 0h1M4 262h1m3 0h1m3 0h2m1 0h3m1 0h1m1 0h1m1 0h2m2 0h4m2 0h2m1 0h3m3 0h3m3 0h4m1 0h8m1 0h2m2 0h6m1 0h3m3 0h4m2 0h2m2 0h1m1 0h1m1 0h2m1 0h2m2 0h1m1 0h1m1 0h2m2 0h2m1 0h2m1 0h3m1 0h5m2 0h2m2 0h2m3 0h1m4 0h1m2 0h45M0 263h1m4 0h1m1 0h1m3 0h3m3 0h1m1 0h1m1 0h1m4 0h2m1 0h1m2 0h3m1 0h2m1 0h4m2 0h5m1 0h1m1 0h4m1 0h1m1 0h3m2 0h2m1 0h6m1 0h3m1 0h1m1 0h4m3 0h5m1 0h1m2 0h2m1 0h1m2 0h2m3 0h2m3 0h1m1 0h3m1 0h5m1 0h1m2 0h1m3 0h1m2 0h1m1 0h1m5 0h1m1 0h40m1 0h2M0 264h1m9 0h1m1 0h1m5 0h1m1 0h1m1 0h4m1 0h3m1 0h4m2 0h1m2 0h1m2 0h2m1 0h3m1 0h5m1 0h1m4 0h1m1 0h1m1 0h5m1 0h2m1 0h1m1 0h2m1 0h2m1 0h1m2 0h1m2 0h3m2 0h1m1 0h3m1 0h3m1 0h2m4 0h1m1 0h3m4 0h1m2 0h1m1 0h2m2 0h1m8 0h1m2 0h3m1 0h44M0 265h1m14 0h1m1 0h2m2 0h1m2 0h1m1 0h2m1 0h1m3 0h3m1 0h1m6 0h3m1 0h3m1 0h2m1 0h1m1 0h3m2 0h1m1 0h1m1 0h8m1 0h3m1 0h4m1 0h1m3 0h1m4 0h1m3 0h6m2 0h3m1 0h1m1 0h1m3 0h4m3 0h2m4 0h1m2 0h1m3 0h1m6 0h3m1 0h40M0 266h1m11 0h1m2 0h1m6 0h1m1 0h1m1 0h2m1 0h4m1 0h3m1 0h1m2 0h1m1 0h2m1 0h1m1 0h3m2 0h2m1 0h2m2 0h1m2 0h1m1 0h7m2 0h2m1 0h4m1 0h1m1 0h2m2 0h1m3 0h1m3 0h3m1 0h1m1 0h1m1 0h1m1 0h1m2 0h4m1 0h2m8 0h3m10 0h1m3 0h1m1 0h41m1 0h1M0 267h1m3 0h1m8 0h1m1 0h2m5 0h7m7 0h2m3 0h2m3 0h2m1 0h2m2 0h1m1 0h1m2 0h1m3 0h1m1 0h2m1 0h4m5 0h1m1 0h1m2 0h1m1 0h4m1 0h1m2 0h1m2 0h2m2 0h1m1 0h1m2 0h2m2 0h1m7 0h1m1 0h2m2 0h1m2 0h1m5 0h1m8 0h1m2 0h42m1 0h1M0 268h1m2 0h1m9 0h1m1 0h1m7 0h1m5 0h1m1 0h1m1 0h1m1 0h1m3 0h7m1 0h1m3 0h4m1 0h2m1 0h2m4 0h2m1 0h1m1 0h1m5 0h1m1 0h1m1 0h3m2 0h2m1 0h1m1 0h3m1 0h1m5 0h1m1 0h1m2 0h4m1 0h1m5 0h1m1 0h1m5 0h1m10 0h1m3 0h1m2 0h1m1 0h38m1 0h1M0 269h1m15 0h2m8 0h1m4 0h2m3 0h1m2 0h1m6 0h1m2 0h1m2 0h1m1 0h1m4 0h1m1 0h1m4 0h1m2 0h1m2 0h1m1 0h2m3 0h1m5 0h5m1 0h3m2 0h1m3 0h1m3 0h1m1 0h2m2 0h1m7 0h1m3 0h1m14 0h1m2 0h1m3 0h39m1 0h1M0 270h1m9 0h1m12 0h1m4 0h2m2 0h1m3 0h1m2 0h1m3 0h1m1 0h1m1 0h3m7 0h1m4 0h1m3 0h1m2 0h1m14 0h1m1 0h1m2 0h1m3 0h1m2 0h1m5 0h1m1 0h2m15 0h2m19 0h1m1 0h37m1 0h2M39 271h2m1 0h1m7 0h1m3 0h2m3 0h2m2 0h3m2 0h1m4 0h1m1 0h1m5 0h1m2 0h2m4 0h1m1 0h3m1 0h2m9 0h1m17 0h1m16 0h1m1 0h4m1 0h34M0 272h1m9 0h1m45 0h1m1 0h2m8 0h1m1 0h1m3 0h1m6 0h1m7 0h1m7 0h1m4 0h1m41 0h1m1 0h4m1 0h30m2 0h1M32 273h1m2 0h1m2 0h1m4 0h2m2 0h2m11 0h1m17 0h1m4 0h1m14 0h1m6 0h1m13 0h2m23 0h3m1 0h34M0 274h1m61 0h1m9 0h1m53 0h1m17 0h37M67 275h1m3 0h1m7 0h1m24 0h1m40 0h1m1 0h31M58 276h1m27 0h1m58 0h31m1 0h2M59 277h1m85 0h34M147 278h1m1 0h28M148 279h1m1 0h25m1 0h2M147 280h5m1 0h14m1 0h3m1 0h3M150 281h1m1 0h14m1 0h5m2 0h1M149 282h2m1 0h1m1 0h18m1 0h1M150 283h7m1 0h7m1 0h2m1 0h2m1 0h1M152 284h1m1 0h1m1 0h1m1 0h2m1 0h2m2 0h3m1 0h3M154 285h1m1 0h2m1 0h1m2 0h1m1 0h1" stroke="#2450b2"/><path d="M164 221h1M176 222h1M172 223h1m1 0h1M178 224h1M167 225h1m6 0h1M172 226h1M161 227h1m15 0h1M170 228h1m3 0h3M157 229h1m6 0h1m1 0h2m1 0h2m1 0h1m1 0h2m1 0h1M160 230h1m3 0h5m1 0h1m1 0h1m1 0h1m1 0h2m3 0h1M157 231h1m2 0h2m1 0h7m1 0h1m2 0h1m1 0h1M160 232h1m1 0h2m1 0h2m1 0h2m2 0h3m1 0h1m1 0h1m2 0h1M155 233h1m2 0h4m1 0h2m1 0h4m1 0h1m1 0h1m1 0h2m3 0h1M156 234h7m1 0h5m1 0h12m1 0h1M155 235h2m2 0h7m1 0h11m3 0h2M153 236h1m1 0h1m1 0h8m1 0h18M153 237h2m1 0h15m1 0h13M153 238h2m1 0h9m1 0h11m1 0h2m1 0h2m1 0h1M149 239h1m2 0h1m1 0h7m1 0h22M149 240h2m1 0h2m1 0h1m1 0h2m1 0h3m1 0h2m1 0h9m1 0h7m1 0h1M147 241h1m3 0h3m1 0h33M149 242h17m1 0h9m2 0h7M0 243h1m63 0h1m83 0h2m1 0h5m1 0h24m1 0h1m1 0h1M142 244h1m2 0h1m1 0h1m2 0h3m1 0h28m1 0h1m1 0h2M63 245h1m6 0h1m74 0h2m2 0h1m1 0h32m1 0h2M11 246h1m47 0h1m48 0h1m38 0h2m1 0h37M0 247h1m45 0h1m100 0h2m2 0h35M0 248h1m146 0h36m1 0h4M0 249h1m45 0h1m20 0h1m17 0h1m17 0h1m39 0h1m1 0h10m1 0h31m1 0h1M79 250h1m16 0h1m49 0h4m1 0h35m1 0h2M19 251h1m25 0h1m57 0h1m41 0h42M7 252h1m22 0h1m16 0h1m25 0h1m70 0h42M20 253h1m16 0h1m1 0h1m10 0h1m24 0h1m6 0h1m18 0h1m3 0h1m13 0h1m5 0h1m3 0h1m13 0h1m1 0h1m1 0h4m1 0h36M19 254h1m5 0h1m6 0h1m10 0h1m15 0h1m3 0h1m2 0h1m1 0h1m6 0h1m5 0h1m1 0h1m5 0h1m6 0h1m47 0h1m1 0h35m1 0h5M0 255h1m29 0h1m1 0h1m2 0h2m37 0h1m12 0h1m4 0h1m5 0h1m19 0h1m24 0h1m1 0h37m1 0h3M0 256h1m2 0h1m10 0h1m6 0h1m11 0h1m2 0h1m3 0h1m6 0h2m8 0h1m3 0h1m6 0h1m1 0h1m4 0h2m5 0h2m3 0h1m7 0h1m4 0h1m1 0h1m9 0h1m17 0h1m12 0h2m1 0h41M19 257h1m4 0h1m1 0h1m14 0h1m10 0h1m1 0h2m2 0h1m3 0h1m2 0h1m2 0h1m2 0h1m6 0h2m11 0h1m1 0h1m1 0h1m8 0h1m3 0h1m6 0h1m26 0h1m1 0h5m1 0h37M0 258h1m34 0h1m2 0h1m3 0h1m3 0h2m1 0h1m3 0h1m1 0h1m2 0h1m2 0h1m11 0h5m1 0h1m3 0h1m1 0h1m1 0h1m10 0h1m4 0h2m5 0h1m11 0h1m13 0h1m5 0h39m1 0h3M23 259h1m4 0h1m3 0h1m1 0h2m1 0h1m1 0h1m1 0h1m3 0h3m1 0h1m1 0h3m2 0h1m3 0h1m1 0h1m1 0h1m4 0h2m5 0h1m2 0h3m3 0h2m1 0h1m6 0h1m1 0h1m2 0h1m3 0h1m1 0h1m21 0h1m7 0h1m5 0h45M0 260h1m5 0h1m14 0h2m1 0h1m1 0h1m1 0h1m3 0h1m5 0h1m2 0h1m4 0h1m1 0h1m6 0h2m1 0h2m5 0h2m1 0h6m3 0h1m7 0h1m3 0h1m1 0h2m1 0h2m3 0h1m4 0h2m6 0h1m14 0h1m11 0h1m3 0h40m1 0h3M0 261h1m10 0h1m7 0h1m5 0h1m7 0h1m1 0h1m4 0h1m1 0h1m3 0h2m2 0h1m1 0h2m1 0h2m1 0h1m1 0h1m3 0h1m1 0h3m2 0h1m3 0h1m2 0h2m5 0h1m1 0h1m1 0h2m1 0h1m5 0h1m4 0h2m3 0h3m1 0h1m18 0h1m7 0h1m2 0h1m2 0h40M28 262h2m3 0h1m3 0h1m4 0h1m1 0h1m5 0h2m2 0h1m1 0h2m1 0h2m5 0h5m2 0h3m4 0h2m4 0h1m4 0h1m2 0h1m1 0h1m3 0h1m3 0h1m7 0h1m1 0h1m7 0h1m2 0h2m15 0h45M0 263h1m6 0h1m26 0h1m4 0h3m3 0h1m1 0h2m2 0h1m2 0h3m1 0h1m1 0h3m2 0h1m7 0h1m3 0h1m1 0h1m2 0h2m5 0h1m1 0h1m5 0h2m1 0h1m2 0h1m4 0h1m6 0h1m27 0h1m1 0h40M0 264h1m17 0h1m1 0h1m1 0h1m5 0h2m3 0h2m13 0h1m2 0h2m10 0h1m2 0h1m2 0h1m6 0h2m1 0h1m2 0h1m2 0h1m10 0h2m3 0h1m1 0h1m5 0h1m8 0h1m2 0h1m21 0h43M0 265h1m14 0h1m8 0h1m1 0h2m5 0h1m3 0h1m7 0h2m2 0h1m3 0h1m1 0h1m2 0h2m2 0h1m1 0h1m3 0h1m4 0h1m2 0h2m1 0h1m1 0h2m5 0h1m4 0h1m3 0h6m3 0h1m2 0h1m6 0h3m24 0h2m1 0h38M0 266h1m14 0h1m16 0h1m8 0h1m6 0h1m1 0h1m12 0h1m1 0h1m4 0h2m5 0h2m5 0h2m2 0h1m3 0h1m3 0h1m3 0h1m3 0h1m1 0h1m3 0h1m3 0h2m9 0h1m15 0h1m1 0h41M0 267h1m24 0h1m2 0h1m7 0h2m3 0h2m4 0h1m7 0h1m9 0h1m3 0h1m8 0h1m2 0h1m2 0h1m1 0h1m31 0h1m24 0h1m1 0h39M23 268h1m7 0h1m7 0h1m11 0h1m1 0h1m3 0h1m12 0h1m5 0h1m4 0h1m25 0h2m7 0h1m1 0h1m16 0h1m8 0h38m1 0h1M16 269h1m14 0h1m17 0h1m11 0h1m23 0h2m4 0h1m18 0h1m33 0h39m1 0h1M0 270h1m85 0h1m57 0h37m2 0h1M39 271h1m24 0h1m3 0h1m75 0h4m1 0h34M144 272h1m1 0h4m1 0h28m1 0h1m2 0h1M32 273h1m112 0h2m1 0h33M145 274h33m1 0h1M79 275h1m67 0h31M146 276h30m1 0h2M146 277h32M147 278h1m1 0h28M148 279h1m1 0h25m2 0h1M148 280h4m1 0h14m1 0h3m1 0h2M152 281h14m1 0h4m3 0h1M149 282h2m1 0h1m1 0h13m1 0h2m1 0h1M151 283h1m1 0h4m1 0h7m1 0h1m3 0h1M154 284h1m1 0h1m1 0h2m2 0h1m2 0h2m2 0h1M159 285h1" stroke="#1d66c8"/><path d="M170 228h1M157 229h1M165 230h1M163 231h1m1 0h4M165 232h2m5 0h1m3 0h1m4 0h1M155 233h1m3 0h1m4 0h1m1 0h4m3 0h1m2 0h1M158 234h2m2 0h1m1 0h1m1 0h1m1 0h1m1 0h9M156 235h1m2 0h6m3 0h5m1 0h2m5 0h1M157 236h2m1 0h5m3 0h10m1 0h1M153 237h1m3 0h1m3 0h3m1 0h6m1 0h6m1 0h1m1 0h1m1 0h2M153 238h2m3 0h7m1 0h4m1 0h6m1 0h2m1 0h1M154 239h3m1 0h3m1 0h17M152 240h1m2 0h1m1 0h2m1 0h3m1 0h2m1 0h9m1 0h6M151 241h1m3 0h28M153 242h13m1 0h9m2 0h4m1 0h1M149 243h1m2 0h4m1 0h24m1 0h1m1 0h1M150 244h3m1 0h28m1 0h1M151 245h32m1 0h1M148 246h1m3 0h33M147 247h2m2 0h34M147 248h1m2 0h33m1 0h1M0 249h1m145 0h9m1 0h30M79 250h1m67 0h3m1 0h33m1 0h1M146 251h2m1 0h34m1 0h1m1 0h1M145 252h1m1 0h38M147 253h4m1 0h33M32 254h1m114 0h34m1 0h4M145 255h37m1 0h3M40 256h1m105 0h1m1 0h38M144 257h1m1 0h3m1 0h36M98 258h1m45 0h1m1 0h35m1 0h3M45 259h1m18 0h1m23 0h1m55 0h37m1 0h2M28 260h1m42 0h1m71 0h40m1 0h1M66 261h1m1 0h1m9 0h1m66 0h39M59 262h1m7 0h1m12 0h1m64 0h40M54 263h1m3 0h1m14 0h1m69 0h1m1 0h39M143 264h42M68 265h1m10 0h1m64 0h1m1 0h38M0 266h1m47 0h1m95 0h1m1 0h34m1 0h2M145 267h37m1 0h1M144 268h2m1 0h35M144 269h1m1 0h35m1 0h1M145 270h36M145 271h3m1 0h32M147 272h3m1 0h28m1 0h1M148 273h32M146 274h31M147 275h29m1 0h1M148 276h26m1 0h1m1 0h1M149 277h24M149 278h23m1 0h1M151 279h22M148 280h1m2 0h1m1 0h14m1 0h3m2 0h1M152 281h1m1 0h12m1 0h3M154 282h13M153 283h1m1 0h2m1 0h2m1 0h1m2 0h1M156 284h1m1 0h1" stroke="#2190da"/><path d="M167 233h1M166 234h1m5 0h2m1 0h1m1 0h1M164 235h1m3 0h1m1 0h1M160 236h1m1 0h2m4 0h6m1 0h1M163 237h1m6 0h1m1 0h2m1 0h3m1 0h1M158 238h2m3 0h1m2 0h3m2 0h4m1 0h1m1 0h1M158 239h2m3 0h9m1 0h3M157 240h1m2 0h3m1 0h2m1 0h4m1 0h4m1 0h1m2 0h1M158 241h1m1 0h1m1 0h2m1 0h11m1 0h2M153 242h1m2 0h2m1 0h7m1 0h5m1 0h3m2 0h4M149 243h1m4 0h2m1 0h3m1 0h16m1 0h1m1 0h1M151 244h1m4 0h2m1 0h11m1 0h11M153 245h1m1 0h1m1 0h19m1 0h5m2 0h1M152 246h2m1 0h1m1 0h26m1 0h1M151 247h1m3 0h26m1 0h1M152 248h31M150 249h5m1 0h26m2 0h1M147 250h1m5 0h1m1 0h26m1 0h2M149 251h1m1 0h3m1 0h28M149 252h1m1 0h31m1 0h1M149 253h2m1 0h32M147 254h34m1 0h1M145 255h1m3 0h33m1 0h1M149 256h33M146 257h1m3 0h33m1 0h1M148 258h33m3 0h1M147 259h2m1 0h31m1 0h2M146 260h1m1 0h34M145 261h38M146 262h39M146 263h4m1 0h31M144 264h3m1 0h36M146 265h1m1 0h34M146 266h33M145 267h34m2 0h1M147 268h33m1 0h1M144 269h1m1 0h3m1 0h27m1 0h3M147 270h30m1 0h1M147 271h1m2 0h28m2 0h1M148 272h2m1 0h27M148 273h27m1 0h1M146 274h1m1 0h27m1 0h1M150 275h1m1 0h22m1 0h1M150 276h1m1 0h19m1 0h2M150 277h1m2 0h20M152 278h20M152 279h1m1 0h12m1 0h4M151 280h1m1 0h14m1 0h1M155 281h6m2 0h1m1 0h1M154 282h1m2 0h3m1 0h6" stroke="#2cbfcf"/><path d="M170 235h1M162 236h1m5 0h1m2 0h1M172 237h1m2 0h1M163 238h1m10 0h1M158 239h1m9 0h1m1 0h1m3 0h2M160 240h1m6 0h1m2 0h1m2 0h1m1 0h1m4 0h1M166 241h6m2 0h1m3 0h1M156 242h2m3 0h2m1 0h2m2 0h1m2 0h1m1 0h1m1 0h1m2 0h1M161 243h2m1 0h7m2 0h4m1 0h1M156 244h1m3 0h1m1 0h2m1 0h5m1 0h6m1 0h1M155 245h1m1 0h7m1 0h6m1 0h2m1 0h1m1 0h1m1 0h3m2 0h1M157 246h2m3 0h4m1 0h8m1 0h3m1 0h1M155 247h3m1 0h21M153 248h1m2 0h7m1 0h15M153 249h1m3 0h2m1 0h1m1 0h15m2 0h1m1 0h1m2 0h1M155 250h26M152 251h1m4 0h24M153 252h2m1 0h1m1 0h20m1 0h2M152 253h4m1 0h25M150 254h3m1 0h25m1 0h1M151 255h3m1 0h23m2 0h2m1 0h1M149 256h1m1 0h1m1 0h28M150 257h1m1 0h3m1 0h24m1 0h1M149 258h32M151 259h30M152 260h30M150 261h28m1 0h3M148 262h1m1 0h3m1 0h25m2 0h1M148 263h2m1 0h29m1 0h1M149 264h30m1 0h2M148 265h4m2 0h25m2 0h1M147 266h3m1 0h1m1 0h25M150 267h1m1 0h27M147 268h31M146 269h1m3 0h27M149 270h28M150 271h26M148 272h2m1 0h3m1 0h19M148 273h2m2 0h21m1 0h1M149 274h5m1 0h17m1 0h1M150 275h1m1 0h18m1 0h1m1 0h1M152 276h4m1 0h14m2 0h1M154 277h10m1 0h2m1 0h2M152 278h1m3 0h1m1 0h7m3 0h1m2 0h1M154 279h9m1 0h1M154 280h1m1 0h1m1 0h4m3 0h2M157 281h1m2 0h1m2 0h1M159 282h1" stroke="#3fc27e"/><path d="M168 239h1M170 240h1m2 0h1M167 241h1m6 0h1M161 242h1m3 0h1m9 0h1M164 243h1m1 0h1m3 0h1m4 0h2M160 244h1m5 0h2m1 0h1m2 0h1m1 0h1m1 0h1m1 0h1M157 245h1m2 0h1m2 0h1m1 0h1m2 0h2m9 0h1M164 246h2m1 0h1m1 0h5m2 0h3M156 247h1m4 0h2m2 0h4m1 0h3m1 0h2m2 0h1M161 248h1m2 0h9m2 0h1M162 249h2m1 0h5m1 0h4M155 250h2m2 0h1m1 0h1m1 0h12m1 0h3M152 251h1m4 0h1m1 0h11m1 0h3m1 0h2m1 0h1m1 0h1M156 252h1m1 0h5m1 0h1m1 0h9m1 0h2m1 0h1M153 253h1m1 0h1m1 0h3m1 0h12m1 0h4M154 254h2m2 0h19m1 0h1m1 0h1M152 255h1m4 0h18m2 0h1m2 0h1M149 256h1m3 0h1m1 0h3m1 0h4m2 0h14M150 257h1m5 0h1m1 0h21m2 0h1M149 258h1m1 0h1m1 0h1m2 0h23M153 259h1m1 0h2m1 0h22M152 260h23m1 0h4M150 261h1m1 0h1m1 0h24M148 262h1m5 0h25M148 263h1m3 0h3m1 0h22m1 0h1m1 0h1M149 264h1m1 0h1m1 0h2m1 0h21M154 265h23M151 266h1m1 0h24M154 267h23m1 0h1M151 268h1m1 0h1m1 0h1m1 0h19M150 269h1m2 0h22M149 270h2m3 0h23M150 271h1m1 0h1m1 0h4m1 0h14M151 272h3m2 0h18M152 273h1m2 0h1m1 0h13M151 274h1m1 0h1m1 0h2m1 0h14M150 275h1m3 0h2m1 0h13m1 0h1M153 276h3m1 0h3m2 0h3m1 0h4m3 0h1M155 277h1m3 0h1m1 0h3m1 0h2m1 0h1M156 278h1m2 0h1m1 0h2M159 279h1m1 0h1M159 280h1" stroke="#5fc63a"/><path d="M168 239h1M164 243h1M172 244h1M165 245h1m2 0h1M165 246h1m4 0h1M170 247h1m3 0h1M164 248h3m1 0h1M162 249h1m4 0h1m1 0h1m1 0h2m1 0h1M159 250h1m3 0h3m1 0h1m2 0h1m1 0h1m1 0h1m1 0h1M157 251h1m1 0h1m4 0h6m1 0h3m1 0h1M158 252h1m2 0h1m2 0h1m1 0h1m1 0h3m1 0h1m1 0h1M159 253h1m5 0h1m1 0h3m1 0h2m1 0h1m2 0h1M161 254h5m1 0h1m1 0h8M157 255h1m1 0h2m2 0h2m1 0h1m1 0h7m2 0h1M160 256h3m2 0h1m1 0h9m1 0h2M160 257h2m2 0h8m1 0h4m1 0h1M149 258h1m6 0h1m2 0h18m1 0h1M156 259h1m2 0h18m1 0h1M155 260h2m1 0h2m2 0h13m1 0h1m2 0h1M156 261h21M156 262h20M153 263h1m4 0h18M149 264h1m7 0h19M154 265h1m1 0h2m1 0h18M154 266h1m1 0h19M154 267h2m1 0h16m2 0h2M157 268h17M153 269h1m1 0h1m2 0h1m1 0h13m1 0h1M154 270h2m1 0h17M155 271h1m1 0h1m1 0h12M151 272h3m3 0h13m1 0h1M158 273h12M155 274h1m2 0h1m1 0h7m2 0h1M155 275h1m1 0h3m1 0h1m2 0h1m1 0h3M153 276h1m1 0h1m3 0h1m3 0h1m3 0h1M162 277h1m3 0h1m1 0h1M156 278h1m5 0h1M161 279h1" stroke="#b4dc2a"/><path d="M168 245h1M164 248h1M167 249h1m1 0h1m2 0h1m1 0h1M170 250h1m1 0h1M166 251h1m1 0h2m1 0h3M158 252h1m11 0h1m1 0h1M165 253h1m2 0h1m5 0h1m2 0h1M161 254h1m3 0h1m1 0h1m1 0h1m4 0h3M160 255h1m2 0h1m2 0h1m1 0h2m2 0h3M165 256h1m2 0h8M160 257h1m3 0h8m1 0h3M161 258h2m2 0h9m1 0h2m1 0h1M160 259h15m1 0h1M156 260h1m1 0h1m3 0h13m1 0h1M158 261h1m1 0h15M157 262h2m1 0h2m1 0h10M160 263h14M160 264h14M156 265h2m2 0h13m1 0h1M156 266h19M158 267h2m1 0h12m2 0h1M158 268h1m1 0h12m1 0h1M155 269h1m5 0h12M154 270h1m3 0h16M157 271h1m3 0h7m2 0h1M158 272h1m2 0h6m1 0h1M162 273h6M161 274h3m1 0h1m3 0h1M157 275h1m3 0h1m2 0h1M159 276h1M156 278h1" stroke="#f3e41d"/><path d="M172 249h1M168 251h1m4 0h1M169 254h1m6 0h1M166 255h1m1 0h2m3 0h1M165 256h1m4 0h5M166 257h1m1 0h1m1 0h1m3 0h1M165 258h4m1 0h4m4 0h1M163 259h7m1 0h2M162 260h2m1 0h7m1 0h1M160 261h1m2 0h12M161 262h1m1 0h10M161 263h13M160 264h14M160 265h13m1 0h1M158 266h4m1 0h9m1 0h1M158 267h1m2 0h12M160 268h12M161 269h2m1 0h7m1 0h1M154 270h1m3 0h1m2 0h7m1 0h4M157 271h1m3 0h7m2 0h1M161 272h6m1 0h1M164 273h1m1 0h2M162 274h1m2 0h1" stroke="#f8a71b"/><path d="M166 255h1M166 257h1m3 0h1M165 258h1m2 0h1m1 0h1m1 0h1M163 259h7m1 0h1M162 260h1m3 0h6m1 0h1M165 261h8m1 0h1M161 262h1m1 0h7m2 0h1M161 263h1m1 0h7m1 0h3M160 264h1m2 0h3m1 0h7M161 265h9m1 0h2M161 266h1m1 0h2m1 0h5m2 0h1M161 267h2m1 0h8M160 268h7m1 0h3M161 269h2m1 0h4m1 0h2M161 270h1m2 0h4m2 0h1M161 271h5m1 0h1M163 272h2m1 0h1m1 0h1M166 273h2" stroke="#ef521e"/><path d="M165 258h1m2 0h1m1 0h1M165 259h5m1 0h1M166 260h6m1 0h1M165 261h5m1 0h1M163 262h7M164 263h1m1 0h1m1 0h1m2 0h1m1 0h1M164 264h2m1 0h2m1 0h4M163 265h3m1 0h1m3 0h2M161 266h1m2 0h1m2 0h1m1 0h2M162 267h1m3 0h3m1 0h1M160 268h1m1 0h1m1 0h3m1 0h2M162 269h1m1 0h1m1 0h1M165 270h3m2 0h1M161 271h2m2 0h1M164 272h1" stroke="#df1f1b"/></g>
<rect x="1761.5" y="3735" width="444" height="442.5" fill="#fff" stroke="#8c8c8c" stroke-width="1.15"/>
<g transform="translate(1762.5 3736.75) scale(1.5)" fill="none" stroke-width="1" shape-rendering="crispEdges"><path d="M172 189h1M128 191h1m8 0h1m7 0h1m1 0h1m20 0h1m69 0h1M113 192h1m24 0h1m2 0h1m29 0h1m3 0h1m26 0h1M8 193h1m8 0h1m71 0h1m42 0h1m12 0h1m10 0h2m5 0h1m24 0h1M128 194h1m5 0h1m5 0h1m1 0h1m6 0h1m3 0h1m2 0h1m8 0h1m1 0h1m4 0h1m35 0h1M39 195h1m96 0h1m12 0h1m2 0h2m1 0h1m6 0h1m10 0h1m1 0h1m19 0h1M126 196h1m4 0h1m1 0h1m2 0h1m5 0h1m1 0h1m1 0h1m7 0h1m1 0h2m1 0h2m3 0h1m15 0h2m7 0h1m10 0h1m5 0h1m8 0h1M15 197h1m13 0h1m33 0h1m50 0h1m8 0h2m1 0h1m1 0h1m2 0h1m7 0h1m6 0h1m2 0h1m2 0h2m2 0h4m3 0h1m3 0h1m2 0h1m48 0h1M58 198h1m36 0h1m14 0h1m5 0h1m7 0h1m2 0h1m3 0h3m5 0h1m2 0h2m2 0h1m1 0h1m7 0h1m1 0h1m1 0h1m1 0h2m1 0h1m1 0h1m2 0h1m2 0h1m1 0h2m4 0h1m59 0h1M9 199h1m5 0h1m2 0h1m5 0h1m110 0h2m1 0h3m2 0h2m5 0h4m3 0h1m5 0h1m2 0h1m75 0h1M24 200h1m1 0h1m44 0h2m5 0h1m26 0h1m12 0h1m1 0h1m4 0h3m1 0h1m2 0h1m7 0h1m2 0h1m1 0h1m2 0h1m1 0h1m3 0h1m1 0h3m3 0h2m3 0h1m2 0h2m2 0h1m2 0h1m1 0h1m2 0h4m36 0h1m18 0h1m7 0h1M1 201h1m7 0h1m5 0h1m12 0h1m33 0h1m38 0h1m5 0h1m4 0h1m6 0h1m9 0h2m4 0h1m1 0h1m1 0h1m4 0h1m5 0h1m3 0h3m1 0h1m1 0h3m4 0h1m2 0h1m1 0h4m2 0h1m1 0h1m2 0h2m14 0h1m3 0h1m3 0h1m4 0h1m14 0h1M4 202h1m24 0h1m15 0h1m30 0h1m15 0h1m11 0h1m13 0h1m8 0h1m2 0h4m1 0h1m1 0h1m5 0h3m4 0h3m1 0h4m3 0h3m1 0h2m4 0h1m3 0h2m7 0h1m2 0h1m2 0h1m3 0h1m19 0h1m2 0h1m8 0h1m4 0h1M12 203h1m7 0h1m51 0h1m15 0h2m14 0h1m2 0h1m16 0h1m5 0h2m2 0h2m1 0h3m1 0h3m4 0h1m1 0h2m3 0h1m1 0h5m1 0h1m2 0h3m1 0h1m18 0h1m2 0h1m4 0h1m13 0h1m25 0h1m1 0h1m1 0h1M44 204h1m14 0h1m26 0h1m1 0h1m5 0h1m3 0h1m1 0h1m6 0h1m5 0h1m8 0h1m1 0h1m3 0h2m1 0h2m3 0h1m1 0h1m2 0h1m2 0h1m4 0h1m2 0h4m12 0h1m5 0h1m5 0h1m5 0h2m1 0h1m38 0h1m15 0h1M12 205h1m14 0h1m36 0h1m12 0h1m5 0h1m4 0h1m5 0h1m1 0h1m2 0h1m1 0h1m1 0h3m10 0h2m10 0h1m4 0h2m3 0h1m1 0h2m3 0h1m1 0h1m1 0h1m1 0h1m3 0h1m1 0h2m1 0h1m2 0h2m1 0h1m5 0h2m1 0h2m3 0h3m1 0h1m2 0h2m10 0h1m2 0h1m13 0h1m7 0h1M23 206h1m11 0h1m41 0h1m9 0h1m2 0h1m1 0h1m2 0h1m1 0h7m1 0h1m1 0h2m1 0h1m1 0h1m14 0h1m5 0h4m1 0h3m1 0h1m4 0h1m9 0h4m2 0h5m1 0h1m2 0h5m1 0h1m2 0h1m9 0h1m2 0h1m2 0h1M44 207h1m9 0h1m23 0h1m8 0h1m1 0h6m1 0h5m1 0h2m1 0h1m1 0h3m1 0h1m7 0h1m3 0h1m8 0h1m3 0h1m3 0h1m2 0h1m1 0h4m1 0h1m1 0h1m1 0h2m1 0h1m1 0h2m4 0h4m1 0h5m4 0h2m14 0h1m16 0h1m1 0h1m1 0h1m8 0h1M20 208h1m18 0h1m45 0h2m2 0h1m2 0h9m3 0h3m2 0h2m1 0h1m3 0h1m10 0h2m1 0h3m2 0h4m1 0h2m1 0h2m5 0h5m1 0h1m1 0h1m1 0h5m2 0h2m1 0h2m4 0h1m3 0h1m11 0h1m4 0h1m19 0h1m6 0h1m2 0h1m10 0h1M27 209h1m3 0h1m47 0h1m1 0h1m1 0h1m2 0h1m3 0h7m2 0h1m1 0h1m1 0h2m1 0h10m1 0h1m9 0h1m8 0h10m1 0h1m1 0h2m3 0h1m2 0h2m2 0h1m3 0h1m2 0h1m1 0h2m1 0h1m1 0h1m1 0h1m1 0h2m1 0h1m2 0h1m24 0h1m7 0h1M25 210h1m10 0h1m43 0h1m4 0h1m1 0h9m1 0h6m1 0h3m1 0h3m1 0h9m1 0h1m4 0h1m1 0h2m2 0h1m1 0h1m1 0h1m4 0h1m1 0h5m4 0h4m1 0h2m1 0h1m3 0h3m1 0h1m3 0h2m3 0h1m3 0h1m2 0h1m4 0h1m2 0h2m9 0h1m12 0h1m15 0h1M12 211h1m28 0h1m14 0h1m16 0h1m7 0h1m4 0h7m1 0h18m3 0h3m1 0h2m2 0h1m3 0h2m1 0h1m1 0h1m1 0h3m1 0h3m3 0h1m6 0h2m2 0h2m4 0h1m1 0h1m1 0h9m1 0h2m1 0h1m1 0h2m3 0h1m9 0h2m3 0h1m10 0h1m2 0h1m7 0h1m13 0h1m10 0h1M41 212h1m12 0h1m18 0h1m3 0h1m2 0h1m1 0h1m2 0h10m1 0h11m1 0h1m1 0h4m1 0h4m6 0h1m4 0h1m7 0h3m3 0h4m1 0h1m2 0h4m2 0h2m3 0h1m1 0h1m1 0h2m3 0h1m3 0h2m2 0h1m3 0h2m24 0h1m15 0h1M5 213h1m6 0h1m9 0h1m9 0h1m30 0h1m14 0h2m3 0h2m1 0h3m1 0h4m1 0h5m1 0h4m1 0h13m1 0h3m6 0h2m3 0h10m2 0h3m1 0h2m1 0h2m1 0h2m1 0h2m1 0h2m2 0h2m4 0h1m1 0h1m2 0h2m5 0h1m6 0h2m20 0h1m14 0h1M6 214h1m39 0h1m19 0h1m4 0h1m2 0h1m2 0h1m1 0h1m1 0h1m1 0h3m1 0h1m1 0h5m1 0h4m1 0h1m1 0h10m1 0h6m1 0h1m1 0h2m2 0h2m1 0h1m2 0h1m2 0h1m8 0h2m3 0h3m1 0h3m1 0h3m1 0h4m1 0h1m1 0h1m1 0h2m1 0h3m2 0h1m1 0h1m1 0h1m1 0h2m1 0h1m4 0h1m33 0h1M61 215h1m16 0h5m1 0h8m2 0h1m1 0h12m1 0h1m1 0h10m2 0h2m7 0h1m1 0h2m1 0h1m1 0h1m2 0h1m1 0h1m1 0h1m1 0h1m1 0h1m1 0h4m1 0h1m1 0h2m3 0h2m1 0h3m2 0h1m1 0h2m6 0h3m4 0h1m16 0h1m4 0h1m3 0h1M2 216h1m36 0h1m14 0h1m6 0h1m4 0h1m4 0h2m3 0h7m2 0h6m1 0h9m1 0h2m1 0h6m1 0h9m1 0h2m4 0h1m2 0h1m2 0h1m1 0h3m2 0h4m1 0h2m1 0h2m1 0h4m1 0h4m3 0h2m1 0h1m3 0h3m2 0h1m2 0h1m5 0h1m7 0h1m4 0h1m3 0h1m14 0h1m7 0h1M15 217h2m59 0h1m2 0h2m1 0h6m2 0h18m1 0h1m1 0h7m1 0h3m1 0h2m6 0h1m1 0h1m3 0h1m1 0h1m3 0h4m5 0h1m2 0h7m2 0h3m2 0h1m4 0h1m1 0h2m2 0h1m8 0h1m2 0h1m11 0h1m4 0h2m11 0h1m5 0h1m17 0h1M31 218h1m17 0h1m12 0h1m10 0h1m2 0h3m1 0h10m1 0h7m1 0h4m2 0h10m1 0h1m3 0h2m1 0h1m1 0h3m1 0h1m1 0h2m1 0h1m1 0h2m1 0h2m1 0h5m1 0h4m2 0h2m2 0h1m1 0h2m2 0h1m1 0h3m1 0h1m2 0h1m1 0h1m3 0h1m6 0h1m10 0h1m8 0h1m7 0h1m1 0h1m3 0h1m10 0h1m17 0h1M32 219h1m32 0h1m3 0h1m2 0h1m1 0h11m1 0h20m1 0h3m3 0h5m2 0h4m1 0h3m1 0h2m1 0h2m1 0h1m1 0h4m1 0h2m5 0h2m2 0h1m2 0h2m4 0h1m2 0h3m2 0h3m2 0h1m2 0h1m1 0h2m1 0h2m13 0h1m4 0h1m3 0h1m5 0h1m12 0h1m1 0h1m4 0h1M26 220h1m6 0h1m37 0h3m2 0h1m1 0h4m1 0h15m2 0h1m1 0h3m1 0h10m1 0h7m2 0h2m4 0h1m3 0h1m2 0h2m1 0h1m1 0h1m1 0h1m3 0h1m2 0h2m5 0h2m1 0h1m1 0h2m1 0h1m1 0h3m4 0h1m1 0h1m3 0h1m4 0h1m4 0h1m8 0h1m18 0h1M18 221h1m40 0h1m7 0h1m7 0h8m1 0h9m1 0h4m1 0h14m1 0h3m1 0h12m1 0h2m1 0h1m1 0h1m1 0h1m1 0h11m4 0h7m1 0h4m3 0h2m2 0h1m3 0h1m2 0h1m1 0h1m3 0h1m7 0h1m15 0h1m6 0h1m1 0h1m4 0h1m7 0h1m7 0h1M7 222h1m11 0h1m4 0h1m25 0h1m10 0h1m2 0h1m2 0h1m1 0h1m3 0h1m1 0h39m1 0h12m1 0h3m2 0h3m1 0h3m1 0h7m1 0h3m1 0h1m2 0h3m3 0h2m2 0h3m3 0h2m1 0h1m2 0h2m3 0h1m9 0h2m1 0h1M6 223h1m1 0h1m2 0h2m1 0h1m54 0h2m1 0h6m1 0h4m1 0h7m1 0h24m1 0h1m2 0h2m1 0h3m1 0h3m1 0h1m2 0h1m1 0h3m2 0h2m2 0h5m1 0h2m1 0h1m1 0h3m1 0h1m1 0h1m2 0h2m1 0h1m1 0h7m3 0h1m3 0h1m5 0h1m1 0h1m15 0h1m5 0h1M25 224h1m31 0h1m4 0h1m7 0h6m1 0h1m1 0h1m1 0h5m1 0h32m1 0h2m1 0h7m5 0h1m2 0h5m1 0h1m1 0h1m1 0h2m2 0h1m1 0h1m1 0h2m5 0h2m2 0h2m1 0h3m2 0h1m1 0h1m8 0h1m2 0h1m15 0h1m1 0h2m1 0h1m15 0h2M3 225h1m4 0h1m20 0h1m34 0h1m3 0h1m2 0h4m1 0h2m1 0h6m1 0h12m1 0h9m1 0h11m1 0h11m1 0h1m1 0h1m1 0h3m1 0h2m1 0h1m1 0h3m4 0h1m1 0h2m1 0h3m1 0h3m1 0h2m2 0h4m1 0h1m1 0h3m3 0h2m2 0h1m11 0h1m2 0h1m1 0h3m1 0h2m13 0h1m10 0h1M5 226h1m16 0h1m3 0h1m32 0h1m2 0h1m6 0h1m1 0h8m1 0h13m2 0h35m1 0h1m3 0h1m2 0h2m1 0h5m1 0h3m1 0h2m2 0h1m1 0h1m1 0h2m2 0h4m3 0h2m1 0h2m1 0h4m7 0h1m3 0h2m2 0h1m1 0h4m1 0h1m2 0h2m3 0h1m2 0h2m4 0h1m1 0h1M8 227h1m2 0h1m57 0h2m2 0h50m1 0h10m4 0h3m1 0h6m2 0h5m1 0h3m3 0h1m4 0h2m1 0h1m1 0h2m2 0h1m1 0h2m11 0h1m1 0h1m1 0h1m1 0h1m1 0h3m1 0h3m1 0h1m2 0h1m3 0h1m1 0h1m2 0h1M17 228h1m6 0h1m13 0h1m21 0h1m7 0h2m1 0h6m1 0h19m1 0h25m1 0h10m1 0h1m1 0h1m3 0h5m3 0h2m3 0h1m3 0h2m1 0h2m1 0h3m1 0h3m1 0h1m1 0h1m11 0h1m2 0h2m1 0h8m1 0h1m1 0h9m2 0h1m1 0h1m2 0h1m3 0h1M9 229h1m36 0h1m14 0h1m3 0h1m2 0h8m1 0h33m1 0h22m3 0h3m1 0h1m1 0h1m5 0h1m1 0h2m2 0h1m2 0h1m1 0h1m2 0h2m2 0h3m8 0h1m4 0h3m1 0h2m1 0h14m1 0h11m1 0h3m5 0h2m20 0h1M5 230h1m4 0h1m24 0h1m11 0h1m16 0h2m4 0h4m1 0h2m1 0h45m1 0h3m1 0h3m1 0h3m1 0h1m1 0h2m1 0h1m1 0h1m4 0h1m2 0h1m1 0h1m1 0h1m1 0h2m1 0h5m3 0h2m1 0h2m6 0h1m1 0h1m1 0h11m1 0h1m1 0h3m1 0h11m1 0h5m2 0h1m2 0h2m4 0h1m3 0h2M16 231h1m18 0h1m32 0h1m1 0h63m1 0h3m1 0h1m2 0h2m1 0h1m3 0h3m2 0h8m5 0h3m1 0h1m1 0h3m5 0h14m1 0h14m1 0h4m1 0h7m1 0h2m2 0h1m5 0h1M8 232h1m1 0h1m2 0h1m23 0h1m18 0h1m12 0h16m1 0h49m1 0h1m2 0h4m1 0h1m1 0h2m3 0h1m1 0h1m1 0h3m1 0h1m1 0h3m1 0h1m1 0h1m4 0h1m3 0h1m1 0h2m1 0h7m1 0h1m2 0h8m2 0h2m1 0h1m1 0h3m1 0h2m2 0h1m1 0h8m1 0h1m2 0h1M62 233h1m3 0h4m1 0h3m1 0h34m1 0h26m3 0h3m2 0h1m2 0h4m1 0h4m1 0h1m2 0h7m1 0h2m1 0h2m3 0h6m2 0h15m1 0h9m1 0h2m1 0h10m4 0h1m2 0h1m1 0h1m4 0h1M0 234h2m29 0h1m12 0h1m4 0h1m17 0h8m1 0h3m1 0h56m1 0h1m2 0h5m5 0h1m1 0h2m1 0h9m1 0h2m3 0h3m2 0h15m1 0h31m1 0h8m2 0h1M66 235h20m1 0h49m1 0h3m1 0h1m2 0h3m1 0h1m3 0h1m1 0h4m1 0h3m2 0h3m1 0h2m2 0h3m1 0h14m1 0h12m1 0h8m1 0h4m1 0h12m2 0h3m1 0h2m1 0h1M56 236h1m2 0h1m2 0h1m5 0h3m2 0h7m1 0h3m1 0h42m1 0h10m1 0h2m3 0h1m3 0h1m1 0h2m1 0h1m2 0h2m1 0h1m1 0h2m1 0h4m1 0h1m2 0h6m1 0h1m1 0h3m1 0h8m1 0h20m1 0h10m1 0h8M38 237h1m24 0h2m1 0h2m1 0h1m1 0h5m1 0h59m1 0h1m1 0h3m2 0h2m4 0h4m1 0h1m1 0h5m1 0h2m1 0h6m1 0h3m1 0h10m1 0h17m1 0h19m1 0h5m1 0h1m2 0h2m5 0h1M31 238h1m31 0h58m1 0h15m1 0h1m1 0h2m1 0h2m2 0h2m4 0h1m1 0h4m5 0h2m3 0h4m2 0h1m1 0h1m1 0h14m1 0h2m1 0h18m1 0h2m1 0h14m4 0h1m5 0h1M6 239h1m51 0h1m7 0h12m1 0h8m1 0h49m2 0h1m1 0h1m1 0h2m2 0h4m1 0h6m3 0h4m1 0h11m1 0h3m1 0h2m1 0h3m1 0h16m1 0h29m7 0h1m12 0h1M30 240h1m10 0h1m18 0h1m1 0h3m1 0h1m1 0h71m1 0h5m1 0h1m1 0h1m1 0h3m1 0h1m1 0h2m3 0h2m1 0h3m2 0h6m1 0h29m1 0h12m1 0h3m1 0h3m1 0h6m1 0h1M20 241h1m21 0h1m12 0h1m2 0h1m2 0h1m2 0h1m1 0h11m1 0h59m1 0h2m5 0h4m1 0h2m2 0h2m1 0h4m2 0h2m3 0h38m1 0h2m1 0h14m1 0h9m1 0h4M9 242h1m41 0h1m9 0h1m3 0h17m1 0h55m1 0h1m2 0h2m3 0h3m6 0h4m1 0h1m1 0h1m2 0h3m1 0h2m2 0h63m2 0h1M12 243h1m15 0h1m28 0h1m5 0h1m1 0h1m1 0h71m1 0h1m1 0h6m1 0h1m1 0h2m1 0h1m2 0h4m1 0h1m2 0h1m2 0h2m1 0h63m1 0h4m1 0h1M6 244h1m19 0h1m13 0h1m6 0h1m4 0h1m8 0h2m1 0h6m1 0h3m1 0h63m2 0h2m11 0h2m1 0h1m1 0h2m1 0h1m4 0h67m1 0h5m2 0h1M63 245h1m1 0h64m1 0h8m1 0h4m1 0h1m1 0h2m1 0h1m2 0h2m1 0h2m2 0h3m2 0h1m2 0h7m1 0h34m1 0h20m1 0h9m4 0h1M5 246h1m16 0h1m14 0h1m8 0h1m12 0h1m5 0h70m1 0h6m1 0h7m1 0h7m2 0h2m1 0h3m1 0h1m1 0h8m1 0h26m1 0h26m1 0h2m1 0h5M9 247h1m12 0h1m22 0h1m2 0h1m11 0h1m2 0h6m1 0h71m1 0h3m1 0h2m1 0h2m3 0h1m1 0h1m4 0h1m1 0h1m1 0h2m1 0h66m1 0h4m2 0h2M25 248h1m29 0h1m6 0h8m1 0h61m1 0h10m2 0h1m1 0h2m2 0h2m1 0h3m2 0h4m2 0h9m1 0h3m1 0h60m1 0h1m1 0h1m24 0h1M60 249h1m3 0h3m1 0h67m1 0h3m1 0h1m3 0h2m2 0h2m3 0h2m3 0h4m1 0h1m1 0h8m1 0h63m1 0h1m1 0h1M63 250h1m1 0h75m3 0h2m1 0h1m2 0h1m4 0h2m2 0h2m1 0h2m1 0h3m1 0h72m1 0h1M11 251h1m3 0h1m5 0h1m16 0h1m25 0h1m1 0h69m1 0h4m4 0h1m1 0h1m2 0h1m1 0h1m4 0h1m1 0h1m2 0h1m1 0h4m1 0h75M20 252h1m15 0h1m25 0h4m1 0h73m3 0h7m1 0h3m2 0h1m1 0h1m1 0h3m1 0h1m1 0h4m1 0h66m1 0h2m2 0h2M18 253h1m7 0h1m17 0h1m19 0h2m2 0h1m1 0h69m5 0h1m1 0h1m1 0h1m2 0h4m1 0h1m1 0h3m1 0h2m1 0h76M17 254h1m34 0h1m6 0h1m2 0h1m2 0h71m1 0h1m4 0h5m1 0h1m3 0h1m5 0h3m1 0h3m1 0h1m1 0h70m1 0h1m1 0h3M8 255h1m1 0h1m3 0h1m27 0h1m19 0h1m1 0h1m1 0h69m1 0h1m1 0h1m1 0h2m1 0h1m1 0h1m2 0h1m1 0h1m1 0h2m6 0h2m2 0h6m2 0h6m1 0h55m1 0h10M21 256h1m15 0h1m26 0h2m1 0h71m2 0h3m4 0h3m2 0h3m1 0h3m1 0h2m2 0h1m1 0h1m1 0h68m1 0h6M0 257h1m2 0h1m15 0h1m41 0h1m2 0h1m1 0h69m1 0h2m1 0h1m1 0h2m1 0h1m1 0h2m1 0h1m3 0h4m1 0h1m2 0h1m1 0h2m1 0h3m1 0h3m1 0h5m1 0h61m2 0h1M16 258h1m18 0h1m25 0h1m1 0h73m1 0h2m2 0h2m3 0h6m1 0h2m2 0h2m3 0h1m2 0h2m1 0h72m1 0h2M62 259h2m2 0h2m1 0h70m3 0h2m2 0h2m1 0h3m1 0h2m4 0h4m1 0h77m1 0h3M56 260h1m5 0h1m3 0h70m1 0h3m2 0h2m3 0h2m1 0h1m1 0h4m3 0h3m1 0h1m3 0h75m2 0h1M3 261h1m44 0h1m11 0h1m5 0h68m1 0h3m2 0h1m1 0h2m3 0h1m2 0h1m1 0h5m1 0h1m2 0h5m1 0h2m1 0h73M42 262h1m21 0h1m1 0h1m1 0h70m1 0h1m2 0h2m1 0h2m1 0h1m2 0h3m4 0h1m2 0h1m1 0h78m2 0h2M13 263h1m25 0h1m11 0h1m7 0h1m3 0h2m1 0h72m1 0h1m1 0h2m2 0h1m1 0h1m1 0h3m3 0h1m2 0h3m2 0h1m2 0h9m1 0h69M48 264h1m9 0h1m6 0h71m1 0h4m1 0h3m2 0h2m3 0h5m1 0h1m2 0h2m1 0h2m1 0h6m1 0h67m1 0h2M20 265h1m43 0h1m1 0h69m1 0h1m1 0h3m1 0h1m3 0h1m3 0h2m1 0h1m2 0h1m1 0h2m6 0h12m1 0h65M2 266h1m33 0h1m8 0h1m20 0h67m1 0h3m1 0h1m1 0h4m3 0h1m1 0h1m1 0h1m1 0h3m2 0h1m1 0h1m3 0h78M2 267h1m61 0h1m2 0h1m1 0h65m2 0h2m1 0h5m1 0h5m1 0h4m1 0h1m2 0h1m1 0h7m1 0h74m1 0h1M5 268h1m35 0h1m19 0h1m5 0h61m1 0h9m1 0h1m1 0h3m1 0h1m2 0h4m2 0h1m1 0h3m1 0h7m1 0h16m1 0h57M54 269h1m12 0h4m1 0h63m2 0h2m3 0h4m1 0h1m3 0h1m1 0h4m3 0h6m1 0h2m1 0h6m1 0h64M12 270h1m12 0h1m4 0h1m32 0h1m1 0h1m2 0h65m3 0h2m1 0h6m1 0h1m1 0h2m2 0h1m4 0h1m1 0h1m1 0h2m5 0h1m2 0h2m1 0h66m1 0h3M19 271h1m5 0h1m42 0h1m1 0h65m2 0h2m2 0h1m2 0h1m1 0h1m1 0h1m5 0h2m4 0h1m1 0h2m2 0h1m1 0h1m2 0h1m1 0h3m1 0h63m1 0h1M21 272h1m45 0h1m2 0h62m2 0h6m1 0h1m1 0h4m2 0h2m1 0h1m1 0h1m1 0h2m1 0h1m1 0h1m1 0h4m1 0h2m2 0h6m1 0h56m1 0h5M54 273h1m3 0h1m9 0h1m1 0h58m1 0h4m1 0h1m1 0h2m1 0h3m1 0h1m1 0h1m6 0h1m1 0h1m1 0h4m6 0h1m1 0h1m4 0h2m1 0h8m1 0h2m1 0h51m2 0h1m1 0h1m1 0h1M11 274h1m47 0h1m5 0h1m3 0h63m3 0h1m2 0h1m2 0h1m2 0h1m4 0h1m1 0h1m2 0h1m2 0h3m1 0h1m3 0h1m3 0h1m1 0h1m1 0h1m1 0h1m1 0h54m1 0h8M40 275h1m20 0h2m7 0h60m1 0h1m4 0h4m1 0h2m1 0h6m1 0h1m1 0h1m1 0h4m3 0h1m2 0h1m1 0h3m1 0h1m1 0h2m1 0h3m1 0h2m1 0h2m1 0h3m1 0h10m1 0h33m1 0h7M38 276h1m31 0h62m1 0h1m3 0h6m1 0h1m1 0h1m1 0h5m1 0h3m1 0h1m1 0h1m2 0h2m2 0h2m3 0h1m1 0h2m3 0h1m2 0h3m1 0h37m1 0h12m2 0h1M4 277h1m17 0h1m2 0h1m7 0h1m17 0h1m14 0h1m4 0h2m1 0h3m1 0h52m2 0h1m1 0h1m1 0h1m1 0h3m2 0h1m1 0h3m2 0h1m3 0h7m1 0h2m1 0h1m2 0h1m2 0h1m1 0h1m2 0h8m2 0h44m1 0h4m4 0h1m2 0h1M51 278h1m8 0h1m7 0h1m5 0h56m3 0h1m1 0h3m1 0h1m2 0h1m2 0h2m3 0h1m3 0h2m1 0h6m1 0h3m2 0h2m1 0h3m2 0h1m1 0h1m1 0h1m1 0h9m1 0h40m2 0h1M6 279h1m64 0h1m1 0h50m1 0h4m2 0h1m1 0h2m1 0h5m1 0h3m1 0h1m1 0h1m1 0h4m3 0h2m3 0h2m2 0h1m2 0h1m1 0h2m2 0h1m8 0h13m2 0h25m1 0h6m1 0h1M70 280h1m2 0h1m1 0h51m1 0h4m1 0h1m5 0h4m1 0h2m3 0h2m2 0h2m1 0h3m2 0h2m1 0h3m1 0h2m2 0h1m1 0h1m3 0h1m3 0h1m1 0h1m1 0h12m1 0h7m1 0h6m1 0h1m1 0h9m2 0h2m1 0h2m4 0h1M42 281h1m31 0h51m1 0h1m5 0h2m2 0h2m1 0h5m2 0h2m2 0h2m2 0h1m3 0h1m1 0h2m4 0h2m1 0h3m3 0h1m1 0h3m2 0h1m2 0h6m1 0h9m1 0h1m1 0h8m1 0h8m1 0h2m1 0h6m1 0h2m2 0h1M77 282h1m2 0h45m2 0h1m2 0h2m1 0h1m1 0h1m2 0h5m1 0h4m1 0h2m1 0h4m1 0h7m2 0h2m4 0h1m1 0h1m1 0h2m5 0h1m2 0h1m2 0h2m1 0h17m2 0h13m1 0h2m2 0h2M73 283h1m1 0h1m2 0h2m1 0h3m1 0h32m1 0h7m3 0h4m2 0h1m2 0h2m1 0h6m3 0h3m3 0h1m1 0h3m3 0h1m1 0h2m1 0h1m1 0h1m2 0h1m10 0h1m4 0h1m2 0h1m1 0h5m1 0h9m2 0h10m2 0h1M77 284h1m1 0h3m1 0h6m1 0h32m1 0h2m5 0h1m3 0h1m2 0h1m1 0h4m4 0h1m2 0h2m1 0h1m1 0h1m2 0h2m2 0h2m1 0h1m1 0h3m2 0h2m1 0h1m1 0h1m13 0h1m2 0h2m1 0h3m2 0h8m1 0h1m1 0h1m1 0h3m1 0h3m6 0h1m2 0h1m6 0h1M62 285h1m14 0h2m1 0h2m2 0h35m1 0h1m2 0h1m3 0h2m1 0h1m3 0h1m4 0h2m2 0h2m4 0h1m1 0h1m7 0h2m1 0h4m1 0h3m1 0h1m3 0h4m4 0h1m6 0h1m3 0h1m4 0h1m2 0h2m1 0h2m1 0h1m1 0h8m2 0h2m4 0h1M72 286h1m1 0h3m4 0h10m1 0h4m1 0h7m1 0h10m1 0h1m2 0h2m2 0h1m1 0h1m6 0h3m1 0h3m1 0h1m2 0h8m1 0h4m1 0h1m1 0h3m1 0h4m1 0h2m2 0h2m2 0h1m1 0h2m2 0h1m1 0h1m8 0h1m3 0h1m2 0h1m5 0h1m3 0h1m6 0h1M81 287h2m2 0h5m2 0h19m1 0h3m1 0h3m1 0h1m1 0h1m6 0h6m5 0h1m1 0h1m2 0h3m1 0h1m2 0h5m1 0h5m1 0h1m2 0h3m2 0h1m2 0h1m1 0h2m3 0h1m1 0h1M76 288h1m4 0h1m4 0h2m1 0h2m1 0h1m3 0h6m1 0h8m1 0h1m1 0h2m4 0h1m2 0h1m1 0h1m1 0h2m5 0h1m1 0h1m2 0h1m2 0h3m1 0h2m1 0h2m3 0h5m1 0h2m2 0h4m11 0h1m22 0h1m4 0h2m3 0h1M86 289h1m1 0h1m1 0h2m1 0h4m1 0h2m1 0h1m2 0h1m4 0h1m1 0h1m2 0h3m2 0h1m11 0h1m5 0h4m10 0h2m2 0h1m4 0h2m7 0h1m10 0h1m2 0h1m37 0h1M85 290h4m7 0h1m1 0h1m42 0h1m23 0h1m11 0h1M77 291h1m31 0h1m4 0h1m47 0h1m1 0h1M76 292h1" stroke="#3247a4"/><path d="M96 208h4m4 0h1M92 209h1m1 0h1m4 0h1m1 0h1m1 0h2m1 0h3M89 210h2m2 0h3m1 0h6m1 0h3m2 0h2m2 0h1M89 211h4m1 0h7m1 0h10m3 0h1M87 212h8m1 0h11m1 0h1m1 0h4m2 0h2M86 213h3m2 0h3m1 0h5m1 0h4m1 0h10m2 0h1M83 214h3m1 0h1m1 0h5m1 0h4m1 0h1m1 0h10m1 0h6M81 215h2m1 0h8m2 0h1m1 0h12m1 0h1m1 0h7m1 0h1M80 216h3m2 0h6m1 0h9m1 0h2m1 0h6m1 0h7m1 0h1M79 217h2m1 0h6m2 0h18m1 0h1m1 0h7m1 0h3m1 0h1M78 218h1m1 0h10m1 0h7m1 0h4m2 0h10m1 0h1m3 0h2m1 0h1M77 219h8m1 0h20m1 0h3m3 0h5m2 0h4M76 220h1m1 0h4m1 0h15m2 0h1m1 0h3m1 0h10m1 0h7m2 0h1M75 221h8m1 0h9m1 0h4m1 0h14m1 0h3m1 0h10M75 222h39m1 0h12M74 223h4m1 0h4m1 0h7m1 0h24m1 0h1m2 0h2m1 0h3m1 0h2M73 224h3m1 0h1m1 0h1m1 0h5m1 0h32m1 0h2m1 0h7M73 225h1m2 0h2m1 0h6m1 0h12m1 0h9m1 0h11m1 0h7m1 0h1M73 226h6m1 0h13m2 0h35M73 227h50m1 0h8M71 228h6m1 0h19m1 0h25m1 0h8m60 0h1m1 0h3m1 0h1m4 0h5M70 229h6m1 0h33m1 0h20m1 0h1m56 0h14m1 0h10M70 230h4m1 0h2m1 0h45m1 0h3m1 0h3m1 0h1m52 0h9m1 0h1m1 0h3m1 0h11m1 0h5M70 231h63m50 0h11m1 0h14m1 0h4m1 0h6M69 232h16m1 0h48m47 0h7m1 0h1m2 0h8m2 0h2m1 0h1m1 0h3m1 0h2m2 0h1m1 0h6M68 233h2m1 0h3m1 0h34m1 0h25m43 0h4m2 0h15m1 0h9m1 0h2m1 0h9M68 234h7m1 0h3m1 0h55m41 0h1m1 0h12m1 0h31m1 0h4M68 235h18m1 0h48m41 0h14m1 0h12m1 0h8m1 0h4m1 0h11M69 236h2m2 0h7m1 0h3m1 0h42m1 0h6m41 0h3m1 0h1m1 0h3m1 0h8m1 0h20m1 0h10m1 0h3M67 237h1m1 0h1m1 0h5m1 0h59m38 0h2m1 0h10m1 0h17m1 0h19m1 0h5M67 238h54m1 0h14m36 0h1m2 0h1m1 0h1m1 0h14m1 0h2m1 0h18m1 0h2m1 0h13M67 239h11m1 0h8m1 0h49m34 0h6m1 0h3m1 0h2m1 0h3m1 0h16m1 0h27M68 240h69m33 0h5m1 0h29m1 0h12m1 0h3m1 0h3m1 0h6m1 0h1M66 241h11m1 0h59m32 0h37m1 0h2m1 0h14m1 0h9M66 242h16m1 0h52m1 0h1m31 0h1m1 0h2m2 0h63M67 243h70m31 0h1m1 0h63m1 0h2M66 244h4m1 0h3m1 0h62m30 0h66m1 0h4M66 245h63m1 0h7m30 0h7m1 0h34m1 0h20m1 0h7M65 246h70m1 0h2m29 0h1m1 0h8m1 0h26m1 0h26m1 0h2m1 0h3M65 247h4m1 0h67m29 0h1m1 0h66m1 0h4M65 248h5m1 0h61m1 0h5m28 0h8m1 0h3m1 0h60M65 249h2m1 0h67m1 0h2m28 0h7m1 0h63m1 0h1M65 250h73m28 0h1m1 0h72M66 251h69m1 0h1m28 0h2m1 0h73M65 252h1m1 0h71m28 0h4m1 0h66m1 0h2M68 253h1m1 0h67m28 0h76M65 254h71m1 0h1m26 0h1m1 0h1m1 0h70m1 0h1M66 255h69m1 0h1m28 0h5m2 0h6m1 0h55m1 0h7M65 256h1m1 0h71m26 0h1m1 0h1m1 0h68m1 0h4M66 257h69m1 0h1m29 0h3m1 0h3m1 0h5m1 0h61M66 258h70m29 0h2m1 0h72M66 259h2m1 0h68m28 0h76M66 260h70m31 0h75M66 261h68m1 0h2m30 0h2m1 0h72M66 262h1m1 0h68m31 0h74M66 263h70m30 0h9m1 0h65M67 264h69m31 0h6m1 0h67M67 265h68m33 0h10m1 0h62M68 266h65m1 0h2m32 0h73M67 267h1m1 0h65m35 0h72M68 268h60m1 0h5m35 0h15m1 0h56M68 269h3m1 0h63m36 0h5m1 0h63M69 270h64m38 0h2m1 0h66M70 271h63m41 0h2m1 0h63M70 272h62m41 0h5m1 0h56m1 0h2M70 273h58m1 0h3m42 0h1m1 0h8m1 0h2m1 0h50M71 274h61m43 0h1m1 0h54m1 0h6M72 275h58m47 0h2m1 0h2m1 0h2m1 0h3m1 0h10m1 0h33m1 0h1M72 276h59m48 0h1m2 0h3m1 0h37m1 0h11M74 277h3m1 0h52m49 0h5m2 0h44m1 0h2M74 278h55m52 0h1m1 0h9m1 0h38M75 279h48m1 0h4m56 0h1m1 0h10m2 0h25m1 0h6M75 280h51m60 0h11m1 0h7m1 0h6m1 0h1m1 0h9m2 0h1M76 281h49m64 0h2m1 0h9m1 0h1m1 0h8m1 0h8m1 0h2m1 0h1M77 282h1m2 0h45m68 0h16m2 0h12M79 283h1m1 0h3m1 0h32m1 0h6m71 0h4m1 0h9m2 0h7M80 284h2m1 0h6m1 0h32m81 0h6M84 285h35m1 0h1M84 286h7m1 0h4m1 0h7m1 0h10m1 0h1M88 287h2m2 0h19m1 0h3M100 288h1" stroke="#2450b2"/><path d="M109 219h1M100 220h1m10 0h1M91 221h2m6 0h2m1 0h1m1 0h4M87 222h2m6 0h2m1 0h14M86 223h1m2 0h1m2 0h7m1 0h6m1 0h6M83 224h1m3 0h6m1 0h20m2 0h1M84 225h1m2 0h11m1 0h9m1 0h8M81 226h2m2 0h8m2 0h21m1 0h3m2 0h1M81 227h39M79 228h3m1 0h14m1 0h22m1 0h1M78 229h2m1 0h29m1 0h7m1 0h1m1 0h1m2 0h1M79 230h41m1 0h2m1 0h1M79 231h45M77 232h1m1 0h6m1 0h37m1 0h2M75 233h34m1 0h16M74 234h1m1 0h3m1 0h48M75 235h1m1 0h9m1 0h43m64 0h1m2 0h1m2 0h1m5 0h1M73 236h2m1 0h4m1 0h3m1 0h42m1 0h1m60 0h1m2 0h1m3 0h2m1 0h1m1 0h3m1 0h1m2 0h2M72 237h1m1 0h2m1 0h50m1 0h1m57 0h1m1 0h3m1 0h1m1 0h7m1 0h3m2 0h2m1 0h4m2 0h2m2 0h1M74 238h47m1 0h6m2 0h1m51 0h1m4 0h6m1 0h2m1 0h5m1 0h9m1 0h2m1 0h2M71 239h1m1 0h5m1 0h8m1 0h43m54 0h3m1 0h16m1 0h13m1 0h1M72 240h59m48 0h1m1 0h1m1 0h1m2 0h19m1 0h12m1 0h3m2 0h1M71 241h6m1 0h53m48 0h1m1 0h1m1 0h23m1 0h2m1 0h12m1 0h1M71 242h11m1 0h49m48 0h46M71 243h61m47 0h48M71 244h3m1 0h57m45 0h49m1 0h2M69 245h60m1 0h2m1 0h1m42 0h33m1 0h20m1 0h1M70 246h64m42 0h1m1 0h26m1 0h26M70 247h63m40 0h1m1 0h58M69 248h1m1 0h61m1 0h1m39 0h1m1 0h3m1 0h54M69 249h64m42 0h60M69 250h65m39 0h1m1 0h60M69 251h66m37 0h64M69 252h65m37 0h65M68 253h1m1 0h65m36 0h66M68 254h67m35 0h1m1 0h65M69 255h65m38 0h6m1 0h55m1 0h2M68 256h66m38 0h1m1 0h62m1 0h2M68 257h67m37 0h1m1 0h5m1 0h59M69 258h66m37 0h67M69 259h66m36 0h68M69 260h65m36 0h69M69 261h64m39 0h67M68 262h66m38 0h67M69 263h65m38 0h3m1 0h63M69 264h64m39 0h1m1 0h66M70 265h63m40 0h5m1 0h60M70 266h62m43 0h63M70 267h62m43 0h64M71 268h57m1 0h3m44 0h8m1 0h54M72 269h60m43 0h1m1 0h61M71 270h60m46 0h3m1 0h57M72 271h59m49 0h57M73 272h58m50 0h54M72 273h56m1 0h1m52 0h2m1 0h2m1 0h46M74 274h56m54 0h47m1 0h1M74 275h53m56 0h1m2 0h3m1 0h10m1 0h30M75 276h53m59 0h36m1 0h6M76 277h1m1 0h49m65 0h36M77 278h48m69 0h29m1 0h1M77 279h46m1 0h1m73 0h1m1 0h20M79 280h45m77 0h4m1 0h6m3 0h4M80 281h42m83 0h2M81 282h40M83 283h1m1 0h32m1 0h1m1 0h1M84 284h5m1 0h28M87 285h28m1 0h1M89 286h2m1 0h4m1 0h7m1 0h6m1 0h1M95 287h1m1 0h3m1 0h1m1 0h1" stroke="#1d66c8"/><path d="M100 233h1m4 0h1M96 234h1m1 0h1m1 0h2m2 0h1m1 0h1M90 235h1m3 0h1m1 0h1m1 0h8m1 0h1m1 0h1m1 0h1M89 236h17m2 0h3m3 0h1M87 237h26m2 0h2M84 238h1m1 0h31M83 239h4m1 0h31m1 0h2M81 240h3m1 0h34m1 0h1M79 241h2m1 0h40M80 242h2m1 0h39m1 0h1M79 243h44m79 0h1M76 244h49m75 0h1m2 0h3m3 0h2m1 0h3M76 245h49m67 0h5m2 0h4m1 0h1m3 0h1m1 0h3M75 246h51m63 0h3m1 0h11m2 0h14M75 247h52m58 0h34m2 0h1M74 248h54m58 0h37m2 0h1M73 249h54m56 0h2m1 0h31m1 0h2m1 0h3M72 250h1m1 0h52m2 0h1m52 0h1m1 0h43m1 0h1M74 251h56m49 0h1m2 0h46M72 252h58m50 0h49M72 253h58m49 0h50M72 254h58m49 0h51M71 255h59m49 0h52M72 256h58m47 0h56M71 257h59m48 0h1m1 0h54M71 258h59m49 0h55M71 259h60m49 0h55M71 260h60m46 0h58M71 261h59m48 0h58M71 262h60m47 0h58M71 263h60m47 0h58M71 264h59m49 0h1m1 0h55M72 265h59m49 0h56M72 266h58m51 0h56M73 267h57m51 0h53M73 268h55m57 0h51M73 269h56m55 0h1m1 0h48M73 270h56m55 0h50M74 271h54m59 0h46M74 272h54m60 0h1m2 0h41M75 273h53m61 0h40m1 0h1M76 274h50m66 0h3m1 0h32M76 275h49m71 0h4m1 0h25M77 276h47m72 0h1m5 0h21M78 277h46m79 0h3m2 0h8M80 278h43m81 0h1M79 279h42M82 280h38M82 281h1m1 0h34M85 282h33M86 283h1m1 0h26M90 284h1m1 0h20M94 285h15m1 0h2M100 286h2" stroke="#2190da"/><path d="M101 240h1m4 0h1M95 241h1m3 0h2m1 0h2m1 0h2M95 242h4m2 0h1m1 0h3m1 0h1m3 0h1M87 243h2m1 0h22m3 0h1M84 244h1m2 0h29M86 245h29m1 0h1M83 246h32m2 0h1M84 247h36M81 248h3m1 0h35M80 249h40m84 0h1M78 250h1m1 0h42m79 0h1m4 0h1M78 251h1m1 0h42m1 0h1m77 0h2m2 0h2m1 0h1m1 0h1M76 252h47m69 0h1m3 0h1m1 0h4m1 0h5m1 0h1m1 0h3m1 0h1m1 0h1m1 0h1M76 253h49m63 0h1m1 0h3m1 0h2m1 0h3m1 0h12m1 0h2m1 0h1M76 254h1m1 0h48m61 0h1m2 0h1m1 0h24m1 0h1m1 0h1m1 0h1M75 255h51m62 0h34m1 0h1M76 256h51m60 0h40M75 257h50m60 0h2m1 0h39M74 258h54m59 0h41M75 259h52m59 0h44M74 260h54m58 0h44M74 261h53m60 0h44M74 262h53m59 0h46M74 263h54m58 0h47M74 264h54m59 0h45M74 265h54m59 0h46M74 266h53m60 0h1m1 0h44M74 267h53m61 0h1m2 0h42M75 268h52m62 0h43M76 269h50m67 0h37m1 0h1M76 270h50m69 0h36M76 271h50m71 0h32M77 272h49m72 0h29M77 273h47m76 0h1m3 0h21M79 274h44m84 0h2m2 0h8m1 0h2m1 0h1M79 275h44m89 0h1m4 0h1M80 276h41M81 277h39M82 278h37M84 279h35M85 280h32M86 281h1m1 0h27M88 282h1m1 0h22m1 0h1M92 283h1m2 0h12m1 0h1M98 284h1m1 0h1m1 0h1" stroke="#2cbfcf"/><path d="M95 247h1M99 248h1M92 249h1m1 0h12M90 250h3m1 0h8m1 0h4m1 0h1M85 251h1m3 0h1m1 0h18m2 0h1m2 0h1M84 252h33M84 253h3m1 0h28M81 254h1m2 0h34M81 255h39M80 256h39m87 0h1m4 0h1m1 0h1m1 0h1M80 257h42m76 0h1m2 0h2m2 0h1m1 0h4M79 258h43m75 0h1m1 0h14m1 0h1m3 0h1M79 259h45m71 0h1m2 0h22M78 260h45m69 0h1m3 0h26m1 0h1M77 261h47m70 0h1m1 0h26m2 0h1M76 262h1m1 0h45m71 0h3m1 0h30M77 263h47m72 0h29m1 0h2M76 264h48m69 0h2m2 0h32M77 265h47m69 0h1m3 0h29m2 0h1M77 266h47m72 0h1m1 0h30M76 267h48m75 0h30M76 268h48m72 0h1m1 0h30M77 269h46m77 0h1m1 0h24m2 0h1M78 270h46m79 0h1m1 0h1m1 0h17M78 271h45m83 0h3m1 0h11M78 272h44m87 0h1m5 0h1m1 0h1M79 273h43M80 274h41M81 275h39M82 276h37M84 277h33M85 278h31M87 279h27M88 280h22m1 0h1M93 281h14m2 0h1M96 282h4m1 0h1m1 0h1m2 0h1" stroke="#3fc27e"/><path d="M94 253h1m1 0h1m2 0h2m1 0h2m3 0h1M89 254h2m1 0h12m2 0h3M90 255h20m1 0h1M86 256h2m1 0h23m1 0h1M82 257h1m2 0h30M83 258h33M83 259h35M82 260h37M81 261h39M79 262h40M79 263h42m85 0h1m1 0h2m2 0h2M79 264h42m86 0h1m1 0h4m3 0h2M78 265h43m86 0h14m2 0h1M78 266h44m86 0h10M79 267h43m85 0h2m3 0h8M79 268h43m87 0h5m2 0h4M79 269h43m86 0h1m4 0h1m2 0h1m1 0h1M79 270h42M80 271h41M80 272h40M81 273h38M82 274h36M83 275h34M84 276h32M87 277h26M88 278h25M92 279h17M95 280h7m1 0h2" stroke="#5fc63a"/><path d="M101 257h1M95 258h4m1 0h3m1 0h1m2 0h2m1 0h1M86 259h1m2 0h1m1 0h2m1 0h12m1 0h4m1 0h1M85 260h27M85 261h1m1 0h26M83 262h33M82 263h34M81 264h37M82 265h36M81 266h38M80 267h39M80 268h39M81 269h38M81 270h39M82 271h37M82 272h37M84 273h34M84 274h33M87 275h28M87 276h26M91 277h20M93 278h3m1 0h2m1 0h9" stroke="#b4dc2a"/><path d="M97 260h1M93 261h1m5 0h1m5 0h1M94 262h1m1 0h5m1 0h2m1 0h2M89 263h20m2 0h1M86 264h26m1 0h1M84 265h3m1 0h26M84 266h31m1 0h1M83 267h33M83 268h34M84 269h34M84 270h34M85 271h32M84 272h33M86 273h29M87 274h28M90 275h24M92 276h20M95 277h2m1 0h4m1 0h5" stroke="#f3e41d"/><path d="M96 263h2m4 0h1M94 264h1m1 0h13M90 265h2m1 0h20M90 266h23M87 267h27M87 268h1m1 0h27M87 269h29M89 270h27M89 271h27M89 272h1m1 0h25M89 273h1m1 0h23M88 274h1m1 0h1m3 0h20M94 275h1m1 0h15M96 276h1m1 0h3m1 0h4" stroke="#f8a71b"/><path d="M99 265h1m2 0h6M98 266h13M93 267h19M93 268h2m2 0h17M95 269h21M97 270h17m1 0h1M92 271h1m3 0h18M95 272h19M95 273h1m1 0h16M96 274h1m1 0h12m1 0h1M100 275h1m2 0h2m1 0h3" stroke="#ef521e"/><path d="M105 266h1m1 0h1M103 267h7M99 268h1m2 0h10M101 269h9m1 0h1M98 270h4m1 0h7m1 0h2M99 271h11m1 0h1M99 272h1m1 0h11M101 273h1m1 0h8M101 274h1m3 0h2" stroke="#df1f1b"/></g>
<path d="M548 3586H561M548 3512.5H561M548 3439H561M548 3365.5H561M548 3292H561M548 3218.5H561" stroke="#000" stroke-width="3.5" fill="none"/>
<path d="M556 3567.6H561M556 3549.2H561M556 3530.9H561M556 3494.1H561M556 3475.8H561M556 3457.4H561M556 3420.6H561M556 3402.2H561M556 3383.9H561M556 3347.1H561M556 3328.8H561M556 3310.4H561M556 3273.6H561M556 3255.2H561M556 3236.9H561M556 3200.1H561M556 3181.8H561M556 3163.4H561" stroke="#111" stroke-width="1.35" fill="none"/>
<text x="538" y="3585" font-size="17" text-anchor="end">0</text>
<text x="538" y="3524.5" font-size="17" text-anchor="end">200K</text>
<text x="538" y="3451" font-size="17" text-anchor="end">400K</text>
<text x="538" y="3377.5" font-size="17" text-anchor="end">600K</text>
<text x="538" y="3304" font-size="17" text-anchor="end">800K</text>
<text x="538" y="3230.5" font-size="17" text-anchor="end">1.0M</text>
<text x="486" y="3364" font-size="21" text-anchor="middle" transform="rotate(-90 486 3364)">SSC-A :: SSC-A</text>
<path d="M562.5 3587V3600M671.5 3587V3600M782.5 3587V3600M891.5 3587V3600M1002.5 3587V3600" stroke="#000" stroke-width="3.3" fill="none"/>
<path d="M598.8 3587V3592M635.2 3587V3592M708.5 3587V3592M745.5 3587V3592M818.8 3587V3592M855.2 3587V3592M928.5 3587V3592M965.5 3587V3592" stroke="#111" stroke-width="1.35" fill="none"/>
<text x="565" y="3640" font-size="17" text-anchor="middle">0</text>
<text x="663" y="3640" font-size="17" text-anchor="middle">300K</text>
<text x="774" y="3640" font-size="17" text-anchor="middle">600K</text>
<text x="883" y="3640" font-size="17" text-anchor="middle">900K</text>
<text x="978.5" y="3640" font-size="17" text-anchor="middle">1.2M</text>
<text x="782" y="3678" font-size="21" text-anchor="middle">FSC-A :: FSC-A</text>
<path d="M612 3585.5L638 3459L783 3436.5L858 3585.5Z" fill="none" stroke="#000" stroke-width="2" stroke-linejoin="miter"/>
<path d="M1146.5 3586H1159.5M1146.5 3476H1159.5M1146.5 3366H1159.5M1146.5 3256H1159.5M1146.5 3146H1159.5" stroke="#000" stroke-width="3.5" fill="none"/>
<path d="M1154.5 3549.3H1159.5M1154.5 3512.7H1159.5M1154.5 3439.3H1159.5M1154.5 3402.7H1159.5M1154.5 3329.3H1159.5M1154.5 3292.7H1159.5M1154.5 3219.3H1159.5M1154.5 3182.7H1159.5" stroke="#111" stroke-width="1.35" fill="none"/>
<text x="1136.5" y="3585" font-size="17" text-anchor="end">0</text>
<text x="1136.5" y="3488" font-size="17" text-anchor="end">300K</text>
<text x="1136.5" y="3378" font-size="17" text-anchor="end">600K</text>
<text x="1136.5" y="3268" font-size="17" text-anchor="end">900K</text>
<text x="1136.5" y="3158" font-size="17" text-anchor="end">1.2M</text>
<text x="1086" y="3364" font-size="21" text-anchor="middle" transform="rotate(-90 1086 3364)">FSC-H :: FSC-H</text>
<path d="M1161 3587V3600M1270 3587V3600M1380.5 3587V3600M1490 3587V3600M1600 3587V3600" stroke="#000" stroke-width="3.3" fill="none"/>
<path d="M1197.3 3587V3592M1233.7 3587V3592M1306.8 3587V3592M1343.7 3587V3592M1417 3587V3592M1453.5 3587V3592M1526.7 3587V3592M1563.3 3587V3592" stroke="#111" stroke-width="1.35" fill="none"/>
<text x="1163.5" y="3640" font-size="17" text-anchor="middle">0</text>
<text x="1261.5" y="3640" font-size="17" text-anchor="middle">300K</text>
<text x="1372" y="3640" font-size="17" text-anchor="middle">600K</text>
<text x="1481.5" y="3640" font-size="17" text-anchor="middle">900K</text>
<text x="1580" y="3640" font-size="17" text-anchor="middle">1.2M</text>
<text x="1379.5" y="3678" font-size="21" text-anchor="middle">FSC-A :: FSC-A</text>
<clipPath id="cE2"><rect x="1159.5" y="3145" width="443.5" height="442"/></clipPath>
<path clip-path="url(#cE2)" d="M1150 3568.5L1159.5 3561L1414 3324L1463 3326L1189 3585.5L1150 3579.5Z" fill="none" stroke="#000" stroke-width="2"/>
<path d="M1748.5 3586H1761.5M1748.5 3512.5H1761.5M1748.5 3439H1761.5M1748.5 3365.5H1761.5M1748.5 3292H1761.5M1748.5 3218.5H1761.5" stroke="#000" stroke-width="3.5" fill="none"/>
<path d="M1756.5 3567.6H1761.5M1756.5 3549.2H1761.5M1756.5 3530.9H1761.5M1756.5 3494.1H1761.5M1756.5 3475.8H1761.5M1756.5 3457.4H1761.5M1756.5 3420.6H1761.5M1756.5 3402.2H1761.5M1756.5 3383.9H1761.5M1756.5 3347.1H1761.5M1756.5 3328.8H1761.5M1756.5 3310.4H1761.5M1756.5 3273.6H1761.5M1756.5 3255.2H1761.5M1756.5 3236.9H1761.5M1756.5 3200.1H1761.5M1756.5 3181.8H1761.5M1756.5 3163.4H1761.5" stroke="#111" stroke-width="1.35" fill="none"/>
<text x="1738.5" y="3585" font-size="17" text-anchor="end">0</text>
<text x="1738.5" y="3524.5" font-size="17" text-anchor="end">200K</text>
<text x="1738.5" y="3451" font-size="17" text-anchor="end">400K</text>
<text x="1738.5" y="3377.5" font-size="17" text-anchor="end">600K</text>
<text x="1738.5" y="3304" font-size="17" text-anchor="end">800K</text>
<text x="1738.5" y="3230.5" font-size="17" text-anchor="end">1.0M</text>
<text x="1687" y="3362" font-size="21" text-anchor="middle" transform="rotate(-90 1687 3362)">SSC-A :: SSC-A</text>
<path d="M1804 3587V3600M1906.5 3587V3600M2017.5 3587V3600M2108.5 3587V3600M2195 3587V3600" stroke="#000" stroke-width="3.3" fill="none"/>
<path d="M1771 3587V3592M1787 3587V3592M1796 3587V3592M1815 3587V3592M1822 3587V3592M1828 3587V3592M1833 3587V3592M1838 3587V3592M1842 3587V3592M1866 3587V3592M1870 3587V3592M1875 3587V3592M1881 3587V3592M1888 3587V3592M1897 3587V3592M1939.9 3587V3592M1959.5 3587V3592M1973.3 3587V3592M1984.1 3587V3592M1992.9 3587V3592M2000.3 3587V3592M2006.7 3587V3592M2012.4 3587V3592M2044.9 3587V3592M2060.9 3587V3592M2072.3 3587V3592M2081.1 3587V3592M2088.3 3587V3592M2094.4 3587V3592M2099.7 3587V3592M2104.3 3587V3592M2134.5 3587V3592M2149.8 3587V3592M2160.6 3587V3592M2169 3587V3592M2175.8 3587V3592M2181.6 3587V3592M2186.6 3587V3592M2191 3587V3592M2201 3587V3592" stroke="#111" stroke-width="1.35" fill="none"/>
<rect x="1849" y="3587" width="11" height="13" fill="#000"/>
<path d="" stroke="#000" stroke-width="3.3" fill="none"/>
<text x="1856" y="3640.5" font-size="17" text-anchor="middle">0</text>
<text x="2017.5" y="3640.5" font-size="17" text-anchor="middle">10</text>
<text x="2028" y="3626.9" font-size="17">4</text>
<text x="2108.5" y="3640.5" font-size="17" text-anchor="middle">10</text>
<text x="2119" y="3626.9" font-size="17">5</text>
<text x="2182.5" y="3640.5" font-size="17" text-anchor="middle">10</text>
<text x="2193" y="3626.9" font-size="17">6</text>
<text x="1980" y="3678" font-size="21" text-anchor="middle">Comp-FL5-A :: CD45 V525-A</text>
<rect x="1908.5" y="3425.5" width="264" height="158.7" fill="none" stroke="#000" stroke-width="2"/>
<text x="2200.5" y="3177.5" font-size="33.2" text-anchor="end" fill="#000">CD45+</text>
<path d="M1748.5 4176.5H1761.5M1748.5 4103H1761.5M1748.5 4029.5H1761.5M1748.5 3956H1761.5M1748.5 3882.5H1761.5M1748.5 3809H1761.5" stroke="#000" stroke-width="3.5" fill="none"/>
<path d="M1756.5 4158.1H1761.5M1756.5 4139.8H1761.5M1756.5 4121.4H1761.5M1756.5 4084.6H1761.5M1756.5 4066.2H1761.5M1756.5 4047.9H1761.5M1756.5 4011.1H1761.5M1756.5 3992.8H1761.5M1756.5 3974.4H1761.5M1756.5 3937.6H1761.5M1756.5 3919.2H1761.5M1756.5 3900.9H1761.5M1756.5 3864.1H1761.5M1756.5 3845.8H1761.5M1756.5 3827.4H1761.5M1756.5 3790.6H1761.5M1756.5 3772.2H1761.5M1756.5 3753.9H1761.5" stroke="#111" stroke-width="1.35" fill="none"/>
<text x="1738.5" y="4175.5" font-size="17" text-anchor="end">0</text>
<text x="1738.5" y="4115" font-size="17" text-anchor="end">200K</text>
<text x="1738.5" y="4041.5" font-size="17" text-anchor="end">400K</text>
<text x="1738.5" y="3968" font-size="17" text-anchor="end">600K</text>
<text x="1738.5" y="3894.5" font-size="17" text-anchor="end">800K</text>
<text x="1738.5" y="3821" font-size="17" text-anchor="end">1.0M</text>
<text x="1687" y="3953" font-size="21" text-anchor="middle" transform="rotate(-90 1687 3953)">SSC-A :: SSC-A</text>
<path d="M1795 4177.5V4190.5M1918.5 4177.5V4190.5M2035 4177.5V4190.5M2146 4177.5V4190.5" stroke="#000" stroke-width="3.3" fill="none"/>
<path d="M1765 4177.5V4182.5M1771 4177.5V4182.5M1777 4177.5V4182.5M1785 4177.5V4182.5M1826 4177.5V4182.5M1840 4177.5V4182.5M1850 4177.5V4182.5M1858 4177.5V4182.5M1876 4177.5V4182.5M1880 4177.5V4182.5M1884 4177.5V4182.5M1888 4177.5V4182.5M1903 4177.5V4182.5M1907 4177.5V4182.5M1911 4177.5V4182.5M1914 4177.5V4182.5M1974.1 4177.5V4182.5M1999.9 4177.5V4182.5M2017 4177.5V4182.5M2029.7 4177.5V4182.5M2068.4 4177.5V4182.5M2088 4177.5V4182.5M2101.8 4177.5V4182.5M2112.6 4177.5V4182.5M2121.4 4177.5V4182.5M2128.8 4177.5V4182.5M2135.2 4177.5V4182.5M2140.9 4177.5V4182.5M2180 4177.5V4182.5M2192 4177.5V4182.5" stroke="#111" stroke-width="1.35" fill="none"/>
<path d="M1870 4177.5v13M1889 4177.5v13M1895 4177.5v13M1900 4177.5v11" stroke="#000" stroke-width="3" fill="none"/>
<text x="1895" y="4231" font-size="17" text-anchor="middle">0</text>
<text x="2035" y="4231" font-size="17" text-anchor="middle">10</text>
<text x="2045.5" y="4217.4" font-size="17">4</text>
<text x="2146" y="4231" font-size="17" text-anchor="middle">10</text>
<text x="2156.5" y="4217.4" font-size="17">5</text>
<text x="1982" y="4268" font-size="21" text-anchor="middle">Comp-FL18-A :: CD3e R712-A</text>
<rect x="1969" y="4022" width="201.5" height="146" fill="none" stroke="#000" stroke-width="2"/>
<text x="2198" y="3772.5" font-size="33.2" text-anchor="end" fill="#000">CD3+</text>
<path d="M1142.5 4176.5H1155.5M1142.5 4103H1155.5M1142.5 4029.5H1155.5M1142.5 3956H1155.5M1142.5 3882.5H1155.5M1142.5 3809H1155.5" stroke="#000" stroke-width="3.5" fill="none"/>
<path d="M1150.5 4158.1H1155.5M1150.5 4139.8H1155.5M1150.5 4121.4H1155.5M1150.5 4084.6H1155.5M1150.5 4066.2H1155.5M1150.5 4047.9H1155.5M1150.5 4011.1H1155.5M1150.5 3992.8H1155.5M1150.5 3974.4H1155.5M1150.5 3937.6H1155.5M1150.5 3919.2H1155.5M1150.5 3900.9H1155.5M1150.5 3864.1H1155.5M1150.5 3845.8H1155.5M1150.5 3827.4H1155.5M1150.5 3790.6H1155.5M1150.5 3772.2H1155.5M1150.5 3753.9H1155.5" stroke="#111" stroke-width="1.35" fill="none"/>
<text x="1132.5" y="4175.5" font-size="17" text-anchor="end">0</text>
<text x="1132.5" y="4115" font-size="17" text-anchor="end">200K</text>
<text x="1132.5" y="4041.5" font-size="17" text-anchor="end">400K</text>
<text x="1132.5" y="3968" font-size="17" text-anchor="end">600K</text>
<text x="1132.5" y="3894.5" font-size="17" text-anchor="end">800K</text>
<text x="1132.5" y="3821" font-size="17" text-anchor="end">1.0M</text>
<text x="1081.5" y="3953" font-size="21" text-anchor="middle" transform="rotate(-90 1081.5 3953)">SSC-A :: SSC-A</text>
<path d="M1176 4177.5V4190.5M1306.5 4177.5V4190.5M1414 4177.5V4190.5M1504 4177.5V4190.5M1590 4177.5V4190.5" stroke="#000" stroke-width="3.3" fill="none"/>
<path d="M1183 4177.5V4182.5M1190 4177.5V4182.5M1196 4177.5V4182.5M1201 4177.5V4182.5M1206 4177.5V4182.5M1211 4177.5V4182.5M1221 4177.5V4182.5M1227 4177.5V4182.5M1232 4177.5V4182.5M1253 4177.5V4182.5M1258 4177.5V4182.5M1264 4177.5V4182.5M1271 4177.5V4182.5M1279 4177.5V4182.5M1290 4177.5V4182.5M1338.9 4177.5V4182.5M1357.8 4177.5V4182.5M1371.2 4177.5V4182.5M1381.6 4177.5V4182.5M1390.2 4177.5V4182.5M1397.3 4177.5V4182.5M1403.6 4177.5V4182.5M1409.1 4177.5V4182.5M1441.1 4177.5V4182.5M1456.9 4177.5V4182.5M1468.2 4177.5V4182.5M1476.9 4177.5V4182.5M1484 4177.5V4182.5M1490.1 4177.5V4182.5M1495.3 4177.5V4182.5M1499.9 4177.5V4182.5M1529.9 4177.5V4182.5M1545 4177.5V4182.5M1555.8 4177.5V4182.5M1564.1 4177.5V4182.5M1570.9 4177.5V4182.5M1576.7 4177.5V4182.5M1581.7 4177.5V4182.5M1586.1 4177.5V4182.5M1596 4177.5V4182.5" stroke="#111" stroke-width="1.35" fill="none"/>
<rect x="1233" y="4177.5" width="15" height="12" fill="#000"/>
<text x="1242.5" y="4231" font-size="17" text-anchor="middle">0</text>
<text x="1414" y="4231" font-size="17" text-anchor="middle">10</text>
<text x="1424.5" y="4217.4" font-size="17">4</text>
<text x="1504" y="4231" font-size="17" text-anchor="middle">10</text>
<text x="1514.5" y="4217.4" font-size="17">5</text>
<text x="1576.5" y="4231" font-size="17" text-anchor="middle">10</text>
<text x="1587" y="4217.4" font-size="17">6</text>
<text x="1375" y="4268" font-size="21" text-anchor="middle">Comp-FL19-A :: CD4 R763-A</text>
<rect x="1310" y="4011.5" width="189" height="161.5" fill="none" stroke="#000" stroke-width="2"/>
<text x="1590.5" y="3772.5" font-size="33.2" text-anchor="end" fill="#000">CD4+</text>
<path d="M580 4177.5V4190.5M708.5 4177.5V4190.5M808.5 4177.5V4190.5M899 4177.5V4190.5M985 4177.5V4190.5" stroke="#000" stroke-width="3.3" fill="none"/>
<path d="M553 4177.5V4182.5M558 4177.5V4182.5M563 4177.5V4182.5M568 4177.5V4182.5M573 4177.5V4182.5M592 4177.5V4182.5M600 4177.5V4182.5M607 4177.5V4182.5M640 4177.5V4182.5M647 4177.5V4182.5M655 4177.5V4182.5M664 4177.5V4182.5M675 4177.5V4182.5M688 4177.5V4182.5M738.6 4177.5V4182.5M756.2 4177.5V4182.5M768.7 4177.5V4182.5M778.4 4177.5V4182.5M786.3 4177.5V4182.5M793 4177.5V4182.5M798.8 4177.5V4182.5M803.9 4177.5V4182.5M835.7 4177.5V4182.5M851.7 4177.5V4182.5M863 4177.5V4182.5M871.8 4177.5V4182.5M878.9 4177.5V4182.5M885 4177.5V4182.5M890.2 4177.5V4182.5M894.9 4177.5V4182.5M924.9 4177.5V4182.5M940 4177.5V4182.5M950.8 4177.5V4182.5M959.1 4177.5V4182.5M965.9 4177.5V4182.5M971.7 4177.5V4182.5M976.7 4177.5V4182.5M981.1 4177.5V4182.5M990 4177.5V4182.5" stroke="#111" stroke-width="1.35" fill="none"/>
<rect x="616.5" y="4177.5" width="23" height="12" fill="#000"/>
<text x="628.5" y="4231" font-size="17" text-anchor="middle">0</text>
<text x="708.5" y="4231" font-size="17" text-anchor="middle">10</text>
<text x="719" y="4217.4" font-size="17">3</text>
<text x="808.5" y="4231" font-size="17" text-anchor="middle">10</text>
<text x="819" y="4217.4" font-size="17">4</text>
<text x="899" y="4231" font-size="17" text-anchor="middle">10</text>
<text x="909.5" y="4217.4" font-size="17">5</text>
<text x="971.5" y="4231" font-size="17" text-anchor="middle">10</text>
<text x="982" y="4217.4" font-size="17">6</text>
<text x="770" y="4267" font-size="21" text-anchor="middle">Comp-FL17-A :: CD25 R660-A</text>
<path d="M537.5 3741H550.5M537.5 3828.5H550.5M537.5 3918.5H550.5M537.5 4019H550.5M537.5 4147.5H550.5" stroke="#000" stroke-width="3.5" fill="none"/>
<path d="M545.5 3988.7H550.5M545.5 3971H550.5M545.5 3958.5H550.5M545.5 3948.8H550.5M545.5 3940.8H550.5M545.5 3934.1H550.5M545.5 3928.2H550.5M545.5 3923.1H550.5M545.5 3891.4H550.5M545.5 3875.6H550.5M545.5 3864.3H550.5M545.5 3855.6H550.5M545.5 3848.5H550.5M545.5 3842.4H550.5M545.5 3837.2H550.5M545.5 3832.6H550.5M545.5 3802.2H550.5M545.5 3786.8H550.5M545.5 3775.8H550.5M545.5 3767.3H550.5M545.5 3760.4H550.5M545.5 3754.6H550.5M545.5 3749.5H550.5M545.5 3745H550.5M545.5 4032H550.5M545.5 4042H550.5M545.5 4050H550.5M545.5 4058H550.5M545.5 4066H550.5M545.5 4074H550.5M545.5 4125H550.5M545.5 4133H550.5M545.5 4140H550.5M545.5 4158H550.5M545.5 4165H550.5M545.5 4171H550.5" stroke="#111" stroke-width="1.35" fill="none"/>
<rect x="538.5" y="4088" width="12" height="22" fill="#000"/>
<text x="527.5" y="4106" font-size="17" text-anchor="end">0</text>
<text x="507.5" y="3766" font-size="17" text-anchor="middle">10</text>
<text x="518" y="3752.4" font-size="17">6</text>
<text x="507.5" y="3839.5" font-size="17" text-anchor="middle">10</text>
<text x="518" y="3825.9" font-size="17">5</text>
<text x="507.5" y="3929.5" font-size="17" text-anchor="middle">10</text>
<text x="518" y="3915.9" font-size="17">4</text>
<text x="507.5" y="4030" font-size="17" text-anchor="middle">10</text>
<text x="518" y="4016.4" font-size="17">3</text>
<text x="488" y="3953" font-size="21" text-anchor="middle" transform="rotate(-90 488 3953)">Comp-FL16-A :: Foxp3 Y763-A</text>
<path d="M711.5 3735V4177.5M550.5 3996H993.5" stroke="#000" stroke-width="2.2" fill="none"/>
<text x="558.5" y="3773" font-size="19.5" fill="#000">Q1</text>
<text x="558.5" y="3805" font-size="19.5" fill="#000">7.02</text>
<text x="955" y="3773" font-size="19.5" text-anchor="end" fill="#000">Q2</text>
<text x="955" y="3805" font-size="19.5" text-anchor="end" fill="#000">2.10</text>
<text x="558.5" y="4121.5" font-size="19.5" fill="#000">Q4</text>
<text x="558.5" y="4153" font-size="19.5" fill="#000">87.0</text>
<text x="955" y="4121.5" font-size="19.5" text-anchor="end" fill="#000">Q3</text>
<text x="955" y="4153" font-size="19.5" text-anchor="end" fill="#000">3.92</text>
<text x="843.5" y="3772.5" font-size="33" fill="#000">Treg</text>
<path d="M874 3442.2L1042.5 3442.2L1042.5 3439.2L1104 3443.5L1042.5 3447.8L1042.5 3444.8L874 3444.8Z" fill="#c8171e"/>
<path d="M1449 3422.7L1616 3422.7L1616 3419.8L1680 3424L1616 3428.2L1616 3425.3L1449 3425.3Z" fill="#c8171e"/>
<path d="M2062.7 3606.5L2062.7 3776L2059.8 3776L2064 3837.5L2068.2 3776L2065.3 3776L2065.3 3606.5Z" fill="#c8171e"/>
<path d="M1786.5 4099.2L1617.5 4099.2L1617.5 4096.2L1556 4100.5L1617.5 4104.8L1617.5 4101.8L1786.5 4101.8Z" fill="#c8171e"/>
<path d="M1185.5 3884L1016 3884L1016 3881.1L955 3885.3L1016 3889.6L1016 3886.6L1185.5 3886.6Z" fill="#c8171e"/>
<rect x="435.1" y="1606.2" width="88.8" height="43.4" fill="#0c71b6" stroke="#000" stroke-width="3.4"/>
<rect x="546.5" y="1523.3" width="89.2" height="126.3" fill="#e08a27" stroke="#000" stroke-width="3.4"/>
<rect x="658.5" y="1409" width="89.4" height="240.6" fill="#be3b2a" stroke="#000" stroke-width="3.4"/>
<path d="M411.6 1176V1649.6H770.7" fill="none" stroke="#000" stroke-width="1.6"/>
<text x="403.6" y="1657.9" font-size="23.5" text-anchor="end" fill="#4d4d4d">0</text>
<text x="403.6" y="1559.5" font-size="23.5" text-anchor="end" fill="#4d4d4d">5</text>
<text x="403.6" y="1461.1" font-size="23.5" text-anchor="end" fill="#4d4d4d">10</text>
<text x="403.6" y="1362.7" font-size="23.5" text-anchor="end" fill="#4d4d4d">15</text>
<text x="403.6" y="1264.3" font-size="23.5" text-anchor="end" fill="#4d4d4d">20</text>
<path d="M467.7 1599.4h23M467.7 1612.6h23M479.2 1599.4V1612.6" stroke="#000" stroke-width="2.6" fill="none"/>
<path d="M579.7 1515.6h23M579.7 1530.3h23M591.2 1515.6V1530.3" stroke="#000" stroke-width="2.6" fill="none"/>
<path d="M691.8 1388.2h23M691.8 1429.9h23M703.3 1388.2V1429.9" stroke="#000" stroke-width="2.6" fill="none"/>
<circle cx="463.5" cy="1595.7" r="5.8" fill="#000" fill-opacity=".66"/>
<circle cx="495.8" cy="1603" r="5.8" fill="#000" fill-opacity=".66"/>
<circle cx="487.5" cy="1618.7" r="5.8" fill="#000" fill-opacity=".66"/>
<circle cx="601.3" cy="1508.2" r="5.8" fill="#000" fill-opacity=".66"/>
<circle cx="605.6" cy="1523.2" r="5.8" fill="#000" fill-opacity=".66"/>
<circle cx="590.3" cy="1542" r="5.8" fill="#000" fill-opacity=".66"/>
<circle cx="591.5" cy="1520" r="5.8" fill="#000" fill-opacity=".66"/>
<circle cx="692.5" cy="1367.6" r="5.8" fill="#000" fill-opacity=".66"/>
<circle cx="688.5" cy="1379" r="5.8" fill="#000" fill-opacity=".66"/>
<circle cx="704.5" cy="1440.4" r="5.8" fill="#000" fill-opacity=".66"/>
<circle cx="701.7" cy="1449.9" r="5.8" fill="#000" fill-opacity=".66"/>
<path d="M591 1257.4V1254.9H703.5V1257.4" stroke="#000" stroke-width="1.5" fill="none"/>
<text x="647.2" y="1247.4" font-size="24.5" text-anchor="middle" fill="#000">***</text>
<path d="M478.8 1297.8V1295.3H703.5V1297.8" stroke="#000" stroke-width="1.5" fill="none"/>
<text x="591.1" y="1287.8" font-size="24.5" text-anchor="middle" fill="#000">***</text>
<path d="M478.8 1337.7V1335.2H591V1337.7" stroke="#000" stroke-width="1.5" fill="none"/>
<text x="534.9" y="1327.7" font-size="24.5" text-anchor="middle" fill="#000">**</text>
<text x="479.2" y="1673.6" font-size="23.5" text-anchor="middle" fill="#4d4d4d">wt</text>
<text x="591.2" y="1682.1" font-size="24" text-anchor="middle" fill="#4d4d4d" font-style="italic">B3gnt2<tspan dy="-9.5" font-size="19">+/&#8722;</tspan></text>
<text x="703.3" y="1682.1" font-size="24" text-anchor="middle" fill="#4d4d4d" font-style="italic">B3gnt2<tspan dy="-9.5" font-size="19">&#8722;/&#8722;</tspan></text>
<text x="366" y="1408.8" font-size="30.8" text-anchor="middle" fill="#000" transform="rotate(-90 366 1408.8)">Cell ratio (Th17 in PBMC)</text>
<rect x="1213.7" y="1504.9" width="88.6" height="144.7" fill="#0c71b6" stroke="#000" stroke-width="3.4"/>
<rect x="1325.7" y="1439.7" width="88.4" height="209.9" fill="#e08a27" stroke="#000" stroke-width="3.4"/>
<rect x="1438" y="1381.5" width="88" height="268.1" fill="#be3b2a" stroke="#000" stroke-width="3.4"/>
<path d="M1190.6 1176V1649.6H1549.7" fill="none" stroke="#000" stroke-width="1.6"/>
<text x="1182.6" y="1657.9" font-size="23.5" text-anchor="end" fill="#4d4d4d">0</text>
<text x="1182.6" y="1500.5" font-size="23.5" text-anchor="end" fill="#4d4d4d">10</text>
<text x="1182.6" y="1343" font-size="23.5" text-anchor="end" fill="#4d4d4d">20</text>
<text x="1182.6" y="1185.5" font-size="23.5" text-anchor="end" fill="#4d4d4d">30</text>
<path d="M1246.5 1486.4h23M1246.5 1521.6h23M1258 1486.4V1521.6" stroke="#000" stroke-width="2.6" fill="none"/>
<path d="M1358.4 1428.2h23M1358.4 1449.2h23M1369.9 1428.2V1449.2" stroke="#000" stroke-width="2.6" fill="none"/>
<path d="M1470.5 1363.6h23M1470.5 1397.2h23M1482 1363.6V1397.2" stroke="#000" stroke-width="2.6" fill="none"/>
<circle cx="1245.7" cy="1472.8" r="5.8" fill="#000" fill-opacity=".66"/>
<circle cx="1268.8" cy="1505.3" r="5.8" fill="#000" fill-opacity=".66"/>
<circle cx="1245.2" cy="1534.2" r="5.8" fill="#000" fill-opacity=".66"/>
<circle cx="1367.5" cy="1414" r="5.8" fill="#000" fill-opacity=".66"/>
<circle cx="1360.2" cy="1428.7" r="5.8" fill="#000" fill-opacity=".66"/>
<circle cx="1364.9" cy="1449.2" r="5.8" fill="#000" fill-opacity=".66"/>
<circle cx="1368.6" cy="1461.2" r="5.8" fill="#000" fill-opacity=".66"/>
<circle cx="1496.2" cy="1344.7" r="5.8" fill="#000" fill-opacity=".66"/>
<circle cx="1469.9" cy="1369.9" r="5.8" fill="#000" fill-opacity=".66"/>
<circle cx="1485.7" cy="1380.9" r="5.8" fill="#000" fill-opacity=".66"/>
<circle cx="1477.8" cy="1425.5" r="5.8" fill="#000" fill-opacity=".66"/>
<path d="M1369.6 1234.8V1232.3H1482V1234.8" stroke="#000" stroke-width="1.5" fill="none"/>
<text x="1425.8" y="1224.8" font-size="24.5" text-anchor="middle" fill="#000">*</text>
<path d="M1257.3 1278.9V1276.4H1482V1278.9" stroke="#000" stroke-width="1.5" fill="none"/>
<text x="1369.7" y="1268.9" font-size="24.5" text-anchor="middle" fill="#000">***</text>
<path d="M1257.3 1322.5V1320H1369.6V1322.5" stroke="#000" stroke-width="1.5" fill="none"/>
<text x="1313.4" y="1312.5" font-size="24.5" text-anchor="middle" fill="#000">*</text>
<text x="1258" y="1673.6" font-size="23.5" text-anchor="middle" fill="#4d4d4d">wt</text>
<text x="1369.9" y="1682.1" font-size="24" text-anchor="middle" fill="#4d4d4d" font-style="italic">B3gnt2<tspan dy="-9.5" font-size="19">+/&#8722;</tspan></text>
<text x="1482" y="1682.1" font-size="24" text-anchor="middle" fill="#4d4d4d" font-style="italic">B3gnt2<tspan dy="-9.5" font-size="19">&#8722;/&#8722;</tspan></text>
<text x="1144.5" y="1408.8" font-size="30.8" text-anchor="middle" fill="#000" transform="rotate(-90 1144.5 1408.8)">Cell ratio (Th1 in PBMC)</text>
<rect x="1979.3" y="1548" width="91.7" height="89.6" fill="#0c71b6" stroke="#000" stroke-width="3.4"/>
<rect x="2095.9" y="1500.7" width="91.6" height="136.9" fill="#e08a27" stroke="#000" stroke-width="3.4"/>
<rect x="2211.9" y="1448.2" width="92.2" height="189.4" fill="#be3b2a" stroke="#000" stroke-width="3.4"/>
<path d="M1955.6 1175V1637.6H2327.8" fill="none" stroke="#000" stroke-width="1.6"/>
<text x="1947.6" y="1645.9" font-size="23.5" text-anchor="end" fill="#4d4d4d">0</text>
<text x="1947.6" y="1543" font-size="23.5" text-anchor="end" fill="#4d4d4d">1</text>
<text x="1947.6" y="1440.1" font-size="23.5" text-anchor="end" fill="#4d4d4d">2</text>
<text x="1947.6" y="1337.2" font-size="23.5" text-anchor="end" fill="#4d4d4d">3</text>
<text x="1947.6" y="1234.3" font-size="23.5" text-anchor="end" fill="#4d4d4d">4</text>
<path d="M2013.7 1541.6h23M2013.7 1551.5h23M2025.2 1541.6V1551.5" stroke="#000" stroke-width="2.6" fill="none"/>
<path d="M2130.2 1485.9h23M2130.2 1512.7h23M2141.7 1485.9V1512.7" stroke="#000" stroke-width="2.6" fill="none"/>
<path d="M2246.5 1439.2h23M2246.5 1454.9h23M2258 1439.2V1454.9" stroke="#000" stroke-width="2.6" fill="none"/>
<circle cx="2023.8" cy="1538.4" r="5.8" fill="#000" fill-opacity=".66"/>
<circle cx="2033.8" cy="1554.7" r="5.8" fill="#000" fill-opacity=".66"/>
<circle cx="2137.8" cy="1478" r="5.8" fill="#000" fill-opacity=".66"/>
<circle cx="2147.2" cy="1477" r="5.8" fill="#000" fill-opacity=".66"/>
<circle cx="2145.7" cy="1505.3" r="5.8" fill="#000" fill-opacity=".66"/>
<circle cx="2145.7" cy="1534.7" r="5.8" fill="#000" fill-opacity=".66"/>
<circle cx="2250.7" cy="1435" r="5.8" fill="#000" fill-opacity=".66"/>
<circle cx="2270.6" cy="1436.6" r="5.8" fill="#000" fill-opacity=".66"/>
<circle cx="2265.4" cy="1446.5" r="5.8" fill="#000" fill-opacity=".66"/>
<circle cx="2261.2" cy="1470.2" r="5.8" fill="#000" fill-opacity=".66"/>
<path d="M2141.5 1247.4V1244.9H2258V1247.4" stroke="#000" stroke-width="1.5" fill="none"/>
<text x="2199.8" y="1237.4" font-size="24.5" text-anchor="middle" fill="#000">**</text>
<path d="M2025.4 1288.4V1285.9H2258V1288.4" stroke="#000" stroke-width="1.5" fill="none"/>
<text x="2141.7" y="1278.4" font-size="24.5" text-anchor="middle" fill="#000">***</text>
<path d="M2025.4 1328.8V1326.3H2141.5V1328.8" stroke="#000" stroke-width="1.5" fill="none"/>
<text x="2083.4" y="1318.8" font-size="24.5" text-anchor="middle" fill="#000">*</text>
<text x="2025.2" y="1661.6" font-size="23.5" text-anchor="middle" fill="#4d4d4d">wt</text>
<text x="2141.7" y="1670.1" font-size="24" text-anchor="middle" fill="#4d4d4d" font-style="italic">B3gnt2<tspan dy="-9.5" font-size="19">+/&#8722;</tspan></text>
<text x="2258" y="1670.1" font-size="24" text-anchor="middle" fill="#4d4d4d" font-style="italic">B3gnt2<tspan dy="-9.5" font-size="19">&#8722;/&#8722;</tspan></text>
<text x="1924" y="1403.8" font-size="30.8" text-anchor="middle" fill="#000" transform="rotate(-90 1924 1403.8)">Cell ratio (Th2 in PBMC)</text>
<rect x="435.1" y="2237.8" width="88.8" height="88.6" fill="#0c71b6" stroke="#000" stroke-width="3.4"/>
<rect x="546.5" y="2166.9" width="89.2" height="159.5" fill="#e08a27" stroke="#000" stroke-width="3.4"/>
<rect x="658.5" y="2073" width="89.4" height="253.4" fill="#be3b2a" stroke="#000" stroke-width="3.4"/>
<path d="M411.6 1852.8V2326.4H770.7" fill="none" stroke="#000" stroke-width="1.6"/>
<text x="403.6" y="2334.7" font-size="23.5" text-anchor="end" fill="#4d4d4d">0</text>
<text x="403.6" y="2216.6" font-size="23.5" text-anchor="end" fill="#4d4d4d">5</text>
<text x="403.6" y="2098.5" font-size="23.5" text-anchor="end" fill="#4d4d4d">10</text>
<text x="403.6" y="1980.3" font-size="23.5" text-anchor="end" fill="#4d4d4d">15</text>
<text x="403.6" y="1862.2" font-size="23.5" text-anchor="end" fill="#4d4d4d">20</text>
<path d="M467.7 2233h23M467.7 2239.8h23M479.2 2233V2239.8" stroke="#000" stroke-width="2.6" fill="none"/>
<path d="M579.7 2161h23M579.7 2170.5h23M591.2 2161V2170.5" stroke="#000" stroke-width="2.6" fill="none"/>
<path d="M691.8 2065h23M691.8 2078.1h23M703.3 2065V2078.1" stroke="#000" stroke-width="2.6" fill="none"/>
<circle cx="465.1" cy="2230.3" r="5.8" fill="#000" fill-opacity=".66"/>
<circle cx="492.5" cy="2230.9" r="5.8" fill="#000" fill-opacity=".66"/>
<circle cx="488.8" cy="2238.7" r="5.8" fill="#000" fill-opacity=".66"/>
<circle cx="470.9" cy="2246.1" r="5.8" fill="#000" fill-opacity=".66"/>
<circle cx="595.9" cy="2155.3" r="5.8" fill="#000" fill-opacity=".66"/>
<circle cx="605.9" cy="2161" r="5.8" fill="#000" fill-opacity=".66"/>
<circle cx="601.7" cy="2170.5" r="5.8" fill="#000" fill-opacity=".66"/>
<circle cx="605.3" cy="2176.3" r="5.8" fill="#000" fill-opacity=".66"/>
<circle cx="718.7" cy="2051.8" r="5.8" fill="#000" fill-opacity=".66"/>
<circle cx="690.9" cy="2076" r="5.8" fill="#000" fill-opacity=".66"/>
<circle cx="706.7" cy="2077" r="5.8" fill="#000" fill-opacity=".66"/>
<circle cx="704" cy="2082.3" r="5.8" fill="#000" fill-opacity=".66"/>
<path d="M591 1943V1940.5H703.5V1943" stroke="#000" stroke-width="1.5" fill="none"/>
<text x="647.2" y="1933" font-size="24.5" text-anchor="middle" fill="#000">***</text>
<path d="M478.8 1982.4V1979.9H703.5V1982.4" stroke="#000" stroke-width="1.5" fill="none"/>
<text x="591.1" y="1972.4" font-size="24.5" text-anchor="middle" fill="#000">***</text>
<path d="M478.8 2021.8V2019.3H591V2021.8" stroke="#000" stroke-width="1.5" fill="none"/>
<text x="534.9" y="2011.8" font-size="24.5" text-anchor="middle" fill="#000">***</text>
<text x="479.2" y="2350.4" font-size="23.5" text-anchor="middle" fill="#4d4d4d">wt</text>
<text x="591.2" y="2358.9" font-size="24" text-anchor="middle" fill="#4d4d4d" font-style="italic">B3gnt2<tspan dy="-9.5" font-size="19">+/&#8722;</tspan></text>
<text x="703.3" y="2358.9" font-size="24" text-anchor="middle" fill="#4d4d4d" font-style="italic">B3gnt2<tspan dy="-9.5" font-size="19">&#8722;/&#8722;</tspan></text>
<text x="366" y="2087.1" font-size="30.8" text-anchor="middle" fill="#000" transform="rotate(-90 366 2087.1)">Cell ratio (Th17 in Spleen)</text>
<rect x="1213.7" y="2200.5" width="88.6" height="125.9" fill="#0c71b6" stroke="#000" stroke-width="3.4"/>
<rect x="1325.7" y="2100.8" width="88.4" height="225.6" fill="#e08a27" stroke="#000" stroke-width="3.4"/>
<rect x="1438" y="2044.1" width="88" height="282.3" fill="#be3b2a" stroke="#000" stroke-width="3.4"/>
<path d="M1190.6 1852.8V2326.4H1549.7" fill="none" stroke="#000" stroke-width="1.6"/>
<text x="1182.6" y="2334.7" font-size="23.5" text-anchor="end" fill="#4d4d4d">0</text>
<text x="1182.6" y="2240.2" font-size="23.5" text-anchor="end" fill="#4d4d4d">5</text>
<text x="1182.6" y="2145.7" font-size="23.5" text-anchor="end" fill="#4d4d4d">10</text>
<text x="1182.6" y="2051.2" font-size="23.5" text-anchor="end" fill="#4d4d4d">15</text>
<text x="1182.6" y="1956.7" font-size="23.5" text-anchor="end" fill="#4d4d4d">20</text>
<text x="1182.6" y="1862.2" font-size="23.5" text-anchor="end" fill="#4d4d4d">25</text>
<path d="M1246.5 2177.3h23M1246.5 2221.4h23M1258 2177.3V2221.4" stroke="#000" stroke-width="2.6" fill="none"/>
<path d="M1358.4 2097.5h23M1358.4 2100h23M1369.9 2097.5V2100" stroke="#000" stroke-width="2.6" fill="none"/>
<path d="M1470.5 2032.9h23M1470.5 2052.4h23M1482 2032.9V2052.4" stroke="#000" stroke-width="2.6" fill="none"/>
<circle cx="1264.6" cy="2135.3" r="5.8" fill="#000" fill-opacity=".66"/>
<circle cx="1254.6" cy="2213.5" r="5.8" fill="#000" fill-opacity=".66"/>
<circle cx="1273" cy="2212" r="5.8" fill="#000" fill-opacity=".66"/>
<circle cx="1251" cy="2237.2" r="5.8" fill="#000" fill-opacity=".66"/>
<circle cx="1364.4" cy="2095.9" r="5.8" fill="#000" fill-opacity=".66"/>
<circle cx="1369.1" cy="2098" r="5.8" fill="#000" fill-opacity=".66"/>
<circle cx="1375.4" cy="2100.7" r="5.8" fill="#000" fill-opacity=".66"/>
<circle cx="1362.3" cy="2104.9" r="5.8" fill="#000" fill-opacity=".66"/>
<circle cx="1487.8" cy="2013.5" r="5.8" fill="#000" fill-opacity=".66"/>
<circle cx="1476.7" cy="2053.4" r="5.8" fill="#000" fill-opacity=".66"/>
<circle cx="1488.3" cy="2046.6" r="5.8" fill="#000" fill-opacity=".66"/>
<circle cx="1487.2" cy="2060.2" r="5.8" fill="#000" fill-opacity=".66"/>
<path d="M1369.6 1897.3V1894.8H1482V1897.3" stroke="#000" stroke-width="1.5" fill="none"/>
<text x="1425.8" y="1887.3" font-size="24.5" text-anchor="middle" fill="#000">*</text>
<path d="M1257.3 1942.5V1940H1482V1942.5" stroke="#000" stroke-width="1.5" fill="none"/>
<text x="1369.7" y="1932.5" font-size="24.5" text-anchor="middle" fill="#000">***</text>
<path d="M1257.3 1987.1V1984.6H1369.6V1987.1" stroke="#000" stroke-width="1.5" fill="none"/>
<text x="1313.4" y="1977.1" font-size="24.5" text-anchor="middle" fill="#000">***</text>
<text x="1258" y="2350.4" font-size="23.5" text-anchor="middle" fill="#4d4d4d">wt</text>
<text x="1369.9" y="2358.9" font-size="24" text-anchor="middle" fill="#4d4d4d" font-style="italic">B3gnt2<tspan dy="-9.5" font-size="19">+/&#8722;</tspan></text>
<text x="1482" y="2358.9" font-size="24" text-anchor="middle" fill="#4d4d4d" font-style="italic">B3gnt2<tspan dy="-9.5" font-size="19">&#8722;/&#8722;</tspan></text>
<text x="1144.5" y="2087.1" font-size="30.8" text-anchor="middle" fill="#000" transform="rotate(-90 1144.5 2087.1)">Cell ratio (Th1 in Spleen)</text>
<rect x="1998.7" y="2283" width="87" height="43.4" fill="#0c71b6" stroke="#000" stroke-width="3.4"/>
<rect x="2109" y="2250.4" width="85.9" height="76" fill="#e08a27" stroke="#000" stroke-width="3.4"/>
<rect x="2218.7" y="2217.9" width="86.4" height="108.5" fill="#be3b2a" stroke="#000" stroke-width="3.4"/>
<path d="M1976.1 1852.8V2326.4H2327.8" fill="none" stroke="#000" stroke-width="1.6"/>
<text x="1968.1" y="2334.7" font-size="23.5" text-anchor="end" fill="#4d4d4d">0.0</text>
<text x="1968.1" y="2240.2" font-size="23.5" text-anchor="end" fill="#4d4d4d">0.5</text>
<text x="1968.1" y="2145.7" font-size="23.5" text-anchor="end" fill="#4d4d4d">1.0</text>
<text x="1968.1" y="2051.2" font-size="23.5" text-anchor="end" fill="#4d4d4d">1.5</text>
<text x="1968.1" y="1956.7" font-size="23.5" text-anchor="end" fill="#4d4d4d">2.0</text>
<text x="1968.1" y="1862.2" font-size="23.5" text-anchor="end" fill="#4d4d4d">2.5</text>
<path d="M2030.7 2268.1h23M2030.7 2294.9h23M2042.2 2268.1V2294.9" stroke="#000" stroke-width="2.6" fill="none"/>
<path d="M2140.5 2244.5h23M2140.5 2253.4h23M2152 2244.5V2253.4" stroke="#000" stroke-width="2.6" fill="none"/>
<path d="M2250.5 2212.5h23M2250.5 2220.4h23M2262 2212.5V2220.4" stroke="#000" stroke-width="2.6" fill="none"/>
<circle cx="2056.9" cy="2241.4" r="5.8" fill="#000" fill-opacity=".66"/>
<circle cx="2051.1" cy="2288.1" r="5.8" fill="#000" fill-opacity=".66"/>
<circle cx="2034.3" cy="2296" r="5.8" fill="#000" fill-opacity=".66"/>
<circle cx="2047.5" cy="2299.1" r="5.8" fill="#000" fill-opacity=".66"/>
<circle cx="2139.9" cy="2241.4" r="5.8" fill="#000" fill-opacity=".66"/>
<circle cx="2155.6" cy="2241.4" r="5.8" fill="#000" fill-opacity=".66"/>
<circle cx="2164" cy="2254.5" r="5.8" fill="#000" fill-opacity=".66"/>
<circle cx="2147.2" cy="2259.7" r="5.8" fill="#000" fill-opacity=".66"/>
<circle cx="2248" cy="2205.1" r="5.8" fill="#000" fill-opacity=".66"/>
<circle cx="2259.6" cy="2215.1" r="5.8" fill="#000" fill-opacity=".66"/>
<circle cx="2266.4" cy="2220.4" r="5.8" fill="#000" fill-opacity=".66"/>
<circle cx="2274.3" cy="2224" r="5.8" fill="#000" fill-opacity=".66"/>
<path d="M2152 1933V1930.5H2262.2V1933" stroke="#000" stroke-width="1.5" fill="none"/>
<text x="2207.1" y="1923" font-size="24.5" text-anchor="middle" fill="#000">*</text>
<path d="M2042.2 1973.5V1971H2262.2V1973.5" stroke="#000" stroke-width="1.5" fill="none"/>
<text x="2152.2" y="1963.5" font-size="24.5" text-anchor="middle" fill="#000">***</text>
<path d="M2042.2 2013.9V2011.4H2152V2013.9" stroke="#000" stroke-width="1.5" fill="none"/>
<text x="2097.1" y="2003.9" font-size="24.5" text-anchor="middle" fill="#000">*</text>
<text x="2042.2" y="2350.4" font-size="23.5" text-anchor="middle" fill="#4d4d4d">wt</text>
<text x="2152" y="2358.9" font-size="24" text-anchor="middle" fill="#4d4d4d" font-style="italic">B3gnt2<tspan dy="-9.5" font-size="19">+/&#8722;</tspan></text>
<text x="2262" y="2358.9" font-size="24" text-anchor="middle" fill="#4d4d4d" font-style="italic">B3gnt2<tspan dy="-9.5" font-size="19">&#8722;/&#8722;</tspan></text>
<text x="1924" y="2087.1" font-size="30.8" text-anchor="middle" fill="#000" transform="rotate(-90 1924 2087.1)">Cell ratio (Th2 in Spleen)</text>
<rect x="435.1" y="2844.9" width="88.8" height="127.4" fill="#0c71b6" stroke="#000" stroke-width="3.4"/>
<rect x="546.5" y="2775.1" width="89.2" height="197.2" fill="#e08a27" stroke="#000" stroke-width="3.4"/>
<rect x="658.5" y="2697.3" width="89.4" height="275" fill="#be3b2a" stroke="#000" stroke-width="3.4"/>
<path d="M411.6 2499.8V2972.3H770.7" fill="none" stroke="#000" stroke-width="1.6"/>
<text x="403.6" y="2980.6" font-size="23.5" text-anchor="end" fill="#4d4d4d">0</text>
<text x="403.6" y="2869.3" font-size="23.5" text-anchor="end" fill="#4d4d4d">4</text>
<text x="403.6" y="2758" font-size="23.5" text-anchor="end" fill="#4d4d4d">8</text>
<text x="403.6" y="2646.7" font-size="23.5" text-anchor="end" fill="#4d4d4d">12</text>
<text x="403.6" y="2535.4" font-size="23.5" text-anchor="end" fill="#4d4d4d">16</text>
<path d="M467.7 2835.3h23M467.7 2853.2h23M479.2 2835.3V2853.2" stroke="#000" stroke-width="2.6" fill="none"/>
<path d="M579.7 2770.7h23M579.7 2777h23M591.2 2770.7V2777" stroke="#000" stroke-width="2.6" fill="none"/>
<path d="M691.8 2675.2h23M691.8 2717.7h23M703.3 2675.2V2717.7" stroke="#000" stroke-width="2.6" fill="none"/>
<circle cx="475.1" cy="2825.9" r="5.8" fill="#000" fill-opacity=".66"/>
<circle cx="474.6" cy="2852.6" r="5.8" fill="#000" fill-opacity=".66"/>
<circle cx="485.6" cy="2852.6" r="5.8" fill="#000" fill-opacity=".66"/>
<circle cx="590.1" cy="2768.6" r="5.8" fill="#000" fill-opacity=".66"/>
<circle cx="587" cy="2775.5" r="5.8" fill="#000" fill-opacity=".66"/>
<circle cx="593.8" cy="2777" r="5.8" fill="#000" fill-opacity=".66"/>
<circle cx="699.8" cy="2663.6" r="5.8" fill="#000" fill-opacity=".66"/>
<circle cx="717.7" cy="2688.8" r="5.8" fill="#000" fill-opacity=".66"/>
<circle cx="689.9" cy="2736.6" r="5.8" fill="#000" fill-opacity=".66"/>
<path d="M591 2540.6V2538.1H703.5V2540.6" stroke="#000" stroke-width="1.5" fill="none"/>
<text x="647.2" y="2530.6" font-size="24.5" text-anchor="middle" fill="#000">**</text>
<path d="M478.8 2584.7V2582.2H703.5V2584.7" stroke="#000" stroke-width="1.5" fill="none"/>
<text x="591.1" y="2574.7" font-size="24.5" text-anchor="middle" fill="#000">***</text>
<path d="M478.8 2628.8V2626.3H591V2628.8" stroke="#000" stroke-width="1.5" fill="none"/>
<text x="534.9" y="2618.8" font-size="24.5" text-anchor="middle" fill="#000">*</text>
<text x="479.2" y="2996.3" font-size="23.5" text-anchor="middle" fill="#4d4d4d">wt</text>
<text x="591.2" y="3004.8" font-size="24" text-anchor="middle" fill="#4d4d4d" font-style="italic">B3gnt2<tspan dy="-9.5" font-size="19">+/&#8722;</tspan></text>
<text x="703.3" y="3004.8" font-size="24" text-anchor="middle" fill="#4d4d4d" font-style="italic">B3gnt2<tspan dy="-9.5" font-size="19">&#8722;/&#8722;</tspan></text>
<text x="366" y="2733.6" font-size="30.8" text-anchor="middle" fill="#000" transform="rotate(-90 366 2733.6)">Cell ratio (Th17 in Intestine)</text>
<rect x="1221.2" y="2886.9" width="85.3" height="85.4" fill="#0c71b6" stroke="#000" stroke-width="3.4"/>
<rect x="1330.9" y="2784.5" width="85.3" height="187.8" fill="#e08a27" stroke="#000" stroke-width="3.4"/>
<rect x="1440.6" y="2755.6" width="85.4" height="216.7" fill="#be3b2a" stroke="#000" stroke-width="3.4"/>
<path d="M1197.4 2499.8V2972.3H1549.7" fill="none" stroke="#000" stroke-width="1.6"/>
<text x="1189.4" y="2980.6" font-size="23.5" text-anchor="end" fill="#4d4d4d">0.0</text>
<text x="1189.4" y="2849.3" font-size="23.5" text-anchor="end" fill="#4d4d4d">2.5</text>
<text x="1189.4" y="2718.1" font-size="23.5" text-anchor="end" fill="#4d4d4d">5.0</text>
<text x="1189.4" y="2586.9" font-size="23.5" text-anchor="end" fill="#4d4d4d">7.5</text>
<path d="M1252.3 2875.7h23M1252.3 2895.7h23M1263.8 2875.7V2895.7" stroke="#000" stroke-width="2.6" fill="none"/>
<path d="M1362.1 2773.9h23M1362.1 2793.3h23M1373.6 2773.9V2793.3" stroke="#000" stroke-width="2.6" fill="none"/>
<path d="M1471.8 2728.7h23M1471.8 2778.6h23M1483.3 2728.7V2778.6" stroke="#000" stroke-width="2.6" fill="none"/>
<circle cx="1251" cy="2870.5" r="5.8" fill="#000" fill-opacity=".66"/>
<circle cx="1268.8" cy="2882" r="5.8" fill="#000" fill-opacity=".66"/>
<circle cx="1255.7" cy="2904.1" r="5.8" fill="#000" fill-opacity=".66"/>
<circle cx="1388.5" cy="2765" r="5.8" fill="#000" fill-opacity=".66"/>
<circle cx="1378" cy="2789.1" r="5.8" fill="#000" fill-opacity=".66"/>
<circle cx="1378" cy="2797" r="5.8" fill="#000" fill-opacity=".66"/>
<circle cx="1485.1" cy="2711.9" r="5.8" fill="#000" fill-opacity=".66"/>
<circle cx="1492" cy="2750.3" r="5.8" fill="#000" fill-opacity=".66"/>
<circle cx="1473.1" cy="2798.6" r="5.8" fill="#000" fill-opacity=".66"/>
<path d="M1373.3 2549V2546.5H1483V2549" stroke="#000" stroke-width="1.5" fill="none"/>
<text x="1428.2" y="2540.5" font-size="24.5" text-anchor="middle" fill="#000">ns</text>
<path d="M1263 2601V2598.5H1483V2601" stroke="#000" stroke-width="1.5" fill="none"/>
<text x="1373" y="2591" font-size="24.5" text-anchor="middle" fill="#000">**</text>
<path d="M1263 2653V2650.5H1373.3V2653" stroke="#000" stroke-width="1.5" fill="none"/>
<text x="1318.2" y="2643" font-size="24.5" text-anchor="middle" fill="#000">**</text>
<text x="1263.8" y="2996.3" font-size="23.5" text-anchor="middle" fill="#4d4d4d">wt</text>
<text x="1373.6" y="3004.8" font-size="24" text-anchor="middle" fill="#4d4d4d" font-style="italic">B3gnt2<tspan dy="-9.5" font-size="19">+/&#8722;</tspan></text>
<text x="1483.3" y="3004.8" font-size="24" text-anchor="middle" fill="#4d4d4d" font-style="italic">B3gnt2<tspan dy="-9.5" font-size="19">&#8722;/&#8722;</tspan></text>
<text x="1144.5" y="2733.6" font-size="30.8" text-anchor="middle" fill="#000" transform="rotate(-90 1144.5 2733.6)">Cell ratio (Th1 in Intestine)</text>
<rect x="1979.3" y="2939.9" width="91.7" height="32.4" fill="#0c71b6" stroke="#000" stroke-width="3.4"/>
<rect x="2095.9" y="2853.3" width="91.6" height="119" fill="#e08a27" stroke="#000" stroke-width="3.4"/>
<rect x="2211.9" y="2753.5" width="92.2" height="218.8" fill="#be3b2a" stroke="#000" stroke-width="3.4"/>
<path d="M1955.6 2499.8V2972.3H2327.8" fill="none" stroke="#000" stroke-width="1.6"/>
<text x="1947.6" y="2980.6" font-size="23.5" text-anchor="end" fill="#4d4d4d">0</text>
<text x="1947.6" y="2835.2" font-size="23.5" text-anchor="end" fill="#4d4d4d">2</text>
<text x="1947.6" y="2689.8" font-size="23.5" text-anchor="end" fill="#4d4d4d">4</text>
<text x="1947.6" y="2544.3" font-size="23.5" text-anchor="end" fill="#4d4d4d">6</text>
<path d="M2013.7 2936.1h23M2013.7 2941.4h23M2025.2 2936.1V2941.4" stroke="#000" stroke-width="2.6" fill="none"/>
<path d="M2130.2 2849.5h23M2130.2 2854.7h23M2141.7 2849.5V2854.7" stroke="#000" stroke-width="2.6" fill="none"/>
<path d="M2246.5 2726.6h23M2246.5 2777h23M2258 2726.6V2777" stroke="#000" stroke-width="2.6" fill="none"/>
<circle cx="2035.4" cy="2933.5" r="5.8" fill="#000" fill-opacity=".66"/>
<circle cx="2017" cy="2938.7" r="5.8" fill="#000" fill-opacity=".66"/>
<circle cx="2018.6" cy="2943.5" r="5.8" fill="#000" fill-opacity=".66"/>
<circle cx="2147.2" cy="2847.9" r="5.8" fill="#000" fill-opacity=".66"/>
<circle cx="2153.5" cy="2853.2" r="5.8" fill="#000" fill-opacity=".66"/>
<circle cx="2138.8" cy="2855.8" r="5.8" fill="#000" fill-opacity=".66"/>
<circle cx="2270.6" cy="2726.6" r="5.8" fill="#000" fill-opacity=".66"/>
<circle cx="2269" cy="2727.5" r="5.8" fill="#000" fill-opacity=".66"/>
<circle cx="2257.5" cy="2802.2" r="5.8" fill="#000" fill-opacity=".66"/>
<path d="M2141.5 2547.5V2545H2258V2547.5" stroke="#000" stroke-width="1.5" fill="none"/>
<text x="2199.8" y="2537.5" font-size="24.5" text-anchor="middle" fill="#000">**</text>
<path d="M2025.4 2596.3V2593.8H2258V2596.3" stroke="#000" stroke-width="1.5" fill="none"/>
<text x="2141.7" y="2586.3" font-size="24.5" text-anchor="middle" fill="#000">***</text>
<path d="M2025.4 2646.2V2643.7H2141.5V2646.2" stroke="#000" stroke-width="1.5" fill="none"/>
<text x="2083.4" y="2636.2" font-size="24.5" text-anchor="middle" fill="#000">**</text>
<text x="2025.2" y="2996.3" font-size="23.5" text-anchor="middle" fill="#4d4d4d">wt</text>
<text x="2141.7" y="3004.8" font-size="24" text-anchor="middle" fill="#4d4d4d" font-style="italic">B3gnt2<tspan dy="-9.5" font-size="19">+/&#8722;</tspan></text>
<text x="2258" y="3004.8" font-size="24" text-anchor="middle" fill="#4d4d4d" font-style="italic">B3gnt2<tspan dy="-9.5" font-size="19">&#8722;/&#8722;</tspan></text>
<text x="1924" y="2733.6" font-size="30.8" text-anchor="middle" fill="#000" transform="rotate(-90 1924 2733.6)">Cell ratio (Th2 in Intestine)</text>
<rect x="588.4" y="4697.5" width="91" height="199" fill="#0c71b6" stroke="#000" stroke-width="3.4"/>
<rect x="704.3" y="4745.6" width="91" height="150.9" fill="#e08a27" stroke="#000" stroke-width="3.4"/>
<rect x="820.7" y="4801" width="91.6" height="95.5" fill="#be3b2a" stroke="#000" stroke-width="3.4"/>
<path d="M564.6 4423.3V4896.5H936.1" fill="none" stroke="#000" stroke-width="1.6"/>
<text x="556.6" y="4904.8" font-size="23.5" text-anchor="end" fill="#4d4d4d">0</text>
<text x="556.6" y="4770.3" font-size="23.5" text-anchor="end" fill="#4d4d4d">1</text>
<text x="556.6" y="4635.7" font-size="23.5" text-anchor="end" fill="#4d4d4d">2</text>
<text x="556.6" y="4501.1" font-size="23.5" text-anchor="end" fill="#4d4d4d">3</text>
<path d="M622.4 4687.9h23M622.4 4704.8h23M633.9 4687.9V4704.8" stroke="#000" stroke-width="2.6" fill="none"/>
<path d="M738.3 4738.8h23M738.3 4750.1h23M749.8 4738.8V4750.1" stroke="#000" stroke-width="2.6" fill="none"/>
<path d="M855.1 4795.3h23M855.1 4803.2h23M866.6 4795.3V4803.2" stroke="#000" stroke-width="2.6" fill="none"/>
<circle cx="644.3" cy="4680.5" r="5.8" fill="#000" fill-opacity=".66"/>
<circle cx="638.1" cy="4696.9" r="5.8" fill="#000" fill-opacity=".66"/>
<circle cx="635.9" cy="4709.9" r="5.8" fill="#000" fill-opacity=".66"/>
<circle cx="746.7" cy="4733.7" r="5.8" fill="#000" fill-opacity=".66"/>
<circle cx="749.5" cy="4746.7" r="5.8" fill="#000" fill-opacity=".66"/>
<circle cx="739.3" cy="4750.6" r="5.8" fill="#000" fill-opacity=".66"/>
<circle cx="859.8" cy="4791.3" r="5.8" fill="#000" fill-opacity=".66"/>
<circle cx="863.7" cy="4801.5" r="5.8" fill="#000" fill-opacity=".66"/>
<circle cx="875.6" cy="4804.9" r="5.8" fill="#000" fill-opacity=".66"/>
<path d="M749.5 4455.2V4452.7H866.5V4455.2" stroke="#000" stroke-width="1.5" fill="none"/>
<text x="808" y="4445.2" font-size="24.5" text-anchor="middle" fill="#000">***</text>
<path d="M633 4498.1V4495.6H866.5V4498.1" stroke="#000" stroke-width="1.5" fill="none"/>
<text x="749.8" y="4488.1" font-size="24.5" text-anchor="middle" fill="#000">***</text>
<path d="M633 4541.7V4539.2H749.5V4541.7" stroke="#000" stroke-width="1.5" fill="none"/>
<text x="691.2" y="4531.7" font-size="24.5" text-anchor="middle" fill="#000">**</text>
<text x="633.9" y="4920.5" font-size="23.5" text-anchor="middle" fill="#4d4d4d">wt</text>
<text x="749.8" y="4929" font-size="24" text-anchor="middle" fill="#4d4d4d" font-style="italic">B3gnt2<tspan dy="-9.5" font-size="19">+/&#8722;</tspan></text>
<text x="866.6" y="4929" font-size="24" text-anchor="middle" fill="#4d4d4d" font-style="italic">B3gnt2<tspan dy="-9.5" font-size="19">&#8722;/&#8722;</tspan></text>
<text x="530" y="4657.4" font-size="30.8" text-anchor="middle" fill="#000" transform="rotate(-90 530 4657.4)">Cell ratio (Treg in PBMC)</text>
<rect x="1895.7" y="4864.9" width="86.5" height="31.6" fill="#0c71b6" stroke="#000" stroke-width="3.4"/>
<rect x="2005.4" y="4827.5" width="86.5" height="69" fill="#e08a27" stroke="#000" stroke-width="3.4"/>
<rect x="2115.7" y="4764.8" width="86.5" height="131.7" fill="#be3b2a" stroke="#000" stroke-width="3.4"/>
<path d="M1873.1 4423.3V4896.5H2224.8" fill="none" stroke="#000" stroke-width="1.6"/>
<text x="1865.1" y="4904.8" font-size="23.5" text-anchor="end" fill="#4d4d4d">0.0</text>
<text x="1865.1" y="4810.4" font-size="23.5" text-anchor="end" fill="#4d4d4d">0.5</text>
<text x="1865.1" y="4716" font-size="23.5" text-anchor="end" fill="#4d4d4d">1.0</text>
<text x="1865.1" y="4621" font-size="23.5" text-anchor="end" fill="#4d4d4d">1.5</text>
<text x="1865.1" y="4526.6" font-size="23.5" text-anchor="end" fill="#4d4d4d">2.0</text>
<text x="1865.1" y="4432.1" font-size="23.5" text-anchor="end" fill="#4d4d4d">2.5</text>
<path d="M1927.5 4862h23M1927.5 4864h23M1939 4862V4864" stroke="#000" stroke-width="2.6" fill="none"/>
<path d="M2037.2 4818.5h23M2037.2 4833.8h23M2048.7 4818.5V4833.8" stroke="#000" stroke-width="2.6" fill="none"/>
<path d="M2147.4 4762h23M2147.4 4764.8h23M2158.9 4762V4764.8" stroke="#000" stroke-width="2.6" fill="none"/>
<circle cx="1926.8" cy="4862" r="5.8" fill="#000" fill-opacity=".66"/>
<circle cx="1943.2" cy="4862" r="5.8" fill="#000" fill-opacity=".66"/>
<circle cx="1950.6" cy="4865.4" r="5.8" fill="#000" fill-opacity=".66"/>
<circle cx="2032" cy="4811.7" r="5.8" fill="#000" fill-opacity=".66"/>
<circle cx="2048.4" cy="4828.7" r="5.8" fill="#000" fill-opacity=".66"/>
<circle cx="2041" cy="4838.8" r="5.8" fill="#000" fill-opacity=".66"/>
<circle cx="2142.8" cy="4760.2" r="5.8" fill="#000" fill-opacity=".66"/>
<circle cx="2149.6" cy="4764.8" r="5.8" fill="#000" fill-opacity=".66"/>
<circle cx="2172.2" cy="4765.9" r="5.8" fill="#000" fill-opacity=".66"/>
<path d="M2048.4 4478.3V4475.8H2158.6V4478.3" stroke="#000" stroke-width="1.5" fill="none"/>
<text x="2103.5" y="4468.3" font-size="24.5" text-anchor="middle" fill="#000">***</text>
<path d="M1938.1 4523.6V4521.1H2158.6V4523.6" stroke="#000" stroke-width="1.5" fill="none"/>
<text x="2048.3" y="4513.6" font-size="24.5" text-anchor="middle" fill="#000">***</text>
<path d="M1938.1 4568.8V4566.3H2048.4V4568.8" stroke="#000" stroke-width="1.5" fill="none"/>
<text x="1993.2" y="4558.8" font-size="24.5" text-anchor="middle" fill="#000">**</text>
<text x="1939" y="4920.5" font-size="23.5" text-anchor="middle" fill="#4d4d4d">wt</text>
<text x="2048.7" y="4929" font-size="24" text-anchor="middle" fill="#4d4d4d" font-style="italic">B3gnt2<tspan dy="-9.5" font-size="19">+/&#8722;</tspan></text>
<text x="2158.9" y="4929" font-size="24" text-anchor="middle" fill="#4d4d4d" font-style="italic">B3gnt2<tspan dy="-9.5" font-size="19">&#8722;/&#8722;</tspan></text>
<text x="1819" y="4657.4" font-size="30.8" text-anchor="middle" fill="#000" transform="rotate(-90 1819 4657.4)">Cell ratio (Th17/Treg in PBMC)</text>
<text x="236" y="100.5" font-size="56" fill="#000" font-weight="bold">A</text>
<text x="237" y="1184" font-size="56" fill="#000" font-weight="bold">B</text>
<text x="235" y="1780.5" font-size="56" fill="#000" font-weight="bold">C</text>
<text x="237" y="2499" font-size="56" fill="#000" font-weight="bold">D</text>
<text x="335" y="3137.5" font-size="56" fill="#000" font-weight="bold">E</text>
<text x="335" y="4372.5" font-size="56" fill="#000" font-weight="bold">F</text>
<text x="1644" y="4373" font-size="56" fill="#000" font-weight="bold">G</text>
</svg>
</body></html>
